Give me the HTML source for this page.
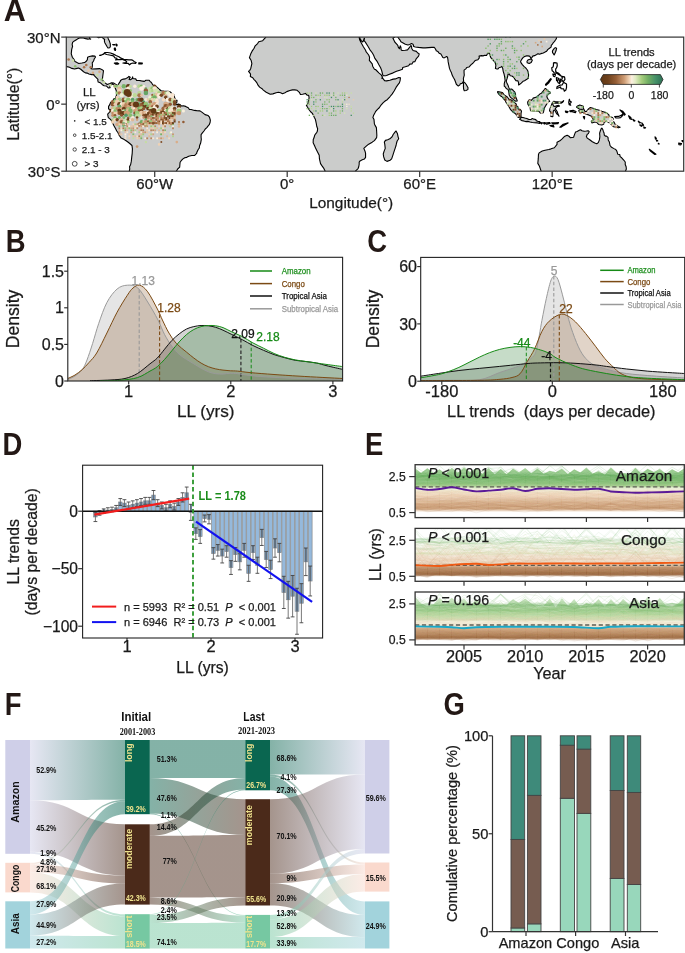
<!DOCTYPE html>
<html><head><meta charset="utf-8"><title>Figure</title>
<style>html,body{margin:0;padding:0;background:#fff;width:685px;height:953px;overflow:hidden}svg{display:block;will-change:transform}text{font-family:"Liberation Sans",sans-serif}</style>
</head><body>
<svg width="685" height="953" viewBox="0 0 685 953" font-family='"Liberation Sans", sans-serif'>
<rect width="685" height="953" fill="#fff"/>
<text transform="translate(3.67,21.00) scale(1.0,1)" x="0" y="0" font-size="30.5" font-weight="bold" fill="#231815">A</text>
<defs><clipPath id="mapclip"><rect x="66.3" y="37.1" width="617.4" height="134.1"/></clipPath></defs>
<g clip-path="url(#mapclip)">
<rect x="66.30" y="37.10" width="617.40" height="134.10" fill="#fff" stroke="none" stroke-width="1" />
<path d="M33.28,14.75 L107.47,14.75 L107.47,34.87 L107.69,37.10 L108.35,38.89 L109.24,40.68 L110.34,44.03 L110.34,46.49 L109.68,47.83 L108.13,48.05 L106.81,46.26 L106.14,44.92 L104.82,42.69 L104.38,41.12 L104.60,39.34 L103.49,38.66 L101.95,37.10 L100.84,37.10 L98.64,37.77 L96.21,36.21 L92.90,35.76 L90.03,36.43 L89.36,37.10 L89.80,38.66 L90.69,39.11 L89.36,38.66 L88.04,39.11 L85.61,38.66 L83.40,37.99 L80.09,37.77 L77.88,38.66 L76.78,39.56 L74.35,40.90 L72.58,42.46 L72.14,44.70 L72.58,46.26 L71.70,49.39 L71.26,53.86 L72.36,57.22 L74.13,59.67 L75.01,61.46 L77.00,62.58 L78.76,63.47 L81.86,63.03 L84.51,62.58 L86.27,61.24 L87.38,59.67 L87.60,57.22 L89.36,56.54 L92.45,55.87 L94.88,56.10 L95.55,56.99 L94.22,59.00 L93.56,61.01 L92.23,62.80 L92.45,65.04 L92.23,67.27 L90.91,68.61 L92.68,69.06 L96.21,68.84 L99.52,68.61 L101.73,69.51 L103.49,70.62 L103.05,73.98 L102.61,77.33 L102.39,79.57 L103.05,80.91 L105.04,82.92 L107.25,84.48 L109.90,83.59 L111.66,82.69 L113.87,83.14 L116.30,84.71 L117.63,85.60 L117.40,86.49 L118.95,83.36 L120.28,81.35 L120.50,80.46 L122.04,79.57 L123.37,79.12 L125.35,78.89 L127.78,77.55 L128.89,76.44 L130.21,77.33 L129.77,77.78 L129.11,79.57 L130.43,79.79 L132.20,78.45 L132.64,76.88 L132.86,78.45 L135.73,78.89 L136.61,80.46 L139.26,80.46 L141.47,80.91 L144.34,81.35 L145.89,80.24 L149.20,80.24 L150.30,81.80 L151.19,82.25 L152.95,84.93 L155.16,85.60 L157.81,87.83 L158.92,88.95 L161.12,90.74 L163.77,90.96 L167.97,91.19 L170.18,91.86 L172.38,93.87 L173.93,94.76 L174.59,97.45 L175.70,99.90 L177.02,100.35 L176.80,102.36 L175.48,103.70 L176.14,104.60 L179.01,104.15 L180.33,104.82 L181.22,105.94 L183.42,105.71 L185.63,106.39 L188.28,107.73 L189.39,109.51 L191.15,109.51 L194.46,110.41 L196.67,110.63 L199.98,110.86 L202.19,112.42 L205.06,114.65 L208.15,115.55 L209.48,117.11 L210.36,120.24 L210.14,122.25 L209.26,124.71 L208.15,125.83 L206.83,127.62 L205.28,128.96 L203.96,130.97 L202.19,133.21 L201.09,134.55 L201.09,137.23 L201.31,139.46 L200.65,143.04 L199.54,145.72 L199.32,147.96 L198.22,149.52 L196.89,152.20 L196.67,153.32 L194.46,155.56 L191.81,155.56 L188.72,156.23 L186.74,157.34 L184.75,157.79 L182.98,158.91 L181.22,160.70 L180.11,162.26 L179.89,164.50 L179.67,167.18 L177.68,168.97 L176.36,171.20 L175.03,173.44 L174.59,193.55 L128.22,193.55 L128.89,173.44 L129.33,171.20 L129.77,168.97 L129.55,166.73 L130.65,164.50 L131.32,161.14 L131.76,156.90 L132.20,153.32 L132.42,148.85 L131.98,145.50 L129.77,143.49 L127.56,141.70 L124.25,139.46 L121.16,138.12 L118.95,134.99 L118.07,132.76 L116.74,130.97 L115.64,128.74 L114.09,126.05 L112.55,122.70 L110.78,119.57 L108.35,117.56 L107.91,115.77 L107.69,114.21 L109.90,111.75 L110.56,109.74 L108.57,109.07 L108.57,106.39 L109.68,104.82 L110.34,103.03 L111.22,101.92 L112.99,100.80 L113.65,99.01 L115.42,98.12 L116.30,95.66 L116.52,94.09 L116.30,90.74 L115.20,88.06 L114.53,85.38 L112.33,84.04 L111.00,84.93 L109.68,85.82 L110.12,87.61 L108.57,88.06 L106.59,86.05 L104.16,85.82 L102.39,84.71 L100.18,82.69 L98.20,82.02 L97.75,80.24 L97.97,79.34 L96.21,77.55 L94.00,75.32 L93.78,74.42 L91.79,74.65 L88.92,73.98 L87.16,73.08 L85.39,72.86 L83.62,71.74 L80.75,69.28 L78.54,67.94 L77.00,68.39 L74.57,69.06 L71.92,68.39 L69.49,67.27 L67.06,66.60 L64.19,65.48 L55.36,59.45 L33.28,48.28 Z" fill="#cbcccb" stroke="#000" stroke-width="1.1" stroke-linejoin="round"/>
<path d="M265.12,14.75 L266.00,35.98 L265.56,37.55 L264.68,38.44 L262.69,40.68 L258.72,41.79 L257.61,43.58 L255.18,45.82 L254.08,48.28 L252.09,51.18 L250.77,53.86 L249.44,57.66 L251.21,60.57 L251.87,63.70 L250.77,68.39 L249.66,70.62 L248.56,71.30 L250.11,73.31 L250.55,74.20 L250.33,76.44 L252.76,77.78 L254.08,79.57 L255.18,80.68 L256.95,82.92 L258.05,85.15 L259.60,87.16 L262.03,88.73 L263.35,90.07 L266.22,92.30 L270.20,94.32 L272.85,93.87 L276.16,92.75 L278.37,92.30 L280.58,92.75 L282.56,93.65 L284.99,92.75 L286.76,91.63 L289.85,90.52 L292.50,89.85 L294.71,89.85 L297.14,90.29 L299.34,92.30 L300.45,94.54 L302.66,94.32 L305.53,93.42 L307.07,95.21 L308.62,95.21 L309.06,97.45 L308.84,99.90 L308.18,101.92 L307.96,103.26 L307.07,104.82 L306.41,105.49 L307.73,107.50 L309.28,109.96 L310.60,111.75 L312.15,113.09 L313.25,114.88 L314.36,117.56 L315.46,119.57 L316.35,123.82 L316.79,126.50 L317.67,128.74 L317.23,131.64 L316.79,132.31 L314.80,134.99 L313.92,138.12 L313.25,139.46 L313.14,142.82 L314.58,145.72 L315.90,148.85 L317.67,152.20 L319.22,155.33 L319.44,158.91 L320.54,163.60 L321.87,165.61 L323.63,168.07 L325.18,171.20 L325.40,173.44 L324.74,193.55 L355.65,193.55 L355.43,171.20 L356.75,169.86 L358.08,168.52 L358.74,166.73 L359.18,164.27 L359.18,162.04 L360.06,160.92 L362.27,159.80 L364.48,158.91 L365.58,157.34 L365.58,153.32 L365.14,151.53 L363.82,148.40 L366.25,146.17 L368.68,144.16 L372.21,142.15 L374.42,140.58 L376.62,137.68 L376.84,135.44 L376.62,130.97 L376.40,127.62 L375.08,125.38 L374.42,124.04 L373.97,119.35 L372.87,117.56 L373.53,115.55 L374.86,113.09 L375.74,111.30 L377.51,109.29 L379.27,107.73 L381.04,105.04 L383.25,102.59 L385.46,100.80 L387.22,99.68 L389.87,96.77 L392.08,94.09 L394.29,90.74 L396.05,87.39 L397.82,84.93 L399.37,82.92 L400.03,80.91 L400.47,77.78 L398.70,77.55 L395.39,78.89 L393.18,79.12 L389.87,80.24 L386.56,80.91 L384.57,80.68 L382.81,78.45 L381.70,78.22 L382.59,77.33 L381.48,75.54 L381.48,75.09 L378.83,72.86 L375.52,69.51 L374.42,69.28 L372.65,66.16 L372.21,63.92 L369.34,60.34 L369.56,57.22 L368.68,54.98 L366.03,51.63 L365.58,50.29 L363.38,46.71 L362.27,44.70 L361.17,42.69 L359.62,39.78 L359.18,37.32 L359.18,36.21 L359.62,36.21 L359.84,38.22 L361.39,40.90 L362.71,42.02 L363.38,40.90 L363.82,39.34 L364.26,38.22 L364.48,38.44 L364.04,40.68 L364.92,41.57 L365.80,42.91 L367.79,46.04 L370.00,49.84 L372.21,52.75 L373.53,54.98 L374.86,58.33 L377.29,61.69 L379.05,65.04 L380.60,67.72 L381.70,70.62 L382.59,74.42 L383.25,75.77 L385.46,75.77 L386.56,75.54 L388.77,74.42 L393.18,72.86 L396.50,71.30 L399.81,70.18 L402.46,69.28 L402.68,67.50 L405.33,66.83 L408.64,65.71 L409.74,64.14 L411.95,63.92 L413.06,61.91 L414.82,61.69 L416.37,58.56 L418.58,56.10 L419.24,53.86 L417.47,52.75 L416.37,51.40 L413.06,50.51 L411.73,48.50 L411.51,46.04 L410.85,45.59 L409.74,47.16 L407.54,49.84 L405.33,50.29 L402.02,50.51 L401.13,49.84 L400.91,47.16 L400.25,45.82 L399.37,48.72 L398.26,47.16 L397.82,45.37 L396.50,43.81 L394.95,42.24 L394.07,40.45 L392.96,38.22 L394.29,37.32 L395.17,36.21 L397.60,36.65 L398.92,38.66 L400.25,40.45 L400.91,41.79 L403.12,42.91 L405.33,44.25 L407.98,44.92 L409.74,44.48 L411.51,43.58 L413.06,44.25 L413.72,46.49 L415.26,46.93 L418.58,47.38 L422.99,47.83 L425.20,47.83 L428.51,47.60 L431.82,47.38 L434.25,47.38 L435.14,48.50 L435.80,49.62 L436.24,50.73 L437.79,51.40 L439.11,53.19 L440.88,54.09 L442.86,57.44 L444.19,57.89 L446.62,56.54 L447.50,57.22 L447.94,59.67 L448.16,61.91 L448.83,65.04 L449.49,68.39 L450.37,70.62 L451.48,72.86 L452.14,75.09 L453.24,77.33 L454.57,79.57 L455.45,81.80 L456.33,84.26 L458.32,86.05 L459.64,85.15 L460.31,83.81 L462.07,83.36 L463.62,81.13 L463.40,78.45 L464.28,75.09 L464.06,72.86 L464.06,70.18 L465.83,68.84 L466.71,67.50 L468.92,67.05 L471.13,64.59 L472.89,63.25 L475.10,60.57 L477.97,59.67 L479.30,57.89 L479.08,56.10 L481.50,55.65 L483.05,55.87 L484.82,55.20 L486.58,55.43 L487.24,54.09 L489.01,53.19 L489.89,54.31 L490.34,56.54 L491.00,57.89 L492.32,59.23 L493.65,60.79 L494.97,62.13 L495.41,63.47 L495.86,65.48 L495.41,68.39 L496.52,68.84 L497.84,69.06 L499.17,67.50 L500.71,67.27 L501.82,66.38 L502.70,68.17 L503.14,71.07 L504.03,73.98 L504.69,77.11 L505.13,80.46 L504.25,83.59 L504.25,86.27 L504.91,86.49 L506.23,88.51 L508.22,89.62 L508.88,92.53 L509.10,94.76 L510.21,97.00 L511.53,98.12 L513.74,99.90 L515.73,101.24 L517.27,101.02 L516.39,98.56 L515.51,96.33 L515.51,94.09 L514.84,92.08 L513.08,90.29 L511.53,88.95 L509.55,89.40 L508.66,87.16 L508.00,85.15 L506.90,82.92 L506.23,81.13 L507.12,78.45 L507.78,75.99 L508.00,74.20 L509.32,73.98 L510.21,75.77 L511.97,75.99 L513.74,77.33 L514.84,79.12 L515.95,80.68 L517.94,80.91 L518.60,82.92 L518.60,84.93 L519.48,84.48 L521.25,83.14 L523.01,81.35 L524.56,80.68 L526.77,79.34 L528.31,78.22 L528.53,76.21 L528.53,73.98 L527.87,71.07 L526.99,69.51 L525.66,67.94 L523.90,66.38 L522.35,64.59 L520.81,62.36 L520.59,61.24 L521.69,59.45 L523.01,57.66 L524.56,56.54 L526.55,55.87 L527.87,55.87 L529.42,56.10 L530.52,57.44 L530.96,58.78 L531.85,57.66 L532.73,56.10 L534.50,55.65 L536.70,54.53 L538.03,53.64 L539.35,54.31 L540.90,53.64 L543.33,52.97 L545.09,52.07 L546.64,51.18 L547.96,49.39 L549.51,48.28 L551.06,47.16 L551.28,45.37 L552.16,44.48 L553.26,42.69 L554.37,41.57 L555.47,40.01 L556.36,38.66 L556.58,37.10 L556.58,34.87 L556.58,14.75 Z" fill="#cbcccb" stroke="#000" stroke-width="1.1" stroke-linejoin="round"/>
<path d="M396.05,130.97 L397.38,133.43 L398.04,136.56 L398.70,138.79 L397.16,141.03 L396.50,143.26 L396.05,145.50 L394.95,148.85 L393.85,152.20 L392.74,155.56 L391.64,158.91 L390.09,160.25 L387.00,161.37 L384.79,160.03 L383.69,156.90 L383.25,153.99 L384.13,151.09 L385.24,148.40 L384.79,144.38 L384.35,142.15 L385.46,140.36 L387.66,139.69 L389.87,138.79 L392.08,136.78 L393.18,134.55 L394.95,132.09 Z" fill="#cbcccb" stroke="#000" stroke-width="1.1" stroke-linejoin="round"/>
<path d="M463.62,82.25 L464.50,82.25 L466.05,84.26 L466.93,85.82 L468.04,87.83 L467.81,89.62 L466.05,90.52 L464.28,90.74 L463.62,88.95 L463.40,86.27 Z" fill="#cbcccb" stroke="#000" stroke-width="1.1" stroke-linejoin="round"/>
<path d="M526.99,61.24 L528.31,59.67 L530.08,59.23 L531.63,59.23 L532.29,60.34 L531.18,62.58 L529.20,63.47 L527.21,62.80 Z" fill="#cbcccb" stroke="#000" stroke-width="1.1" stroke-linejoin="round"/>
<path d="M555.47,47.60 L556.58,48.28 L556.13,50.51 L555.25,52.75 L554.15,54.98 L553.48,53.86 L552.60,52.75 L552.38,50.96 L553.48,49.39 L554.37,48.28 Z" fill="#cbcccb" stroke="#000" stroke-width="1.1" stroke-linejoin="round"/>
<path d="M497.62,91.63 L498.95,91.86 L502.48,92.53 L504.25,94.99 L507.34,97.00 L509.10,99.46 L510.87,99.68 L513.08,101.24 L514.62,102.81 L516.39,104.15 L515.95,105.71 L517.72,106.39 L518.16,109.07 L520.36,109.51 L521.47,111.08 L521.03,113.54 L521.03,117.11 L519.70,117.11 L518.16,117.34 L516.83,115.55 L515.29,113.54 L513.08,112.20 L511.09,110.18 L509.99,108.62 L508.88,106.39 L507.34,104.15 L506.01,102.36 L505.13,100.35 L503.58,98.79 L502.04,96.77 L500.27,95.66 L498.95,94.32 L497.62,92.53 Z" fill="#cbcccb" stroke="#000" stroke-width="1.1" stroke-linejoin="round"/>
<path d="M519.48,119.35 L521.25,117.34 L523.01,117.56 L524.78,118.01 L526.77,118.45 L528.98,119.57 L531.18,119.35 L532.29,118.45 L533.61,119.12 L535.82,119.57 L536.26,120.69 L537.81,121.36 L539.80,121.58 L539.80,123.37 L537.37,122.92 L534.50,122.70 L532.29,122.48 L530.08,122.03 L527.87,121.36 L525.66,121.58 L523.46,120.91 L522.13,120.69 L520.14,119.57 Z" fill="#cbcccb" stroke="#000" stroke-width="1.1" stroke-linejoin="round"/>
<path d="M545.54,88.51 L546.64,89.62 L547.74,90.74 L549.73,91.86 L550.39,92.98 L548.63,94.09 L547.30,94.76 L546.86,96.77 L547.96,99.23 L549.73,101.24 L547.74,102.36 L546.64,104.15 L545.54,105.94 L544.65,107.50 L543.99,109.74 L543.55,111.97 L543.11,112.87 L540.46,113.09 L539.13,111.53 L536.70,111.08 L533.83,110.86 L532.29,110.86 L530.52,110.63 L530.08,107.73 L528.98,105.94 L527.87,104.15 L527.65,102.14 L528.76,100.35 L529.42,99.68 L531.18,100.35 L532.73,98.79 L533.17,98.12 L536.70,97.00 L538.69,95.21 L540.02,93.87 L541.78,92.98 L542.22,92.08 L543.55,90.74 L544.87,88.73 Z" fill="#cbcccb" stroke="#000" stroke-width="1.1" stroke-linejoin="round"/>
<path d="M563.64,100.57 L562.10,101.92 L559.89,102.14 L557.68,101.92 L555.47,101.69 L553.93,101.24 L552.60,102.36 L551.72,104.15 L551.06,106.16 L549.95,108.62 L549.51,110.86 L550.61,111.97 L551.28,114.21 L550.84,116.44 L552.82,116.67 L553.04,113.09 L553.48,110.63 L554.37,109.96 L555.47,111.53 L556.58,113.76 L558.12,114.88 L559.00,116.22 L557.68,113.09 L557.02,111.30 L555.25,108.84 L556.13,107.50 L557.68,106.39 L559.45,106.16 L558.78,105.27 L556.58,105.71 L555.03,106.39 L553.71,106.16 L552.82,104.60 L553.26,103.03 L554.37,103.14 L556.58,103.03 L558.78,103.26 L560.99,103.26 L562.32,102.59 L563.42,101.47 Z" fill="#cbcccb" stroke="#000" stroke-width="1.1" stroke-linejoin="round"/>
<path d="M576.45,107.06 L577.55,105.94 L579.76,105.04 L581.97,105.71 L583.29,106.16 L583.51,108.62 L585.06,111.53 L586.38,111.53 L588.15,109.29 L590.36,107.50 L593.01,108.17 L596.10,109.51 L598.53,109.96 L601.84,111.30 L604.05,111.97 L606.26,112.64 L608.91,114.88 L609.13,116.22 L612.44,117.56 L613.54,119.12 L611.78,119.57 L612.88,121.58 L613.98,122.03 L615.09,124.27 L616.85,125.38 L618.40,126.50 L620.17,127.17 L618.40,127.84 L616.19,127.17 L613.54,126.72 L611.78,125.16 L610.01,123.15 L606.26,121.14 L604.05,122.48 L603.61,124.27 L601.84,124.94 L598.53,124.49 L596.54,122.25 L594.11,122.25 L591.90,122.92 L591.24,121.14 L593.45,119.80 L593.01,118.68 L591.46,116.22 L588.59,114.88 L585.72,113.98 L583.51,112.87 L581.97,111.97 L580.42,113.09 L578.66,110.63 L580.20,109.96 L582.63,109.29 L579.32,109.07 L577.11,107.50 Z" fill="#cbcccb" stroke="#000" stroke-width="1.1" stroke-linejoin="round"/>
<path d="M541.12,193.55 L541.12,171.20 L540.24,168.52 L539.35,166.06 L537.81,163.38 L538.25,158.91 L538.47,154.44 L539.13,152.87 L542.22,151.09 L545.09,150.19 L548.85,149.52 L551.06,148.85 L554.37,147.73 L557.02,144.38 L557.02,142.15 L559.89,140.80 L562.10,138.79 L564.30,136.56 L567.17,135.22 L569.38,136.56 L570.27,137.68 L572.03,137.45 L573.58,137.23 L574.68,134.10 L575.56,132.09 L577.11,131.42 L579.76,130.08 L580.86,129.85 L581.97,130.75 L584.18,131.19 L586.38,130.97 L588.15,130.75 L589.25,131.64 L588.37,133.65 L587.27,134.32 L586.38,136.56 L587.27,138.12 L589.70,139.69 L592.35,141.70 L594.77,143.04 L596.76,143.71 L598.31,142.59 L599.41,139.91 L599.85,136.56 L599.63,133.21 L600.29,130.97 L601.18,128.74 L601.84,128.06 L602.72,129.41 L603.39,131.42 L604.05,132.98 L604.27,134.99 L605.37,136.11 L606.48,136.11 L608.02,137.45 L608.24,139.91 L609.35,141.92 L610.01,145.50 L611.56,147.29 L613.98,148.63 L615.75,149.52 L616.85,151.09 L617.74,154.21 L619.72,154.44 L620.17,156.67 L621.71,157.79 L623.70,160.03 L625.24,162.04 L625.24,164.50 L626.13,166.73 L626.35,168.97 L625.47,171.20 L625.02,173.44 L625.02,193.55 Z" fill="#cbcccb" stroke="#000" stroke-width="1.1" stroke-linejoin="round"/>
<path d="M99.63,55.32 L101.07,54.98 L103.05,54.53 L105.04,52.52 L107.47,52.52 L110.56,52.97 L113.43,54.09 L116.08,55.43 L119.39,56.99 L120.28,57.89 L123.37,59.00 L122.48,59.45 L120.28,59.67 L116.96,59.67 L115.64,59.90 L116.96,58.33 L114.98,57.89 L113.43,55.87 L109.46,54.98 L106.59,54.53 L104.60,53.42 L102.39,54.53 L100.62,55.43 Z" fill="#fff" stroke="#000" stroke-width="1.2" stroke-linejoin="round"/>
<path d="M122.92,59.67 L125.13,59.67 L126.46,59.67 L128.89,59.90 L131.54,59.90 L132.86,60.34 L134.41,61.69 L136.17,62.58 L135.51,63.47 L132.86,63.03 L131.09,63.47 L129.55,64.81 L128.22,63.47 L125.13,63.47 L122.92,63.03 L126.02,62.58 L126.68,61.69 L125.13,60.34 Z" fill="#fff" stroke="#000" stroke-width="1.2" stroke-linejoin="round"/>
<path d="M114.31,63.03 L117.18,62.80 L118.73,63.70 L117.63,64.14 L115.64,64.14 Z" fill="#fff" stroke="#000" stroke-width="1.2" stroke-linejoin="round"/>
<path d="M138.82,62.80 L142.36,63.03 L142.13,63.92 L138.82,63.92 Z" fill="#fff" stroke="#000" stroke-width="1.2" stroke-linejoin="round"/>
<path d="M114.98,47.83 L115.64,49.17 L115.42,50.51 L114.53,50.06 L114.31,48.50 Z" fill="#fff" stroke="#000" stroke-width="1.2" stroke-linejoin="round"/>
<path d="M112.77,44.48 L114.98,44.48 L115.20,44.92 L113.21,44.92 Z" fill="#fff" stroke="#000" stroke-width="1.2" stroke-linejoin="round"/>
<path d="M116.08,44.03 L117.18,44.92 L116.74,46.04 L116.30,45.15 Z" fill="#fff" stroke="#000" stroke-width="1.2" stroke-linejoin="round"/>
<path d="M553.48,62.80 L554.81,62.58 L557.02,63.03 L557.24,65.71 L556.58,67.94 L555.69,68.84 L555.69,71.52 L557.02,72.64 L558.78,73.31 L560.99,75.99 L559.45,75.09 L557.90,73.98 L556.13,73.08 L554.15,73.08 L553.48,71.74 L552.16,70.85 L551.72,67.72 L553.04,67.05 L553.48,65.04 Z" fill="#fff" stroke="#000" stroke-width="1.2" stroke-linejoin="round"/>
<path d="M552.82,73.98 L555.47,74.65 L554.81,76.66 L553.48,76.21 Z" fill="#fff" stroke="#000" stroke-width="1.2" stroke-linejoin="round"/>
<path d="M556.36,77.55 L559.00,78.45 L557.68,80.46 L556.58,80.68 Z" fill="#fff" stroke="#000" stroke-width="1.2" stroke-linejoin="round"/>
<path d="M557.90,79.79 L559.89,80.01 L559.45,83.36 L558.34,82.92 L557.46,81.35 Z" fill="#fff" stroke="#000" stroke-width="1.2" stroke-linejoin="round"/>
<path d="M560.55,79.12 L561.21,81.13 L559.89,82.69 L559.67,80.91 Z" fill="#fff" stroke="#000" stroke-width="1.2" stroke-linejoin="round"/>
<path d="M561.65,76.21 L564.52,76.88 L564.97,79.34 L563.20,81.80 L561.65,79.57 L562.32,78.22 Z" fill="#fff" stroke="#000" stroke-width="1.2" stroke-linejoin="round"/>
<path d="M563.86,82.47 L566.51,84.04 L566.51,87.61 L565.85,90.07 L564.30,91.19 L563.64,88.95 L560.99,88.73 L560.55,86.94 L556.80,88.51 L557.02,86.72 L560.11,85.15 L562.10,84.93 L563.20,82.92 Z" fill="#fff" stroke="#000" stroke-width="1.2" stroke-linejoin="round"/>
<path d="M545.98,85.38 L548.85,82.69 L551.28,79.12 L550.61,78.67 L548.19,81.58 L545.54,84.48 Z" fill="#fff" stroke="#000" stroke-width="1.2" stroke-linejoin="round"/>
<path d="M569.38,99.23 L569.82,101.02 L571.37,101.92 L570.49,103.03 L569.60,103.48 L570.71,105.27 L569.16,104.60 L568.72,102.36 Z" fill="#fff" stroke="#000" stroke-width="1.2" stroke-linejoin="round"/>
<path d="M569.82,110.86 L573.14,110.41 L576.01,111.53 L575.34,112.64 L572.03,111.75 L570.27,111.75 Z" fill="#fff" stroke="#000" stroke-width="1.2" stroke-linejoin="round"/>
<path d="M565.41,111.08 L568.06,111.53 L567.17,112.64 L565.63,112.20 Z" fill="#fff" stroke="#000" stroke-width="1.2" stroke-linejoin="round"/>
<path d="M540.02,122.48 L542.44,122.92 L541.56,123.82 Z" fill="#fff" stroke="#000" stroke-width="1.2" stroke-linejoin="round"/>
<path d="M543.33,122.92 L544.87,122.70 L544.43,124.04 Z" fill="#fff" stroke="#000" stroke-width="1.2" stroke-linejoin="round"/>
<path d="M545.09,123.15 L549.51,122.48 L550.17,123.37 L546.64,124.27 Z" fill="#fff" stroke="#000" stroke-width="1.2" stroke-linejoin="round"/>
<path d="M551.72,122.92 L555.47,122.92 L558.56,122.48 L557.90,123.59 L553.26,123.82 Z" fill="#fff" stroke="#000" stroke-width="1.2" stroke-linejoin="round"/>
<path d="M549.95,125.61 L553.26,125.16 L553.93,126.95 L551.06,126.28 Z" fill="#fff" stroke="#000" stroke-width="1.2" stroke-linejoin="round"/>
<path d="M559.89,127.17 L563.20,124.27 L568.06,122.92 L563.42,125.61 L560.99,127.17 Z" fill="#fff" stroke="#000" stroke-width="1.2" stroke-linejoin="round"/>
<path d="M583.29,116.67 L584.62,116.67 L584.40,118.90 Z" fill="#fff" stroke="#000" stroke-width="1.2" stroke-linejoin="round"/>
<path d="M614.65,116.67 L618.40,116.44 L621.71,115.10 L623.26,113.54 L622.82,115.33 L620.61,117.56 L618.40,118.01 L615.75,117.78 Z" fill="#fff" stroke="#000" stroke-width="1.2" stroke-linejoin="round"/>
<path d="M619.95,109.96 L622.82,111.30 L625.24,114.43 L624.58,115.10 L621.93,112.20 Z" fill="#fff" stroke="#000" stroke-width="1.2" stroke-linejoin="round"/>
<path d="M628.56,115.77 L630.76,117.56 L631.43,119.35 L629.88,118.68 Z" fill="#fff" stroke="#000" stroke-width="1.2" stroke-linejoin="round"/>
<path d="M632.75,119.35 L634.96,120.69 L634.08,121.14 Z" fill="#fff" stroke="#000" stroke-width="1.2" stroke-linejoin="round"/>
<path d="M638.27,121.14 L640.48,122.70 L639.38,122.92 Z" fill="#fff" stroke="#000" stroke-width="1.2" stroke-linejoin="round"/>
<path d="M639.82,124.94 L642.25,125.61 L641.36,126.28 Z" fill="#fff" stroke="#000" stroke-width="1.2" stroke-linejoin="round"/>
<path d="M641.80,122.92 L643.57,125.16 L642.91,125.61 Z" fill="#fff" stroke="#000" stroke-width="1.2" stroke-linejoin="round"/>
<path d="M643.79,126.95 L645.56,127.84 L644.01,128.06 Z" fill="#fff" stroke="#000" stroke-width="1.2" stroke-linejoin="round"/>
<path d="M655.05,136.78 L656.38,138.35 L655.49,139.02 Z" fill="#fff" stroke="#000" stroke-width="1.2" stroke-linejoin="round"/>
<path d="M656.38,139.91 L657.70,140.80 L656.60,141.03 Z" fill="#fff" stroke="#000" stroke-width="1.2" stroke-linejoin="round"/>
<path d="M658.36,143.26 L659.25,143.93 L658.36,143.93 Z" fill="#fff" stroke="#000" stroke-width="1.2" stroke-linejoin="round"/>
<path d="M649.31,149.30 L652.62,151.76 L655.94,154.21 L654.83,154.44 L650.42,151.09 Z" fill="#fff" stroke="#000" stroke-width="1.2" stroke-linejoin="round"/>
<path d="M678.68,143.04 L681.55,143.49 L680.89,144.83 L678.90,144.60 Z" fill="#fff" stroke="#000" stroke-width="1.2" stroke-linejoin="round"/>
<path d="M681.99,140.58 L684.64,140.58 L684.64,141.70 L682.43,141.70 Z" fill="#fff" stroke="#000" stroke-width="1.2" stroke-linejoin="round"/>
<circle cx="115.0" cy="86.3" r="1.8" fill="#e2bc9b"/>
<circle cx="117.2" cy="86.3" r="1.3" fill="#88bc6f"/>
<circle cx="119.4" cy="86.3" r="1.7" fill="#c6dea4"/>
<circle cx="123.8" cy="86.3" r="2.2" fill="#78b267"/>
<circle cx="128.2" cy="86.3" r="2.2" fill="#633a16"/>
<circle cx="130.4" cy="86.3" r="1.6" fill="#c2db9f"/>
<circle cx="134.8" cy="86.3" r="1.7" fill="#fbeedd"/>
<circle cx="139.3" cy="86.3" r="2.0" fill="#b4d48e"/>
<circle cx="141.5" cy="86.3" r="1.8" fill="#7eb669"/>
<circle cx="143.7" cy="86.3" r="1.5" fill="#faf0df"/>
<circle cx="154.7" cy="86.3" r="1.7" fill="#663b18"/>
<circle cx="119.4" cy="88.5" r="2.0" fill="#e1ba97"/>
<circle cx="128.2" cy="88.5" r="1.9" fill="#f9e9d7"/>
<circle cx="141.5" cy="88.5" r="2.3" fill="#fbeede"/>
<circle cx="145.9" cy="88.5" r="1.3" fill="#73af64"/>
<circle cx="150.3" cy="88.5" r="2.1" fill="#cbe0aa"/>
<circle cx="152.5" cy="88.5" r="2.2" fill="#98c577"/>
<circle cx="154.7" cy="88.5" r="2.2" fill="#f8e5d1"/>
<circle cx="119.4" cy="90.7" r="2.2" fill="#f1d4b7"/>
<circle cx="123.8" cy="90.7" r="1.5" fill="#afd289"/>
<circle cx="130.4" cy="90.7" r="1.7" fill="#94c375"/>
<circle cx="145.9" cy="90.7" r="2.2" fill="#925c35"/>
<circle cx="150.3" cy="90.7" r="1.9" fill="#c4dda1"/>
<circle cx="152.5" cy="90.7" r="1.5" fill="#b3d48e"/>
<circle cx="154.7" cy="90.7" r="1.5" fill="#d5e5b5"/>
<circle cx="156.9" cy="90.7" r="2.2" fill="#d1e3b0"/>
<circle cx="117.2" cy="93.0" r="1.7" fill="#9ec97a"/>
<circle cx="119.4" cy="93.0" r="1.8" fill="#aa754d"/>
<circle cx="123.8" cy="93.0" r="1.6" fill="#9fc97a"/>
<circle cx="128.2" cy="93.0" r="1.8" fill="#569c67"/>
<circle cx="130.4" cy="93.0" r="1.8" fill="#e0b996"/>
<circle cx="139.3" cy="93.0" r="2.1" fill="#bad795"/>
<circle cx="145.9" cy="93.0" r="2.3" fill="#64a566"/>
<circle cx="156.9" cy="93.0" r="1.3" fill="#f1d4b7"/>
<circle cx="159.1" cy="93.0" r="2.0" fill="#abd084"/>
<circle cx="163.6" cy="93.0" r="2.3" fill="#aa754d"/>
<circle cx="165.8" cy="93.0" r="1.5" fill="#b0d38a"/>
<circle cx="168.0" cy="93.0" r="2.1" fill="#efeed3"/>
<circle cx="121.6" cy="95.2" r="2.1" fill="#efeed2"/>
<circle cx="128.2" cy="95.2" r="2.1" fill="#f0d2b4"/>
<circle cx="132.6" cy="95.2" r="2.0" fill="#ededd0"/>
<circle cx="134.8" cy="95.2" r="2.2" fill="#bdd998"/>
<circle cx="139.3" cy="95.2" r="2.0" fill="#a9744c"/>
<circle cx="141.5" cy="95.2" r="1.3" fill="#e5c1a0"/>
<circle cx="152.5" cy="95.2" r="1.5" fill="#976038"/>
<circle cx="154.7" cy="95.2" r="1.9" fill="#aed288"/>
<circle cx="156.9" cy="95.2" r="2.2" fill="#e5c1a0"/>
<circle cx="159.1" cy="95.2" r="2.2" fill="#f9e9d6"/>
<circle cx="161.3" cy="95.2" r="1.8" fill="#7a4a24"/>
<circle cx="165.8" cy="95.2" r="1.3" fill="#e8c6a5"/>
<circle cx="170.2" cy="95.2" r="1.9" fill="#f9efdd"/>
<circle cx="172.4" cy="95.2" r="2.1" fill="#f8e6d2"/>
<circle cx="117.2" cy="97.4" r="1.6" fill="#eccbac"/>
<circle cx="130.4" cy="97.4" r="1.8" fill="#f6e1cb"/>
<circle cx="150.3" cy="97.4" r="2.1" fill="#ededd0"/>
<circle cx="152.5" cy="97.4" r="1.4" fill="#91c173"/>
<circle cx="154.7" cy="97.4" r="2.1" fill="#73af64"/>
<circle cx="159.1" cy="97.4" r="1.4" fill="#fcefe0"/>
<circle cx="165.8" cy="97.4" r="1.8" fill="#72441e"/>
<circle cx="172.4" cy="97.4" r="1.6" fill="#f7e2cd"/>
<circle cx="115.0" cy="99.7" r="1.3" fill="#6dab65"/>
<circle cx="119.4" cy="99.7" r="1.9" fill="#a0ca7b"/>
<circle cx="123.8" cy="99.7" r="2.3" fill="#935d35"/>
<circle cx="126.0" cy="99.7" r="2.1" fill="#cfe2ae"/>
<circle cx="128.2" cy="99.7" r="2.2" fill="#94c374"/>
<circle cx="132.6" cy="99.7" r="1.9" fill="#599e67"/>
<circle cx="137.1" cy="99.7" r="1.7" fill="#71ae64"/>
<circle cx="139.3" cy="99.7" r="2.1" fill="#86532c"/>
<circle cx="141.5" cy="99.7" r="2.2" fill="#643a17"/>
<circle cx="145.9" cy="99.7" r="1.6" fill="#eeedd1"/>
<circle cx="148.1" cy="99.7" r="1.4" fill="#ebcaab"/>
<circle cx="150.3" cy="99.7" r="1.6" fill="#b4d58f"/>
<circle cx="152.5" cy="99.7" r="1.8" fill="#eeceb0"/>
<circle cx="154.7" cy="99.7" r="1.6" fill="#d2e4b2"/>
<circle cx="156.9" cy="99.7" r="1.5" fill="#f8e6d1"/>
<circle cx="163.6" cy="99.7" r="1.8" fill="#f4dbc1"/>
<circle cx="168.0" cy="99.7" r="2.3" fill="#fbf0e0"/>
<circle cx="170.2" cy="99.7" r="1.9" fill="#8c5830"/>
<circle cx="172.4" cy="99.7" r="1.4" fill="#cce1ab"/>
<circle cx="174.6" cy="99.7" r="1.5" fill="#ecccac"/>
<circle cx="112.8" cy="101.9" r="2.0" fill="#9c653d"/>
<circle cx="115.0" cy="101.9" r="1.8" fill="#a6cd7e"/>
<circle cx="117.2" cy="101.9" r="2.3" fill="#ecccad"/>
<circle cx="123.8" cy="101.9" r="1.7" fill="#6c401b"/>
<circle cx="126.0" cy="101.9" r="1.8" fill="#8dbf71"/>
<circle cx="128.2" cy="101.9" r="1.6" fill="#dfb794"/>
<circle cx="130.4" cy="101.9" r="1.3" fill="#cee2ad"/>
<circle cx="132.6" cy="101.9" r="1.8" fill="#7eb669"/>
<circle cx="143.7" cy="101.9" r="1.4" fill="#539a68"/>
<circle cx="150.3" cy="101.9" r="1.9" fill="#9e6840"/>
<circle cx="156.9" cy="101.9" r="2.1" fill="#f6e1cb"/>
<circle cx="172.4" cy="101.9" r="1.7" fill="#bfda9c"/>
<circle cx="174.6" cy="101.9" r="1.9" fill="#7f4e28"/>
<circle cx="112.8" cy="104.2" r="2.2" fill="#8e5931"/>
<circle cx="115.0" cy="104.2" r="1.5" fill="#ecccad"/>
<circle cx="119.4" cy="104.2" r="2.2" fill="#683d19"/>
<circle cx="121.6" cy="104.2" r="1.9" fill="#f5efd9"/>
<circle cx="123.8" cy="104.2" r="2.2" fill="#efd0b1"/>
<circle cx="126.0" cy="104.2" r="1.6" fill="#ba865e"/>
<circle cx="128.2" cy="104.2" r="2.0" fill="#cd9c74"/>
<circle cx="130.4" cy="104.2" r="2.1" fill="#683d19"/>
<circle cx="132.6" cy="104.2" r="2.0" fill="#cc9a72"/>
<circle cx="134.8" cy="104.2" r="2.4" fill="#be8a62"/>
<circle cx="137.1" cy="104.2" r="1.4" fill="#69a965"/>
<circle cx="139.3" cy="104.2" r="1.9" fill="#67a765"/>
<circle cx="141.5" cy="104.2" r="1.6" fill="#9c663e"/>
<circle cx="143.7" cy="104.2" r="2.4" fill="#764722"/>
<circle cx="145.9" cy="104.2" r="2.4" fill="#95c375"/>
<circle cx="150.3" cy="104.2" r="1.4" fill="#98c576"/>
<circle cx="152.5" cy="104.2" r="1.7" fill="#dab08b"/>
<circle cx="154.7" cy="104.2" r="2.3" fill="#ce9d76"/>
<circle cx="156.9" cy="104.2" r="1.5" fill="#f8e7d3"/>
<circle cx="165.8" cy="104.2" r="2.5" fill="#d5a882"/>
<circle cx="168.0" cy="104.2" r="1.7" fill="#d8ad88"/>
<circle cx="170.2" cy="104.2" r="1.7" fill="#915b34"/>
<circle cx="174.6" cy="104.2" r="1.6" fill="#754621"/>
<circle cx="119.4" cy="106.4" r="2.0" fill="#69a865"/>
<circle cx="123.8" cy="106.4" r="2.2" fill="#dab08c"/>
<circle cx="126.0" cy="106.4" r="2.4" fill="#b8845c"/>
<circle cx="128.2" cy="106.4" r="1.7" fill="#d1a17a"/>
<circle cx="134.8" cy="106.4" r="2.0" fill="#cd9b73"/>
<circle cx="137.1" cy="106.4" r="1.6" fill="#653b17"/>
<circle cx="141.5" cy="106.4" r="2.5" fill="#986139"/>
<circle cx="143.7" cy="106.4" r="1.5" fill="#663b18"/>
<circle cx="145.9" cy="106.4" r="1.7" fill="#673d18"/>
<circle cx="148.1" cy="106.4" r="1.9" fill="#7bb468"/>
<circle cx="150.3" cy="106.4" r="1.8" fill="#d4a67f"/>
<circle cx="152.5" cy="106.4" r="1.5" fill="#9f6941"/>
<circle cx="154.7" cy="106.4" r="1.6" fill="#faead9"/>
<circle cx="156.9" cy="106.4" r="1.9" fill="#6d401b"/>
<circle cx="165.8" cy="106.4" r="2.4" fill="#86532c"/>
<circle cx="168.0" cy="106.4" r="1.8" fill="#b47f57"/>
<circle cx="179.0" cy="106.4" r="2.0" fill="#643b17"/>
<circle cx="112.8" cy="108.6" r="2.0" fill="#dbb18d"/>
<circle cx="115.0" cy="108.6" r="2.4" fill="#b6d691"/>
<circle cx="117.2" cy="108.6" r="1.7" fill="#be8b63"/>
<circle cx="119.4" cy="108.6" r="1.5" fill="#bd8a62"/>
<circle cx="121.6" cy="108.6" r="1.6" fill="#d5a781"/>
<circle cx="123.8" cy="108.6" r="1.9" fill="#6a3e1a"/>
<circle cx="128.2" cy="108.6" r="1.7" fill="#99c677"/>
<circle cx="130.4" cy="108.6" r="1.7" fill="#7fb66a"/>
<circle cx="132.6" cy="108.6" r="1.9" fill="#eeceb0"/>
<circle cx="134.8" cy="108.6" r="1.6" fill="#faf0de"/>
<circle cx="137.1" cy="108.6" r="2.2" fill="#d8ac87"/>
<circle cx="139.3" cy="108.6" r="2.0" fill="#7cb468"/>
<circle cx="141.5" cy="108.6" r="2.3" fill="#acd085"/>
<circle cx="143.7" cy="108.6" r="1.7" fill="#8b562f"/>
<circle cx="148.1" cy="108.6" r="1.9" fill="#673c18"/>
<circle cx="150.3" cy="108.6" r="1.8" fill="#c2db9e"/>
<circle cx="152.5" cy="108.6" r="1.5" fill="#c2dc9f"/>
<circle cx="154.7" cy="108.6" r="2.4" fill="#fcf0e1"/>
<circle cx="163.6" cy="108.6" r="2.2" fill="#9b653d"/>
<circle cx="165.8" cy="108.6" r="1.8" fill="#d4a680"/>
<circle cx="168.0" cy="108.6" r="1.7" fill="#5f3714"/>
<circle cx="170.2" cy="108.6" r="2.5" fill="#c5dda2"/>
<circle cx="172.4" cy="108.6" r="2.3" fill="#f7e4cf"/>
<circle cx="174.6" cy="108.6" r="1.8" fill="#72441f"/>
<circle cx="179.0" cy="108.6" r="1.4" fill="#fcf0e0"/>
<circle cx="110.6" cy="110.9" r="1.4" fill="#6d401c"/>
<circle cx="112.8" cy="110.9" r="1.8" fill="#fcf0e1"/>
<circle cx="115.0" cy="110.9" r="1.7" fill="#89bc6f"/>
<circle cx="119.4" cy="110.9" r="2.2" fill="#5f3714"/>
<circle cx="123.8" cy="110.9" r="1.7" fill="#d2e3b1"/>
<circle cx="126.0" cy="110.9" r="1.8" fill="#68a865"/>
<circle cx="128.2" cy="110.9" r="2.4" fill="#deb692"/>
<circle cx="130.4" cy="110.9" r="2.3" fill="#7cb468"/>
<circle cx="134.8" cy="110.9" r="1.8" fill="#cf9e76"/>
<circle cx="139.3" cy="110.9" r="1.7" fill="#8a562f"/>
<circle cx="141.5" cy="110.9" r="1.8" fill="#794923"/>
<circle cx="150.3" cy="110.9" r="1.9" fill="#623916"/>
<circle cx="154.7" cy="110.9" r="2.1" fill="#6e411c"/>
<circle cx="156.9" cy="110.9" r="2.1" fill="#f9e8d5"/>
<circle cx="159.1" cy="110.9" r="2.0" fill="#aed288"/>
<circle cx="161.3" cy="110.9" r="1.7" fill="#c4926a"/>
<circle cx="163.6" cy="110.9" r="2.0" fill="#955e36"/>
<circle cx="165.8" cy="110.9" r="2.0" fill="#f4eed8"/>
<circle cx="168.0" cy="110.9" r="2.5" fill="#85ba6d"/>
<circle cx="170.2" cy="110.9" r="2.3" fill="#f7e4cf"/>
<circle cx="174.6" cy="110.9" r="1.6" fill="#be8a62"/>
<circle cx="179.0" cy="110.9" r="2.4" fill="#a4cc7d"/>
<circle cx="183.4" cy="110.9" r="1.6" fill="#f8efdc"/>
<circle cx="112.8" cy="113.1" r="1.6" fill="#c08c64"/>
<circle cx="115.0" cy="113.1" r="1.6" fill="#eccbac"/>
<circle cx="117.2" cy="113.1" r="1.6" fill="#eecfb0"/>
<circle cx="119.4" cy="113.1" r="2.0" fill="#8e5931"/>
<circle cx="121.6" cy="113.1" r="2.0" fill="#6d401b"/>
<circle cx="123.8" cy="113.1" r="2.2" fill="#653b17"/>
<circle cx="126.0" cy="113.1" r="2.4" fill="#ce9c74"/>
<circle cx="128.2" cy="113.1" r="1.9" fill="#d2a37c"/>
<circle cx="134.8" cy="113.1" r="1.6" fill="#88542d"/>
<circle cx="137.1" cy="113.1" r="2.3" fill="#9ec97a"/>
<circle cx="139.3" cy="113.1" r="1.6" fill="#9ac778"/>
<circle cx="141.5" cy="113.1" r="2.4" fill="#ebcaaa"/>
<circle cx="143.7" cy="113.1" r="2.0" fill="#d3a57f"/>
<circle cx="145.9" cy="113.1" r="2.4" fill="#e0b997"/>
<circle cx="148.1" cy="113.1" r="2.5" fill="#f6e2cc"/>
<circle cx="150.3" cy="113.1" r="2.5" fill="#9c653d"/>
<circle cx="152.5" cy="113.1" r="1.8" fill="#9a633b"/>
<circle cx="156.9" cy="113.1" r="2.3" fill="#c0da9c"/>
<circle cx="159.1" cy="113.1" r="2.3" fill="#f9e8d5"/>
<circle cx="161.3" cy="113.1" r="2.0" fill="#6d401b"/>
<circle cx="163.6" cy="113.1" r="2.2" fill="#683d19"/>
<circle cx="168.0" cy="113.1" r="1.4" fill="#f3dbc1"/>
<circle cx="172.4" cy="113.1" r="2.1" fill="#e3bd9c"/>
<circle cx="174.6" cy="113.1" r="1.9" fill="#e6c2a1"/>
<circle cx="176.8" cy="113.1" r="1.4" fill="#d9ae89"/>
<circle cx="179.0" cy="113.1" r="2.2" fill="#c8956d"/>
<circle cx="112.8" cy="115.3" r="1.6" fill="#c6936b"/>
<circle cx="115.0" cy="115.3" r="1.3" fill="#8f5a32"/>
<circle cx="121.6" cy="115.3" r="1.5" fill="#87542d"/>
<circle cx="126.0" cy="115.3" r="1.8" fill="#529968"/>
<circle cx="130.4" cy="115.3" r="2.0" fill="#8bbd70"/>
<circle cx="134.8" cy="115.3" r="1.3" fill="#589d67"/>
<circle cx="137.1" cy="115.3" r="1.9" fill="#bbd897"/>
<circle cx="139.3" cy="115.3" r="1.6" fill="#bed99a"/>
<circle cx="143.7" cy="115.3" r="1.5" fill="#87542d"/>
<circle cx="145.9" cy="115.3" r="1.9" fill="#72441f"/>
<circle cx="115.0" cy="117.6" r="1.7" fill="#82b86c"/>
<circle cx="119.4" cy="117.6" r="1.5" fill="#78b266"/>
<circle cx="123.8" cy="117.6" r="1.5" fill="#7fb66a"/>
<circle cx="128.2" cy="117.6" r="1.2" fill="#965f37"/>
<circle cx="132.6" cy="117.6" r="1.7" fill="#f8e7d3"/>
<circle cx="137.1" cy="117.6" r="1.3" fill="#6c401b"/>
<circle cx="141.5" cy="117.6" r="1.3" fill="#f5dec5"/>
<circle cx="143.7" cy="117.6" r="1.2" fill="#c28f67"/>
<circle cx="145.9" cy="117.6" r="1.4" fill="#7e4d27"/>
<circle cx="112.8" cy="119.8" r="1.3" fill="#aed187"/>
<circle cx="115.0" cy="119.8" r="1.8" fill="#f4dbc1"/>
<circle cx="117.2" cy="119.8" r="1.7" fill="#6c401b"/>
<circle cx="121.6" cy="119.8" r="1.9" fill="#dbb18d"/>
<circle cx="126.0" cy="119.8" r="1.6" fill="#cee1ad"/>
<circle cx="128.2" cy="119.8" r="1.8" fill="#6d401b"/>
<circle cx="130.4" cy="119.8" r="1.3" fill="#f7e2cc"/>
<circle cx="132.6" cy="119.8" r="1.7" fill="#dfb794"/>
<circle cx="137.1" cy="119.8" r="1.2" fill="#d2a37d"/>
<circle cx="145.9" cy="119.8" r="1.6" fill="#6baa65"/>
<circle cx="112.8" cy="122.0" r="1.8" fill="#eecfb0"/>
<circle cx="119.4" cy="122.0" r="1.8" fill="#dbb08c"/>
<circle cx="121.6" cy="122.0" r="2.0" fill="#8f5a33"/>
<circle cx="123.8" cy="122.0" r="1.4" fill="#d3e4b2"/>
<circle cx="126.0" cy="122.0" r="1.8" fill="#f7e3cd"/>
<circle cx="128.2" cy="122.0" r="1.4" fill="#a1ca7b"/>
<circle cx="141.5" cy="122.0" r="1.9" fill="#70ad64"/>
<circle cx="143.7" cy="122.0" r="1.4" fill="#e3bd9c"/>
<circle cx="145.9" cy="122.0" r="1.9" fill="#c5926a"/>
<circle cx="179.0" cy="122.0" r="1.1" fill="#a57048"/>
<circle cx="183.4" cy="122.0" r="1.3" fill="#925c35"/>
<circle cx="117.2" cy="124.3" r="1.9" fill="#d6a984"/>
<circle cx="123.8" cy="124.3" r="2.0" fill="#5a9e67"/>
<circle cx="126.0" cy="124.3" r="1.2" fill="#6f421c"/>
<circle cx="139.3" cy="124.3" r="1.8" fill="#6e411c"/>
<circle cx="141.5" cy="124.3" r="1.2" fill="#daaf8b"/>
<circle cx="143.7" cy="124.3" r="1.5" fill="#945d36"/>
<circle cx="145.9" cy="124.3" r="1.9" fill="#89bc6f"/>
<circle cx="179.0" cy="124.3" r="1.3" fill="#dbb08c"/>
<circle cx="170.2" cy="126.5" r="1.0" fill="#b9d795"/>
<circle cx="179.0" cy="126.5" r="1.3" fill="#deb693"/>
<circle cx="170.2" cy="133.2" r="1.1" fill="#d1e3b0"/>
<circle cx="145.9" cy="142.1" r="1.2" fill="#c5dda2"/>
<circle cx="161.3" cy="142.1" r="1.0" fill="#804e28"/>
<circle cx="176.8" cy="142.1" r="1.3" fill="#d9ad89"/>
<circle cx="159.1" cy="144.4" r="1.3" fill="#f0d2b4"/>
<circle cx="137.1" cy="146.6" r="1.3" fill="#ca9870"/>
<rect x="118.5" y="123.4" width="1.8" height="1.8" fill="#edceaf"/>
<rect x="120.5" y="123.4" width="1.8" height="1.8" fill="#e8c5a5"/>
<rect x="122.5" y="123.4" width="1.8" height="1.8" fill="#d3a57e"/>
<rect x="124.5" y="123.4" width="1.8" height="1.8" fill="#f7e4cf"/>
<rect x="126.4" y="123.4" width="1.8" height="1.8" fill="#e3be9c"/>
<rect x="132.4" y="123.4" width="1.8" height="1.8" fill="#f1d6ba"/>
<rect x="134.4" y="123.4" width="1.8" height="1.8" fill="#a9cf82"/>
<rect x="136.4" y="123.4" width="1.8" height="1.8" fill="#ce9c74"/>
<rect x="138.4" y="123.4" width="1.8" height="1.8" fill="#f1d5b8"/>
<rect x="140.4" y="123.4" width="1.8" height="1.8" fill="#ba865e"/>
<rect x="144.3" y="123.4" width="1.8" height="1.8" fill="#e7c4a4"/>
<rect x="146.3" y="123.4" width="1.8" height="1.8" fill="#dfb794"/>
<rect x="148.3" y="123.4" width="1.8" height="1.8" fill="#e7c4a3"/>
<rect x="150.3" y="123.4" width="1.8" height="1.8" fill="#edceaf"/>
<rect x="152.3" y="123.4" width="1.8" height="1.8" fill="#ba875f"/>
<rect x="158.2" y="123.4" width="1.8" height="1.8" fill="#d2a27c"/>
<rect x="162.2" y="123.4" width="1.8" height="1.8" fill="#c6936b"/>
<rect x="164.2" y="123.4" width="1.8" height="1.8" fill="#fbeddd"/>
<rect x="168.2" y="123.4" width="1.8" height="1.8" fill="#e3be9d"/>
<rect x="170.2" y="123.4" width="1.8" height="1.8" fill="#ba865e"/>
<rect x="172.1" y="123.4" width="1.8" height="1.8" fill="#88bb6e"/>
<rect x="118.5" y="125.4" width="1.8" height="1.8" fill="#95c475"/>
<rect x="122.5" y="125.4" width="1.8" height="1.8" fill="#88bc6e"/>
<rect x="126.4" y="125.4" width="1.8" height="1.8" fill="#c28f67"/>
<rect x="128.4" y="125.4" width="1.8" height="1.8" fill="#f9e9d6"/>
<rect x="130.4" y="125.4" width="1.8" height="1.8" fill="#e7c3a3"/>
<rect x="132.4" y="125.4" width="1.8" height="1.8" fill="#e1ba97"/>
<rect x="134.4" y="125.4" width="1.8" height="1.8" fill="#f0d2b3"/>
<rect x="136.4" y="125.4" width="1.8" height="1.8" fill="#f9e8d5"/>
<rect x="138.4" y="125.4" width="1.8" height="1.8" fill="#bf8c64"/>
<rect x="140.4" y="125.4" width="1.8" height="1.8" fill="#cf9e76"/>
<rect x="142.3" y="125.4" width="1.8" height="1.8" fill="#fbeedd"/>
<rect x="144.3" y="125.4" width="1.8" height="1.8" fill="#c6936b"/>
<rect x="146.3" y="125.4" width="1.8" height="1.8" fill="#c8966e"/>
<rect x="150.3" y="125.4" width="1.8" height="1.8" fill="#9dc879"/>
<rect x="152.3" y="125.4" width="1.8" height="1.8" fill="#c6dda3"/>
<rect x="154.3" y="125.4" width="1.8" height="1.8" fill="#b9865e"/>
<rect x="158.2" y="125.4" width="1.8" height="1.8" fill="#f1d4b6"/>
<rect x="162.2" y="125.4" width="1.8" height="1.8" fill="#edceaf"/>
<rect x="164.2" y="125.4" width="1.8" height="1.8" fill="#b8845c"/>
<rect x="172.1" y="125.4" width="1.8" height="1.8" fill="#fbeedf"/>
<rect x="118.5" y="127.4" width="1.8" height="1.8" fill="#b9855d"/>
<rect x="120.5" y="127.4" width="1.8" height="1.8" fill="#f2d7bc"/>
<rect x="122.5" y="127.4" width="1.8" height="1.8" fill="#ad7850"/>
<rect x="124.5" y="127.4" width="1.8" height="1.8" fill="#9ac678"/>
<rect x="126.4" y="127.4" width="1.8" height="1.8" fill="#dfb794"/>
<rect x="128.4" y="127.4" width="1.8" height="1.8" fill="#95c475"/>
<rect x="130.4" y="127.4" width="1.8" height="1.8" fill="#d2a37c"/>
<rect x="132.4" y="127.4" width="1.8" height="1.8" fill="#c6936b"/>
<rect x="134.4" y="127.4" width="1.8" height="1.8" fill="#f4ddc4"/>
<rect x="136.4" y="127.4" width="1.8" height="1.8" fill="#bf8b63"/>
<rect x="140.4" y="127.4" width="1.8" height="1.8" fill="#e0b996"/>
<rect x="146.3" y="127.4" width="1.8" height="1.8" fill="#f8e5d1"/>
<rect x="150.3" y="127.4" width="1.8" height="1.8" fill="#e9c7a7"/>
<rect x="152.3" y="127.4" width="1.8" height="1.8" fill="#eeceaf"/>
<rect x="154.3" y="127.4" width="1.8" height="1.8" fill="#c4dda1"/>
<rect x="156.2" y="127.4" width="1.8" height="1.8" fill="#e3bd9b"/>
<rect x="160.2" y="127.4" width="1.8" height="1.8" fill="#a2cb7b"/>
<rect x="162.2" y="127.4" width="1.8" height="1.8" fill="#f2d8bc"/>
<rect x="172.1" y="127.4" width="1.8" height="1.8" fill="#b48058"/>
<rect x="118.5" y="129.4" width="1.8" height="1.8" fill="#dfb794"/>
<rect x="120.5" y="129.4" width="1.8" height="1.8" fill="#fbeede"/>
<rect x="122.5" y="129.4" width="1.8" height="1.8" fill="#bdd999"/>
<rect x="124.5" y="129.4" width="1.8" height="1.8" fill="#b58159"/>
<rect x="126.4" y="129.4" width="1.8" height="1.8" fill="#e0b997"/>
<rect x="130.4" y="129.4" width="1.8" height="1.8" fill="#8cbe71"/>
<rect x="132.4" y="129.4" width="1.8" height="1.8" fill="#c9976f"/>
<rect x="134.4" y="129.4" width="1.8" height="1.8" fill="#b2d48c"/>
<rect x="138.4" y="129.4" width="1.8" height="1.8" fill="#dfb794"/>
<rect x="140.4" y="129.4" width="1.8" height="1.8" fill="#af7a52"/>
<rect x="142.3" y="129.4" width="1.8" height="1.8" fill="#b27e56"/>
<rect x="146.3" y="129.4" width="1.8" height="1.8" fill="#ebcbab"/>
<rect x="148.3" y="129.4" width="1.8" height="1.8" fill="#f4ddc4"/>
<rect x="150.3" y="129.4" width="1.8" height="1.8" fill="#bb875f"/>
<rect x="152.3" y="129.4" width="1.8" height="1.8" fill="#bd8961"/>
<rect x="154.3" y="129.4" width="1.8" height="1.8" fill="#d3a57f"/>
<rect x="158.2" y="129.4" width="1.8" height="1.8" fill="#e1ba97"/>
<rect x="162.2" y="129.4" width="1.8" height="1.8" fill="#b9855d"/>
<rect x="164.2" y="129.4" width="1.8" height="1.8" fill="#85ba6d"/>
<rect x="118.5" y="131.4" width="1.8" height="1.8" fill="#c5926a"/>
<rect x="124.5" y="131.4" width="1.8" height="1.8" fill="#e8c5a5"/>
<rect x="126.4" y="131.4" width="1.8" height="1.8" fill="#f8e5d0"/>
<rect x="130.4" y="131.4" width="1.8" height="1.8" fill="#ce9c74"/>
<rect x="134.4" y="131.4" width="1.8" height="1.8" fill="#f8e7d4"/>
<rect x="138.4" y="131.4" width="1.8" height="1.8" fill="#aacf83"/>
<rect x="140.4" y="131.4" width="1.8" height="1.8" fill="#f7e4cf"/>
<rect x="142.3" y="131.4" width="1.8" height="1.8" fill="#d3a47e"/>
<rect x="144.3" y="131.4" width="1.8" height="1.8" fill="#c8956d"/>
<rect x="146.3" y="131.4" width="1.8" height="1.8" fill="#e7c5a4"/>
<rect x="152.3" y="131.4" width="1.8" height="1.8" fill="#f7e4d0"/>
<rect x="156.2" y="131.4" width="1.8" height="1.8" fill="#faead8"/>
<rect x="160.2" y="131.4" width="1.8" height="1.8" fill="#f2d7bc"/>
<rect x="162.2" y="131.4" width="1.8" height="1.8" fill="#e5c09f"/>
<rect x="164.2" y="131.4" width="1.8" height="1.8" fill="#f2d6ba"/>
<rect x="170.2" y="131.4" width="1.8" height="1.8" fill="#fcf0e1"/>
<rect x="118.5" y="133.4" width="1.8" height="1.8" fill="#cc9a72"/>
<rect x="120.5" y="133.4" width="1.8" height="1.8" fill="#ebc9aa"/>
<rect x="124.5" y="133.4" width="1.8" height="1.8" fill="#fcefe0"/>
<rect x="128.4" y="133.4" width="1.8" height="1.8" fill="#e8c5a5"/>
<rect x="132.4" y="133.4" width="1.8" height="1.8" fill="#89bc6f"/>
<rect x="138.4" y="133.4" width="1.8" height="1.8" fill="#e6c2a1"/>
<rect x="140.4" y="133.4" width="1.8" height="1.8" fill="#e0b997"/>
<rect x="142.3" y="133.4" width="1.8" height="1.8" fill="#a1ca7b"/>
<rect x="148.3" y="133.4" width="1.8" height="1.8" fill="#ecccad"/>
<rect x="150.3" y="133.4" width="1.8" height="1.8" fill="#b2d38c"/>
<rect x="152.3" y="133.4" width="1.8" height="1.8" fill="#d4a680"/>
<rect x="160.2" y="133.4" width="1.8" height="1.8" fill="#79b267"/>
<rect x="162.2" y="133.4" width="1.8" height="1.8" fill="#e7c5a4"/>
<rect x="172.1" y="133.4" width="1.8" height="1.8" fill="#c9976f"/>
<rect x="124.5" y="135.4" width="1.8" height="1.8" fill="#f6e1cb"/>
<rect x="128.4" y="135.4" width="1.8" height="1.8" fill="#f2d7bc"/>
<rect x="132.4" y="135.4" width="1.8" height="1.8" fill="#e7c5a4"/>
<rect x="134.4" y="135.4" width="1.8" height="1.8" fill="#e4c09e"/>
<rect x="136.4" y="135.4" width="1.8" height="1.8" fill="#f4ddc4"/>
<rect x="138.4" y="135.4" width="1.8" height="1.8" fill="#b37f57"/>
<rect x="140.4" y="135.4" width="1.8" height="1.8" fill="#b5d590"/>
<rect x="148.3" y="135.4" width="1.8" height="1.8" fill="#e2bc9a"/>
<rect x="166.2" y="135.4" width="1.8" height="1.8" fill="#e0ba97"/>
<rect x="172.1" y="135.4" width="1.8" height="1.8" fill="#b1d38b"/>
<rect x="124.5" y="137.4" width="1.8" height="1.8" fill="#f8e6d3"/>
<rect x="128.4" y="137.4" width="1.8" height="1.8" fill="#eac8a8"/>
<rect x="132.4" y="137.4" width="1.8" height="1.8" fill="#c4dca1"/>
<rect x="136.4" y="137.4" width="1.8" height="1.8" fill="#efd1b3"/>
<rect x="138.4" y="137.4" width="1.8" height="1.8" fill="#e6c2a1"/>
<rect x="140.4" y="137.4" width="1.8" height="1.8" fill="#78b267"/>
<rect x="144.3" y="137.4" width="1.8" height="1.8" fill="#faead8"/>
<rect x="146.3" y="137.4" width="1.8" height="1.8" fill="#b8845c"/>
<rect x="150.3" y="137.4" width="1.8" height="1.8" fill="#ba865e"/>
<rect x="152.3" y="137.4" width="1.8" height="1.8" fill="#f8e6d2"/>
<rect x="156.2" y="137.4" width="1.8" height="1.8" fill="#faebd9"/>
<rect x="158.2" y="137.4" width="1.8" height="1.8" fill="#e3be9c"/>
<rect x="160.2" y="137.4" width="1.8" height="1.8" fill="#c9976f"/>
<rect x="162.2" y="137.4" width="1.8" height="1.8" fill="#e2bb99"/>
<rect x="168.2" y="137.4" width="1.8" height="1.8" fill="#f3d9be"/>
<rect x="147.1" y="112.1" width="2.0" height="2.0" fill="#673d18"/>
<rect x="148.8" y="112.1" width="2.0" height="2.0" fill="#905a33"/>
<rect x="150.4" y="112.1" width="2.0" height="2.0" fill="#c5926a"/>
<rect x="152.1" y="112.1" width="2.0" height="2.0" fill="#d1a17a"/>
<rect x="153.7" y="112.1" width="2.0" height="2.0" fill="#9fca7a"/>
<rect x="155.4" y="112.1" width="2.0" height="2.0" fill="#6b3f1a"/>
<rect x="157.0" y="112.1" width="2.0" height="2.0" fill="#6a3f1a"/>
<rect x="158.7" y="112.1" width="2.0" height="2.0" fill="#ac764e"/>
<rect x="160.3" y="112.1" width="2.0" height="2.0" fill="#804f28"/>
<rect x="162.0" y="112.1" width="2.0" height="2.0" fill="#eac9a9"/>
<rect x="163.7" y="112.1" width="2.0" height="2.0" fill="#8f5a32"/>
<rect x="165.3" y="112.1" width="2.0" height="2.0" fill="#b07b53"/>
<rect x="167.0" y="112.1" width="2.0" height="2.0" fill="#9ec979"/>
<rect x="168.6" y="112.1" width="2.0" height="2.0" fill="#d4a681"/>
<rect x="170.3" y="112.1" width="2.0" height="2.0" fill="#b5d590"/>
<rect x="171.9" y="112.1" width="2.0" height="2.0" fill="#6d401c"/>
<rect x="173.6" y="112.1" width="2.0" height="2.0" fill="#683d19"/>
<rect x="147.1" y="113.8" width="2.0" height="2.0" fill="#663c18"/>
<rect x="148.8" y="113.8" width="2.0" height="2.0" fill="#d3a57e"/>
<rect x="150.4" y="113.8" width="2.0" height="2.0" fill="#9d673f"/>
<rect x="152.1" y="113.8" width="2.0" height="2.0" fill="#693e19"/>
<rect x="153.7" y="113.8" width="2.0" height="2.0" fill="#c08d65"/>
<rect x="155.4" y="113.8" width="2.0" height="2.0" fill="#6a3e1a"/>
<rect x="157.0" y="113.8" width="2.0" height="2.0" fill="#b6825a"/>
<rect x="158.7" y="113.8" width="2.0" height="2.0" fill="#b8845c"/>
<rect x="160.3" y="113.8" width="2.0" height="2.0" fill="#a6ce7e"/>
<rect x="162.0" y="113.8" width="2.0" height="2.0" fill="#d3a57f"/>
<rect x="163.7" y="113.8" width="2.0" height="2.0" fill="#89bc6f"/>
<rect x="165.3" y="113.8" width="2.0" height="2.0" fill="#72441f"/>
<rect x="167.0" y="113.8" width="2.0" height="2.0" fill="#87bb6e"/>
<rect x="170.3" y="113.8" width="2.0" height="2.0" fill="#af7b53"/>
<rect x="171.9" y="113.8" width="2.0" height="2.0" fill="#7db569"/>
<rect x="173.6" y="113.8" width="2.0" height="2.0" fill="#89552e"/>
<rect x="147.1" y="115.4" width="2.0" height="2.0" fill="#b07c54"/>
<rect x="148.8" y="115.4" width="2.0" height="2.0" fill="#ad7850"/>
<rect x="150.4" y="115.4" width="2.0" height="2.0" fill="#89bc6f"/>
<rect x="153.7" y="115.4" width="2.0" height="2.0" fill="#f0d1b3"/>
<rect x="155.4" y="115.4" width="2.0" height="2.0" fill="#8a562f"/>
<rect x="157.0" y="115.4" width="2.0" height="2.0" fill="#c08d65"/>
<rect x="158.7" y="115.4" width="2.0" height="2.0" fill="#94c375"/>
<rect x="160.3" y="115.4" width="2.0" height="2.0" fill="#cc9a72"/>
<rect x="163.7" y="115.4" width="2.0" height="2.0" fill="#8a562f"/>
<rect x="165.3" y="115.4" width="2.0" height="2.0" fill="#f4dbc2"/>
<rect x="167.0" y="115.4" width="2.0" height="2.0" fill="#7c4c26"/>
<rect x="168.6" y="115.4" width="2.0" height="2.0" fill="#693e19"/>
<rect x="170.3" y="115.4" width="2.0" height="2.0" fill="#784823"/>
<rect x="171.9" y="115.4" width="2.0" height="2.0" fill="#683d19"/>
<rect x="173.6" y="115.4" width="2.0" height="2.0" fill="#daaf8b"/>
<rect x="147.1" y="117.1" width="2.0" height="2.0" fill="#ba875f"/>
<rect x="148.8" y="117.1" width="2.0" height="2.0" fill="#d5a882"/>
<rect x="150.4" y="117.1" width="2.0" height="2.0" fill="#c39068"/>
<rect x="152.1" y="117.1" width="2.0" height="2.0" fill="#804e28"/>
<rect x="153.7" y="117.1" width="2.0" height="2.0" fill="#ac774f"/>
<rect x="155.4" y="117.1" width="2.0" height="2.0" fill="#bd8a62"/>
<rect x="157.0" y="117.1" width="2.0" height="2.0" fill="#c18e66"/>
<rect x="160.3" y="117.1" width="2.0" height="2.0" fill="#b7835b"/>
<rect x="162.0" y="117.1" width="2.0" height="2.0" fill="#cd9b73"/>
<rect x="163.7" y="117.1" width="2.0" height="2.0" fill="#7a4a24"/>
<rect x="165.3" y="117.1" width="2.0" height="2.0" fill="#6c401b"/>
<rect x="168.6" y="117.1" width="2.0" height="2.0" fill="#72441f"/>
<rect x="170.3" y="117.1" width="2.0" height="2.0" fill="#dbb08c"/>
<rect x="171.9" y="117.1" width="2.0" height="2.0" fill="#d3a47e"/>
<rect x="173.6" y="117.1" width="2.0" height="2.0" fill="#e6c2a1"/>
<rect x="147.1" y="118.8" width="2.0" height="2.0" fill="#e2bc9a"/>
<rect x="150.4" y="118.8" width="2.0" height="2.0" fill="#ab764e"/>
<rect x="152.1" y="118.8" width="2.0" height="2.0" fill="#d1a27b"/>
<rect x="155.4" y="118.8" width="2.0" height="2.0" fill="#955e36"/>
<rect x="157.0" y="118.8" width="2.0" height="2.0" fill="#c8966e"/>
<rect x="158.7" y="118.8" width="2.0" height="2.0" fill="#e3bd9c"/>
<rect x="160.3" y="118.8" width="2.0" height="2.0" fill="#83512a"/>
<rect x="162.0" y="118.8" width="2.0" height="2.0" fill="#955e36"/>
<rect x="163.7" y="118.8" width="2.0" height="2.0" fill="#cd9b73"/>
<rect x="165.3" y="118.8" width="2.0" height="2.0" fill="#6a3e1a"/>
<rect x="167.0" y="118.8" width="2.0" height="2.0" fill="#b27d55"/>
<rect x="170.3" y="118.8" width="2.0" height="2.0" fill="#ecccad"/>
<rect x="173.6" y="118.8" width="2.0" height="2.0" fill="#a26c44"/>
<rect x="147.1" y="120.5" width="2.0" height="2.0" fill="#84512b"/>
<rect x="148.8" y="120.5" width="2.0" height="2.0" fill="#89bc6f"/>
<rect x="150.4" y="120.5" width="2.0" height="2.0" fill="#9cc879"/>
<rect x="152.1" y="120.5" width="2.0" height="2.0" fill="#c9966e"/>
<rect x="153.7" y="120.5" width="2.0" height="2.0" fill="#c6936b"/>
<rect x="157.0" y="120.5" width="2.0" height="2.0" fill="#b37e56"/>
<rect x="158.7" y="120.5" width="2.0" height="2.0" fill="#84512b"/>
<rect x="160.3" y="120.5" width="2.0" height="2.0" fill="#f4dcc3"/>
<rect x="162.0" y="120.5" width="2.0" height="2.0" fill="#89552e"/>
<rect x="165.3" y="120.5" width="2.0" height="2.0" fill="#eac9a9"/>
<rect x="167.0" y="120.5" width="2.0" height="2.0" fill="#a9744c"/>
<rect x="168.6" y="120.5" width="2.0" height="2.0" fill="#b47f57"/>
<rect x="170.3" y="120.5" width="2.0" height="2.0" fill="#ebcaaa"/>
<rect x="173.6" y="120.5" width="2.0" height="2.0" fill="#6a3e1a"/>
<rect x="147.1" y="122.1" width="2.0" height="2.0" fill="#d2a27c"/>
<rect x="148.8" y="122.1" width="2.0" height="2.0" fill="#89552e"/>
<rect x="150.4" y="122.1" width="2.0" height="2.0" fill="#aa754d"/>
<rect x="152.1" y="122.1" width="2.0" height="2.0" fill="#784923"/>
<rect x="153.7" y="122.1" width="2.0" height="2.0" fill="#8e5931"/>
<rect x="155.4" y="122.1" width="2.0" height="2.0" fill="#9a643c"/>
<rect x="157.0" y="122.1" width="2.0" height="2.0" fill="#ba865e"/>
<rect x="158.7" y="122.1" width="2.0" height="2.0" fill="#bf8c64"/>
<rect x="160.3" y="122.1" width="2.0" height="2.0" fill="#f6e1ca"/>
<rect x="162.0" y="122.1" width="2.0" height="2.0" fill="#693e19"/>
<rect x="163.7" y="122.1" width="2.0" height="2.0" fill="#b37f57"/>
<rect x="165.3" y="122.1" width="2.0" height="2.0" fill="#814f29"/>
<rect x="167.0" y="122.1" width="2.0" height="2.0" fill="#eac8a8"/>
<rect x="168.6" y="122.1" width="2.0" height="2.0" fill="#945d35"/>
<rect x="170.3" y="122.1" width="2.0" height="2.0" fill="#c6936b"/>
<rect x="171.9" y="122.1" width="2.0" height="2.0" fill="#683d19"/>
<circle cx="127.1" cy="92.5" r="3.4" fill="#623915"/>
<circle cx="128.7" cy="93.9" r="3.0" fill="#623915"/>
<circle cx="136.0" cy="104.6" r="3.0" fill="#623915"/>
<circle cx="153.6" cy="110.9" r="2.8" fill="#623915"/>
<circle cx="75.2" cy="66.2" r="1.3" fill="#91c173"/>
<circle cx="84.1" cy="67.3" r="1.3" fill="#ab764e"/>
<circle cx="88.5" cy="70.6" r="1.3" fill="#eccbac"/>
<circle cx="92.9" cy="72.9" r="1.3" fill="#d6a983"/>
<circle cx="97.3" cy="75.1" r="1.3" fill="#c9dfa7"/>
<circle cx="101.7" cy="79.6" r="1.3" fill="#91c173"/>
<circle cx="103.9" cy="82.2" r="1.3" fill="#c9dfa7"/>
<circle cx="86.3" cy="65.0" r="1.3" fill="#ab764e"/>
<circle cx="90.7" cy="67.3" r="1.3" fill="#ab764e"/>
<circle cx="99.5" cy="71.7" r="1.3" fill="#d6a983"/>
<circle cx="110.6" cy="85.2" r="1.3" fill="#c9dfa7"/>
<circle cx="115.0" cy="86.3" r="1.3" fill="#91c173"/>
<circle cx="68.6" cy="59.5" r="1.3" fill="#ab764e"/>
<circle cx="73.0" cy="60.6" r="1.3" fill="#c9dfa7"/>
<rect x="306.5" y="92.4" width="1.3" height="1.3" fill="#a5cd7d"/>
<rect x="308.7" y="92.4" width="1.3" height="1.3" fill="#bdd999"/>
<rect x="310.9" y="92.4" width="1.3" height="1.3" fill="#64a566"/>
<rect x="315.3" y="92.4" width="1.3" height="1.3" fill="#d5e5b5"/>
<rect x="319.7" y="92.4" width="1.3" height="1.3" fill="#64a566"/>
<rect x="321.9" y="92.4" width="1.3" height="1.3" fill="#78b266"/>
<rect x="326.3" y="92.4" width="1.3" height="1.3" fill="#428c66"/>
<rect x="328.6" y="92.4" width="1.3" height="1.3" fill="#428c66"/>
<rect x="333.0" y="92.4" width="1.3" height="1.3" fill="#78b266"/>
<rect x="337.4" y="92.4" width="1.3" height="1.3" fill="#d5e5b5"/>
<rect x="341.8" y="92.4" width="1.3" height="1.3" fill="#a5cd7d"/>
<rect x="344.0" y="92.4" width="1.3" height="1.3" fill="#a5cd7d"/>
<rect x="346.2" y="92.4" width="1.3" height="1.3" fill="#c9dfa7"/>
<rect x="350.6" y="92.4" width="1.3" height="1.3" fill="#c9dfa7"/>
<rect x="310.9" y="94.6" width="1.3" height="1.3" fill="#91c173"/>
<rect x="315.3" y="94.6" width="1.3" height="1.3" fill="#78b266"/>
<rect x="317.5" y="94.6" width="1.3" height="1.3" fill="#a5cd7d"/>
<rect x="319.7" y="94.6" width="1.3" height="1.3" fill="#91c173"/>
<rect x="324.1" y="94.6" width="1.3" height="1.3" fill="#a5cd7d"/>
<rect x="326.3" y="94.6" width="1.3" height="1.3" fill="#a5cd7d"/>
<rect x="328.6" y="94.6" width="1.3" height="1.3" fill="#91c173"/>
<rect x="330.8" y="94.6" width="1.3" height="1.3" fill="#d5e5b5"/>
<rect x="333.0" y="94.6" width="1.3" height="1.3" fill="#78b266"/>
<rect x="335.2" y="94.6" width="1.3" height="1.3" fill="#d5e5b5"/>
<rect x="339.6" y="94.6" width="1.3" height="1.3" fill="#91c173"/>
<rect x="341.8" y="94.6" width="1.3" height="1.3" fill="#78b266"/>
<rect x="344.0" y="94.6" width="1.3" height="1.3" fill="#64a566"/>
<rect x="346.2" y="94.6" width="1.3" height="1.3" fill="#f6e1ca"/>
<rect x="348.4" y="94.6" width="1.3" height="1.3" fill="#c9dfa7"/>
<rect x="310.9" y="96.8" width="1.3" height="1.3" fill="#91c173"/>
<rect x="313.1" y="96.8" width="1.3" height="1.3" fill="#78b266"/>
<rect x="317.5" y="96.8" width="1.3" height="1.3" fill="#d5e5b5"/>
<rect x="324.1" y="96.8" width="1.3" height="1.3" fill="#d5e5b5"/>
<rect x="326.3" y="96.8" width="1.3" height="1.3" fill="#d5e5b5"/>
<rect x="330.8" y="96.8" width="1.3" height="1.3" fill="#428c66"/>
<rect x="335.2" y="96.8" width="1.3" height="1.3" fill="#78b266"/>
<rect x="344.0" y="96.8" width="1.3" height="1.3" fill="#a5cd7d"/>
<rect x="348.4" y="96.8" width="1.3" height="1.3" fill="#ab764e"/>
<rect x="306.5" y="99.1" width="1.3" height="1.3" fill="#428c66"/>
<rect x="308.7" y="99.1" width="1.3" height="1.3" fill="#a5cd7d"/>
<rect x="310.9" y="99.1" width="1.3" height="1.3" fill="#d5e5b5"/>
<rect x="315.3" y="99.1" width="1.3" height="1.3" fill="#78b266"/>
<rect x="319.7" y="99.1" width="1.3" height="1.3" fill="#428c66"/>
<rect x="326.3" y="99.1" width="1.3" height="1.3" fill="#91c173"/>
<rect x="328.6" y="99.1" width="1.3" height="1.3" fill="#91c173"/>
<rect x="335.2" y="99.1" width="1.3" height="1.3" fill="#78b266"/>
<rect x="337.4" y="99.1" width="1.3" height="1.3" fill="#428c66"/>
<rect x="341.8" y="99.1" width="1.3" height="1.3" fill="#d5e5b5"/>
<rect x="344.0" y="99.1" width="1.3" height="1.3" fill="#428c66"/>
<rect x="346.2" y="99.1" width="1.3" height="1.3" fill="#eccbac"/>
<rect x="352.8" y="99.1" width="1.3" height="1.3" fill="#eccbac"/>
<rect x="306.5" y="101.3" width="1.3" height="1.3" fill="#64a566"/>
<rect x="308.7" y="101.3" width="1.3" height="1.3" fill="#a5cd7d"/>
<rect x="313.1" y="101.3" width="1.3" height="1.3" fill="#428c66"/>
<rect x="315.3" y="101.3" width="1.3" height="1.3" fill="#91c173"/>
<rect x="324.1" y="101.3" width="1.3" height="1.3" fill="#78b266"/>
<rect x="328.6" y="101.3" width="1.3" height="1.3" fill="#78b266"/>
<rect x="337.4" y="101.3" width="1.3" height="1.3" fill="#d5e5b5"/>
<rect x="341.8" y="101.3" width="1.3" height="1.3" fill="#bdd999"/>
<rect x="306.5" y="103.6" width="1.3" height="1.3" fill="#91c173"/>
<rect x="308.7" y="103.6" width="1.3" height="1.3" fill="#91c173"/>
<rect x="313.1" y="103.6" width="1.3" height="1.3" fill="#428c66"/>
<rect x="321.9" y="103.6" width="1.3" height="1.3" fill="#64a566"/>
<rect x="324.1" y="103.6" width="1.3" height="1.3" fill="#78b266"/>
<rect x="326.3" y="103.6" width="1.3" height="1.3" fill="#91c173"/>
<rect x="337.4" y="103.6" width="1.3" height="1.3" fill="#bdd999"/>
<rect x="341.8" y="103.6" width="1.3" height="1.3" fill="#428c66"/>
<rect x="344.0" y="103.6" width="1.3" height="1.3" fill="#d5e5b5"/>
<rect x="346.2" y="103.6" width="1.3" height="1.3" fill="#fcf0e1"/>
<rect x="348.4" y="103.6" width="1.3" height="1.3" fill="#f6e1ca"/>
<rect x="310.9" y="105.8" width="1.3" height="1.3" fill="#a5cd7d"/>
<rect x="315.3" y="105.8" width="1.3" height="1.3" fill="#91c173"/>
<rect x="317.5" y="105.8" width="1.3" height="1.3" fill="#a5cd7d"/>
<rect x="321.9" y="105.8" width="1.3" height="1.3" fill="#428c66"/>
<rect x="328.6" y="105.8" width="1.3" height="1.3" fill="#a5cd7d"/>
<rect x="330.8" y="105.8" width="1.3" height="1.3" fill="#428c66"/>
<rect x="333.0" y="105.8" width="1.3" height="1.3" fill="#428c66"/>
<rect x="335.2" y="105.8" width="1.3" height="1.3" fill="#91c173"/>
<rect x="337.4" y="105.8" width="1.3" height="1.3" fill="#428c66"/>
<rect x="339.6" y="105.8" width="1.3" height="1.3" fill="#64a566"/>
<rect x="341.8" y="105.8" width="1.3" height="1.3" fill="#428c66"/>
<rect x="346.2" y="105.8" width="1.3" height="1.3" fill="#fcf0e1"/>
<rect x="350.6" y="105.8" width="1.3" height="1.3" fill="#c9dfa7"/>
<rect x="306.5" y="108.0" width="1.3" height="1.3" fill="#91c173"/>
<rect x="308.7" y="108.0" width="1.3" height="1.3" fill="#78b266"/>
<rect x="310.9" y="108.0" width="1.3" height="1.3" fill="#bdd999"/>
<rect x="315.3" y="108.0" width="1.3" height="1.3" fill="#bdd999"/>
<rect x="319.7" y="108.0" width="1.3" height="1.3" fill="#bdd999"/>
<rect x="321.9" y="108.0" width="1.3" height="1.3" fill="#78b266"/>
<rect x="324.1" y="108.0" width="1.3" height="1.3" fill="#91c173"/>
<rect x="326.3" y="108.0" width="1.3" height="1.3" fill="#64a566"/>
<rect x="328.6" y="108.0" width="1.3" height="1.3" fill="#bdd999"/>
<rect x="330.8" y="108.0" width="1.3" height="1.3" fill="#d5e5b5"/>
<rect x="333.0" y="108.0" width="1.3" height="1.3" fill="#428c66"/>
<rect x="341.8" y="108.0" width="1.3" height="1.3" fill="#78b266"/>
<rect x="346.2" y="108.0" width="1.3" height="1.3" fill="#d5e5b5"/>
<rect x="350.6" y="108.0" width="1.3" height="1.3" fill="#bdd999"/>
<rect x="313.1" y="110.3" width="1.3" height="1.3" fill="#a5cd7d"/>
<rect x="315.3" y="110.3" width="1.3" height="1.3" fill="#428c66"/>
<rect x="317.5" y="110.3" width="1.3" height="1.3" fill="#d5e5b5"/>
<rect x="319.7" y="110.3" width="1.3" height="1.3" fill="#a5cd7d"/>
<rect x="321.9" y="110.3" width="1.3" height="1.3" fill="#a5cd7d"/>
<rect x="326.3" y="110.3" width="1.3" height="1.3" fill="#428c66"/>
<rect x="328.6" y="110.3" width="1.3" height="1.3" fill="#d5e5b5"/>
<rect x="333.0" y="110.3" width="1.3" height="1.3" fill="#64a566"/>
<rect x="335.2" y="110.3" width="1.3" height="1.3" fill="#a5cd7d"/>
<rect x="339.6" y="110.3" width="1.3" height="1.3" fill="#a5cd7d"/>
<rect x="341.8" y="110.3" width="1.3" height="1.3" fill="#64a566"/>
<rect x="350.6" y="110.3" width="1.3" height="1.3" fill="#bdd999"/>
<rect x="317.5" y="112.5" width="1.3" height="1.3" fill="#78b266"/>
<rect x="328.6" y="112.5" width="1.3" height="1.3" fill="#a5cd7d"/>
<rect x="330.8" y="112.5" width="1.3" height="1.3" fill="#78b266"/>
<rect x="335.2" y="112.5" width="1.3" height="1.3" fill="#bdd999"/>
<rect x="339.6" y="112.5" width="1.3" height="1.3" fill="#a5cd7d"/>
<rect x="344.0" y="112.5" width="1.3" height="1.3" fill="#d5e5b5"/>
<rect x="352.8" y="112.5" width="1.3" height="1.3" fill="#bdd999"/>
<rect x="308.7" y="114.7" width="1.3" height="1.3" fill="#78b266"/>
<rect x="313.1" y="114.7" width="1.3" height="1.3" fill="#bdd999"/>
<rect x="321.9" y="114.7" width="1.3" height="1.3" fill="#91c173"/>
<rect x="324.1" y="114.7" width="1.3" height="1.3" fill="#d5e5b5"/>
<rect x="328.6" y="114.7" width="1.3" height="1.3" fill="#a5cd7d"/>
<rect x="330.8" y="114.7" width="1.3" height="1.3" fill="#64a566"/>
<rect x="333.0" y="114.7" width="1.3" height="1.3" fill="#78b266"/>
<rect x="335.2" y="114.7" width="1.3" height="1.3" fill="#64a566"/>
<rect x="350.6" y="114.7" width="1.3" height="1.3" fill="#428c66"/>
<rect x="496.3" y="36.4" width="1.4" height="1.4" fill="#73af64"/>
<rect x="505.1" y="36.4" width="1.4" height="1.4" fill="#519868"/>
<rect x="509.5" y="36.4" width="1.4" height="1.4" fill="#519868"/>
<rect x="487.4" y="38.6" width="1.4" height="1.4" fill="#519868"/>
<rect x="489.6" y="38.6" width="1.4" height="1.4" fill="#73af64"/>
<rect x="494.1" y="38.6" width="1.4" height="1.4" fill="#519868"/>
<rect x="496.3" y="38.6" width="1.4" height="1.4" fill="#64a566"/>
<rect x="498.5" y="38.6" width="1.4" height="1.4" fill="#64a566"/>
<rect x="500.7" y="38.6" width="1.4" height="1.4" fill="#87bb6e"/>
<rect x="500.7" y="40.9" width="1.4" height="1.4" fill="#64a566"/>
<rect x="505.1" y="40.9" width="1.4" height="1.4" fill="#87bb6e"/>
<rect x="507.3" y="40.9" width="1.4" height="1.4" fill="#91c173"/>
<rect x="509.5" y="40.9" width="1.4" height="1.4" fill="#a5cd7d"/>
<rect x="511.7" y="40.9" width="1.4" height="1.4" fill="#87bb6e"/>
<rect x="525.0" y="40.9" width="1.4" height="1.4" fill="#91c173"/>
<rect x="489.6" y="43.1" width="1.4" height="1.4" fill="#519868"/>
<rect x="498.5" y="43.1" width="1.4" height="1.4" fill="#73af64"/>
<rect x="500.7" y="43.1" width="1.4" height="1.4" fill="#73af64"/>
<rect x="522.8" y="43.1" width="1.4" height="1.4" fill="#519868"/>
<rect x="487.4" y="45.3" width="1.4" height="1.4" fill="#87bb6e"/>
<rect x="496.3" y="45.3" width="1.4" height="1.4" fill="#73af64"/>
<rect x="498.5" y="45.3" width="1.4" height="1.4" fill="#87bb6e"/>
<rect x="511.7" y="45.3" width="1.4" height="1.4" fill="#519868"/>
<rect x="520.5" y="45.3" width="1.4" height="1.4" fill="#91c173"/>
<rect x="527.2" y="45.3" width="1.4" height="1.4" fill="#a5cd7d"/>
<rect x="485.2" y="47.6" width="1.4" height="1.4" fill="#87bb6e"/>
<rect x="496.3" y="47.6" width="1.4" height="1.4" fill="#64a566"/>
<rect x="505.1" y="47.6" width="1.4" height="1.4" fill="#73af64"/>
<rect x="511.7" y="47.6" width="1.4" height="1.4" fill="#87bb6e"/>
<rect x="513.9" y="47.6" width="1.4" height="1.4" fill="#91c173"/>
<rect x="489.6" y="49.8" width="1.4" height="1.4" fill="#91c173"/>
<rect x="496.3" y="49.8" width="1.4" height="1.4" fill="#91c173"/>
<rect x="500.7" y="49.8" width="1.4" height="1.4" fill="#64a566"/>
<rect x="502.9" y="49.8" width="1.4" height="1.4" fill="#87bb6e"/>
<rect x="513.9" y="49.8" width="1.4" height="1.4" fill="#519868"/>
<rect x="516.1" y="49.8" width="1.4" height="1.4" fill="#87bb6e"/>
<rect x="520.5" y="49.8" width="1.4" height="1.4" fill="#91c173"/>
<rect x="487.4" y="52.0" width="1.4" height="1.4" fill="#91c173"/>
<rect x="513.9" y="52.0" width="1.4" height="1.4" fill="#73af64"/>
<rect x="489.6" y="54.3" width="1.4" height="1.4" fill="#91c173"/>
<rect x="491.8" y="54.3" width="1.4" height="1.4" fill="#519868"/>
<rect x="502.9" y="54.3" width="1.4" height="1.4" fill="#a5cd7d"/>
<rect x="505.1" y="54.3" width="1.4" height="1.4" fill="#519868"/>
<rect x="522.8" y="54.3" width="1.4" height="1.4" fill="#91c173"/>
<rect x="507.3" y="56.5" width="1.4" height="1.4" fill="#73af64"/>
<rect x="516.1" y="56.5" width="1.4" height="1.4" fill="#a5cd7d"/>
<rect x="518.3" y="56.5" width="1.4" height="1.4" fill="#64a566"/>
<rect x="491.8" y="58.8" width="1.4" height="1.4" fill="#87bb6e"/>
<rect x="496.3" y="58.8" width="1.4" height="1.4" fill="#519868"/>
<rect x="498.5" y="58.8" width="1.4" height="1.4" fill="#91c173"/>
<rect x="502.9" y="58.8" width="1.4" height="1.4" fill="#87bb6e"/>
<rect x="507.3" y="58.8" width="1.4" height="1.4" fill="#91c173"/>
<rect x="509.5" y="58.8" width="1.4" height="1.4" fill="#519868"/>
<rect x="518.3" y="58.8" width="1.4" height="1.4" fill="#73af64"/>
<rect x="494.1" y="61.0" width="1.4" height="1.4" fill="#64a566"/>
<rect x="502.9" y="61.0" width="1.4" height="1.4" fill="#64a566"/>
<rect x="507.3" y="61.0" width="1.4" height="1.4" fill="#87bb6e"/>
<rect x="516.1" y="61.0" width="1.4" height="1.4" fill="#64a566"/>
<rect x="496.3" y="63.2" width="1.4" height="1.4" fill="#73af64"/>
<rect x="502.9" y="63.2" width="1.4" height="1.4" fill="#87bb6e"/>
<rect x="509.5" y="63.2" width="1.4" height="1.4" fill="#a5cd7d"/>
<rect x="511.7" y="63.2" width="1.4" height="1.4" fill="#91c173"/>
<rect x="502.9" y="65.5" width="1.4" height="1.4" fill="#87bb6e"/>
<rect x="507.3" y="65.5" width="1.4" height="1.4" fill="#87bb6e"/>
<rect x="509.5" y="65.5" width="1.4" height="1.4" fill="#519868"/>
<rect x="513.9" y="65.5" width="1.4" height="1.4" fill="#519868"/>
<rect x="507.3" y="67.7" width="1.4" height="1.4" fill="#a5cd7d"/>
<rect x="511.7" y="67.7" width="1.4" height="1.4" fill="#73af64"/>
<rect x="513.9" y="67.7" width="1.4" height="1.4" fill="#519868"/>
<rect x="516.1" y="67.7" width="1.4" height="1.4" fill="#a5cd7d"/>
<rect x="522.8" y="67.7" width="1.4" height="1.4" fill="#87bb6e"/>
<rect x="505.1" y="69.9" width="1.4" height="1.4" fill="#87bb6e"/>
<rect x="509.5" y="69.9" width="1.4" height="1.4" fill="#91c173"/>
<rect x="507.3" y="72.2" width="1.4" height="1.4" fill="#73af64"/>
<rect x="513.9" y="72.2" width="1.4" height="1.4" fill="#a5cd7d"/>
<rect x="516.1" y="72.2" width="1.4" height="1.4" fill="#519868"/>
<rect x="518.3" y="72.2" width="1.4" height="1.4" fill="#519868"/>
<rect x="527.2" y="72.2" width="1.4" height="1.4" fill="#64a566"/>
<rect x="516.1" y="74.4" width="1.4" height="1.4" fill="#73af64"/>
<rect x="518.3" y="74.4" width="1.4" height="1.4" fill="#519868"/>
<rect x="522.8" y="74.4" width="1.4" height="1.4" fill="#91c173"/>
<rect x="505.1" y="76.6" width="1.4" height="1.4" fill="#64a566"/>
<rect x="513.9" y="76.6" width="1.4" height="1.4" fill="#87bb6e"/>
<rect x="527.2" y="76.6" width="1.4" height="1.4" fill="#73af64"/>
<rect x="538.1" y="39.7" width="1.6" height="1.6" fill="#eccbac"/>
<rect x="540.3" y="41.2" width="1.6" height="1.6" fill="#ab764e"/>
<rect x="543.6" y="38.1" width="1.6" height="1.6" fill="#eccbac"/>
<rect x="537.0" y="44.1" width="1.6" height="1.6" fill="#ab764e"/>
<rect x="545.8" y="40.8" width="1.6" height="1.6" fill="#fcf0e1"/>
<rect x="534.8" y="41.9" width="1.6" height="1.6" fill="#d6a983"/>
<rect x="541.4" y="45.7" width="1.6" height="1.6" fill="#d6a983"/>
<rect x="498.7" y="92.7" width="1.9" height="1.9" fill="#519868"/>
<rect x="500.7" y="92.7" width="1.9" height="1.9" fill="#653b17"/>
<rect x="502.7" y="94.8" width="1.9" height="1.9" fill="#c9dfa7"/>
<rect x="502.7" y="96.8" width="1.9" height="1.9" fill="#519868"/>
<rect x="504.7" y="96.8" width="1.9" height="1.9" fill="#87532d"/>
<rect x="504.7" y="98.8" width="1.9" height="1.9" fill="#653b17"/>
<rect x="508.6" y="98.8" width="1.9" height="1.9" fill="#653b17"/>
<rect x="506.7" y="100.8" width="1.9" height="1.9" fill="#fcf0e1"/>
<rect x="508.6" y="100.8" width="1.9" height="1.9" fill="#c9dfa7"/>
<rect x="510.6" y="100.8" width="1.9" height="1.9" fill="#87532d"/>
<rect x="512.6" y="100.8" width="1.9" height="1.9" fill="#64a566"/>
<rect x="506.7" y="102.8" width="1.9" height="1.9" fill="#c9dfa7"/>
<rect x="512.6" y="102.8" width="1.9" height="1.9" fill="#c9dfa7"/>
<rect x="508.6" y="104.8" width="1.9" height="1.9" fill="#d6a983"/>
<rect x="510.6" y="104.8" width="1.9" height="1.9" fill="#653b17"/>
<rect x="512.6" y="104.8" width="1.9" height="1.9" fill="#d6a983"/>
<rect x="514.6" y="104.8" width="1.9" height="1.9" fill="#6c3f1b"/>
<rect x="512.6" y="106.8" width="1.9" height="1.9" fill="#c9dfa7"/>
<rect x="514.6" y="106.8" width="1.9" height="1.9" fill="#6c3f1b"/>
<rect x="516.6" y="106.8" width="1.9" height="1.9" fill="#519868"/>
<rect x="512.6" y="108.8" width="1.9" height="1.9" fill="#653b17"/>
<rect x="514.6" y="108.8" width="1.9" height="1.9" fill="#87532d"/>
<rect x="518.6" y="108.8" width="1.9" height="1.9" fill="#6c3f1b"/>
<rect x="512.6" y="110.8" width="1.9" height="1.9" fill="#519868"/>
<rect x="516.6" y="110.8" width="1.9" height="1.9" fill="#d6a983"/>
<rect x="516.6" y="112.9" width="1.9" height="1.9" fill="#6c3f1b"/>
<rect x="518.6" y="112.9" width="1.9" height="1.9" fill="#87532d"/>
<rect x="516.6" y="114.9" width="1.9" height="1.9" fill="#fcf0e1"/>
<rect x="518.6" y="114.9" width="1.9" height="1.9" fill="#653b17"/>
<rect x="544.6" y="89.6" width="1.9" height="1.9" fill="#d6a983"/>
<rect x="546.6" y="89.6" width="1.9" height="1.9" fill="#64a566"/>
<rect x="542.6" y="91.6" width="1.9" height="1.9" fill="#64a566"/>
<rect x="548.6" y="91.6" width="1.9" height="1.9" fill="#64a566"/>
<rect x="546.6" y="93.6" width="1.9" height="1.9" fill="#64a566"/>
<rect x="536.7" y="95.7" width="1.9" height="1.9" fill="#519868"/>
<rect x="540.7" y="95.7" width="1.9" height="1.9" fill="#519868"/>
<rect x="536.7" y="97.7" width="1.9" height="1.9" fill="#91c173"/>
<rect x="528.7" y="99.7" width="1.9" height="1.9" fill="#d6a983"/>
<rect x="532.7" y="99.7" width="1.9" height="1.9" fill="#64a566"/>
<rect x="536.7" y="99.7" width="1.9" height="1.9" fill="#64a566"/>
<rect x="538.7" y="99.7" width="1.9" height="1.9" fill="#d6a983"/>
<rect x="540.7" y="99.7" width="1.9" height="1.9" fill="#f6e1ca"/>
<rect x="542.6" y="99.7" width="1.9" height="1.9" fill="#519868"/>
<rect x="544.6" y="99.7" width="1.9" height="1.9" fill="#519868"/>
<rect x="546.6" y="99.7" width="1.9" height="1.9" fill="#fcf0e1"/>
<rect x="528.7" y="101.7" width="1.9" height="1.9" fill="#91c173"/>
<rect x="534.7" y="101.7" width="1.9" height="1.9" fill="#c9dfa7"/>
<rect x="540.7" y="101.7" width="1.9" height="1.9" fill="#f6e1ca"/>
<rect x="544.6" y="101.7" width="1.9" height="1.9" fill="#f6e1ca"/>
<rect x="546.6" y="101.7" width="1.9" height="1.9" fill="#e6ecc8"/>
<rect x="528.7" y="103.7" width="1.9" height="1.9" fill="#64a566"/>
<rect x="530.7" y="103.7" width="1.9" height="1.9" fill="#e6ecc8"/>
<rect x="534.7" y="103.7" width="1.9" height="1.9" fill="#e6ecc8"/>
<rect x="536.7" y="103.7" width="1.9" height="1.9" fill="#f6e1ca"/>
<rect x="538.7" y="103.7" width="1.9" height="1.9" fill="#d6a983"/>
<rect x="540.7" y="103.7" width="1.9" height="1.9" fill="#64a566"/>
<rect x="528.7" y="105.7" width="1.9" height="1.9" fill="#e6ecc8"/>
<rect x="532.7" y="105.7" width="1.9" height="1.9" fill="#64a566"/>
<rect x="534.7" y="105.7" width="1.9" height="1.9" fill="#91c173"/>
<rect x="536.7" y="105.7" width="1.9" height="1.9" fill="#fcf0e1"/>
<rect x="538.7" y="105.7" width="1.9" height="1.9" fill="#91c173"/>
<rect x="530.7" y="107.7" width="1.9" height="1.9" fill="#f6e1ca"/>
<rect x="534.7" y="107.7" width="1.9" height="1.9" fill="#e6ecc8"/>
<rect x="536.7" y="107.7" width="1.9" height="1.9" fill="#e6ecc8"/>
<rect x="538.7" y="107.7" width="1.9" height="1.9" fill="#c9dfa7"/>
<rect x="542.6" y="107.7" width="1.9" height="1.9" fill="#519868"/>
<rect x="530.7" y="109.7" width="1.9" height="1.9" fill="#c9dfa7"/>
<rect x="532.7" y="109.7" width="1.9" height="1.9" fill="#91c173"/>
<rect x="534.7" y="109.7" width="1.9" height="1.9" fill="#e6ecc8"/>
<rect x="536.7" y="109.7" width="1.9" height="1.9" fill="#91c173"/>
<rect x="540.7" y="109.7" width="1.9" height="1.9" fill="#91c173"/>
<rect x="540.7" y="111.7" width="1.9" height="1.9" fill="#f6e1ca"/>
<rect x="577.5" y="106.2" width="1.9" height="1.9" fill="#78b266"/>
<rect x="581.5" y="106.2" width="1.9" height="1.9" fill="#91c173"/>
<rect x="589.5" y="108.2" width="1.9" height="1.9" fill="#ab764e"/>
<rect x="593.4" y="108.2" width="1.9" height="1.9" fill="#78b266"/>
<rect x="579.5" y="110.2" width="1.9" height="1.9" fill="#c9dfa7"/>
<rect x="581.5" y="110.2" width="1.9" height="1.9" fill="#78b266"/>
<rect x="587.5" y="110.2" width="1.9" height="1.9" fill="#fcf0e1"/>
<rect x="593.4" y="110.2" width="1.9" height="1.9" fill="#d6a983"/>
<rect x="595.4" y="110.2" width="1.9" height="1.9" fill="#91c173"/>
<rect x="599.4" y="110.2" width="1.9" height="1.9" fill="#f6e1ca"/>
<rect x="579.5" y="112.2" width="1.9" height="1.9" fill="#c08d65"/>
<rect x="583.5" y="112.2" width="1.9" height="1.9" fill="#ab764e"/>
<rect x="585.5" y="112.2" width="1.9" height="1.9" fill="#f6e1ca"/>
<rect x="591.4" y="112.2" width="1.9" height="1.9" fill="#f6e1ca"/>
<rect x="593.4" y="112.2" width="1.9" height="1.9" fill="#d6a983"/>
<rect x="595.4" y="112.2" width="1.9" height="1.9" fill="#f6e1ca"/>
<rect x="597.4" y="112.2" width="1.9" height="1.9" fill="#ab764e"/>
<rect x="599.4" y="112.2" width="1.9" height="1.9" fill="#fcf0e1"/>
<rect x="601.4" y="112.2" width="1.9" height="1.9" fill="#ab764e"/>
<rect x="605.4" y="112.2" width="1.9" height="1.9" fill="#91c173"/>
<rect x="593.4" y="114.2" width="1.9" height="1.9" fill="#fcf0e1"/>
<rect x="597.4" y="114.2" width="1.9" height="1.9" fill="#ab764e"/>
<rect x="599.4" y="114.2" width="1.9" height="1.9" fill="#d6a983"/>
<rect x="603.4" y="114.2" width="1.9" height="1.9" fill="#f6e1ca"/>
<rect x="605.4" y="114.2" width="1.9" height="1.9" fill="#fcf0e1"/>
<rect x="591.4" y="116.2" width="1.9" height="1.9" fill="#ab764e"/>
<rect x="593.4" y="116.2" width="1.9" height="1.9" fill="#78b266"/>
<rect x="597.4" y="116.2" width="1.9" height="1.9" fill="#78b266"/>
<rect x="603.4" y="116.2" width="1.9" height="1.9" fill="#91c173"/>
<rect x="605.4" y="116.2" width="1.9" height="1.9" fill="#ab764e"/>
<rect x="607.3" y="116.2" width="1.9" height="1.9" fill="#c08d65"/>
<rect x="609.3" y="116.2" width="1.9" height="1.9" fill="#c9dfa7"/>
<rect x="593.4" y="118.2" width="1.9" height="1.9" fill="#78b266"/>
<rect x="595.4" y="118.2" width="1.9" height="1.9" fill="#c9dfa7"/>
<rect x="597.4" y="118.2" width="1.9" height="1.9" fill="#c08d65"/>
<rect x="601.4" y="118.2" width="1.9" height="1.9" fill="#c9dfa7"/>
<rect x="603.4" y="118.2" width="1.9" height="1.9" fill="#78b266"/>
<rect x="609.3" y="118.2" width="1.9" height="1.9" fill="#fcf0e1"/>
<rect x="611.3" y="118.2" width="1.9" height="1.9" fill="#fcf0e1"/>
<rect x="591.4" y="120.2" width="1.9" height="1.9" fill="#91c173"/>
<rect x="595.4" y="120.2" width="1.9" height="1.9" fill="#eccbac"/>
<rect x="597.4" y="120.2" width="1.9" height="1.9" fill="#91c173"/>
<rect x="599.4" y="120.2" width="1.9" height="1.9" fill="#c08d65"/>
<rect x="601.4" y="120.2" width="1.9" height="1.9" fill="#91c173"/>
<rect x="603.4" y="120.2" width="1.9" height="1.9" fill="#d6a983"/>
<rect x="605.4" y="120.2" width="1.9" height="1.9" fill="#91c173"/>
<rect x="607.3" y="120.2" width="1.9" height="1.9" fill="#fcf0e1"/>
<rect x="611.3" y="120.2" width="1.9" height="1.9" fill="#fcf0e1"/>
<rect x="599.4" y="122.2" width="1.9" height="1.9" fill="#f6e1ca"/>
<rect x="601.4" y="122.2" width="1.9" height="1.9" fill="#f6e1ca"/>
<rect x="609.3" y="122.2" width="1.9" height="1.9" fill="#fcf0e1"/>
<rect x="611.3" y="122.2" width="1.9" height="1.9" fill="#78b266"/>
<rect x="611.3" y="124.3" width="1.9" height="1.9" fill="#eccbac"/>
<rect x="615.3" y="124.3" width="1.9" height="1.9" fill="#f6e1ca"/>
<rect x="615.3" y="126.3" width="1.9" height="1.9" fill="#c08d65"/>
<rect x="552.6" y="101.7" width="1.9" height="1.9" fill="#c9dfa7"/>
<rect x="558.5" y="101.7" width="1.9" height="1.9" fill="#c9dfa7"/>
<rect x="550.6" y="105.7" width="1.9" height="1.9" fill="#c9dfa7"/>
<rect x="550.6" y="107.7" width="1.9" height="1.9" fill="#fcf0e1"/>
<rect x="550.6" y="111.7" width="1.9" height="1.9" fill="#ab764e"/>
<rect x="550.6" y="113.8" width="1.9" height="1.9" fill="#fcf0e1"/>
<rect x="510.3" y="92.0" width="2" height="2" fill="#64a566"/>
<rect x="511.4" y="94.2" width="2" height="2" fill="#91c173"/>
<rect x="512.5" y="95.3" width="2" height="2" fill="#64a566"/>
<rect x="513.6" y="96.9" width="2" height="2" fill="#6c3f1b"/>
<rect x="509.2" y="89.7" width="2" height="2" fill="#428c66"/>
<rect x="508.8" y="90.9" width="2" height="2" fill="#64a566"/>
<rect x="513.2" y="92.4" width="2" height="2" fill="#428c66"/>
<rect x="514.1" y="94.7" width="2" height="2" fill="#64a566"/>
</g>
<rect x="66.30" y="37.10" width="617.40" height="134.10" fill="none" stroke="#333" stroke-width="1.2" />
<line x1="61.20" y1="37.10" x2="66.30" y2="37.10" stroke="#333" stroke-width="1.2" />
<text x="60.50" y="42.80" font-size="15" fill="#1a1a1a" text-anchor="end" stroke="#1a1a1a" stroke-width="0.25" >30°N</text>
<line x1="61.20" y1="104.15" x2="66.30" y2="104.15" stroke="#333" stroke-width="1.2" />
<text x="60.50" y="109.85" font-size="15" fill="#1a1a1a" text-anchor="end" stroke="#1a1a1a" stroke-width="0.25" >0°</text>
<line x1="61.20" y1="171.20" x2="66.30" y2="171.20" stroke="#333" stroke-width="1.2" />
<text x="60.50" y="177.40" font-size="15" fill="#1a1a1a" text-anchor="end" stroke="#1a1a1a" stroke-width="0.25" >30°S</text>
<line x1="154.72" y1="171.20" x2="154.72" y2="177.00" stroke="#333" stroke-width="1.2" />
<text x="154.72" y="188.60" font-size="15" fill="#1a1a1a" text-anchor="middle" stroke="#1a1a1a" stroke-width="0.25" >60°W</text>
<line x1="287.20" y1="171.20" x2="287.20" y2="177.00" stroke="#333" stroke-width="1.2" />
<text x="287.20" y="188.60" font-size="15" fill="#1a1a1a" text-anchor="middle" stroke="#1a1a1a" stroke-width="0.25" >0°</text>
<line x1="419.68" y1="171.20" x2="419.68" y2="177.00" stroke="#333" stroke-width="1.2" />
<text x="419.68" y="188.60" font-size="15" fill="#1a1a1a" text-anchor="middle" stroke="#1a1a1a" stroke-width="0.25" >60°E</text>
<line x1="552.16" y1="171.20" x2="552.16" y2="177.00" stroke="#333" stroke-width="1.2" />
<text x="552.16" y="188.60" font-size="15" fill="#1a1a1a" text-anchor="middle" stroke="#1a1a1a" stroke-width="0.25" >120°E</text>
<text x="351.20" y="207.70" font-size="15.4" fill="#1a1a1a" text-anchor="middle" stroke="#1a1a1a" stroke-width="0.25" >Longitude(°)</text>
<text x="18.70" y="104.20" font-size="15.8" fill="#1a1a1a" text-anchor="middle" transform="rotate(-90 18.70 104.20)" stroke="#1a1a1a" stroke-width="0.25" >Latitude(°)</text>
<text x="89.30" y="96.20" font-size="11.5" fill="#1a1a1a" text-anchor="middle" stroke="#1a1a1a" stroke-width="0.25" >LL</text>
<text x="88.00" y="109.20" font-size="11.6" fill="#1a1a1a" text-anchor="middle" stroke="#1a1a1a" stroke-width="0.25" >(yrs)</text>
<circle cx="74.7" cy="120.9" r="0.8" fill="#222"/>
<text x="84.40" y="124.50" font-size="9.9" fill="#1a1a1a" stroke="#1a1a1a" stroke-width="0.25" >&lt; 1.5</text>
<circle cx="74.7" cy="135.2" r="1.3" fill="none" stroke="#222" stroke-width="0.8"/>
<text x="81.80" y="138.80" font-size="9.9" fill="#1a1a1a" stroke="#1a1a1a" stroke-width="0.25" >1.5-2.1</text>
<circle cx="74.7" cy="149.5" r="1.7" fill="none" stroke="#222" stroke-width="0.8"/>
<text x="81.80" y="153.10" font-size="9.9" fill="#1a1a1a" stroke="#1a1a1a" stroke-width="0.25" >2.1 - 3</text>
<circle cx="74.7" cy="163.8" r="2.4" fill="none" stroke="#222" stroke-width="0.8"/>
<text x="84.40" y="167.40" font-size="9.9" fill="#1a1a1a" stroke="#1a1a1a" stroke-width="0.25" >&gt; 3</text>
<text x="631.60" y="56.20" font-size="11.2" fill="#1a1a1a" text-anchor="middle" stroke="#1a1a1a" stroke-width="0.25" >LL trends</text>
<text x="631.60" y="68.40" font-size="11.1" fill="#1a1a1a" text-anchor="middle" stroke="#1a1a1a" stroke-width="0.25" >(days per decade)</text>
<defs><linearGradient id="cbar" x1="0" x2="1" y1="0" y2="0"><stop offset="0.00" stop-color="#5f3714"/><stop offset="0.12" stop-color="#6e411c"/><stop offset="0.25" stop-color="#965f37"/><stop offset="0.38" stop-color="#cd9b73"/><stop offset="0.46" stop-color="#f0d2b4"/><stop offset="0.50" stop-color="#fcf0e1"/><stop offset="0.56" stop-color="#e1ebc3"/><stop offset="0.66" stop-color="#a5cd7d"/><stop offset="0.76" stop-color="#73af64"/><stop offset="0.88" stop-color="#469169"/><stop offset="1.00" stop-color="#2d7055"/></linearGradient></defs>
<path d="M600.4,79.5 L603.2,74.6 L660.4,74.6 L663,79.5 L660.4,84.4 L603.2,84.4 Z" fill="url(#cbar)" stroke="#222" stroke-width="0.8"/>
<line x1="603.30" y1="84.40" x2="603.30" y2="87.50" stroke="#222" stroke-width="0.8" />
<line x1="631.30" y1="84.40" x2="631.30" y2="87.50" stroke="#222" stroke-width="0.8" />
<line x1="659.40" y1="84.40" x2="659.40" y2="87.50" stroke="#222" stroke-width="0.8" />
<text x="603.30" y="99.00" font-size="10.5" fill="#1a1a1a" text-anchor="middle" stroke="#1a1a1a" stroke-width="0.25" >-180</text>
<text x="631.30" y="99.00" font-size="10.5" fill="#1a1a1a" text-anchor="middle" stroke="#1a1a1a" stroke-width="0.25" >0</text>
<text x="659.60" y="99.00" font-size="10.5" fill="#1a1a1a" text-anchor="middle" stroke="#1a1a1a" stroke-width="0.25" >180</text>
<text transform="translate(5.69,251.90) scale(0.9,1)" x="0" y="0" font-size="30.5" font-weight="bold" fill="#231815">B</text>
<defs><clipPath id="bclip"><rect x="67.8" y="257.3" width="274.8" height="123.7"/></clipPath></defs>
<g clip-path="url(#bclip)">
<path d="M67.80,379.50 C69.00,378.92 72.58,377.67 75.00,376.00 C77.42,374.33 80.30,372.17 82.30,369.50 C84.30,366.83 85.28,364.33 87.00,360.00 C88.72,355.67 90.65,349.58 92.60,343.50 C94.55,337.42 96.32,330.33 98.70,323.50 C101.08,316.67 103.83,308.25 106.90,302.50 C109.97,296.75 113.70,291.88 117.10,289.00 C120.50,286.12 123.90,285.42 127.30,285.20 C130.70,284.98 134.10,284.90 137.50,287.70 C140.90,290.50 144.28,296.62 147.70,302.00 C151.12,307.38 155.18,314.57 158.00,320.00 C160.82,325.43 162.28,330.22 164.60,334.60 C166.92,338.98 169.47,343.02 171.90,346.30 C174.33,349.58 176.77,352.12 179.20,354.30 C181.63,356.48 184.07,357.82 186.50,359.40 C188.93,360.98 191.37,362.33 193.80,363.80 C196.23,365.27 198.67,366.87 201.10,368.20 C203.53,369.53 205.97,370.88 208.40,371.80 C210.83,372.72 213.27,373.33 215.70,373.70 C218.13,374.07 220.57,374.07 223.00,374.00 C225.43,373.93 227.87,373.35 230.30,373.30 C232.73,373.25 234.32,373.33 237.60,373.70 C240.88,374.07 245.43,374.98 250.00,375.50 C254.57,376.02 259.22,376.40 265.00,376.80 C270.78,377.20 277.20,377.58 284.70,377.90 C292.20,378.22 300.35,378.47 310.00,378.70 C319.65,378.93 337.17,379.20 342.60,379.30 L342.60,381.00 L67.80,381.00 Z" fill="#999999" fill-opacity="0.25" stroke="none"/>
<path d="M67.80,378.50 C69.00,377.92 72.58,376.50 75.00,375.00 C77.42,373.50 79.97,371.58 82.30,369.50 C84.63,367.42 86.60,365.25 89.00,362.50 C91.40,359.75 93.72,357.92 96.70,353.00 C99.68,348.08 103.50,339.80 106.90,333.00 C110.30,326.20 113.70,318.48 117.10,312.20 C120.50,305.92 124.65,299.33 127.30,295.30 C129.95,291.27 130.95,289.68 133.00,288.00 C135.05,286.32 137.15,284.57 139.60,285.20 C142.05,285.83 144.63,287.63 147.70,291.80 C150.77,295.97 155.55,305.50 158.00,310.20 C160.45,314.90 160.57,316.18 162.40,320.00 C164.23,323.82 166.68,329.20 169.00,333.10 C171.32,337.00 173.38,340.23 176.30,343.40 C179.22,346.57 183.58,349.67 186.50,352.10 C189.42,354.53 191.37,356.17 193.80,358.00 C196.23,359.83 198.67,361.65 201.10,363.10 C203.53,364.55 205.97,365.73 208.40,366.70 C210.83,367.67 213.27,368.33 215.70,368.90 C218.13,369.47 220.57,369.78 223.00,370.10 C225.43,370.42 227.87,370.63 230.30,370.80 C232.73,370.97 234.32,370.80 237.60,371.10 C240.88,371.40 243.93,372.03 250.00,372.60 C256.07,373.17 265.67,373.90 274.00,374.50 C282.33,375.10 288.57,375.53 300.00,376.20 C311.43,376.87 335.50,378.12 342.60,378.50 L342.60,381.00 L67.80,381.00 Z" fill="#8b5a2b" fill-opacity="0.26" stroke="none"/>
<path d="M90.00,380.70 C93.33,380.58 104.17,380.37 110.00,380.00 C115.83,379.63 120.42,379.58 125.00,378.50 C129.58,377.42 133.33,375.95 137.50,373.50 C141.67,371.05 146.70,366.38 150.00,363.80 C153.30,361.22 154.87,360.43 157.30,358.00 C159.73,355.57 162.17,352.13 164.60,349.20 C167.03,346.27 169.47,342.95 171.90,340.40 C174.33,337.85 176.77,335.80 179.20,333.90 C181.63,332.00 184.07,330.22 186.50,329.00 C188.93,327.78 191.37,327.18 193.80,326.60 C196.23,326.02 198.67,325.63 201.10,325.50 C203.53,325.37 205.97,325.50 208.40,325.80 C210.83,326.10 213.27,326.57 215.70,327.30 C218.13,328.03 220.32,329.00 223.00,330.20 C225.68,331.40 228.58,332.92 231.80,334.50 C235.02,336.08 238.78,337.87 242.30,339.70 C245.82,341.53 249.37,343.73 252.90,345.50 C256.43,347.27 259.97,348.78 263.50,350.30 C267.03,351.82 270.57,353.37 274.10,354.60 C277.63,355.83 281.17,356.75 284.70,357.70 C288.23,358.65 291.78,359.67 295.30,360.30 C298.82,360.93 302.28,361.05 305.80,361.50 C309.32,361.95 312.87,362.28 316.40,363.00 C319.93,363.72 322.63,364.73 327.00,365.80 C331.37,366.87 340.00,368.80 342.60,369.40 L342.60,381.00 L90.00,381.00 Z" fill="#222222" fill-opacity="0.2" stroke="none"/>
<path d="M100.00,380.80 C103.33,380.72 113.75,380.83 120.00,380.30 C126.25,379.77 132.50,379.13 137.50,377.60 C142.50,376.07 146.70,372.92 150.00,371.10 C153.30,369.28 154.87,368.65 157.30,366.70 C159.73,364.75 162.17,362.07 164.60,359.40 C167.03,356.73 169.47,353.62 171.90,350.70 C174.33,347.78 176.77,344.58 179.20,341.90 C181.63,339.22 184.07,336.67 186.50,334.60 C188.93,332.53 191.37,330.83 193.80,329.50 C196.23,328.17 198.67,327.27 201.10,326.60 C203.53,325.93 205.97,325.63 208.40,325.50 C210.83,325.37 213.27,325.45 215.70,325.80 C218.13,326.15 220.32,326.58 223.00,327.60 C225.68,328.62 228.58,330.40 231.80,331.90 C235.02,333.40 238.78,334.77 242.30,336.60 C245.82,338.43 249.37,340.97 252.90,342.90 C256.43,344.83 259.97,346.43 263.50,348.20 C267.03,349.97 270.57,351.98 274.10,353.50 C277.63,355.02 281.17,356.23 284.70,357.30 C288.23,358.37 291.78,359.20 295.30,359.90 C298.82,360.60 302.28,360.98 305.80,361.50 C309.32,362.02 312.87,362.50 316.40,363.00 C319.93,363.50 322.63,363.90 327.00,364.50 C331.37,365.10 340.00,366.25 342.60,366.60 L342.60,381.00 L100.00,381.00 Z" fill="#2e7d32" fill-opacity="0.27" stroke="none"/>
<line x1="139.20" y1="289.50" x2="139.20" y2="381.00" stroke="#999" stroke-width="1.1" stroke-dasharray="3.5,2.2"/>
<line x1="159.60" y1="314.50" x2="159.60" y2="381.00" stroke="#7b4a14" stroke-width="1.1" stroke-dasharray="3.5,2.2"/>
<line x1="240.90" y1="339.00" x2="240.90" y2="381.00" stroke="#333" stroke-width="1.3" stroke-dasharray="3.5,2.2"/>
<line x1="251.20" y1="342.00" x2="251.20" y2="381.00" stroke="#168a16" stroke-width="1.0" stroke-dasharray="3.5,2.2"/>
<path d="M67.80,379.50 C69.00,378.92 72.58,377.67 75.00,376.00 C77.42,374.33 80.30,372.17 82.30,369.50 C84.30,366.83 85.28,364.33 87.00,360.00 C88.72,355.67 90.65,349.58 92.60,343.50 C94.55,337.42 96.32,330.33 98.70,323.50 C101.08,316.67 103.83,308.25 106.90,302.50 C109.97,296.75 113.70,291.88 117.10,289.00 C120.50,286.12 123.90,285.42 127.30,285.20 C130.70,284.98 134.10,284.90 137.50,287.70 C140.90,290.50 144.28,296.62 147.70,302.00 C151.12,307.38 155.18,314.57 158.00,320.00 C160.82,325.43 162.28,330.22 164.60,334.60 C166.92,338.98 169.47,343.02 171.90,346.30 C174.33,349.58 176.77,352.12 179.20,354.30 C181.63,356.48 184.07,357.82 186.50,359.40 C188.93,360.98 191.37,362.33 193.80,363.80 C196.23,365.27 198.67,366.87 201.10,368.20 C203.53,369.53 205.97,370.88 208.40,371.80 C210.83,372.72 213.27,373.33 215.70,373.70 C218.13,374.07 220.57,374.07 223.00,374.00 C225.43,373.93 227.87,373.35 230.30,373.30 C232.73,373.25 234.32,373.33 237.60,373.70 C240.88,374.07 245.43,374.98 250.00,375.50 C254.57,376.02 259.22,376.40 265.00,376.80 C270.78,377.20 277.20,377.58 284.70,377.90 C292.20,378.22 300.35,378.47 310.00,378.70 C319.65,378.93 337.17,379.20 342.60,379.30" fill="none" stroke="#999999" stroke-width="1.0"/>
<path d="M67.80,378.50 C69.00,377.92 72.58,376.50 75.00,375.00 C77.42,373.50 79.97,371.58 82.30,369.50 C84.63,367.42 86.60,365.25 89.00,362.50 C91.40,359.75 93.72,357.92 96.70,353.00 C99.68,348.08 103.50,339.80 106.90,333.00 C110.30,326.20 113.70,318.48 117.10,312.20 C120.50,305.92 124.65,299.33 127.30,295.30 C129.95,291.27 130.95,289.68 133.00,288.00 C135.05,286.32 137.15,284.57 139.60,285.20 C142.05,285.83 144.63,287.63 147.70,291.80 C150.77,295.97 155.55,305.50 158.00,310.20 C160.45,314.90 160.57,316.18 162.40,320.00 C164.23,323.82 166.68,329.20 169.00,333.10 C171.32,337.00 173.38,340.23 176.30,343.40 C179.22,346.57 183.58,349.67 186.50,352.10 C189.42,354.53 191.37,356.17 193.80,358.00 C196.23,359.83 198.67,361.65 201.10,363.10 C203.53,364.55 205.97,365.73 208.40,366.70 C210.83,367.67 213.27,368.33 215.70,368.90 C218.13,369.47 220.57,369.78 223.00,370.10 C225.43,370.42 227.87,370.63 230.30,370.80 C232.73,370.97 234.32,370.80 237.60,371.10 C240.88,371.40 243.93,372.03 250.00,372.60 C256.07,373.17 265.67,373.90 274.00,374.50 C282.33,375.10 288.57,375.53 300.00,376.20 C311.43,376.87 335.50,378.12 342.60,378.50" fill="none" stroke="#7b4a14" stroke-width="1.0"/>
<path d="M90.00,380.70 C93.33,380.58 104.17,380.37 110.00,380.00 C115.83,379.63 120.42,379.58 125.00,378.50 C129.58,377.42 133.33,375.95 137.50,373.50 C141.67,371.05 146.70,366.38 150.00,363.80 C153.30,361.22 154.87,360.43 157.30,358.00 C159.73,355.57 162.17,352.13 164.60,349.20 C167.03,346.27 169.47,342.95 171.90,340.40 C174.33,337.85 176.77,335.80 179.20,333.90 C181.63,332.00 184.07,330.22 186.50,329.00 C188.93,327.78 191.37,327.18 193.80,326.60 C196.23,326.02 198.67,325.63 201.10,325.50 C203.53,325.37 205.97,325.50 208.40,325.80 C210.83,326.10 213.27,326.57 215.70,327.30 C218.13,328.03 220.32,329.00 223.00,330.20 C225.68,331.40 228.58,332.92 231.80,334.50 C235.02,336.08 238.78,337.87 242.30,339.70 C245.82,341.53 249.37,343.73 252.90,345.50 C256.43,347.27 259.97,348.78 263.50,350.30 C267.03,351.82 270.57,353.37 274.10,354.60 C277.63,355.83 281.17,356.75 284.70,357.70 C288.23,358.65 291.78,359.67 295.30,360.30 C298.82,360.93 302.28,361.05 305.80,361.50 C309.32,361.95 312.87,362.28 316.40,363.00 C319.93,363.72 322.63,364.73 327.00,365.80 C331.37,366.87 340.00,368.80 342.60,369.40" fill="none" stroke="#111111" stroke-width="1.0"/>
<path d="M100.00,380.80 C103.33,380.72 113.75,380.83 120.00,380.30 C126.25,379.77 132.50,379.13 137.50,377.60 C142.50,376.07 146.70,372.92 150.00,371.10 C153.30,369.28 154.87,368.65 157.30,366.70 C159.73,364.75 162.17,362.07 164.60,359.40 C167.03,356.73 169.47,353.62 171.90,350.70 C174.33,347.78 176.77,344.58 179.20,341.90 C181.63,339.22 184.07,336.67 186.50,334.60 C188.93,332.53 191.37,330.83 193.80,329.50 C196.23,328.17 198.67,327.27 201.10,326.60 C203.53,325.93 205.97,325.63 208.40,325.50 C210.83,325.37 213.27,325.45 215.70,325.80 C218.13,326.15 220.32,326.58 223.00,327.60 C225.68,328.62 228.58,330.40 231.80,331.90 C235.02,333.40 238.78,334.77 242.30,336.60 C245.82,338.43 249.37,340.97 252.90,342.90 C256.43,344.83 259.97,346.43 263.50,348.20 C267.03,349.97 270.57,351.98 274.10,353.50 C277.63,355.02 281.17,356.23 284.70,357.30 C288.23,358.37 291.78,359.20 295.30,359.90 C298.82,360.60 302.28,360.98 305.80,361.50 C309.32,362.02 312.87,362.50 316.40,363.00 C319.93,363.50 322.63,363.90 327.00,364.50 C331.37,365.10 340.00,366.25 342.60,366.60" fill="none" stroke="#168a16" stroke-width="1.0"/>
</g>
<rect x="67.80" y="257.30" width="274.80" height="123.70" fill="none" stroke="#222" stroke-width="1.1" />
<text x="143.20" y="284.60" font-size="12" fill="#999" text-anchor="middle" stroke="#999" stroke-width="0.25" >1.13</text>
<text x="169.00" y="311.80" font-size="12" fill="#7b4a14" text-anchor="middle" stroke="#7b4a14" stroke-width="0.25" >1.28</text>
<text x="243.00" y="337.50" font-size="12" fill="#111" text-anchor="middle" stroke="#111" stroke-width="0.25" >2.09</text>
<text x="268.00" y="341.20" font-size="12" fill="#168a16" text-anchor="middle" stroke="#168a16" stroke-width="0.25" >2.18</text>
<line x1="250.00" y1="271.00" x2="272.00" y2="271.00" stroke="#168a16" stroke-width="1.5" />
<text x="281.70" y="274.00" font-size="8.6" fill="#1f8f1f" textLength="28.90" lengthAdjust="spacingAndGlyphs" stroke="#1f8f1f" stroke-width="0.25" >Amazon</text>
<line x1="250.00" y1="283.60" x2="272.00" y2="283.60" stroke="#7b4a14" stroke-width="1.5" />
<text x="281.70" y="286.60" font-size="8.6" fill="#7b4a14" textLength="23.10" lengthAdjust="spacingAndGlyphs" stroke="#7b4a14" stroke-width="0.25" >Congo</text>
<line x1="250.00" y1="296.00" x2="272.00" y2="296.00" stroke="#111111" stroke-width="1.5" />
<text x="281.70" y="299.00" font-size="8.6" fill="#111" textLength="45.20" lengthAdjust="spacingAndGlyphs" stroke="#111" stroke-width="0.25" >Tropical Asia</text>
<line x1="250.00" y1="308.80" x2="272.00" y2="308.80" stroke="#999999" stroke-width="1.5" />
<text x="281.70" y="311.80" font-size="8.6" fill="#999" textLength="56.50" lengthAdjust="spacingAndGlyphs" stroke="#999" stroke-width="0.25" >Subtropical Asia</text>
<line x1="64.20" y1="271.20" x2="67.80" y2="271.20" stroke="#222" stroke-width="1.1" />
<text x="64.00" y="276.80" font-size="16" fill="#1a1a1a" text-anchor="end" stroke="#1a1a1a" stroke-width="0.25" >1.5</text>
<line x1="64.20" y1="307.80" x2="67.80" y2="307.80" stroke="#222" stroke-width="1.1" />
<text x="64.00" y="313.40" font-size="16" fill="#1a1a1a" text-anchor="end" stroke="#1a1a1a" stroke-width="0.25" >1</text>
<line x1="64.20" y1="344.40" x2="67.80" y2="344.40" stroke="#222" stroke-width="1.1" />
<text x="64.00" y="350.00" font-size="16" fill="#1a1a1a" text-anchor="end" stroke="#1a1a1a" stroke-width="0.25" >0.5</text>
<line x1="64.20" y1="381.00" x2="67.80" y2="381.00" stroke="#222" stroke-width="1.1" />
<text x="64.00" y="386.60" font-size="16" fill="#1a1a1a" text-anchor="end" stroke="#1a1a1a" stroke-width="0.25" >0</text>
<line x1="128.70" y1="381.00" x2="128.70" y2="384.50" stroke="#222" stroke-width="1.1" />
<text x="128.70" y="397.20" font-size="16.5" fill="#1a1a1a" text-anchor="middle" stroke="#1a1a1a" stroke-width="0.25" >1</text>
<line x1="230.80" y1="381.00" x2="230.80" y2="384.50" stroke="#222" stroke-width="1.1" />
<text x="230.80" y="397.20" font-size="16.5" fill="#1a1a1a" text-anchor="middle" stroke="#1a1a1a" stroke-width="0.25" >2</text>
<line x1="332.90" y1="381.00" x2="332.90" y2="384.50" stroke="#222" stroke-width="1.1" />
<text x="332.90" y="397.20" font-size="16.5" fill="#1a1a1a" text-anchor="middle" stroke="#1a1a1a" stroke-width="0.25" >3</text>
<text x="205.80" y="417.00" font-size="17.2" fill="#1a1a1a" text-anchor="middle" stroke="#1a1a1a" stroke-width="0.25" >LL (yrs)</text>
<text x="19.40" y="319.00" font-size="17.6" fill="#1a1a1a" text-anchor="middle" transform="rotate(-90 19.40 319.00)" stroke="#1a1a1a" stroke-width="0.25" >Density</text>
<text transform="translate(367.27,251.90) scale(0.9,1)" x="0" y="0" font-size="30.5" font-weight="bold" fill="#231815">C</text>
<defs><clipPath id="cclip"><rect x="420.7" y="257.4" width="264" height="123.8"/></clipPath></defs>
<g clip-path="url(#cclip)">
<path d="M420.70,380.50 C425.58,380.47 440.23,380.42 450.00,380.30 C459.77,380.18 471.02,381.10 479.30,379.80 C487.58,378.50 492.88,374.90 499.70,372.50 C506.52,370.10 514.75,367.95 520.20,365.40 C525.65,362.85 529.63,360.07 532.40,357.20 C535.17,354.33 535.22,354.32 536.80,348.20 C538.38,342.08 540.32,328.77 541.90,320.50 C543.48,312.23 544.83,305.17 546.30,298.60 C547.77,292.03 549.37,284.87 550.70,281.10 C552.03,277.33 553.08,276.25 554.30,276.00 C555.52,275.75 556.67,276.57 558.00,279.60 C559.33,282.63 560.85,288.85 562.30,294.20 C563.75,299.55 565.23,306.10 566.70,311.70 C568.17,317.30 569.15,321.95 571.10,327.80 C573.05,333.65 575.97,341.70 578.40,346.80 C580.83,351.90 582.78,355.25 585.70,358.40 C588.62,361.55 590.18,363.35 595.90,365.70 C601.62,368.05 611.45,370.87 620.00,372.50 C628.55,374.13 636.45,374.58 647.20,375.50 C657.95,376.42 678.28,377.58 684.50,378.00 L684.50,381.20 L420.70,381.20 Z" fill="#999999" fill-opacity="0.25" stroke="none"/>
<path d="M420.70,380.60 C430.58,380.55 466.78,380.52 480.00,380.30 C493.22,380.08 494.67,379.77 500.00,379.30 C505.33,378.83 508.67,378.42 512.00,377.50 C515.33,376.58 517.45,376.48 520.00,373.80 C522.55,371.12 524.87,365.55 527.30,361.40 C529.73,357.25 532.17,353.90 534.60,348.90 C537.03,343.90 539.47,336.02 541.90,331.40 C544.33,326.78 546.28,324.00 549.20,321.20 C552.12,318.40 556.48,315.57 559.40,314.60 C562.32,313.63 564.02,314.18 566.70,315.40 C569.38,316.62 572.33,318.87 575.50,321.90 C578.67,324.93 582.30,329.45 585.70,333.60 C589.10,337.75 592.73,342.67 595.90,346.80 C599.07,350.93 601.78,355.00 604.70,358.40 C607.62,361.80 610.85,364.77 613.40,367.20 C615.95,369.63 617.23,371.37 620.00,373.00 C622.77,374.63 625.47,376.00 630.00,377.00 C634.53,378.00 638.12,378.48 647.20,379.00 C656.28,379.52 678.28,379.92 684.50,380.10 L684.50,381.20 L420.70,381.20 Z" fill="#8b5a2b" fill-opacity="0.26" stroke="none"/>
<path d="M420.70,376.20 C423.65,375.75 432.03,374.45 438.40,373.50 C444.77,372.55 452.08,371.35 458.90,370.50 C465.72,369.65 472.50,369.08 479.30,368.40 C486.10,367.72 492.88,367.08 499.70,366.40 C506.52,365.72 515.08,364.82 520.20,364.30 C525.32,363.78 527.00,363.53 530.40,363.30 C533.80,363.07 536.00,363.00 540.60,362.90 C545.20,362.80 552.27,362.63 558.00,362.70 C563.73,362.77 568.65,362.92 575.00,363.30 C581.35,363.68 590.88,364.48 596.10,365.00 C601.32,365.52 601.20,365.73 606.30,366.40 C611.40,367.07 619.88,368.22 626.70,369.00 C633.52,369.78 640.38,370.52 647.20,371.10 C654.02,371.68 661.38,372.10 667.60,372.50 C673.82,372.90 681.68,373.33 684.50,373.50 L684.50,381.20 L420.70,381.20 Z" fill="#222222" fill-opacity="0.2" stroke="none"/>
<path d="M420.70,377.80 C423.65,377.27 433.73,375.65 438.40,374.60 C443.07,373.55 445.28,372.70 448.70,371.50 C452.12,370.30 455.50,368.93 458.90,367.40 C462.30,365.87 465.70,364.00 469.10,362.30 C472.50,360.60 475.90,358.80 479.30,357.20 C482.70,355.60 486.10,354.00 489.50,352.70 C492.90,351.40 496.28,350.28 499.70,349.40 C503.12,348.52 506.58,347.87 510.00,347.40 C513.42,346.93 516.80,346.60 520.20,346.60 C523.60,346.60 527.00,346.83 530.40,347.40 C533.80,347.97 538.17,349.32 540.60,350.00 C543.03,350.68 543.30,350.83 545.00,351.50 C546.70,352.17 549.13,353.05 550.80,354.00 C552.47,354.95 552.57,355.82 555.00,357.20 C557.43,358.58 561.97,360.77 565.40,362.30 C568.83,363.83 572.18,365.20 575.60,366.40 C579.02,367.60 580.78,368.32 585.90,369.50 C591.02,370.68 599.50,372.32 606.30,373.50 C613.10,374.68 619.88,375.82 626.70,376.60 C633.52,377.38 637.57,377.68 647.20,378.20 C656.83,378.72 678.28,379.45 684.50,379.70 L684.50,381.20 L420.70,381.20 Z" fill="#2e7d32" fill-opacity="0.27" stroke="none"/>
<line x1="526.30" y1="347.00" x2="526.30" y2="381.20" stroke="#168a16" stroke-width="1.0" stroke-dasharray="3.5,2.2"/>
<line x1="550.50" y1="363.00" x2="550.50" y2="381.20" stroke="#111" stroke-width="1.2" stroke-dasharray="3.5,2.2"/>
<line x1="553.80" y1="276.00" x2="553.80" y2="381.20" stroke="#999" stroke-width="1.1" stroke-dasharray="3.5,2.2"/>
<line x1="559.30" y1="315.00" x2="559.30" y2="381.20" stroke="#7b4a14" stroke-width="1.1" stroke-dasharray="3.5,2.2"/>
<path d="M420.70,380.50 C425.58,380.47 440.23,380.42 450.00,380.30 C459.77,380.18 471.02,381.10 479.30,379.80 C487.58,378.50 492.88,374.90 499.70,372.50 C506.52,370.10 514.75,367.95 520.20,365.40 C525.65,362.85 529.63,360.07 532.40,357.20 C535.17,354.33 535.22,354.32 536.80,348.20 C538.38,342.08 540.32,328.77 541.90,320.50 C543.48,312.23 544.83,305.17 546.30,298.60 C547.77,292.03 549.37,284.87 550.70,281.10 C552.03,277.33 553.08,276.25 554.30,276.00 C555.52,275.75 556.67,276.57 558.00,279.60 C559.33,282.63 560.85,288.85 562.30,294.20 C563.75,299.55 565.23,306.10 566.70,311.70 C568.17,317.30 569.15,321.95 571.10,327.80 C573.05,333.65 575.97,341.70 578.40,346.80 C580.83,351.90 582.78,355.25 585.70,358.40 C588.62,361.55 590.18,363.35 595.90,365.70 C601.62,368.05 611.45,370.87 620.00,372.50 C628.55,374.13 636.45,374.58 647.20,375.50 C657.95,376.42 678.28,377.58 684.50,378.00" fill="none" stroke="#999999" stroke-width="1.0"/>
<path d="M420.70,380.60 C430.58,380.55 466.78,380.52 480.00,380.30 C493.22,380.08 494.67,379.77 500.00,379.30 C505.33,378.83 508.67,378.42 512.00,377.50 C515.33,376.58 517.45,376.48 520.00,373.80 C522.55,371.12 524.87,365.55 527.30,361.40 C529.73,357.25 532.17,353.90 534.60,348.90 C537.03,343.90 539.47,336.02 541.90,331.40 C544.33,326.78 546.28,324.00 549.20,321.20 C552.12,318.40 556.48,315.57 559.40,314.60 C562.32,313.63 564.02,314.18 566.70,315.40 C569.38,316.62 572.33,318.87 575.50,321.90 C578.67,324.93 582.30,329.45 585.70,333.60 C589.10,337.75 592.73,342.67 595.90,346.80 C599.07,350.93 601.78,355.00 604.70,358.40 C607.62,361.80 610.85,364.77 613.40,367.20 C615.95,369.63 617.23,371.37 620.00,373.00 C622.77,374.63 625.47,376.00 630.00,377.00 C634.53,378.00 638.12,378.48 647.20,379.00 C656.28,379.52 678.28,379.92 684.50,380.10" fill="none" stroke="#7b4a14" stroke-width="1.0"/>
<path d="M420.70,376.20 C423.65,375.75 432.03,374.45 438.40,373.50 C444.77,372.55 452.08,371.35 458.90,370.50 C465.72,369.65 472.50,369.08 479.30,368.40 C486.10,367.72 492.88,367.08 499.70,366.40 C506.52,365.72 515.08,364.82 520.20,364.30 C525.32,363.78 527.00,363.53 530.40,363.30 C533.80,363.07 536.00,363.00 540.60,362.90 C545.20,362.80 552.27,362.63 558.00,362.70 C563.73,362.77 568.65,362.92 575.00,363.30 C581.35,363.68 590.88,364.48 596.10,365.00 C601.32,365.52 601.20,365.73 606.30,366.40 C611.40,367.07 619.88,368.22 626.70,369.00 C633.52,369.78 640.38,370.52 647.20,371.10 C654.02,371.68 661.38,372.10 667.60,372.50 C673.82,372.90 681.68,373.33 684.50,373.50" fill="none" stroke="#111111" stroke-width="1.0"/>
<path d="M420.70,377.80 C423.65,377.27 433.73,375.65 438.40,374.60 C443.07,373.55 445.28,372.70 448.70,371.50 C452.12,370.30 455.50,368.93 458.90,367.40 C462.30,365.87 465.70,364.00 469.10,362.30 C472.50,360.60 475.90,358.80 479.30,357.20 C482.70,355.60 486.10,354.00 489.50,352.70 C492.90,351.40 496.28,350.28 499.70,349.40 C503.12,348.52 506.58,347.87 510.00,347.40 C513.42,346.93 516.80,346.60 520.20,346.60 C523.60,346.60 527.00,346.83 530.40,347.40 C533.80,347.97 538.17,349.32 540.60,350.00 C543.03,350.68 543.30,350.83 545.00,351.50 C546.70,352.17 549.13,353.05 550.80,354.00 C552.47,354.95 552.57,355.82 555.00,357.20 C557.43,358.58 561.97,360.77 565.40,362.30 C568.83,363.83 572.18,365.20 575.60,366.40 C579.02,367.60 580.78,368.32 585.90,369.50 C591.02,370.68 599.50,372.32 606.30,373.50 C613.10,374.68 619.88,375.82 626.70,376.60 C633.52,377.38 637.57,377.68 647.20,378.20 C656.83,378.72 678.28,379.45 684.50,379.70" fill="none" stroke="#168a16" stroke-width="1.0"/>
</g>
<rect x="420.70" y="257.40" width="264.00" height="123.80" fill="none" stroke="#222" stroke-width="1.1" />
<text x="521.80" y="347.00" font-size="12" fill="#168a16" text-anchor="middle" stroke="#168a16" stroke-width="0.25" >-44</text>
<text x="546.50" y="360.00" font-size="12" fill="#111" text-anchor="middle" stroke="#111" stroke-width="0.25" >-4</text>
<text x="554.00" y="275.30" font-size="12" fill="#999" text-anchor="middle" stroke="#999" stroke-width="0.25" >5</text>
<text x="566.00" y="312.80" font-size="12" fill="#7b4a14" text-anchor="middle" stroke="#7b4a14" stroke-width="0.25" >22</text>
<line x1="600.20" y1="270.30" x2="623.70" y2="270.30" stroke="#168a16" stroke-width="1.5" />
<text x="627.40" y="273.30" font-size="8.6" fill="#1f8f1f" textLength="28.00" lengthAdjust="spacingAndGlyphs" stroke="#1f8f1f" stroke-width="0.25" >Amazon</text>
<line x1="600.20" y1="281.60" x2="623.70" y2="281.60" stroke="#7b4a14" stroke-width="1.5" />
<text x="627.40" y="284.60" font-size="8.6" fill="#7b4a14" textLength="22.90" lengthAdjust="spacingAndGlyphs" stroke="#7b4a14" stroke-width="0.25" >Congo</text>
<line x1="600.20" y1="293.00" x2="623.70" y2="293.00" stroke="#111111" stroke-width="1.5" />
<text x="627.40" y="296.00" font-size="8.6" fill="#111" textLength="43.30" lengthAdjust="spacingAndGlyphs" stroke="#111" stroke-width="0.25" >Tropical Asia</text>
<line x1="600.20" y1="304.50" x2="623.70" y2="304.50" stroke="#999999" stroke-width="1.5" />
<text x="627.40" y="307.50" font-size="8.6" fill="#999" textLength="54.00" lengthAdjust="spacingAndGlyphs" stroke="#999" stroke-width="0.25" >Subtropical Asia</text>
<line x1="417.20" y1="266.60" x2="420.70" y2="266.60" stroke="#222" stroke-width="1.1" />
<text x="417.00" y="272.20" font-size="16" fill="#1a1a1a" text-anchor="end" stroke="#1a1a1a" stroke-width="0.25" >60</text>
<line x1="417.20" y1="323.90" x2="420.70" y2="323.90" stroke="#222" stroke-width="1.1" />
<text x="417.00" y="329.50" font-size="16" fill="#1a1a1a" text-anchor="end" stroke="#1a1a1a" stroke-width="0.25" >30</text>
<line x1="417.20" y1="381.20" x2="420.70" y2="381.20" stroke="#222" stroke-width="1.1" />
<text x="417.00" y="386.80" font-size="16" fill="#1a1a1a" text-anchor="end" stroke="#1a1a1a" stroke-width="0.25" >0</text>
<line x1="441.80" y1="381.20" x2="441.80" y2="384.70" stroke="#222" stroke-width="1.1" />
<text x="441.80" y="397.20" font-size="16.5" fill="#1a1a1a" text-anchor="middle" stroke="#1a1a1a" stroke-width="0.25" >-180</text>
<line x1="552.30" y1="381.20" x2="552.30" y2="384.70" stroke="#222" stroke-width="1.1" />
<text x="552.30" y="397.20" font-size="16.5" fill="#1a1a1a" text-anchor="middle" stroke="#1a1a1a" stroke-width="0.25" >0</text>
<line x1="662.80" y1="381.20" x2="662.80" y2="384.70" stroke="#222" stroke-width="1.1" />
<text x="662.80" y="397.20" font-size="16.5" fill="#1a1a1a" text-anchor="middle" stroke="#1a1a1a" stroke-width="0.25" >180</text>
<text x="551.30" y="416.80" font-size="16.4" fill="#1a1a1a" text-anchor="middle" textLength="208.50" lengthAdjust="spacingAndGlyphs" stroke="#1a1a1a" stroke-width="0.25" >LL trends  (days per decade)</text>
<text x="379.20" y="319.00" font-size="17.6" fill="#1a1a1a" text-anchor="middle" transform="rotate(-90 379.20 319.00)" stroke="#1a1a1a" stroke-width="0.25" >Density</text>
<text transform="translate(2.49,455.20) scale(0.9,1)" x="0" y="0" font-size="30.5" font-weight="bold" fill="#231815">D</text>
<rect x="82.60" y="465.20" width="240.00" height="172.80" fill="#fff" stroke="none" stroke-width="1" />
<rect x="93.62" y="511.20" width="3.55" height="5.75" fill="#95b9dc" stroke="#8c8c8c" stroke-width="0.7" />
<rect x="97.78" y="511.20" width="3.55" height="1.72" fill="#95b9dc" stroke="#8c8c8c" stroke-width="0.7" />
<rect x="101.92" y="511.20" width="3.55" height="0.00" fill="#95b9dc" stroke="#8c8c8c" stroke-width="0.7" />
<rect x="106.08" y="510.05" width="3.55" height="1.15" fill="#95b9dc" stroke="#8c8c8c" stroke-width="0.7" />
<rect x="110.22" y="509.47" width="3.55" height="1.73" fill="#95b9dc" stroke="#8c8c8c" stroke-width="0.7" />
<rect x="114.38" y="507.75" width="3.55" height="3.45" fill="#95b9dc" stroke="#8c8c8c" stroke-width="0.7" />
<rect x="118.53" y="502.00" width="3.55" height="9.20" fill="#95b9dc" stroke="#8c8c8c" stroke-width="0.7" />
<rect x="122.68" y="503.15" width="3.55" height="8.05" fill="#95b9dc" stroke="#8c8c8c" stroke-width="0.7" />
<rect x="126.83" y="505.45" width="3.55" height="5.75" fill="#95b9dc" stroke="#8c8c8c" stroke-width="0.7" />
<rect x="130.98" y="504.30" width="3.55" height="6.90" fill="#95b9dc" stroke="#8c8c8c" stroke-width="0.7" />
<rect x="135.13" y="503.15" width="3.55" height="8.05" fill="#95b9dc" stroke="#8c8c8c" stroke-width="0.7" />
<rect x="139.28" y="502.00" width="3.55" height="9.20" fill="#95b9dc" stroke="#8c8c8c" stroke-width="0.7" />
<rect x="143.43" y="500.85" width="3.55" height="10.35" fill="#95b9dc" stroke="#8c8c8c" stroke-width="0.7" />
<rect x="147.58" y="500.85" width="3.55" height="10.35" fill="#95b9dc" stroke="#8c8c8c" stroke-width="0.7" />
<rect x="151.73" y="495.10" width="3.55" height="16.10" fill="#95b9dc" stroke="#8c8c8c" stroke-width="0.7" />
<rect x="155.88" y="503.15" width="3.55" height="8.05" fill="#95b9dc" stroke="#8c8c8c" stroke-width="0.7" />
<rect x="160.03" y="505.45" width="3.55" height="5.75" fill="#95b9dc" stroke="#8c8c8c" stroke-width="0.7" />
<rect x="164.18" y="507.75" width="3.55" height="3.45" fill="#95b9dc" stroke="#8c8c8c" stroke-width="0.7" />
<rect x="168.33" y="504.30" width="3.55" height="6.90" fill="#95b9dc" stroke="#8c8c8c" stroke-width="0.7" />
<rect x="172.48" y="506.60" width="3.55" height="4.60" fill="#95b9dc" stroke="#8c8c8c" stroke-width="0.7" />
<rect x="176.63" y="502.00" width="3.55" height="9.20" fill="#95b9dc" stroke="#8c8c8c" stroke-width="0.7" />
<rect x="180.78" y="497.40" width="3.55" height="13.80" fill="#95b9dc" stroke="#8c8c8c" stroke-width="0.7" />
<rect x="184.93" y="492.80" width="3.55" height="18.40" fill="#95b9dc" stroke="#8c8c8c" stroke-width="0.7" />
<rect x="189.08" y="511.20" width="3.55" height="1.15" fill="#95b9dc" stroke="#8c8c8c" stroke-width="0.7" />
<rect x="193.90" y="511.20" width="3.80" height="22.43" fill="#95b9dc" stroke="#8c8c8c" stroke-width="0.7" />
<rect x="198.30" y="511.20" width="3.80" height="25.30" fill="#95b9dc" stroke="#8c8c8c" stroke-width="0.7" />
<rect x="202.70" y="511.20" width="3.80" height="7.24" fill="#95b9dc" stroke="#8c8c8c" stroke-width="0.7" />
<rect x="207.10" y="511.20" width="3.80" height="8.05" fill="#95b9dc" stroke="#8c8c8c" stroke-width="0.7" />
<rect x="211.50" y="511.20" width="3.80" height="42.20" fill="#95b9dc" stroke="#8c8c8c" stroke-width="0.7" />
<rect x="215.90" y="511.20" width="3.80" height="39.10" fill="#95b9dc" stroke="#8c8c8c" stroke-width="0.7" />
<rect x="220.30" y="511.20" width="3.80" height="44.85" fill="#95b9dc" stroke="#8c8c8c" stroke-width="0.7" />
<rect x="224.70" y="511.20" width="3.80" height="40.25" fill="#95b9dc" stroke="#8c8c8c" stroke-width="0.7" />
<rect x="229.10" y="511.20" width="3.80" height="56.35" fill="#95b9dc" stroke="#8c8c8c" stroke-width="0.7" />
<rect x="233.50" y="511.20" width="3.80" height="43.24" fill="#95b9dc" stroke="#8c8c8c" stroke-width="0.7" />
<rect x="237.90" y="511.20" width="3.80" height="50.60" fill="#95b9dc" stroke="#8c8c8c" stroke-width="0.7" />
<rect x="242.30" y="511.20" width="3.80" height="39.10" fill="#95b9dc" stroke="#8c8c8c" stroke-width="0.7" />
<rect x="246.70" y="511.20" width="3.80" height="62.10" fill="#95b9dc" stroke="#8c8c8c" stroke-width="0.7" />
<rect x="251.10" y="511.20" width="3.80" height="41.40" fill="#95b9dc" stroke="#8c8c8c" stroke-width="0.7" />
<rect x="255.50" y="511.20" width="3.80" height="54.05" fill="#95b9dc" stroke="#8c8c8c" stroke-width="0.7" />
<rect x="259.90" y="511.20" width="3.80" height="26.22" fill="#95b9dc" stroke="#8c8c8c" stroke-width="0.7" />
<rect x="264.30" y="511.20" width="3.80" height="48.30" fill="#95b9dc" stroke="#8c8c8c" stroke-width="0.7" />
<rect x="268.70" y="511.20" width="3.80" height="58.19" fill="#95b9dc" stroke="#8c8c8c" stroke-width="0.7" />
<rect x="273.10" y="511.20" width="3.80" height="36.80" fill="#95b9dc" stroke="#8c8c8c" stroke-width="0.7" />
<rect x="277.50" y="511.20" width="3.80" height="41.40" fill="#95b9dc" stroke="#8c8c8c" stroke-width="0.7" />
<rect x="281.90" y="511.20" width="3.80" height="81.19" fill="#95b9dc" stroke="#8c8c8c" stroke-width="0.7" />
<rect x="286.30" y="511.20" width="3.80" height="88.55" fill="#95b9dc" stroke="#8c8c8c" stroke-width="0.7" />
<rect x="290.70" y="511.20" width="3.80" height="84.98" fill="#95b9dc" stroke="#8c8c8c" stroke-width="0.7" />
<rect x="295.10" y="511.20" width="3.80" height="100.05" fill="#95b9dc" stroke="#8c8c8c" stroke-width="0.7" />
<rect x="299.50" y="511.20" width="3.80" height="92.00" fill="#95b9dc" stroke="#8c8c8c" stroke-width="0.7" />
<rect x="303.90" y="511.20" width="3.80" height="50.60" fill="#95b9dc" stroke="#8c8c8c" stroke-width="0.7" />
<rect x="308.30" y="511.20" width="3.80" height="69.81" fill="#95b9dc" stroke="#8c8c8c" stroke-width="0.7" />
<rect x="94.40" y="512.35" width="2.00" height="4.60" fill="#5b7997" stroke="none" stroke-width="1" />
<line x1="95.40" y1="512.35" x2="95.40" y2="521.55" stroke="#6a6a6a" stroke-width="0.9" />
<line x1="93.50" y1="512.35" x2="97.30" y2="512.35" stroke="#444" stroke-width="0.9" />
<line x1="93.50" y1="521.55" x2="97.30" y2="521.55" stroke="#444" stroke-width="0.9" />
<rect x="98.55" y="510.62" width="2.00" height="2.30" fill="#5b7997" stroke="none" stroke-width="1" />
<line x1="99.55" y1="510.62" x2="99.55" y2="515.23" stroke="#6a6a6a" stroke-width="0.9" />
<line x1="97.65" y1="510.62" x2="101.45" y2="510.62" stroke="#444" stroke-width="0.9" />
<line x1="97.65" y1="515.23" x2="101.45" y2="515.23" stroke="#444" stroke-width="0.9" />
<rect x="102.70" y="508.90" width="2.00" height="2.30" fill="#5b7997" stroke="none" stroke-width="1" />
<line x1="103.70" y1="508.90" x2="103.70" y2="513.50" stroke="#6a6a6a" stroke-width="0.9" />
<line x1="101.80" y1="508.90" x2="105.60" y2="508.90" stroke="#444" stroke-width="0.9" />
<line x1="101.80" y1="513.50" x2="105.60" y2="513.50" stroke="#444" stroke-width="0.9" />
<rect x="106.85" y="510.05" width="2.00" height="2.30" fill="#5b7997" stroke="none" stroke-width="1" />
<line x1="107.85" y1="512.35" x2="107.85" y2="507.75" stroke="#6a6a6a" stroke-width="0.9" />
<line x1="105.95" y1="512.35" x2="109.75" y2="512.35" stroke="#444" stroke-width="0.9" />
<line x1="105.95" y1="507.75" x2="109.75" y2="507.75" stroke="#444" stroke-width="0.9" />
<rect x="111.00" y="509.47" width="2.00" height="2.30" fill="#5b7997" stroke="none" stroke-width="1" />
<line x1="112.00" y1="511.77" x2="112.00" y2="507.18" stroke="#6a6a6a" stroke-width="0.9" />
<line x1="110.10" y1="511.77" x2="113.90" y2="511.77" stroke="#444" stroke-width="0.9" />
<line x1="110.10" y1="507.18" x2="113.90" y2="507.18" stroke="#444" stroke-width="0.9" />
<rect x="115.15" y="507.75" width="2.00" height="2.30" fill="#5b7997" stroke="none" stroke-width="1" />
<line x1="116.15" y1="510.05" x2="116.15" y2="505.45" stroke="#6a6a6a" stroke-width="0.9" />
<line x1="114.25" y1="510.05" x2="118.05" y2="510.05" stroke="#444" stroke-width="0.9" />
<line x1="114.25" y1="505.45" x2="118.05" y2="505.45" stroke="#444" stroke-width="0.9" />
<rect x="119.30" y="502.00" width="2.00" height="3.45" fill="#5b7997" stroke="none" stroke-width="1" />
<line x1="120.30" y1="505.45" x2="120.30" y2="498.55" stroke="#6a6a6a" stroke-width="0.9" />
<line x1="118.40" y1="505.45" x2="122.20" y2="505.45" stroke="#444" stroke-width="0.9" />
<line x1="118.40" y1="498.55" x2="122.20" y2="498.55" stroke="#444" stroke-width="0.9" />
<rect x="123.45" y="503.15" width="2.00" height="3.45" fill="#5b7997" stroke="none" stroke-width="1" />
<line x1="124.45" y1="506.60" x2="124.45" y2="499.70" stroke="#6a6a6a" stroke-width="0.9" />
<line x1="122.55" y1="506.60" x2="126.35" y2="506.60" stroke="#444" stroke-width="0.9" />
<line x1="122.55" y1="499.70" x2="126.35" y2="499.70" stroke="#444" stroke-width="0.9" />
<rect x="127.60" y="505.45" width="2.00" height="3.45" fill="#5b7997" stroke="none" stroke-width="1" />
<line x1="128.60" y1="508.90" x2="128.60" y2="502.00" stroke="#6a6a6a" stroke-width="0.9" />
<line x1="126.70" y1="508.90" x2="130.50" y2="508.90" stroke="#444" stroke-width="0.9" />
<line x1="126.70" y1="502.00" x2="130.50" y2="502.00" stroke="#444" stroke-width="0.9" />
<rect x="131.75" y="504.30" width="2.00" height="3.45" fill="#5b7997" stroke="none" stroke-width="1" />
<line x1="132.75" y1="507.75" x2="132.75" y2="500.85" stroke="#6a6a6a" stroke-width="0.9" />
<line x1="130.85" y1="507.75" x2="134.65" y2="507.75" stroke="#444" stroke-width="0.9" />
<line x1="130.85" y1="500.85" x2="134.65" y2="500.85" stroke="#444" stroke-width="0.9" />
<rect x="135.90" y="503.15" width="2.00" height="3.45" fill="#5b7997" stroke="none" stroke-width="1" />
<line x1="136.90" y1="506.60" x2="136.90" y2="499.70" stroke="#6a6a6a" stroke-width="0.9" />
<line x1="135.00" y1="506.60" x2="138.80" y2="506.60" stroke="#444" stroke-width="0.9" />
<line x1="135.00" y1="499.70" x2="138.80" y2="499.70" stroke="#444" stroke-width="0.9" />
<rect x="140.05" y="502.00" width="2.00" height="3.45" fill="#5b7997" stroke="none" stroke-width="1" />
<line x1="141.05" y1="505.45" x2="141.05" y2="498.55" stroke="#6a6a6a" stroke-width="0.9" />
<line x1="139.15" y1="505.45" x2="142.95" y2="505.45" stroke="#444" stroke-width="0.9" />
<line x1="139.15" y1="498.55" x2="142.95" y2="498.55" stroke="#444" stroke-width="0.9" />
<rect x="144.20" y="500.85" width="2.00" height="3.45" fill="#5b7997" stroke="none" stroke-width="1" />
<line x1="145.20" y1="504.30" x2="145.20" y2="497.40" stroke="#6a6a6a" stroke-width="0.9" />
<line x1="143.30" y1="504.30" x2="147.10" y2="504.30" stroke="#444" stroke-width="0.9" />
<line x1="143.30" y1="497.40" x2="147.10" y2="497.40" stroke="#444" stroke-width="0.9" />
<rect x="148.35" y="500.85" width="2.00" height="3.45" fill="#5b7997" stroke="none" stroke-width="1" />
<line x1="149.35" y1="504.30" x2="149.35" y2="497.40" stroke="#6a6a6a" stroke-width="0.9" />
<line x1="147.45" y1="504.30" x2="151.25" y2="504.30" stroke="#444" stroke-width="0.9" />
<line x1="147.45" y1="497.40" x2="151.25" y2="497.40" stroke="#444" stroke-width="0.9" />
<rect x="152.50" y="495.10" width="2.00" height="4.60" fill="#5b7997" stroke="none" stroke-width="1" />
<line x1="153.50" y1="499.70" x2="153.50" y2="490.50" stroke="#6a6a6a" stroke-width="0.9" />
<line x1="151.60" y1="499.70" x2="155.40" y2="499.70" stroke="#444" stroke-width="0.9" />
<line x1="151.60" y1="490.50" x2="155.40" y2="490.50" stroke="#444" stroke-width="0.9" />
<rect x="156.65" y="503.15" width="2.00" height="3.45" fill="#5b7997" stroke="none" stroke-width="1" />
<line x1="157.65" y1="506.60" x2="157.65" y2="499.70" stroke="#6a6a6a" stroke-width="0.9" />
<line x1="155.75" y1="506.60" x2="159.55" y2="506.60" stroke="#444" stroke-width="0.9" />
<line x1="155.75" y1="499.70" x2="159.55" y2="499.70" stroke="#444" stroke-width="0.9" />
<rect x="160.80" y="505.45" width="2.00" height="3.45" fill="#5b7997" stroke="none" stroke-width="1" />
<line x1="161.80" y1="508.90" x2="161.80" y2="502.00" stroke="#6a6a6a" stroke-width="0.9" />
<line x1="159.90" y1="508.90" x2="163.70" y2="508.90" stroke="#444" stroke-width="0.9" />
<line x1="159.90" y1="502.00" x2="163.70" y2="502.00" stroke="#444" stroke-width="0.9" />
<rect x="164.95" y="507.75" width="2.00" height="3.45" fill="#5b7997" stroke="none" stroke-width="1" />
<line x1="165.95" y1="511.20" x2="165.95" y2="504.30" stroke="#6a6a6a" stroke-width="0.9" />
<line x1="164.05" y1="511.20" x2="167.85" y2="511.20" stroke="#444" stroke-width="0.9" />
<line x1="164.05" y1="504.30" x2="167.85" y2="504.30" stroke="#444" stroke-width="0.9" />
<rect x="169.10" y="504.30" width="2.00" height="3.45" fill="#5b7997" stroke="none" stroke-width="1" />
<line x1="170.10" y1="507.75" x2="170.10" y2="500.85" stroke="#6a6a6a" stroke-width="0.9" />
<line x1="168.20" y1="507.75" x2="172.00" y2="507.75" stroke="#444" stroke-width="0.9" />
<line x1="168.20" y1="500.85" x2="172.00" y2="500.85" stroke="#444" stroke-width="0.9" />
<rect x="173.25" y="506.60" width="2.00" height="3.45" fill="#5b7997" stroke="none" stroke-width="1" />
<line x1="174.25" y1="510.05" x2="174.25" y2="503.15" stroke="#6a6a6a" stroke-width="0.9" />
<line x1="172.35" y1="510.05" x2="176.15" y2="510.05" stroke="#444" stroke-width="0.9" />
<line x1="172.35" y1="503.15" x2="176.15" y2="503.15" stroke="#444" stroke-width="0.9" />
<rect x="177.40" y="502.00" width="2.00" height="3.45" fill="#5b7997" stroke="none" stroke-width="1" />
<line x1="178.40" y1="505.45" x2="178.40" y2="498.55" stroke="#6a6a6a" stroke-width="0.9" />
<line x1="176.50" y1="505.45" x2="180.30" y2="505.45" stroke="#444" stroke-width="0.9" />
<line x1="176.50" y1="498.55" x2="180.30" y2="498.55" stroke="#444" stroke-width="0.9" />
<rect x="181.55" y="497.40" width="2.00" height="4.60" fill="#5b7997" stroke="none" stroke-width="1" />
<line x1="182.55" y1="502.00" x2="182.55" y2="492.80" stroke="#6a6a6a" stroke-width="0.9" />
<line x1="180.65" y1="502.00" x2="184.45" y2="502.00" stroke="#444" stroke-width="0.9" />
<line x1="180.65" y1="492.80" x2="184.45" y2="492.80" stroke="#444" stroke-width="0.9" />
<rect x="185.70" y="492.80" width="2.00" height="5.75" fill="#5b7997" stroke="none" stroke-width="1" />
<line x1="186.70" y1="498.55" x2="186.70" y2="487.05" stroke="#6a6a6a" stroke-width="0.9" />
<line x1="184.80" y1="498.55" x2="188.60" y2="498.55" stroke="#444" stroke-width="0.9" />
<line x1="184.80" y1="487.05" x2="188.60" y2="487.05" stroke="#444" stroke-width="0.9" />
<rect x="189.85" y="504.30" width="2.00" height="8.05" fill="#5b7997" stroke="none" stroke-width="1" />
<line x1="190.85" y1="504.30" x2="190.85" y2="520.40" stroke="#6a6a6a" stroke-width="0.9" />
<line x1="188.95" y1="504.30" x2="192.75" y2="504.30" stroke="#444" stroke-width="0.9" />
<line x1="188.95" y1="520.40" x2="192.75" y2="520.40" stroke="#444" stroke-width="0.9" />
<rect x="194.80" y="527.88" width="2.00" height="5.75" fill="#5b7997" stroke="none" stroke-width="1" />
<line x1="195.80" y1="527.88" x2="195.80" y2="539.38" stroke="#6a6a6a" stroke-width="0.9" />
<line x1="193.90" y1="527.88" x2="197.70" y2="527.88" stroke="#444" stroke-width="0.9" />
<line x1="193.90" y1="539.38" x2="197.70" y2="539.38" stroke="#444" stroke-width="0.9" />
<rect x="199.20" y="529.60" width="2.00" height="6.90" fill="#5b7997" stroke="none" stroke-width="1" />
<line x1="200.20" y1="529.60" x2="200.20" y2="543.40" stroke="#6a6a6a" stroke-width="0.9" />
<line x1="198.30" y1="529.60" x2="202.10" y2="529.60" stroke="#444" stroke-width="0.9" />
<line x1="198.30" y1="543.40" x2="202.10" y2="543.40" stroke="#444" stroke-width="0.9" />
<rect x="203.60" y="515.00" width="2.00" height="3.45" fill="#5b7997" stroke="none" stroke-width="1" />
<line x1="204.60" y1="515.00" x2="204.60" y2="521.89" stroke="#6a6a6a" stroke-width="0.9" />
<line x1="202.70" y1="515.00" x2="206.50" y2="515.00" stroke="#444" stroke-width="0.9" />
<line x1="202.70" y1="521.89" x2="206.50" y2="521.89" stroke="#444" stroke-width="0.9" />
<rect x="208.00" y="514.65" width="2.00" height="4.60" fill="#5b7997" stroke="none" stroke-width="1" />
<line x1="209.00" y1="514.65" x2="209.00" y2="523.85" stroke="#6a6a6a" stroke-width="0.9" />
<line x1="207.10" y1="514.65" x2="210.90" y2="514.65" stroke="#444" stroke-width="0.9" />
<line x1="207.10" y1="523.85" x2="210.90" y2="523.85" stroke="#444" stroke-width="0.9" />
<rect x="212.40" y="547.65" width="2.00" height="5.75" fill="#5b7997" stroke="none" stroke-width="1" />
<line x1="213.40" y1="547.65" x2="213.40" y2="559.15" stroke="#6a6a6a" stroke-width="0.9" />
<line x1="211.50" y1="547.65" x2="215.30" y2="547.65" stroke="#444" stroke-width="0.9" />
<line x1="211.50" y1="559.15" x2="215.30" y2="559.15" stroke="#444" stroke-width="0.9" />
<rect x="216.80" y="544.55" width="2.00" height="5.75" fill="#5b7997" stroke="none" stroke-width="1" />
<line x1="217.80" y1="544.55" x2="217.80" y2="556.05" stroke="#6a6a6a" stroke-width="0.9" />
<line x1="215.90" y1="544.55" x2="219.70" y2="544.55" stroke="#444" stroke-width="0.9" />
<line x1="215.90" y1="556.05" x2="219.70" y2="556.05" stroke="#444" stroke-width="0.9" />
<rect x="221.20" y="549.15" width="2.00" height="6.90" fill="#5b7997" stroke="none" stroke-width="1" />
<line x1="222.20" y1="549.15" x2="222.20" y2="562.95" stroke="#6a6a6a" stroke-width="0.9" />
<line x1="220.30" y1="549.15" x2="224.10" y2="549.15" stroke="#444" stroke-width="0.9" />
<line x1="220.30" y1="562.95" x2="224.10" y2="562.95" stroke="#444" stroke-width="0.9" />
<rect x="225.60" y="545.70" width="2.00" height="5.75" fill="#5b7997" stroke="none" stroke-width="1" />
<line x1="226.60" y1="545.70" x2="226.60" y2="557.20" stroke="#6a6a6a" stroke-width="0.9" />
<line x1="224.70" y1="545.70" x2="228.50" y2="545.70" stroke="#444" stroke-width="0.9" />
<line x1="224.70" y1="557.20" x2="228.50" y2="557.20" stroke="#444" stroke-width="0.9" />
<rect x="230.00" y="560.65" width="2.00" height="6.90" fill="#5b7997" stroke="none" stroke-width="1" />
<line x1="231.00" y1="560.65" x2="231.00" y2="574.45" stroke="#6a6a6a" stroke-width="0.9" />
<line x1="229.10" y1="560.65" x2="232.90" y2="560.65" stroke="#444" stroke-width="0.9" />
<line x1="229.10" y1="574.45" x2="232.90" y2="574.45" stroke="#444" stroke-width="0.9" />
<rect x="234.40" y="547.54" width="2.00" height="6.90" fill="#5b7997" stroke="none" stroke-width="1" />
<line x1="235.40" y1="547.54" x2="235.40" y2="561.34" stroke="#6a6a6a" stroke-width="0.9" />
<line x1="233.50" y1="547.54" x2="237.30" y2="547.54" stroke="#444" stroke-width="0.9" />
<line x1="233.50" y1="561.34" x2="237.30" y2="561.34" stroke="#444" stroke-width="0.9" />
<rect x="238.80" y="553.75" width="2.00" height="8.05" fill="#5b7997" stroke="none" stroke-width="1" />
<line x1="239.80" y1="553.75" x2="239.80" y2="569.85" stroke="#6a6a6a" stroke-width="0.9" />
<line x1="237.90" y1="553.75" x2="241.70" y2="553.75" stroke="#444" stroke-width="0.9" />
<line x1="237.90" y1="569.85" x2="241.70" y2="569.85" stroke="#444" stroke-width="0.9" />
<rect x="243.20" y="543.40" width="2.00" height="6.90" fill="#5b7997" stroke="none" stroke-width="1" />
<line x1="244.20" y1="543.40" x2="244.20" y2="557.20" stroke="#6a6a6a" stroke-width="0.9" />
<line x1="242.30" y1="543.40" x2="246.10" y2="543.40" stroke="#444" stroke-width="0.9" />
<line x1="242.30" y1="557.20" x2="246.10" y2="557.20" stroke="#444" stroke-width="0.9" />
<rect x="247.60" y="565.25" width="2.00" height="8.05" fill="#5b7997" stroke="none" stroke-width="1" />
<line x1="248.60" y1="565.25" x2="248.60" y2="581.35" stroke="#6a6a6a" stroke-width="0.9" />
<line x1="246.70" y1="565.25" x2="250.50" y2="565.25" stroke="#444" stroke-width="0.9" />
<line x1="246.70" y1="581.35" x2="250.50" y2="581.35" stroke="#444" stroke-width="0.9" />
<rect x="252.00" y="545.70" width="2.00" height="6.90" fill="#5b7997" stroke="none" stroke-width="1" />
<line x1="253.00" y1="545.70" x2="253.00" y2="559.50" stroke="#6a6a6a" stroke-width="0.9" />
<line x1="251.10" y1="545.70" x2="254.90" y2="545.70" stroke="#444" stroke-width="0.9" />
<line x1="251.10" y1="559.50" x2="254.90" y2="559.50" stroke="#444" stroke-width="0.9" />
<rect x="256.40" y="557.20" width="2.00" height="8.05" fill="#5b7997" stroke="none" stroke-width="1" />
<line x1="257.40" y1="557.20" x2="257.40" y2="573.30" stroke="#6a6a6a" stroke-width="0.9" />
<line x1="255.50" y1="557.20" x2="259.30" y2="557.20" stroke="#444" stroke-width="0.9" />
<line x1="255.50" y1="573.30" x2="259.30" y2="573.30" stroke="#444" stroke-width="0.9" />
<rect x="260.80" y="529.37" width="2.00" height="8.05" fill="#5b7997" stroke="none" stroke-width="1" />
<line x1="261.80" y1="529.37" x2="261.80" y2="545.47" stroke="#6a6a6a" stroke-width="0.9" />
<line x1="259.90" y1="529.37" x2="263.70" y2="529.37" stroke="#444" stroke-width="0.9" />
<line x1="259.90" y1="545.47" x2="263.70" y2="545.47" stroke="#444" stroke-width="0.9" />
<rect x="265.20" y="551.45" width="2.00" height="8.05" fill="#5b7997" stroke="none" stroke-width="1" />
<line x1="266.20" y1="551.45" x2="266.20" y2="567.55" stroke="#6a6a6a" stroke-width="0.9" />
<line x1="264.30" y1="551.45" x2="268.10" y2="551.45" stroke="#444" stroke-width="0.9" />
<line x1="264.30" y1="567.55" x2="268.10" y2="567.55" stroke="#444" stroke-width="0.9" />
<rect x="269.60" y="560.19" width="2.00" height="9.20" fill="#5b7997" stroke="none" stroke-width="1" />
<line x1="270.60" y1="560.19" x2="270.60" y2="578.59" stroke="#6a6a6a" stroke-width="0.9" />
<line x1="268.70" y1="560.19" x2="272.50" y2="560.19" stroke="#444" stroke-width="0.9" />
<line x1="268.70" y1="578.59" x2="272.50" y2="578.59" stroke="#444" stroke-width="0.9" />
<rect x="274.00" y="538.80" width="2.00" height="9.20" fill="#5b7997" stroke="none" stroke-width="1" />
<line x1="275.00" y1="538.80" x2="275.00" y2="557.20" stroke="#6a6a6a" stroke-width="0.9" />
<line x1="273.10" y1="538.80" x2="276.90" y2="538.80" stroke="#444" stroke-width="0.9" />
<line x1="273.10" y1="557.20" x2="276.90" y2="557.20" stroke="#444" stroke-width="0.9" />
<rect x="278.40" y="543.40" width="2.00" height="9.20" fill="#5b7997" stroke="none" stroke-width="1" />
<line x1="279.40" y1="543.40" x2="279.40" y2="561.80" stroke="#6a6a6a" stroke-width="0.9" />
<line x1="277.50" y1="543.40" x2="281.30" y2="543.40" stroke="#444" stroke-width="0.9" />
<line x1="277.50" y1="561.80" x2="281.30" y2="561.80" stroke="#444" stroke-width="0.9" />
<rect x="282.80" y="576.29" width="2.00" height="16.10" fill="#5b7997" stroke="none" stroke-width="1" />
<line x1="283.80" y1="576.29" x2="283.80" y2="608.49" stroke="#6a6a6a" stroke-width="0.9" />
<line x1="281.90" y1="576.29" x2="285.70" y2="576.29" stroke="#444" stroke-width="0.9" />
<line x1="281.90" y1="608.49" x2="285.70" y2="608.49" stroke="#444" stroke-width="0.9" />
<rect x="287.20" y="581.35" width="2.00" height="18.40" fill="#5b7997" stroke="none" stroke-width="1" />
<line x1="288.20" y1="581.35" x2="288.20" y2="618.15" stroke="#6a6a6a" stroke-width="0.9" />
<line x1="286.30" y1="581.35" x2="290.10" y2="581.35" stroke="#444" stroke-width="0.9" />
<line x1="286.30" y1="618.15" x2="290.10" y2="618.15" stroke="#444" stroke-width="0.9" />
<rect x="291.60" y="575.49" width="2.00" height="20.70" fill="#5b7997" stroke="none" stroke-width="1" />
<line x1="292.60" y1="575.49" x2="292.60" y2="616.88" stroke="#6a6a6a" stroke-width="0.9" />
<line x1="290.70" y1="575.49" x2="294.50" y2="575.49" stroke="#444" stroke-width="0.9" />
<line x1="290.70" y1="616.88" x2="294.50" y2="616.88" stroke="#444" stroke-width="0.9" />
<rect x="296.00" y="588.25" width="2.00" height="23.00" fill="#5b7997" stroke="none" stroke-width="1" />
<line x1="297.00" y1="588.25" x2="297.00" y2="634.25" stroke="#6a6a6a" stroke-width="0.9" />
<line x1="295.10" y1="588.25" x2="298.90" y2="588.25" stroke="#444" stroke-width="0.9" />
<line x1="295.10" y1="634.25" x2="298.90" y2="634.25" stroke="#444" stroke-width="0.9" />
<rect x="300.40" y="583.65" width="2.00" height="19.55" fill="#5b7997" stroke="none" stroke-width="1" />
<line x1="301.40" y1="583.65" x2="301.40" y2="622.75" stroke="#6a6a6a" stroke-width="0.9" />
<line x1="299.50" y1="583.65" x2="303.30" y2="583.65" stroke="#444" stroke-width="0.9" />
<line x1="299.50" y1="622.75" x2="303.30" y2="622.75" stroke="#444" stroke-width="0.9" />
<rect x="304.80" y="548.00" width="2.00" height="13.80" fill="#5b7997" stroke="none" stroke-width="1" />
<line x1="305.80" y1="548.00" x2="305.80" y2="575.60" stroke="#6a6a6a" stroke-width="0.9" />
<line x1="303.90" y1="548.00" x2="307.70" y2="548.00" stroke="#444" stroke-width="0.9" />
<line x1="303.90" y1="575.60" x2="307.70" y2="575.60" stroke="#444" stroke-width="0.9" />
<rect x="309.20" y="566.05" width="2.00" height="14.95" fill="#5b7997" stroke="none" stroke-width="1" />
<line x1="310.20" y1="566.05" x2="310.20" y2="595.95" stroke="#6a6a6a" stroke-width="0.9" />
<line x1="308.30" y1="566.05" x2="312.10" y2="566.05" stroke="#444" stroke-width="0.9" />
<line x1="308.30" y1="595.95" x2="312.10" y2="595.95" stroke="#444" stroke-width="0.9" />
<line x1="82.60" y1="511.20" x2="322.60" y2="511.20" stroke="#111" stroke-width="1.6" />
<line x1="193.00" y1="465.20" x2="193.00" y2="638.00" stroke="#2a962a" stroke-width="1.8" stroke-dasharray="4.5,2.8"/>
<line x1="94.30" y1="514.70" x2="189.20" y2="498.60" stroke="#f21d1d" stroke-width="2.2" />
<line x1="196.00" y1="521.70" x2="312.10" y2="601.90" stroke="#1212f0" stroke-width="2.2" />
<text x="198.60" y="500.30" font-size="12.2" fill="#1a8c1a" font-weight="bold" textLength="47.30" lengthAdjust="spacingAndGlyphs" >LL = 1.78</text>
<line x1="92.00" y1="606.60" x2="116.20" y2="606.60" stroke="#f21d1d" stroke-width="2.0" />
<line x1="92.00" y1="622.10" x2="116.20" y2="622.10" stroke="#1212f0" stroke-width="2.0" />
<text x="124" y="610.6" font-size="11.2" fill="#1a1a1a" stroke="#1a1a1a" stroke-width="0.25" textLength="152" lengthAdjust="spacingAndGlyphs">n = 5993  R² = 0.51  <tspan font-style="italic">P</tspan>  &lt; 0.001</text>
<text x="124" y="626.1" font-size="11.2" fill="#1a1a1a" stroke="#1a1a1a" stroke-width="0.25" textLength="152" lengthAdjust="spacingAndGlyphs">n = 6946  R² = 0.73  <tspan font-style="italic">P</tspan>  &lt; 0.001</text>
<rect x="82.60" y="465.20" width="240.00" height="172.80" fill="none" stroke="#222" stroke-width="1.1" />
<line x1="78.20" y1="511.20" x2="82.60" y2="511.20" stroke="#222" stroke-width="1.1" />
<text x="78.00" y="516.60" font-size="15.6" fill="#1a1a1a" text-anchor="end" stroke="#1a1a1a" stroke-width="0.25" >0</text>
<line x1="78.20" y1="568.70" x2="82.60" y2="568.70" stroke="#222" stroke-width="1.1" />
<text x="78.00" y="574.10" font-size="15.6" fill="#1a1a1a" text-anchor="end" stroke="#1a1a1a" stroke-width="0.25" >−50</text>
<line x1="78.20" y1="626.20" x2="82.60" y2="626.20" stroke="#222" stroke-width="1.1" />
<text x="78.00" y="631.60" font-size="15.6" fill="#1a1a1a" text-anchor="end" stroke="#1a1a1a" stroke-width="0.25" >−100</text>
<line x1="127.00" y1="638.00" x2="127.00" y2="641.80" stroke="#222" stroke-width="1.1" />
<text x="127.00" y="652.40" font-size="16.5" fill="#1a1a1a" text-anchor="middle" stroke="#1a1a1a" stroke-width="0.25" >1</text>
<line x1="211.00" y1="638.00" x2="211.00" y2="641.80" stroke="#222" stroke-width="1.1" />
<text x="211.00" y="652.40" font-size="16.5" fill="#1a1a1a" text-anchor="middle" stroke="#1a1a1a" stroke-width="0.25" >2</text>
<line x1="295.00" y1="638.00" x2="295.00" y2="641.80" stroke="#222" stroke-width="1.1" />
<text x="295.00" y="652.40" font-size="16.5" fill="#1a1a1a" text-anchor="middle" stroke="#1a1a1a" stroke-width="0.25" >3</text>
<text x="202.50" y="673.40" font-size="15.7" fill="#1a1a1a" text-anchor="middle" stroke="#1a1a1a" stroke-width="0.25" >LL (yrs)</text>
<text x="19.40" y="551.80" font-size="15.8" fill="#1a1a1a" text-anchor="middle" transform="rotate(-90 19.40 551.80)" stroke="#1a1a1a" stroke-width="0.25" >LL trends</text>
<text x="36.80" y="551.80" font-size="15.8" fill="#1a1a1a" text-anchor="middle" transform="rotate(-90 36.80 551.80)" stroke="#1a1a1a" stroke-width="0.25" >(days per decade)</text>
<text transform="translate(365.09,455.20) scale(0.9,1)" x="0" y="0" font-size="30.5" font-weight="bold" fill="#231815">E</text>
<defs><clipPath id="eclip11"><rect x="415.1" y="464.7" width="269.19999999999993" height="52.900000000000034"/></clipPath></defs>
<g clip-path="url(#eclip11)">
<defs><linearGradient id="jg11" x1="0" y1="467.2" x2="0" y2="486.5" gradientUnits="userSpaceOnUse"><stop offset="0" stop-color="#9acc8a" stop-opacity="0.8"/><stop offset="0.25" stop-color="#8cc480" stop-opacity="0.85"/><stop offset="1" stop-color="#96c888" stop-opacity="0.85"/></linearGradient></defs>
<path d="M402.8,468.2 L408.9,472.1 L415.0,468.3 L421.2,473.0 L427.3,468.3 L433.4,472.9 L439.5,469.2 L445.6,473.7 L451.8,467.7 L457.9,472.7 L464.0,467.3 L470.1,472.0 L476.2,468.1 L482.4,474.0 L488.5,468.3 L494.6,474.3 L500.7,468.9 L506.8,474.4 L513.0,468.4 L519.1,472.3 L525.2,468.0 L531.3,473.2 L537.4,468.4 L543.6,473.7 L549.7,470.7 L555.8,472.3 L561.9,468.7 L568.0,473.9 L574.2,469.2 L580.3,472.5 L586.4,467.6 L592.5,473.5 L598.6,471.2 L604.8,474.4 L610.9,467.4 L617.0,473.3 L623.1,472.9 L629.2,474.3 L635.4,467.7 L641.5,473.8 L647.6,468.7 L653.7,472.0 L659.8,469.1 L666.0,473.8 L672.1,469.3 L678.2,472.4 L684.3,468.2 L690.4,473.3 L696.6,467.8 L702.7,474.1 L696.6,486.5 L402.8,486.5 Z" fill="url(#jg11)"/>
<defs><linearGradient id="g11_190" x1="0" y1="0" x2="0" y2="1"><stop offset="0.00" stop-color="#86bf78" stop-opacity="0.0"/><stop offset="0.30" stop-color="#8cc27c" stop-opacity="0.6"/><stop offset="1.00" stop-color="#c4dcac" stop-opacity="0.8"/></linearGradient></defs>
<rect x="415.10" y="481.10" width="269.20" height="6.30" fill="url(#g11_190)" stroke="none" stroke-width="1" />
<defs><linearGradient id="g11_135" x1="0" y1="0" x2="0" y2="1"><stop offset="0.00" stop-color="#e6eccc" stop-opacity="0.5"/><stop offset="0.40" stop-color="#f6e8d4" stop-opacity="0.9"/><stop offset="1.00" stop-color="#f3dcc4" stop-opacity="0.9"/></linearGradient></defs>
<rect x="415.10" y="487.40" width="269.20" height="9.90" fill="url(#g11_135)" stroke="none" stroke-width="1" />
<defs><linearGradient id="g11_55" x1="0" y1="0" x2="0" y2="1"><stop offset="0.00" stop-color="#eed8c0" stop-opacity="0.9"/><stop offset="0.40" stop-color="#e4c2a0" stop-opacity="0.9"/><stop offset="0.80" stop-color="#d8ac84" stop-opacity="0.9"/><stop offset="1.00" stop-color="#e8d0b8" stop-opacity="0.4"/></linearGradient></defs>
<rect x="415.10" y="497.30" width="269.20" height="14.40" fill="url(#g11_55)" stroke="none" stroke-width="1" />
<path d="M415.0,476.7 L427.3,476.8 L439.5,475.5 L451.8,478.1 L464.0,477.4 L476.2,476.5 L488.5,474.6 L500.7,475.4 L513.0,477.5 L525.2,478.8 L537.4,476.3 L549.7,476.8 L561.9,478.6 L574.2,476.7 L586.4,479.9 L598.6,478.8 L610.9,475.7 L623.1,479.0 L635.4,477.9 L647.6,480.7 L659.8,476.4 L672.1,478.8 L684.3,474.5" fill="none" stroke="#6db264" stroke-width="0.6" stroke-opacity="0.25" stroke-linejoin="bevel"/>
<path d="M415.0,476.4 L427.3,476.4 L439.5,478.7 L451.8,477.3 L464.0,477.7 L476.2,476.1 L488.5,478.6 L500.7,477.1 L513.0,477.0 L525.2,476.5 L537.4,476.9 L549.7,476.4 L561.9,476.3 L574.2,478.3 L586.4,478.8 L598.6,477.0 L610.9,477.1 L623.1,476.9 L635.4,477.3 L647.6,477.3 L659.8,478.3 L672.1,479.2 L684.3,477.8" fill="none" stroke="#6bb162" stroke-width="0.6" stroke-opacity="0.25" stroke-linejoin="bevel"/>
<path d="M415.0,476.4 L427.3,479.9 L439.5,475.1 L451.8,478.7 L464.0,476.1 L476.2,478.4 L488.5,478.7 L500.7,478.1 L513.0,474.6 L525.2,477.3 L537.4,477.4 L549.7,478.9 L561.9,466.7 L574.2,476.1 L586.4,477.0 L598.6,475.3 L610.9,469.3 L623.1,477.7 L635.4,477.0 L647.6,476.5 L659.8,479.7 L672.1,476.3 L684.3,476.8" fill="none" stroke="#6bb162" stroke-width="0.6" stroke-opacity="0.25" stroke-linejoin="bevel"/>
<path d="M415.0,474.2 L427.3,476.7 L439.5,474.4 L451.8,477.9 L464.0,475.4 L476.2,474.5 L488.5,475.8 L500.7,475.6 L513.0,474.6 L525.2,476.6 L537.4,475.5 L549.7,465.9 L561.9,466.1 L574.2,476.5 L586.4,469.8 L598.6,475.8 L610.9,475.4 L623.1,475.2 L635.4,475.2 L647.6,476.8 L659.8,476.8 L672.1,475.8 L684.3,476.3" fill="none" stroke="#62ac5c" stroke-width="0.6" stroke-opacity="0.25" stroke-linejoin="bevel"/>
<path d="M415.0,484.8 L427.3,482.5 L439.5,483.9 L451.8,481.2 L464.0,482.8 L476.2,484.1 L488.5,480.3 L500.7,481.3 L513.0,484.5 L525.2,482.3 L537.4,485.2 L549.7,483.9 L561.9,484.6 L574.2,482.4 L586.4,482.1 L598.6,484.5 L610.9,480.0 L623.1,484.9 L635.4,482.5 L647.6,483.9 L659.8,483.1 L672.1,482.4 L684.3,472.9" fill="none" stroke="#87c075" stroke-width="0.6" stroke-opacity="0.25" stroke-linejoin="bevel"/>
<path d="M415.0,483.8 L427.3,481.9 L439.5,481.4 L451.8,481.5 L464.0,481.2 L476.2,483.5 L488.5,485.2 L500.7,481.6 L513.0,481.9 L525.2,482.6 L537.4,484.2 L549.7,483.4 L561.9,482.8 L574.2,481.7 L586.4,482.9 L598.6,484.0 L610.9,482.6 L623.1,473.5 L635.4,482.4 L647.6,484.2 L659.8,481.1 L672.1,482.5 L684.3,482.8" fill="none" stroke="#85bf73" stroke-width="0.6" stroke-opacity="0.25" stroke-linejoin="bevel"/>
<path d="M415.0,474.3 L427.3,475.6 L439.5,477.3 L451.8,474.2 L464.0,475.5 L476.2,474.4 L488.5,467.2 L500.7,473.6 L513.0,475.6 L525.2,476.2 L537.4,473.5 L549.7,473.9 L561.9,475.2 L574.2,474.3 L586.4,476.1 L598.6,474.2 L610.9,474.6 L623.1,473.4 L635.4,474.1 L647.6,476.5 L659.8,475.3 L672.1,477.4 L684.3,476.3" fill="none" stroke="#61ab5b" stroke-width="0.6" stroke-opacity="0.25" stroke-linejoin="bevel"/>
<path d="M415.0,472.2 L427.3,474.2 L439.5,474.1 L451.8,472.9 L464.0,473.5 L476.2,473.9 L488.5,467.4 L500.7,476.0 L513.0,477.3 L525.2,476.9 L537.4,474.9 L549.7,474.6 L561.9,466.0 L574.2,476.4 L586.4,475.0 L598.6,474.1 L610.9,472.5 L623.1,474.4 L635.4,474.6 L647.6,474.7 L659.8,475.9 L672.1,467.2 L684.3,474.1" fill="none" stroke="#5faa5a" stroke-width="0.6" stroke-opacity="0.25" stroke-linejoin="bevel"/>
<path d="M415.0,483.4 L427.3,480.8 L439.5,470.4 L451.8,480.1 L464.0,482.1 L476.2,483.8 L488.5,482.6 L500.7,482.3 L513.0,481.6 L525.2,478.7 L537.4,480.9 L549.7,482.6 L561.9,482.2 L574.2,483.5 L586.4,481.5 L598.6,481.9 L610.9,480.3 L623.1,481.4 L635.4,481.1 L647.6,478.4 L659.8,482.3 L672.1,482.8 L684.3,479.6" fill="none" stroke="#80bc70" stroke-width="0.6" stroke-opacity="0.25" stroke-linejoin="bevel"/>
<path d="M415.0,476.7 L427.3,475.0 L439.5,476.5 L451.8,477.1 L464.0,476.5 L476.2,475.9 L488.5,476.2 L500.7,480.0 L513.0,476.9 L525.2,478.2 L537.4,478.5 L549.7,476.7 L561.9,477.1 L574.2,477.5 L586.4,476.6 L598.6,473.9 L610.9,475.6 L623.1,477.7 L635.4,477.4 L647.6,477.7 L659.8,477.1 L672.1,469.5 L684.3,476.6" fill="none" stroke="#69af60" stroke-width="0.6" stroke-opacity="0.25" stroke-linejoin="bevel"/>
<path d="M415.0,467.3 L427.3,481.0 L439.5,477.3 L451.8,478.5 L464.0,478.8 L476.2,479.9 L488.5,480.0 L500.7,481.1 L513.0,480.2 L525.2,480.1 L537.4,479.6 L549.7,479.3 L561.9,481.5 L574.2,479.1 L586.4,480.9 L598.6,480.4 L610.9,476.6 L623.1,479.8 L635.4,477.7 L647.6,478.0 L659.8,480.4 L672.1,479.0 L684.3,481.2" fill="none" stroke="#78b86a" stroke-width="0.6" stroke-opacity="0.25" stroke-linejoin="bevel"/>
<path d="M415.0,482.3 L427.3,478.6 L439.5,476.0 L451.8,481.5 L464.0,480.0 L476.2,481.8 L488.5,481.5 L500.7,483.1 L513.0,481.9 L525.2,481.1 L537.4,480.2 L549.7,480.8 L561.9,481.1 L574.2,481.3 L586.4,482.2 L598.6,480.9 L610.9,482.5 L623.1,482.1 L635.4,479.9 L647.6,482.4 L659.8,480.8 L672.1,480.9 L684.3,481.1" fill="none" stroke="#80bc70" stroke-width="0.6" stroke-opacity="0.25" stroke-linejoin="bevel"/>
<path d="M415.0,478.0 L427.3,475.3 L439.5,477.6 L451.8,477.8 L464.0,477.7 L476.2,478.3 L488.5,477.5 L500.7,478.5 L513.0,479.9 L525.2,478.5 L537.4,479.4 L549.7,476.5 L561.9,479.7 L574.2,475.6 L586.4,478.1 L598.6,476.4 L610.9,478.0 L623.1,476.8 L635.4,479.7 L647.6,478.0 L659.8,477.2 L672.1,471.8 L684.3,478.9" fill="none" stroke="#6cb162" stroke-width="0.6" stroke-opacity="0.25" stroke-linejoin="bevel"/>
<path d="M415.0,478.1 L427.3,476.2 L439.5,477.0 L451.8,475.8 L464.0,476.6 L476.2,478.1 L488.5,478.1 L500.7,477.6 L513.0,476.7 L525.2,477.5 L537.4,478.9 L549.7,478.3 L561.9,478.9 L574.2,478.4 L586.4,480.3 L598.6,478.9 L610.9,479.8 L623.1,475.2 L635.4,479.7 L647.6,478.2 L659.8,479.8 L672.1,476.4 L684.3,476.0" fill="none" stroke="#6db263" stroke-width="0.6" stroke-opacity="0.25" stroke-linejoin="bevel"/>
<path d="M415.0,481.2 L427.3,480.3 L439.5,480.5 L451.8,481.1 L464.0,473.5 L476.2,482.3 L488.5,481.3 L500.7,481.7 L513.0,481.4 L525.2,480.6 L537.4,481.4 L549.7,480.7 L561.9,481.5 L574.2,482.6 L586.4,482.5 L598.6,481.4 L610.9,482.4 L623.1,480.2 L635.4,481.5 L647.6,481.1 L659.8,482.7 L672.1,480.5 L684.3,479.7" fill="none" stroke="#81bd70" stroke-width="0.6" stroke-opacity="0.25" stroke-linejoin="bevel"/>
<path d="M415.0,482.9 L427.3,484.4 L439.5,481.2 L451.8,482.4 L464.0,482.2 L476.2,481.8 L488.5,483.9 L500.7,483.0 L513.0,481.3 L525.2,480.5 L537.4,482.8 L549.7,481.9 L561.9,482.3 L574.2,484.2 L586.4,482.6 L598.6,482.1 L610.9,483.6 L623.1,482.3 L635.4,483.1 L647.6,484.3 L659.8,483.2 L672.1,483.2 L684.3,481.8" fill="none" stroke="#87c075" stroke-width="0.6" stroke-opacity="0.25" stroke-linejoin="bevel"/>
<path d="M415.0,479.4 L427.3,480.3 L439.5,480.2 L451.8,478.3 L464.0,479.2 L476.2,479.3 L488.5,479.0 L500.7,466.7 L513.0,478.9 L525.2,479.9 L537.4,480.2 L549.7,478.0 L561.9,480.6 L574.2,477.9 L586.4,479.2 L598.6,480.2 L610.9,479.3 L623.1,480.2 L635.4,478.8 L647.6,478.7 L659.8,478.6 L672.1,478.0 L684.3,478.4" fill="none" stroke="#75b668" stroke-width="0.6" stroke-opacity="0.25" stroke-linejoin="bevel"/>
<path d="M415.0,481.4 L427.3,479.3 L439.5,480.6 L451.8,483.2 L464.0,483.6 L476.2,475.0 L488.5,480.8 L500.7,479.7 L513.0,482.1 L525.2,480.8 L537.4,481.8 L549.7,480.9 L561.9,481.1 L574.2,481.1 L586.4,483.4 L598.6,480.6 L610.9,482.8 L623.1,480.6 L635.4,480.3 L647.6,482.4 L659.8,484.2 L672.1,482.5 L684.3,482.5" fill="none" stroke="#82be72" stroke-width="0.6" stroke-opacity="0.25" stroke-linejoin="bevel"/>
<path d="M415.0,478.6 L427.3,479.3 L439.5,478.9 L451.8,478.1 L464.0,476.9 L476.2,479.1 L488.5,478.5 L500.7,475.5 L513.0,478.7 L525.2,478.6 L537.4,477.5 L549.7,478.8 L561.9,477.6 L574.2,470.4 L586.4,475.3 L598.6,478.5 L610.9,479.2 L623.1,480.0 L635.4,478.2 L647.6,478.4 L659.8,477.5 L672.1,477.3 L684.3,479.2" fill="none" stroke="#70b465" stroke-width="0.6" stroke-opacity="0.25" stroke-linejoin="bevel"/>
<path d="M415.0,480.3 L427.3,478.4 L439.5,479.8 L451.8,481.4 L464.0,481.0 L476.2,481.0 L488.5,482.2 L500.7,477.8 L513.0,480.3 L525.2,481.7 L537.4,479.6 L549.7,481.5 L561.9,480.4 L574.2,478.3 L586.4,479.5 L598.6,481.9 L610.9,481.4 L623.1,479.6 L635.4,479.9 L647.6,480.5 L659.8,480.0 L672.1,480.1 L684.3,479.1" fill="none" stroke="#7ab96c" stroke-width="0.6" stroke-opacity="0.25" stroke-linejoin="bevel"/>
<path d="M415.0,479.6 L427.3,484.1 L439.5,484.4 L451.8,481.3 L464.0,484.8 L476.2,483.5 L488.5,481.2 L500.7,474.5 L513.0,472.5 L525.2,481.3 L537.4,483.3 L549.7,476.1 L561.9,481.5 L574.2,483.0 L586.4,480.9 L598.6,482.5 L610.9,480.0 L623.1,483.6 L635.4,483.2 L647.6,481.2 L659.8,481.5 L672.1,482.4 L684.3,482.1" fill="none" stroke="#85bf73" stroke-width="0.6" stroke-opacity="0.25" stroke-linejoin="bevel"/>
<path d="M415.0,477.3 L427.3,475.0 L439.5,478.5 L451.8,478.0 L464.0,479.8 L476.2,476.8 L488.5,476.0 L500.7,476.6 L513.0,476.2 L525.2,478.3 L537.4,475.7 L549.7,476.9 L561.9,476.0 L574.2,477.3 L586.4,475.2 L598.6,478.5 L610.9,467.8 L623.1,477.2 L635.4,476.1 L647.6,477.5 L659.8,475.0 L672.1,477.8 L684.3,477.3" fill="none" stroke="#6ab061" stroke-width="0.6" stroke-opacity="0.25" stroke-linejoin="bevel"/>
<path d="M415.0,484.7 L427.3,482.1 L439.5,483.4 L451.8,482.6 L464.0,483.8 L476.2,481.2 L488.5,485.1 L500.7,482.7 L513.0,481.9 L525.2,482.9 L537.4,483.3 L549.7,483.2 L561.9,482.1 L574.2,484.8 L586.4,482.3 L598.6,472.4 L610.9,483.0 L623.1,484.2 L635.4,482.5 L647.6,482.4 L659.8,483.5 L672.1,482.3 L684.3,481.3" fill="none" stroke="#86c074" stroke-width="0.6" stroke-opacity="0.25" stroke-linejoin="bevel"/>
<path d="M415.0,477.4 L427.3,468.7 L439.5,475.6 L451.8,477.5 L464.0,476.6 L476.2,476.2 L488.5,477.2 L500.7,477.4 L513.0,471.1 L525.2,477.1 L537.4,467.8 L549.7,476.2 L561.9,480.2 L574.2,476.5 L586.4,476.8 L598.6,475.7 L610.9,475.5 L623.1,476.2 L635.4,476.3 L647.6,476.6 L659.8,477.4 L672.1,476.4 L684.3,475.1" fill="none" stroke="#67af60" stroke-width="0.6" stroke-opacity="0.25" stroke-linejoin="bevel"/>
<path d="M415.0,470.9 L427.3,480.4 L439.5,479.1 L451.8,479.8 L464.0,482.4 L476.2,481.6 L488.5,479.5 L500.7,481.2 L513.0,480.6 L525.2,479.5 L537.4,479.9 L549.7,479.3 L561.9,483.9 L574.2,478.9 L586.4,479.8 L598.6,479.0 L610.9,474.4 L623.1,479.4 L635.4,482.4 L647.6,478.4 L659.8,480.6 L672.1,479.6 L684.3,480.0" fill="none" stroke="#7ab96c" stroke-width="0.6" stroke-opacity="0.25" stroke-linejoin="bevel"/>
<path d="M415.0,484.7 L427.3,483.1 L439.5,482.4 L451.8,475.0 L464.0,484.2 L476.2,482.0 L488.5,475.5 L500.7,484.1 L513.0,482.0 L525.2,482.9 L537.4,480.7 L549.7,482.4 L561.9,481.8 L574.2,484.6 L586.4,481.1 L598.6,477.7 L610.9,482.0 L623.1,484.8 L635.4,483.7 L647.6,484.1 L659.8,485.2 L672.1,484.3 L684.3,485.5" fill="none" stroke="#87c074" stroke-width="0.6" stroke-opacity="0.25" stroke-linejoin="bevel"/>
<path d="M415.0,476.7 L427.3,469.6 L439.5,478.5 L451.8,476.5 L464.0,478.9 L476.2,477.0 L488.5,477.7 L500.7,477.2 L513.0,476.8 L525.2,476.4 L537.4,477.9 L549.7,478.0 L561.9,468.5 L574.2,477.3 L586.4,478.9 L598.6,470.3 L610.9,476.5 L623.1,478.8 L635.4,477.2 L647.6,476.5 L659.8,478.8 L672.1,476.5 L684.3,479.0" fill="none" stroke="#6eb264" stroke-width="0.6" stroke-opacity="0.25" stroke-linejoin="bevel"/>
<path d="M415.0,480.8 L427.3,478.3 L439.5,481.8 L451.8,478.9 L464.0,479.4 L476.2,481.7 L488.5,476.9 L500.7,479.3 L513.0,469.3 L525.2,480.3 L537.4,479.0 L549.7,481.2 L561.9,480.1 L574.2,478.4 L586.4,479.8 L598.6,480.3 L610.9,477.7 L623.1,477.2 L635.4,480.1 L647.6,481.2 L659.8,479.4 L672.1,479.5 L684.3,481.1" fill="none" stroke="#77b76a" stroke-width="0.6" stroke-opacity="0.25" stroke-linejoin="bevel"/>
<path d="M415.0,479.6 L427.3,473.1 L439.5,478.7 L451.8,479.1 L464.0,480.1 L476.2,481.7 L488.5,480.0 L500.7,480.6 L513.0,479.9 L525.2,481.5 L537.4,480.5 L549.7,481.4 L561.9,479.0 L574.2,482.2 L586.4,480.7 L598.6,482.0 L610.9,479.4 L623.1,479.4 L635.4,480.2 L647.6,480.1 L659.8,479.6 L672.1,480.4 L684.3,481.1" fill="none" stroke="#7ab96c" stroke-width="0.6" stroke-opacity="0.25" stroke-linejoin="bevel"/>
<path d="M415.0,466.6 L427.3,474.6 L439.5,474.6 L451.8,474.3 L464.0,466.6 L476.2,476.1 L488.5,474.8 L500.7,474.3 L513.0,475.8 L525.2,474.5 L537.4,478.4 L549.7,477.1 L561.9,475.5 L574.2,472.6 L586.4,473.1 L598.6,465.6 L610.9,474.1 L623.1,475.6 L635.4,475.6 L647.6,469.8 L659.8,474.2 L672.1,475.1 L684.3,474.4" fill="none" stroke="#5faa5a" stroke-width="0.6" stroke-opacity="0.25" stroke-linejoin="bevel"/>
<path d="M415.0,474.1 L427.3,472.4 L439.5,466.0 L451.8,476.0 L464.0,475.5 L476.2,475.5 L488.5,473.5 L500.7,474.9 L513.0,474.7 L525.2,474.6 L537.4,473.8 L549.7,474.3 L561.9,475.0 L574.2,474.8 L586.4,473.3 L598.6,474.7 L610.9,474.9 L623.1,476.1 L635.4,474.4 L647.6,478.5 L659.8,476.4 L672.1,473.7 L684.3,473.2" fill="none" stroke="#5faa5a" stroke-width="0.6" stroke-opacity="0.25" stroke-linejoin="bevel"/>
<path d="M415.0,479.5 L427.3,481.0 L439.5,481.7 L451.8,480.4 L464.0,478.9 L476.2,478.8 L488.5,479.1 L500.7,479.8 L513.0,481.3 L525.2,479.2 L537.4,479.3 L549.7,478.3 L561.9,479.7 L574.2,482.8 L586.4,480.5 L598.6,480.7 L610.9,477.8 L623.1,482.7 L635.4,478.4 L647.6,480.0 L659.8,480.5 L672.1,478.7 L684.3,480.1" fill="none" stroke="#78b86b" stroke-width="0.6" stroke-opacity="0.25" stroke-linejoin="bevel"/>
<path d="M415.0,473.8 L427.3,473.5 L439.5,474.5 L451.8,473.2 L464.0,475.9 L476.2,476.0 L488.5,473.9 L500.7,476.5 L513.0,476.0 L525.2,474.3 L537.4,467.5 L549.7,475.6 L561.9,476.3 L574.2,475.8 L586.4,478.8 L598.6,474.1 L610.9,475.2 L623.1,478.7 L635.4,472.2 L647.6,472.2 L659.8,473.9 L672.1,476.4 L684.3,474.4" fill="none" stroke="#5faa5a" stroke-width="0.6" stroke-opacity="0.25" stroke-linejoin="bevel"/>
<path d="M415.0,483.8 L427.3,482.6 L439.5,483.3 L451.8,484.8 L464.0,482.9 L476.2,482.7 L488.5,482.8 L500.7,483.3 L513.0,482.3 L525.2,482.2 L537.4,484.0 L549.7,481.7 L561.9,474.1 L574.2,480.8 L586.4,484.2 L598.6,484.2 L610.9,480.8 L623.1,479.0 L635.4,480.7 L647.6,480.9 L659.8,483.8 L672.1,482.6 L684.3,482.3" fill="none" stroke="#85bf73" stroke-width="0.6" stroke-opacity="0.25" stroke-linejoin="bevel"/>
<path d="M415.0,478.1 L427.3,476.1 L439.5,476.5 L451.8,476.4 L464.0,475.6 L476.2,475.8 L488.5,476.4 L500.7,473.9 L513.0,478.5 L525.2,477.0 L537.4,478.7 L549.7,478.8 L561.9,479.2 L574.2,477.4 L586.4,478.1 L598.6,478.7 L610.9,477.1 L623.1,478.5 L635.4,480.6 L647.6,477.0 L659.8,471.2 L672.1,478.6 L684.3,480.7" fill="none" stroke="#6eb264" stroke-width="0.6" stroke-opacity="0.25" stroke-linejoin="bevel"/>
<path d="M415.0,476.1 L427.3,477.2 L439.5,476.0 L451.8,477.3 L464.0,476.0 L476.2,476.3 L488.5,478.6 L500.7,476.8 L513.0,477.6 L525.2,477.6 L537.4,479.1 L549.7,477.0 L561.9,477.4 L574.2,478.2 L586.4,476.2 L598.6,479.9 L610.9,479.3 L623.1,479.1 L635.4,475.8 L647.6,476.8 L659.8,477.3 L672.1,477.8 L684.3,478.0" fill="none" stroke="#6bb162" stroke-width="0.6" stroke-opacity="0.25" stroke-linejoin="bevel"/>
<path d="M415.0,479.1 L427.3,478.9 L439.5,479.0 L451.8,478.3 L464.0,480.0 L476.2,477.6 L488.5,468.8 L500.7,478.9 L513.0,479.7 L525.2,480.1 L537.4,480.5 L549.7,480.0 L561.9,480.6 L574.2,479.9 L586.4,478.6 L598.6,479.1 L610.9,473.3 L623.1,478.6 L635.4,481.2 L647.6,480.4 L659.8,479.5 L672.1,480.5 L684.3,481.3" fill="none" stroke="#79b86b" stroke-width="0.6" stroke-opacity="0.25" stroke-linejoin="bevel"/>
<path d="M415.0,474.1 L427.3,474.4 L439.5,475.0 L451.8,475.3 L464.0,469.8 L476.2,476.1 L488.5,472.0 L500.7,473.8 L513.0,474.7 L525.2,472.9 L537.4,473.3 L549.7,476.6 L561.9,477.3 L574.2,477.8 L586.4,475.1 L598.6,475.2 L610.9,476.1 L623.1,476.3 L635.4,474.9 L647.6,464.6 L659.8,474.4 L672.1,475.8 L684.3,474.6" fill="none" stroke="#60ab5b" stroke-width="0.6" stroke-opacity="0.25" stroke-linejoin="bevel"/>
<path d="M415.0,481.3 L427.3,480.3 L439.5,479.1 L451.8,471.7 L464.0,479.2 L476.2,480.6 L488.5,480.9 L500.7,478.7 L513.0,481.9 L525.2,474.4 L537.4,480.4 L549.7,479.4 L561.9,479.5 L574.2,481.3 L586.4,477.2 L598.6,478.5 L610.9,481.3 L623.1,478.2 L635.4,469.6 L647.6,479.6 L659.8,468.3 L672.1,481.1 L684.3,480.5" fill="none" stroke="#7bb96d" stroke-width="0.6" stroke-opacity="0.25" stroke-linejoin="bevel"/>
<path d="M415.0,479.6 L427.3,476.7 L439.5,479.8 L451.8,481.5 L464.0,478.7 L476.2,480.1 L488.5,479.3 L500.7,478.9 L513.0,479.2 L525.2,480.1 L537.4,479.7 L549.7,478.0 L561.9,480.0 L574.2,480.9 L586.4,478.7 L598.6,470.8 L610.9,480.5 L623.1,480.8 L635.4,482.1 L647.6,481.2 L659.8,478.1 L672.1,478.7 L684.3,478.1" fill="none" stroke="#77b76a" stroke-width="0.6" stroke-opacity="0.25" stroke-linejoin="bevel"/>
<path d="M415.0,482.6 L427.3,480.2 L439.5,483.7 L451.8,482.7 L464.0,485.1 L476.2,481.1 L488.5,481.5 L500.7,480.6 L513.0,481.6 L525.2,481.1 L537.4,481.9 L549.7,482.9 L561.9,478.8 L574.2,482.0 L586.4,481.3 L598.6,479.5 L610.9,481.4 L623.1,481.8 L635.4,482.6 L647.6,481.9 L659.8,481.4 L672.1,483.8 L684.3,481.4" fill="none" stroke="#81bd71" stroke-width="0.6" stroke-opacity="0.25" stroke-linejoin="bevel"/>
<path d="M415.0,477.1 L427.3,477.8 L439.5,479.6 L451.8,478.4 L464.0,479.1 L476.2,478.6 L488.5,475.6 L500.7,478.0 L513.0,477.7 L525.2,478.2 L537.4,477.0 L549.7,478.1 L561.9,476.9 L574.2,477.4 L586.4,478.5 L598.6,479.2 L610.9,479.0 L623.1,479.5 L635.4,480.3 L647.6,475.2 L659.8,477.0 L672.1,477.8 L684.3,476.6" fill="none" stroke="#6fb365" stroke-width="0.6" stroke-opacity="0.25" stroke-linejoin="bevel"/>
<path d="M415.0,476.9 L427.3,475.3 L439.5,474.7 L451.8,475.4 L464.0,472.8 L476.2,474.1 L488.5,472.5 L500.7,472.7 L513.0,468.0 L525.2,474.6 L537.4,473.4 L549.7,475.5 L561.9,475.8 L574.2,475.3 L586.4,476.4 L598.6,475.5 L610.9,475.6 L623.1,476.5 L635.4,476.9 L647.6,475.1 L659.8,474.6 L672.1,474.5 L684.3,472.1" fill="none" stroke="#61ab5c" stroke-width="0.6" stroke-opacity="0.25" stroke-linejoin="bevel"/>
<path d="M415.0,476.7 L427.3,475.2 L439.5,475.5 L451.8,476.1 L464.0,477.0 L476.2,474.1 L488.5,468.6 L500.7,467.7 L513.0,477.7 L525.2,476.0 L537.4,476.8 L549.7,465.7 L561.9,475.4 L574.2,474.8 L586.4,476.5 L598.6,473.3 L610.9,475.2 L623.1,476.5 L635.4,475.6 L647.6,475.1 L659.8,472.8 L672.1,475.4 L684.3,474.0" fill="none" stroke="#62ac5c" stroke-width="0.6" stroke-opacity="0.25" stroke-linejoin="bevel"/>
<path d="M415.0,481.5 L427.3,481.8 L439.5,480.4 L451.8,481.5 L464.0,481.9 L476.2,479.2 L488.5,481.5 L500.7,481.1 L513.0,480.7 L525.2,479.7 L537.4,482.7 L549.7,478.8 L561.9,479.5 L574.2,479.3 L586.4,480.7 L598.6,482.2 L610.9,481.0 L623.1,474.3 L635.4,481.3 L647.6,480.7 L659.8,480.3 L672.1,478.5 L684.3,482.6" fill="none" stroke="#7ebb6f" stroke-width="0.6" stroke-opacity="0.25" stroke-linejoin="bevel"/>
<path d="M415.0,474.7 L427.3,476.9 L439.5,476.5 L451.8,477.6 L464.0,480.2 L476.2,476.4 L488.5,476.4 L500.7,469.6 L513.0,476.0 L525.2,476.0 L537.4,476.0 L549.7,477.0 L561.9,478.6 L574.2,477.0 L586.4,476.6 L598.6,475.8 L610.9,477.8 L623.1,478.1 L635.4,477.6 L647.6,478.8 L659.8,476.7 L672.1,476.0 L684.3,464.8" fill="none" stroke="#6bb062" stroke-width="0.6" stroke-opacity="0.25" stroke-linejoin="bevel"/>
<path d="M415.0,478.9 L427.3,479.4 L439.5,479.6 L451.8,479.4 L464.0,481.5 L476.2,479.6 L488.5,471.8 L500.7,479.6 L513.0,480.6 L525.2,478.6 L537.4,481.3 L549.7,477.6 L561.9,481.0 L574.2,480.0 L586.4,479.3 L598.6,476.7 L610.9,478.9 L623.1,478.4 L635.4,478.7 L647.6,477.9 L659.8,478.0 L672.1,477.1 L684.3,480.1" fill="none" stroke="#77b76a" stroke-width="0.6" stroke-opacity="0.25" stroke-linejoin="bevel"/>
<path d="M415.0,479.9 L427.3,472.0 L439.5,479.0 L451.8,480.5 L464.0,479.7 L476.2,480.3 L488.5,478.8 L500.7,479.1 L513.0,477.5 L525.2,478.6 L537.4,476.5 L549.7,477.7 L561.9,479.7 L574.2,477.5 L586.4,479.4 L598.6,478.1 L610.9,480.1 L623.1,478.4 L635.4,476.5 L647.6,477.2 L659.8,479.8 L672.1,478.0 L684.3,481.0" fill="none" stroke="#73b568" stroke-width="0.6" stroke-opacity="0.25" stroke-linejoin="bevel"/>
<path d="M415.0,472.2 L427.3,477.6 L439.5,480.0 L451.8,482.1 L464.0,480.7 L476.2,480.8 L488.5,477.9 L500.7,480.7 L513.0,481.2 L525.2,482.4 L537.4,468.9 L549.7,479.0 L561.9,479.9 L574.2,482.9 L586.4,481.4 L598.6,481.6 L610.9,479.7 L623.1,480.3 L635.4,481.7 L647.6,482.2 L659.8,480.8 L672.1,479.5 L684.3,481.6" fill="none" stroke="#7bba6d" stroke-width="0.6" stroke-opacity="0.25" stroke-linejoin="bevel"/>
<path d="M415.0,478.2 L427.3,476.2 L439.5,472.4 L451.8,475.2 L464.0,476.5 L476.2,475.7 L488.5,475.4 L500.7,477.4 L513.0,475.0 L525.2,476.2 L537.4,470.2 L549.7,476.3 L561.9,474.2 L574.2,476.5 L586.4,474.7 L598.6,474.8 L610.9,475.6 L623.1,475.3 L635.4,477.0 L647.6,474.6 L659.8,475.9 L672.1,476.2 L684.3,469.3" fill="none" stroke="#62ac5c" stroke-width="0.6" stroke-opacity="0.25" stroke-linejoin="bevel"/>
<path d="M415.0,478.7 L427.3,476.4 L439.5,478.2 L451.8,480.2 L464.0,479.0 L476.2,478.2 L488.5,478.1 L500.7,478.7 L513.0,478.9 L525.2,479.7 L537.4,480.3 L549.7,479.4 L561.9,469.9 L574.2,480.0 L586.4,471.3 L598.6,478.0 L610.9,479.0 L623.1,478.3 L635.4,480.1 L647.6,478.3 L659.8,477.7 L672.1,477.7 L684.3,479.7" fill="none" stroke="#71b466" stroke-width="0.6" stroke-opacity="0.25" stroke-linejoin="bevel"/>
<path d="M415.0,475.8 L427.3,475.2 L439.5,477.6 L451.8,477.0 L464.0,475.2 L476.2,476.6 L488.5,475.1 L500.7,478.3 L513.0,475.3 L525.2,473.0 L537.4,477.8 L549.7,476.7 L561.9,477.5 L574.2,474.0 L586.4,476.3 L598.6,476.2 L610.9,476.5 L623.1,474.6 L635.4,468.2 L647.6,475.6 L659.8,476.7 L672.1,478.9 L684.3,473.3" fill="none" stroke="#64ad5d" stroke-width="0.6" stroke-opacity="0.25" stroke-linejoin="bevel"/>
<path d="M415.0,484.4 L427.3,483.6 L439.5,484.1 L451.8,483.5 L464.0,483.3 L476.2,482.9 L488.5,486.0 L500.7,483.4 L513.0,483.3 L525.2,480.6 L537.4,483.8 L549.7,483.0 L561.9,484.3 L574.2,484.3 L586.4,482.0 L598.6,483.7 L610.9,483.9 L623.1,482.0 L635.4,481.3 L647.6,482.8 L659.8,483.0 L672.1,480.6 L684.3,483.2" fill="none" stroke="#85bf73" stroke-width="0.6" stroke-opacity="0.25" stroke-linejoin="bevel"/>
<path d="M415.0,470.4 L427.3,478.9 L439.5,479.1 L451.8,477.7 L464.0,478.9 L476.2,476.6 L488.5,477.4 L500.7,470.7 L513.0,478.4 L525.2,478.1 L537.4,476.6 L549.7,477.9 L561.9,479.2 L574.2,480.7 L586.4,477.7 L598.6,477.7 L610.9,478.6 L623.1,476.6 L635.4,475.9 L647.6,480.7 L659.8,477.6 L672.1,478.0 L684.3,477.5" fill="none" stroke="#72b466" stroke-width="0.6" stroke-opacity="0.25" stroke-linejoin="bevel"/>
<path d="M415.0,475.1 L427.3,476.4 L439.5,475.8 L451.8,466.2 L464.0,477.4 L476.2,468.9 L488.5,474.1 L500.7,470.0 L513.0,473.8 L525.2,475.5 L537.4,476.7 L549.7,477.4 L561.9,476.1 L574.2,474.2 L586.4,475.7 L598.6,467.6 L610.9,476.6 L623.1,476.3 L635.4,477.2 L647.6,475.5 L659.8,475.7 L672.1,477.5 L684.3,477.1" fill="none" stroke="#64ad5d" stroke-width="0.6" stroke-opacity="0.25" stroke-linejoin="bevel"/>
<path d="M415.0,478.8 L427.3,480.3 L439.5,479.1 L451.8,478.8 L464.0,468.9 L476.2,479.6 L488.5,479.5 L500.7,477.8 L513.0,480.5 L525.2,480.0 L537.4,478.5 L549.7,476.0 L561.9,479.0 L574.2,478.8 L586.4,475.5 L598.6,479.7 L610.9,476.5 L623.1,469.1 L635.4,477.0 L647.6,479.2 L659.8,479.3 L672.1,480.8 L684.3,478.0" fill="none" stroke="#73b567" stroke-width="0.6" stroke-opacity="0.25" stroke-linejoin="bevel"/>
<path d="M415.0,484.1 L427.3,480.9 L439.5,483.0 L451.8,481.0 L464.0,481.7 L476.2,481.7 L488.5,481.4 L500.7,481.0 L513.0,479.9 L525.2,481.9 L537.4,481.7 L549.7,479.2 L561.9,481.2 L574.2,481.4 L586.4,481.4 L598.6,481.2 L610.9,480.4 L623.1,481.8 L635.4,480.8 L647.6,479.9 L659.8,479.9 L672.1,481.1 L684.3,481.5" fill="none" stroke="#80bd70" stroke-width="0.6" stroke-opacity="0.25" stroke-linejoin="bevel"/>
<path d="M415.0,476.9 L427.3,478.8 L439.5,477.9 L451.8,478.1 L464.0,478.6 L476.2,477.8 L488.5,480.5 L500.7,479.7 L513.0,479.8 L525.2,477.5 L537.4,478.4 L549.7,478.6 L561.9,478.8 L574.2,479.2 L586.4,478.3 L598.6,478.3 L610.9,477.5 L623.1,479.7 L635.4,479.3 L647.6,470.2 L659.8,477.7 L672.1,477.9 L684.3,480.3" fill="none" stroke="#73b568" stroke-width="0.6" stroke-opacity="0.25" stroke-linejoin="bevel"/>
<path d="M415.0,474.8 L427.3,476.3 L439.5,476.8 L451.8,477.0 L464.0,476.7 L476.2,476.8 L488.5,476.7 L500.7,477.2 L513.0,476.8 L525.2,476.5 L537.4,476.7 L549.7,476.4 L561.9,476.1 L574.2,475.7 L586.4,477.4 L598.6,477.0 L610.9,477.1 L623.1,476.9 L635.4,478.3 L647.6,476.1 L659.8,478.5 L672.1,475.7 L684.3,476.7" fill="none" stroke="#6ab061" stroke-width="0.6" stroke-opacity="0.25" stroke-linejoin="bevel"/>
<path d="M415.0,480.7 L427.3,480.1 L439.5,482.4 L451.8,482.5 L464.0,479.0 L476.2,478.5 L488.5,480.8 L500.7,483.0 L513.0,482.5 L525.2,476.9 L537.4,483.5 L549.7,479.8 L561.9,480.7 L574.2,470.2 L586.4,478.9 L598.6,481.3 L610.9,479.0 L623.1,478.2 L635.4,483.4 L647.6,480.8 L659.8,481.3 L672.1,476.2 L684.3,473.8" fill="none" stroke="#7cba6d" stroke-width="0.6" stroke-opacity="0.25" stroke-linejoin="bevel"/>
<path d="M415.0,485.3 L427.3,487.2 L439.5,486.9 L451.8,485.6 L464.0,485.9 L476.2,487.6 L488.5,487.9 L500.7,485.1 L513.0,485.8 L525.2,485.3 L537.4,487.6 L549.7,487.6 L561.9,486.2 L574.2,485.2 L586.4,486.6 L598.6,487.1 L610.9,489.3 L623.1,486.5 L635.4,486.3 L647.6,488.0 L659.8,486.2 L672.1,486.9 L684.3,485.6" fill="none" stroke="#bbd99c" stroke-width="0.6" stroke-opacity="0.15" stroke-linejoin="bevel"/>
<path d="M415.0,485.0 L427.3,485.9 L439.5,485.1 L451.8,484.4 L464.0,486.7 L476.2,487.1 L488.5,488.7 L500.7,479.9 L513.0,486.6 L525.2,486.8 L537.4,486.5 L549.7,484.4 L561.9,484.3 L574.2,485.3 L586.4,486.6 L598.6,485.2 L610.9,486.8 L623.1,486.7 L635.4,484.7 L647.6,484.4 L659.8,485.2 L672.1,485.2 L684.3,485.0" fill="none" stroke="#a6cf8c" stroke-width="0.6" stroke-opacity="0.15" stroke-linejoin="bevel"/>
<path d="M415.0,485.9 L427.3,484.5 L439.5,484.8 L451.8,484.7 L464.0,484.4 L476.2,484.4 L488.5,483.1 L500.7,484.1 L513.0,485.2 L525.2,485.1 L537.4,483.5 L549.7,483.1 L561.9,485.7 L574.2,486.0 L586.4,484.8 L598.6,484.5 L610.9,485.8 L623.1,482.2 L635.4,482.3 L647.6,483.6 L659.8,485.7 L672.1,483.0 L684.3,483.4" fill="none" stroke="#9bca84" stroke-width="0.6" stroke-opacity="0.15" stroke-linejoin="bevel"/>
<path d="M415.0,485.5 L427.3,485.2 L439.5,486.6 L451.8,484.8 L464.0,484.0 L476.2,487.5 L488.5,484.9 L500.7,485.4 L513.0,485.5 L525.2,487.7 L537.4,485.8 L549.7,484.3 L561.9,482.8 L574.2,486.3 L586.4,487.5 L598.6,487.8 L610.9,487.5 L623.1,486.6 L635.4,486.8 L647.6,486.5 L659.8,486.8 L672.1,485.3 L684.3,487.6" fill="none" stroke="#a9d18f" stroke-width="0.6" stroke-opacity="0.15" stroke-linejoin="bevel"/>
<path d="M415.0,485.4 L427.3,484.3 L439.5,484.5 L451.8,485.9 L464.0,484.3 L476.2,484.0 L488.5,485.5 L500.7,483.3 L513.0,486.3 L525.2,484.3 L537.4,486.3 L549.7,484.9 L561.9,486.9 L574.2,487.1 L586.4,485.0 L598.6,485.1 L610.9,484.0 L623.1,485.3 L635.4,484.1 L647.6,485.1 L659.8,487.2 L672.1,483.2 L684.3,483.8" fill="none" stroke="#a3ce8a" stroke-width="0.6" stroke-opacity="0.15" stroke-linejoin="bevel"/>
<path d="M415.0,484.2 L427.3,484.7 L439.5,485.1 L451.8,488.2 L464.0,487.1 L476.2,486.7 L488.5,486.9 L500.7,484.9 L513.0,484.5 L525.2,486.2 L537.4,487.7 L549.7,485.5 L561.9,486.3 L574.2,484.1 L586.4,483.1 L598.6,487.4 L610.9,485.4 L623.1,487.0 L635.4,476.7 L647.6,483.6 L659.8,484.3 L672.1,485.6 L684.3,487.5" fill="none" stroke="#a9d08e" stroke-width="0.6" stroke-opacity="0.15" stroke-linejoin="bevel"/>
<path d="M415.0,485.6 L427.3,484.6 L439.5,485.4 L451.8,485.5 L464.0,486.0 L476.2,486.0 L488.5,486.5 L500.7,485.4 L513.0,485.0 L525.2,484.1 L537.4,485.8 L549.7,485.3 L561.9,483.7 L574.2,487.6 L586.4,486.5 L598.6,485.2 L610.9,485.7 L623.1,487.3 L635.4,486.9 L647.6,484.9 L659.8,486.7 L672.1,484.5 L684.3,486.9" fill="none" stroke="#abd190" stroke-width="0.6" stroke-opacity="0.15" stroke-linejoin="bevel"/>
<path d="M415.0,487.2 L427.3,485.7 L439.5,488.8 L451.8,488.7 L464.0,487.1 L476.2,487.3 L488.5,489.0 L500.7,485.8 L513.0,487.7 L525.2,487.8 L537.4,488.5 L549.7,487.7 L561.9,490.0 L574.2,488.8 L586.4,486.8 L598.6,486.9 L610.9,490.6 L623.1,487.2 L635.4,488.2 L647.6,487.7 L659.8,488.5 L672.1,486.9 L684.3,489.6" fill="none" stroke="#c8dfa6" stroke-width="0.6" stroke-opacity="0.15" stroke-linejoin="bevel"/>
<path d="M415.0,484.8 L427.3,484.4 L439.5,487.0 L451.8,482.9 L464.0,483.6 L476.2,484.0 L488.5,484.3 L500.7,484.0 L513.0,485.6 L525.2,484.8 L537.4,482.5 L549.7,484.2 L561.9,485.1 L574.2,483.7 L586.4,484.6 L598.6,483.8 L610.9,481.8 L623.1,484.1 L635.4,484.7 L647.6,484.5 L659.8,485.8 L672.1,484.9 L684.3,486.6" fill="none" stroke="#95c77f" stroke-width="0.6" stroke-opacity="0.15" stroke-linejoin="bevel"/>
<path d="M415.0,484.3 L427.3,484.9 L439.5,485.5 L451.8,486.6 L464.0,484.6 L476.2,484.3 L488.5,486.0 L500.7,482.9 L513.0,483.8 L525.2,483.4 L537.4,482.9 L549.7,486.3 L561.9,484.1 L574.2,483.4 L586.4,484.2 L598.6,484.1 L610.9,485.3 L623.1,484.3 L635.4,484.7 L647.6,482.9 L659.8,484.0 L672.1,482.1 L684.3,486.2" fill="none" stroke="#93c67d" stroke-width="0.6" stroke-opacity="0.15" stroke-linejoin="bevel"/>
<path d="M415.0,487.4 L427.3,487.6 L439.5,488.4 L451.8,486.8 L464.0,484.6 L476.2,488.2 L488.5,487.0 L500.7,485.7 L513.0,489.4 L525.2,479.0 L537.4,486.6 L549.7,485.1 L561.9,487.0 L574.2,486.1 L586.4,487.1 L598.6,486.5 L610.9,487.4 L623.1,488.5 L635.4,488.1 L647.6,487.1 L659.8,487.9 L672.1,485.5 L684.3,486.9" fill="none" stroke="#bbd99c" stroke-width="0.6" stroke-opacity="0.15" stroke-linejoin="bevel"/>
<path d="M415.0,483.1 L427.3,482.7 L439.5,486.1 L451.8,482.2 L464.0,483.1 L476.2,483.6 L488.5,483.9 L500.7,481.0 L513.0,486.4 L525.2,485.0 L537.4,485.7 L549.7,481.6 L561.9,482.9 L574.2,484.9 L586.4,483.8 L598.6,478.3 L610.9,484.2 L623.1,483.9 L635.4,483.1 L647.6,482.4 L659.8,485.0 L672.1,485.6 L684.3,485.3" fill="none" stroke="#8fc47a" stroke-width="0.6" stroke-opacity="0.15" stroke-linejoin="bevel"/>
<path d="M415.0,485.1 L427.3,486.0 L439.5,485.2 L451.8,487.8 L464.0,484.5 L476.2,487.4 L488.5,485.0 L500.7,486.6 L513.0,479.4 L525.2,487.5 L537.4,485.1 L549.7,486.9 L561.9,485.4 L574.2,486.9 L586.4,485.7 L598.6,486.7 L610.9,487.6 L623.1,486.2 L635.4,487.2 L647.6,485.6 L659.8,488.8 L672.1,485.7 L684.3,486.3" fill="none" stroke="#b7d799" stroke-width="0.6" stroke-opacity="0.15" stroke-linejoin="bevel"/>
<path d="M415.0,486.8 L427.3,487.4 L439.5,488.9 L451.8,488.4 L464.0,486.7 L476.2,488.7 L488.5,486.0 L500.7,490.3 L513.0,489.7 L525.2,486.8 L537.4,486.7 L549.7,488.1 L561.9,489.0 L574.2,488.8 L586.4,488.6 L598.6,488.7 L610.9,484.7 L623.1,488.7 L635.4,489.1 L647.6,489.1 L659.8,488.9 L672.1,485.6 L684.3,488.4" fill="none" stroke="#cce1a9" stroke-width="0.6" stroke-opacity="0.15" stroke-linejoin="bevel"/>
<path d="M415.0,483.2 L427.3,483.7 L439.5,484.0 L451.8,484.8 L464.0,482.4 L476.2,484.6 L488.5,484.0 L500.7,485.9 L513.0,484.7 L525.2,484.9 L537.4,484.9 L549.7,485.2 L561.9,485.6 L574.2,482.7 L586.4,485.6 L598.6,484.8 L610.9,485.9 L623.1,482.8 L635.4,481.4 L647.6,484.6 L659.8,485.0 L672.1,484.8 L684.3,485.9" fill="none" stroke="#97c881" stroke-width="0.6" stroke-opacity="0.15" stroke-linejoin="bevel"/>
<path d="M415.0,488.1 L427.3,486.8 L439.5,486.3 L451.8,488.0 L464.0,486.4 L476.2,486.2 L488.5,488.3 L500.7,489.0 L513.0,488.6 L525.2,486.8 L537.4,485.1 L549.7,486.9 L561.9,486.2 L574.2,485.6 L586.4,487.7 L598.6,486.6 L610.9,487.2 L623.1,486.1 L635.4,487.8 L647.6,486.6 L659.8,485.7 L672.1,485.7 L684.3,486.1" fill="none" stroke="#bad89b" stroke-width="0.6" stroke-opacity="0.15" stroke-linejoin="bevel"/>
<path d="M415.0,484.8 L427.3,482.3 L439.5,484.6 L451.8,484.8 L464.0,485.3 L476.2,487.7 L488.5,484.2 L500.7,483.3 L513.0,483.0 L525.2,483.6 L537.4,482.5 L549.7,482.6 L561.9,487.5 L574.2,482.3 L586.4,478.8 L598.6,485.0 L610.9,484.1 L623.1,486.3 L635.4,485.1 L647.6,485.2 L659.8,486.1 L672.1,486.4 L684.3,484.9" fill="none" stroke="#98c982" stroke-width="0.6" stroke-opacity="0.15" stroke-linejoin="bevel"/>
<path d="M415.0,487.5 L427.3,489.1 L439.5,490.3 L451.8,487.0 L464.0,490.2 L476.2,488.4 L488.5,487.8 L500.7,487.1 L513.0,488.3 L525.2,486.1 L537.4,488.6 L549.7,488.4 L561.9,486.4 L574.2,486.7 L586.4,488.6 L598.6,486.9 L610.9,487.6 L623.1,487.3 L635.4,490.1 L647.6,488.6 L659.8,488.0 L672.1,488.8 L684.3,487.8" fill="none" stroke="#cbe0a9" stroke-width="0.6" stroke-opacity="0.15" stroke-linejoin="bevel"/>
<path d="M415.0,486.6 L427.3,487.1 L439.5,489.7 L451.8,489.4 L464.0,488.2 L476.2,485.4 L488.5,488.0 L500.7,488.1 L513.0,486.1 L525.2,490.3 L537.4,486.2 L549.7,487.3 L561.9,482.9 L574.2,486.9 L586.4,480.2 L598.6,488.3 L610.9,489.8 L623.1,489.6 L635.4,488.6 L647.6,488.4 L659.8,486.5 L672.1,489.1 L684.3,486.2" fill="none" stroke="#c5dda4" stroke-width="0.6" stroke-opacity="0.15" stroke-linejoin="bevel"/>
<path d="M415.0,485.9 L427.3,485.1 L439.5,485.2 L451.8,483.6 L464.0,484.1 L476.2,485.6 L488.5,484.2 L500.7,483.6 L513.0,488.4 L525.2,486.6 L537.4,486.5 L549.7,486.2 L561.9,485.8 L574.2,485.6 L586.4,486.3 L598.6,487.6 L610.9,484.4 L623.1,486.6 L635.4,486.4 L647.6,486.3 L659.8,485.7 L672.1,483.1 L684.3,487.4" fill="none" stroke="#a3ce8a" stroke-width="0.6" stroke-opacity="0.15" stroke-linejoin="bevel"/>
<path d="M415.0,486.7 L427.3,485.7 L439.5,485.8 L451.8,485.0 L464.0,484.6 L476.2,485.2 L488.5,487.4 L500.7,487.0 L513.0,486.4 L525.2,484.6 L537.4,486.1 L549.7,487.6 L561.9,488.0 L574.2,486.6 L586.4,487.8 L598.6,485.1 L610.9,482.5 L623.1,487.0 L635.4,486.9 L647.6,479.7 L659.8,486.3 L672.1,487.7 L684.3,486.1" fill="none" stroke="#abd190" stroke-width="0.6" stroke-opacity="0.15" stroke-linejoin="bevel"/>
<path d="M415.0,487.5 L427.3,486.3 L439.5,486.0 L451.8,488.8 L464.0,484.4 L476.2,487.0 L488.5,485.9 L500.7,485.0 L513.0,484.0 L525.2,485.3 L537.4,476.9 L549.7,484.7 L561.9,486.6 L574.2,485.2 L586.4,484.8 L598.6,484.7 L610.9,484.8 L623.1,485.4 L635.4,487.5 L647.6,486.6 L659.8,486.4 L672.1,484.1 L684.3,485.3" fill="none" stroke="#a9d18f" stroke-width="0.6" stroke-opacity="0.15" stroke-linejoin="bevel"/>
<path d="M415.0,487.4 L427.3,486.2 L439.5,487.8 L451.8,485.8 L464.0,487.3 L476.2,488.5 L488.5,488.1 L500.7,486.8 L513.0,488.0 L525.2,488.5 L537.4,486.7 L549.7,488.6 L561.9,489.2 L574.2,487.8 L586.4,487.6 L598.6,483.4 L610.9,487.2 L623.1,488.5 L635.4,484.8 L647.6,482.8 L659.8,488.2 L672.1,486.2 L684.3,486.6" fill="none" stroke="#c3dca2" stroke-width="0.6" stroke-opacity="0.15" stroke-linejoin="bevel"/>
<path d="M415.0,486.6 L427.3,486.3 L439.5,484.2 L451.8,486.1 L464.0,485.2 L476.2,485.5 L488.5,483.6 L500.7,484.7 L513.0,483.9 L525.2,485.9 L537.4,486.8 L549.7,487.4 L561.9,481.6 L574.2,485.0 L586.4,484.8 L598.6,484.8 L610.9,485.2 L623.1,485.5 L635.4,483.1 L647.6,487.0 L659.8,489.0 L672.1,487.2 L684.3,485.7" fill="none" stroke="#a1cd88" stroke-width="0.6" stroke-opacity="0.15" stroke-linejoin="bevel"/>
<path d="M415.0,487.1 L427.3,487.8 L439.5,486.5 L451.8,485.7 L464.0,489.3 L476.2,486.2 L488.5,487.0 L500.7,488.6 L513.0,488.7 L525.2,489.6 L537.4,488.4 L549.7,487.4 L561.9,485.7 L574.2,487.1 L586.4,487.3 L598.6,488.1 L610.9,488.3 L623.1,488.0 L635.4,486.8 L647.6,488.7 L659.8,487.2 L672.1,486.1 L684.3,487.2" fill="none" stroke="#bdda9e" stroke-width="0.6" stroke-opacity="0.15" stroke-linejoin="bevel"/>
<path d="M415.0,498.1 L427.3,497.2 L439.5,497.1 L451.8,497.5 L464.0,497.2 L476.2,495.3 L488.5,496.7 L500.7,497.0 L513.0,499.5 L525.2,496.8 L537.4,499.0 L549.7,496.6 L561.9,497.0 L574.2,499.1 L586.4,496.9 L598.6,499.4 L610.9,496.1 L623.1,495.0 L635.4,497.6 L647.6,498.2 L659.8,497.7 L672.1,497.3 L684.3,495.6" fill="none" stroke="#e6c2a0" stroke-width="0.6" stroke-opacity="0.18" stroke-linejoin="bevel"/>
<path d="M415.0,495.0 L427.3,494.0 L439.5,495.6 L451.8,494.1 L464.0,496.5 L476.2,496.7 L488.5,495.6 L500.7,498.4 L513.0,495.7 L525.2,496.0 L537.4,496.5 L549.7,495.6 L561.9,495.4 L574.2,493.7 L586.4,492.3 L598.6,497.0 L610.9,492.5 L623.1,494.8 L635.4,493.4 L647.6,495.8 L659.8,494.5 L672.1,493.8 L684.3,497.4" fill="none" stroke="#ebccac" stroke-width="0.6" stroke-opacity="0.18" stroke-linejoin="bevel"/>
<path d="M415.0,493.3 L427.3,493.4 L439.5,493.0 L451.8,493.7 L464.0,494.7 L476.2,495.7 L488.5,494.5 L500.7,495.0 L513.0,493.9 L525.2,490.5 L537.4,492.5 L549.7,493.3 L561.9,495.2 L574.2,493.5 L586.4,492.0 L598.6,494.0 L610.9,493.7 L623.1,491.9 L635.4,493.1 L647.6,492.0 L659.8,494.4 L672.1,492.5 L684.3,494.1" fill="none" stroke="#efd3b6" stroke-width="0.6" stroke-opacity="0.18" stroke-linejoin="bevel"/>
<path d="M415.0,491.7 L427.3,492.1 L439.5,492.3 L451.8,490.5 L464.0,490.7 L476.2,490.3 L488.5,492.6 L500.7,489.8 L513.0,489.9 L525.2,492.7 L537.4,490.2 L549.7,491.9 L561.9,492.1 L574.2,490.5 L586.4,491.3 L598.6,491.8 L610.9,490.4 L623.1,492.8 L635.4,491.2 L647.6,489.6 L659.8,492.3 L672.1,491.0 L684.3,491.9" fill="none" stroke="#e5dab4" stroke-width="0.6" stroke-opacity="0.18" stroke-linejoin="bevel"/>
<path d="M415.0,492.6 L427.3,492.4 L439.5,492.8 L451.8,494.1 L464.0,495.1 L476.2,492.9 L488.5,492.4 L500.7,493.2 L513.0,493.2 L525.2,493.1 L537.4,492.9 L549.7,492.4 L561.9,492.2 L574.2,494.9 L586.4,493.4 L598.6,492.8 L610.9,494.5 L623.1,494.8 L635.4,492.7 L647.6,490.6 L659.8,494.5 L672.1,493.6 L684.3,495.1" fill="none" stroke="#efd3b6" stroke-width="0.6" stroke-opacity="0.18" stroke-linejoin="bevel"/>
<path d="M415.0,495.4 L427.3,492.9 L439.5,492.0 L451.8,492.2 L464.0,493.3 L476.2,495.1 L488.5,493.1 L500.7,493.6 L513.0,492.4 L525.2,494.7 L537.4,493.8 L549.7,494.1 L561.9,495.1 L574.2,492.6 L586.4,493.2 L598.6,492.2 L610.9,492.7 L623.1,493.3 L635.4,497.6 L647.6,493.0 L659.8,493.1 L672.1,496.9 L684.3,493.6" fill="none" stroke="#eed3b5" stroke-width="0.6" stroke-opacity="0.18" stroke-linejoin="bevel"/>
<path d="M415.0,496.5 L427.3,496.5 L439.5,498.7 L451.8,494.6 L464.0,495.4 L476.2,497.7 L488.5,496.2 L500.7,495.5 L513.0,494.1 L525.2,498.0 L537.4,497.8 L549.7,495.5 L561.9,496.5 L574.2,495.7 L586.4,495.4 L598.6,494.5 L610.9,495.8 L623.1,495.0 L635.4,496.6 L647.6,497.1 L659.8,497.4 L672.1,496.4 L684.3,495.8" fill="none" stroke="#e8c7a6" stroke-width="0.6" stroke-opacity="0.18" stroke-linejoin="bevel"/>
<path d="M415.0,492.3 L427.3,492.5 L439.5,495.2 L451.8,495.1 L464.0,493.9 L476.2,494.5 L488.5,492.8 L500.7,495.3 L513.0,492.6 L525.2,495.9 L537.4,493.9 L549.7,494.1 L561.9,493.6 L574.2,494.0 L586.4,493.8 L598.6,494.9 L610.9,491.2 L623.1,494.4 L635.4,494.0 L647.6,495.7 L659.8,497.3 L672.1,493.9 L684.3,495.3" fill="none" stroke="#eed1b3" stroke-width="0.6" stroke-opacity="0.18" stroke-linejoin="bevel"/>
<path d="M415.0,493.1 L427.3,489.4 L439.5,493.0 L451.8,492.8 L464.0,492.5 L476.2,491.8 L488.5,493.5 L500.7,492.2 L513.0,491.1 L525.2,491.6 L537.4,493.0 L549.7,490.9 L561.9,493.5 L574.2,490.5 L586.4,491.0 L598.6,491.0 L610.9,492.2 L623.1,491.1 L635.4,491.3 L647.6,491.9 L659.8,491.6 L672.1,491.7 L684.3,490.6" fill="none" stroke="#e5d9b4" stroke-width="0.6" stroke-opacity="0.18" stroke-linejoin="bevel"/>
<path d="M415.0,497.2 L427.3,496.5 L439.5,495.7 L451.8,493.5 L464.0,495.8 L476.2,497.8 L488.5,493.3 L500.7,495.8 L513.0,496.0 L525.2,496.0 L537.4,496.3 L549.7,496.6 L561.9,496.7 L574.2,495.8 L586.4,493.6 L598.6,493.9 L610.9,494.3 L623.1,495.7 L635.4,495.1 L647.6,495.7 L659.8,492.8 L672.1,495.1 L684.3,495.1" fill="none" stroke="#eacaaa" stroke-width="0.6" stroke-opacity="0.18" stroke-linejoin="bevel"/>
<path d="M415.0,492.3 L427.3,491.2 L439.5,493.3 L451.8,494.7 L464.0,492.6 L476.2,492.2 L488.5,491.9 L500.7,493.3 L513.0,489.5 L525.2,492.1 L537.4,492.1 L549.7,493.9 L561.9,493.5 L574.2,491.3 L586.4,491.0 L598.6,492.3 L610.9,493.0 L623.1,490.9 L635.4,493.2 L647.6,491.0 L659.8,492.4 L672.1,494.1 L684.3,492.6" fill="none" stroke="#eed7b8" stroke-width="0.6" stroke-opacity="0.18" stroke-linejoin="bevel"/>
<path d="M415.0,496.1 L427.3,496.4 L439.5,495.5 L451.8,495.0 L464.0,495.2 L476.2,496.4 L488.5,499.1 L500.7,495.1 L513.0,497.7 L525.2,496.5 L537.4,496.7 L549.7,496.5 L561.9,494.4 L574.2,497.6 L586.4,496.6 L598.6,494.4 L610.9,496.8 L623.1,496.3 L635.4,494.4 L647.6,495.4 L659.8,495.3 L672.1,496.1 L684.3,494.7" fill="none" stroke="#e9c8a7" stroke-width="0.6" stroke-opacity="0.18" stroke-linejoin="bevel"/>
<path d="M415.0,495.9 L427.3,496.0 L439.5,495.7 L451.8,495.6 L464.0,493.1 L476.2,495.6 L488.5,497.1 L500.7,497.2 L513.0,494.3 L525.2,496.5 L537.4,495.7 L549.7,498.3 L561.9,495.9 L574.2,496.3 L586.4,497.9 L598.6,494.5 L610.9,496.8 L623.1,498.9 L635.4,496.6 L647.6,497.1 L659.8,496.0 L672.1,495.1 L684.3,496.0" fill="none" stroke="#e9c8a7" stroke-width="0.6" stroke-opacity="0.18" stroke-linejoin="bevel"/>
<path d="M415.0,493.9 L427.3,493.2 L439.5,491.8 L451.8,492.4 L464.0,494.8 L476.2,493.4 L488.5,495.4 L500.7,492.4 L513.0,492.8 L525.2,493.3 L537.4,492.1 L549.7,495.9 L561.9,491.8 L574.2,494.6 L586.4,492.8 L598.6,493.6 L610.9,494.9 L623.1,494.7 L635.4,491.5 L647.6,494.6 L659.8,494.8 L672.1,494.8 L684.3,493.4" fill="none" stroke="#efd4b6" stroke-width="0.6" stroke-opacity="0.18" stroke-linejoin="bevel"/>
<path d="M415.0,495.8 L427.3,496.7 L439.5,495.7 L451.8,496.1 L464.0,496.9 L476.2,497.3 L488.5,495.1 L500.7,494.8 L513.0,497.9 L525.2,499.3 L537.4,496.2 L549.7,498.3 L561.9,498.7 L574.2,498.5 L586.4,495.8 L598.6,495.5 L610.9,496.1 L623.1,495.9 L635.4,496.0 L647.6,496.7 L659.8,495.7 L672.1,494.6 L684.3,496.8" fill="none" stroke="#e8c6a5" stroke-width="0.6" stroke-opacity="0.18" stroke-linejoin="bevel"/>
<path d="M415.0,495.4 L427.3,491.9 L439.5,491.1 L451.8,495.4 L464.0,492.4 L476.2,492.9 L488.5,493.9 L500.7,493.6 L513.0,493.9 L525.2,492.2 L537.4,493.9 L549.7,494.4 L561.9,494.3 L574.2,493.9 L586.4,495.5 L598.6,494.3 L610.9,494.3 L623.1,493.1 L635.4,493.6 L647.6,493.0 L659.8,495.9 L672.1,492.9 L684.3,493.8" fill="none" stroke="#eed2b4" stroke-width="0.6" stroke-opacity="0.18" stroke-linejoin="bevel"/>
<path d="M415.0,496.3 L427.3,497.6 L439.5,496.5 L451.8,497.9 L464.0,497.8 L476.2,496.6 L488.5,495.4 L500.7,497.0 L513.0,497.0 L525.2,496.4 L537.4,499.7 L549.7,496.5 L561.9,497.4 L574.2,498.0 L586.4,497.1 L598.6,497.9 L610.9,496.9 L623.1,498.4 L635.4,497.3 L647.6,498.1 L659.8,499.6 L672.1,495.8 L684.3,498.0" fill="none" stroke="#e5c19e" stroke-width="0.6" stroke-opacity="0.18" stroke-linejoin="bevel"/>
<path d="M415.0,496.8 L427.3,494.1 L439.5,494.1 L451.8,490.6 L464.0,493.4 L476.2,491.2 L488.5,494.4 L500.7,494.5 L513.0,494.1 L525.2,495.8 L537.4,492.2 L549.7,495.5 L561.9,493.7 L574.2,493.2 L586.4,494.3 L598.6,494.2 L610.9,494.7 L623.1,494.2 L635.4,494.4 L647.6,493.7 L659.8,493.4 L672.1,493.4 L684.3,497.5" fill="none" stroke="#edcfb1" stroke-width="0.6" stroke-opacity="0.18" stroke-linejoin="bevel"/>
<path d="M415.0,490.7 L427.3,491.4 L439.5,493.6 L451.8,492.3 L464.0,493.2 L476.2,494.2 L488.5,491.0 L500.7,493.6 L513.0,492.1 L525.2,492.4 L537.4,493.0 L549.7,492.7 L561.9,492.5 L574.2,493.1 L586.4,493.9 L598.6,491.1 L610.9,491.7 L623.1,491.1 L635.4,493.3 L647.6,493.7 L659.8,492.2 L672.1,490.0 L684.3,492.9" fill="none" stroke="#f0d6b9" stroke-width="0.6" stroke-opacity="0.18" stroke-linejoin="bevel"/>
<path d="M415.0,493.0 L427.3,493.5 L439.5,490.8 L451.8,491.3 L464.0,491.6 L476.2,492.1 L488.5,493.8 L500.7,493.9 L513.0,493.6 L525.2,494.5 L537.4,495.2 L549.7,491.5 L561.9,492.6 L574.2,494.0 L586.4,493.5 L598.6,490.9 L610.9,493.2 L623.1,494.0 L635.4,493.3 L647.6,493.3 L659.8,494.0 L672.1,493.8 L684.3,492.3" fill="none" stroke="#f0d5b8" stroke-width="0.6" stroke-opacity="0.18" stroke-linejoin="bevel"/>
<path d="M415.0,494.5 L427.3,493.3 L439.5,493.4 L451.8,493.5 L464.0,495.4 L476.2,493.9 L488.5,492.5 L500.7,494.9 L513.0,495.1 L525.2,494.2 L537.4,492.9 L549.7,495.6 L561.9,495.7 L574.2,492.7 L586.4,493.0 L598.6,493.5 L610.9,494.5 L623.1,494.3 L635.4,491.8 L647.6,492.6 L659.8,493.5 L672.1,494.6 L684.3,489.0" fill="none" stroke="#eed2b4" stroke-width="0.6" stroke-opacity="0.18" stroke-linejoin="bevel"/>
<path d="M415.0,495.6 L427.3,495.6 L439.5,494.4 L451.8,492.8 L464.0,498.5 L476.2,494.9 L488.5,494.8 L500.7,495.6 L513.0,495.0 L525.2,494.8 L537.4,495.5 L549.7,493.5 L561.9,492.5 L574.2,492.6 L586.4,494.2 L598.6,494.1 L610.9,493.6 L623.1,493.3 L635.4,494.1 L647.6,495.6 L659.8,492.0 L672.1,496.7 L684.3,495.1" fill="none" stroke="#eccdae" stroke-width="0.6" stroke-opacity="0.18" stroke-linejoin="bevel"/>
<path d="M415.0,492.8 L427.3,490.2 L439.5,491.3 L451.8,494.4 L464.0,491.2 L476.2,492.3 L488.5,493.9 L500.7,493.7 L513.0,490.5 L525.2,491.8 L537.4,490.7 L549.7,493.1 L561.9,493.7 L574.2,493.3 L586.4,490.2 L598.6,490.4 L610.9,492.6 L623.1,493.4 L635.4,491.7 L647.6,491.3 L659.8,491.2 L672.1,490.6 L684.3,489.2" fill="none" stroke="#e6d9b5" stroke-width="0.6" stroke-opacity="0.18" stroke-linejoin="bevel"/>
<path d="M415.0,498.0 L427.3,498.6 L439.5,496.6 L451.8,494.8 L464.0,497.6 L476.2,498.6 L488.5,497.9 L500.7,496.6 L513.0,496.8 L525.2,497.3 L537.4,497.6 L549.7,500.1 L561.9,497.5 L574.2,496.8 L586.4,497.0 L598.6,497.4 L610.9,497.0 L623.1,497.3 L635.4,498.9 L647.6,495.5 L659.8,497.1 L672.1,498.3 L684.3,495.8" fill="none" stroke="#e6c3a1" stroke-width="0.6" stroke-opacity="0.18" stroke-linejoin="bevel"/>
<path d="M415.0,494.3 L427.3,495.4 L439.5,496.1 L451.8,495.2 L464.0,495.6 L476.2,493.7 L488.5,495.3 L500.7,495.3 L513.0,496.0 L525.2,493.5 L537.4,495.3 L549.7,495.4 L561.9,495.5 L574.2,495.8 L586.4,496.9 L598.6,495.0 L610.9,491.7 L623.1,492.7 L635.4,495.4 L647.6,494.0 L659.8,494.0 L672.1,496.3 L684.3,494.5" fill="none" stroke="#ebcdad" stroke-width="0.6" stroke-opacity="0.18" stroke-linejoin="bevel"/>
<path d="M415.0,496.2 L427.3,495.3 L439.5,498.3 L451.8,497.0 L464.0,495.6 L476.2,496.6 L488.5,499.1 L500.7,496.5 L513.0,498.1 L525.2,498.0 L537.4,496.6 L549.7,495.8 L561.9,496.0 L574.2,498.2 L586.4,498.1 L598.6,496.8 L610.9,499.5 L623.1,498.6 L635.4,497.0 L647.6,498.6 L659.8,496.9 L672.1,496.5 L684.3,495.6" fill="none" stroke="#e7c3a2" stroke-width="0.6" stroke-opacity="0.18" stroke-linejoin="bevel"/>
<path d="M415.0,496.4 L427.3,493.8 L439.5,493.3 L451.8,492.3 L464.0,494.8 L476.2,496.9 L488.5,493.2 L500.7,493.0 L513.0,495.6 L525.2,496.2 L537.4,493.6 L549.7,492.2 L561.9,495.8 L574.2,494.9 L586.4,496.3 L598.6,494.9 L610.9,492.7 L623.1,494.5 L635.4,493.5 L647.6,495.7 L659.8,495.9 L672.1,496.2 L684.3,493.7" fill="none" stroke="#ecceaf" stroke-width="0.6" stroke-opacity="0.18" stroke-linejoin="bevel"/>
<path d="M415.0,491.2 L427.3,491.9 L439.5,490.4 L451.8,490.3 L464.0,492.8 L476.2,492.5 L488.5,493.2 L500.7,493.0 L513.0,490.9 L525.2,492.8 L537.4,490.4 L549.7,490.9 L561.9,490.6 L574.2,491.8 L586.4,490.9 L598.6,491.7 L610.9,492.3 L623.1,490.7 L635.4,493.1 L647.6,491.0 L659.8,490.0 L672.1,490.4 L684.3,493.0" fill="none" stroke="#e6d9b5" stroke-width="0.6" stroke-opacity="0.18" stroke-linejoin="bevel"/>
<path d="M415.0,489.4 L427.3,491.8 L439.5,488.5 L451.8,492.2 L464.0,491.0 L476.2,492.6 L488.5,490.8 L500.7,493.8 L513.0,492.3 L525.2,493.0 L537.4,491.9 L549.7,492.6 L561.9,490.9 L574.2,491.5 L586.4,493.0 L598.6,491.2 L610.9,491.2 L623.1,492.5 L635.4,494.6 L647.6,494.0 L659.8,491.7 L672.1,494.7 L684.3,492.1" fill="none" stroke="#ebd8b7" stroke-width="0.6" stroke-opacity="0.18" stroke-linejoin="bevel"/>
<path d="M415.0,492.4 L427.3,494.4 L439.5,494.9 L451.8,492.2 L464.0,491.2 L476.2,494.6 L488.5,493.1 L500.7,493.5 L513.0,494.4 L525.2,493.2 L537.4,493.1 L549.7,495.0 L561.9,493.1 L574.2,492.1 L586.4,492.8 L598.6,496.7 L610.9,493.3 L623.1,493.2 L635.4,494.6 L647.6,494.1 L659.8,493.3 L672.1,493.0 L684.3,493.3" fill="none" stroke="#efd4b7" stroke-width="0.6" stroke-opacity="0.18" stroke-linejoin="bevel"/>
<path d="M415.0,493.9 L427.3,491.6 L439.5,490.2 L451.8,492.8 L464.0,489.3 L476.2,492.6 L488.5,492.2 L500.7,490.7 L513.0,491.7 L525.2,491.6 L537.4,493.6 L549.7,491.5 L561.9,492.2 L574.2,490.7 L586.4,492.9 L598.6,494.4 L610.9,493.0 L623.1,494.4 L635.4,491.3 L647.6,492.2 L659.8,490.8 L672.1,490.5 L684.3,491.2" fill="none" stroke="#e9d8b6" stroke-width="0.6" stroke-opacity="0.18" stroke-linejoin="bevel"/>
<path d="M415.0,495.0 L427.3,497.0 L439.5,495.0 L451.8,497.2 L464.0,494.6 L476.2,496.7 L488.5,497.1 L500.7,495.9 L513.0,495.1 L525.2,495.6 L537.4,493.9 L549.7,494.6 L561.9,497.2 L574.2,496.5 L586.4,495.8 L598.6,496.3 L610.9,496.5 L623.1,497.1 L635.4,497.2 L647.6,496.2 L659.8,495.6 L672.1,497.0 L684.3,495.1" fill="none" stroke="#e9c7a6" stroke-width="0.6" stroke-opacity="0.18" stroke-linejoin="bevel"/>
<path d="M415.0,492.6 L427.3,494.3 L439.5,489.7 L451.8,491.2 L464.0,493.2 L476.2,491.6 L488.5,490.3 L500.7,490.6 L513.0,493.4 L525.2,490.7 L537.4,490.8 L549.7,489.9 L561.9,493.1 L574.2,491.8 L586.4,493.4 L598.6,490.6 L610.9,489.2 L623.1,491.7 L635.4,491.4 L647.6,491.6 L659.8,491.6 L672.1,492.8 L684.3,493.3" fill="none" stroke="#e6d9b5" stroke-width="0.6" stroke-opacity="0.18" stroke-linejoin="bevel"/>
<path d="M415.0,496.5 L427.3,497.1 L439.5,497.0 L451.8,496.0 L464.0,496.1 L476.2,497.6 L488.5,495.7 L500.7,495.0 L513.0,495.4 L525.2,497.0 L537.4,493.1 L549.7,497.5 L561.9,497.2 L574.2,497.6 L586.4,495.0 L598.6,494.4 L610.9,496.5 L623.1,497.7 L635.4,497.2 L647.6,497.5 L659.8,496.8 L672.1,496.1 L684.3,495.1" fill="none" stroke="#e8c6a5" stroke-width="0.6" stroke-opacity="0.18" stroke-linejoin="bevel"/>
<path d="M415.0,491.7 L427.3,491.3 L439.5,491.9 L451.8,491.8 L464.0,490.1 L476.2,490.6 L488.5,490.5 L500.7,491.9 L513.0,489.7 L525.2,492.1 L537.4,490.6 L549.7,494.3 L561.9,490.6 L574.2,493.0 L586.4,492.1 L598.6,495.1 L610.9,488.8 L623.1,492.2 L635.4,493.8 L647.6,490.0 L659.8,491.3 L672.1,492.0 L684.3,493.8" fill="none" stroke="#e9d8b6" stroke-width="0.6" stroke-opacity="0.18" stroke-linejoin="bevel"/>
<path d="M415.0,493.6 L427.3,493.7 L439.5,497.0 L451.8,494.1 L464.0,495.4 L476.2,493.7 L488.5,494.9 L500.7,494.0 L513.0,492.7 L525.2,494.8 L537.4,494.1 L549.7,495.1 L561.9,493.2 L574.2,494.5 L586.4,495.3 L598.6,495.3 L610.9,496.1 L623.1,495.2 L635.4,496.2 L647.6,492.9 L659.8,493.4 L672.1,492.0 L684.3,495.3" fill="none" stroke="#eccdae" stroke-width="0.6" stroke-opacity="0.18" stroke-linejoin="bevel"/>
<path d="M415.0,490.6 L427.3,490.5 L439.5,493.2 L451.8,490.6 L464.0,489.9 L476.2,492.2 L488.5,492.5 L500.7,492.3 L513.0,492.8 L525.2,492.5 L537.4,489.6 L549.7,491.2 L561.9,490.9 L574.2,491.1 L586.4,489.6 L598.6,490.9 L610.9,490.8 L623.1,489.7 L635.4,492.4 L647.6,491.7 L659.8,490.8 L672.1,491.9 L684.3,493.1" fill="none" stroke="#e7d9b5" stroke-width="0.6" stroke-opacity="0.18" stroke-linejoin="bevel"/>
<path d="M415.0,491.5 L427.3,493.6 L439.5,494.4 L451.8,490.8 L464.0,492.0 L476.2,490.0 L488.5,490.0 L500.7,493.4 L513.0,492.6 L525.2,491.6 L537.4,489.4 L549.7,491.5 L561.9,491.9 L574.2,490.4 L586.4,492.2 L598.6,490.4 L610.9,489.8 L623.1,491.9 L635.4,492.3 L647.6,490.3 L659.8,489.8 L672.1,492.1 L684.3,492.9" fill="none" stroke="#e5d9b4" stroke-width="0.6" stroke-opacity="0.18" stroke-linejoin="bevel"/>
<path d="M415.0,495.9 L427.3,497.8 L439.5,494.9 L451.8,495.4 L464.0,495.9 L476.2,495.8 L488.5,494.7 L500.7,494.4 L513.0,496.5 L525.2,495.0 L537.4,495.2 L549.7,494.1 L561.9,493.6 L574.2,495.4 L586.4,496.3 L598.6,498.4 L610.9,495.3 L623.1,496.6 L635.4,496.7 L647.6,496.2 L659.8,498.1 L672.1,494.8 L684.3,497.3" fill="none" stroke="#eacaaa" stroke-width="0.6" stroke-opacity="0.18" stroke-linejoin="bevel"/>
<path d="M415.0,496.0 L427.3,497.9 L439.5,496.1 L451.8,496.0 L464.0,496.3 L476.2,497.7 L488.5,498.5 L500.7,497.5 L513.0,497.1 L525.2,497.4 L537.4,496.0 L549.7,495.7 L561.9,496.2 L574.2,495.7 L586.4,497.1 L598.6,496.8 L610.9,497.3 L623.1,497.3 L635.4,496.9 L647.6,498.6 L659.8,497.0 L672.1,495.2 L684.3,495.8" fill="none" stroke="#e7c4a3" stroke-width="0.6" stroke-opacity="0.18" stroke-linejoin="bevel"/>
<path d="M415.0,500.7 L427.3,501.7 L439.5,501.8 L451.8,500.9 L464.0,502.0 L476.2,502.0 L488.5,502.2 L500.7,500.7 L513.0,498.7 L525.2,502.1 L537.4,502.4 L549.7,502.3 L561.9,502.3 L574.2,501.5 L586.4,502.9 L598.6,500.1 L610.9,500.5 L623.1,501.9 L635.4,501.3 L647.6,501.3 L659.8,502.3 L672.1,500.7 L684.3,502.9" fill="none" stroke="#d4a883" stroke-width="0.6" stroke-opacity="0.2" stroke-linejoin="bevel"/>
<path d="M415.0,504.1 L427.3,503.1 L439.5,507.0 L451.8,502.5 L464.0,502.7 L476.2,502.3 L488.5,499.5 L500.7,503.4 L513.0,503.6 L525.2,501.2 L537.4,505.0 L549.7,504.1 L561.9,502.7 L574.2,501.9 L586.4,503.4 L598.6,502.6 L610.9,503.4 L623.1,501.9 L635.4,502.7 L647.6,502.1 L659.8,504.2 L672.1,504.7 L684.3,503.7" fill="none" stroke="#cfa27b" stroke-width="0.6" stroke-opacity="0.2" stroke-linejoin="bevel"/>
<path d="M415.0,507.1 L427.3,505.0 L439.5,505.8 L451.8,506.2 L464.0,502.8 L476.2,506.6 L488.5,503.7 L500.7,505.7 L513.0,505.9 L525.2,506.6 L537.4,507.3 L549.7,506.0 L561.9,506.9 L574.2,505.2 L586.4,506.3 L598.6,508.6 L610.9,502.9 L623.1,507.2 L635.4,505.8 L647.6,507.1 L659.8,507.8 L672.1,506.5 L684.3,507.8" fill="none" stroke="#bd8c64" stroke-width="0.6" stroke-opacity="0.2" stroke-linejoin="bevel"/>
<path d="M415.0,499.0 L427.3,498.7 L439.5,497.5 L451.8,498.4 L464.0,496.9 L476.2,495.3 L488.5,499.8 L500.7,502.0 L513.0,497.7 L525.2,498.4 L537.4,497.2 L549.7,497.3 L561.9,497.7 L574.2,499.2 L586.4,500.3 L598.6,499.0 L610.9,497.2 L623.1,496.7 L635.4,500.7 L647.6,501.3 L659.8,498.7 L672.1,498.4 L684.3,496.9" fill="none" stroke="#e2bc99" stroke-width="0.6" stroke-opacity="0.2" stroke-linejoin="bevel"/>
<path d="M415.0,504.2 L427.3,503.9 L439.5,504.6 L451.8,505.0 L464.0,502.1 L476.2,504.0 L488.5,502.9 L500.7,505.8 L513.0,504.7 L525.2,504.0 L537.4,506.7 L549.7,503.0 L561.9,503.1 L574.2,505.8 L586.4,506.5 L598.6,504.6 L610.9,504.3 L623.1,504.9 L635.4,505.4 L647.6,506.2 L659.8,504.1 L672.1,504.6 L684.3,505.1" fill="none" stroke="#c99a72" stroke-width="0.6" stroke-opacity="0.2" stroke-linejoin="bevel"/>
<path d="M415.0,507.5 L427.3,511.1 L439.5,511.0 L451.8,511.7 L464.0,508.2 L476.2,509.6 L488.5,510.9 L500.7,507.6 L513.0,511.0 L525.2,512.1 L537.4,510.0 L549.7,510.6 L561.9,508.1 L574.2,507.3 L586.4,506.9 L598.6,508.3 L610.9,508.4 L623.1,510.0 L635.4,508.0 L647.6,505.6 L659.8,507.3 L672.1,508.8 L684.3,507.6" fill="none" stroke="#ae7d55" stroke-width="0.6" stroke-opacity="0.2" stroke-linejoin="bevel"/>
<path d="M415.0,500.6 L427.3,499.3 L439.5,498.4 L451.8,498.9 L464.0,497.0 L476.2,498.2 L488.5,498.3 L500.7,499.2 L513.0,498.4 L525.2,498.5 L537.4,498.9 L549.7,500.5 L561.9,498.0 L574.2,497.6 L586.4,498.1 L598.6,499.1 L610.9,498.3 L623.1,496.9 L635.4,498.0 L647.6,498.0 L659.8,496.9 L672.1,498.2 L684.3,499.5" fill="none" stroke="#e2bc99" stroke-width="0.6" stroke-opacity="0.2" stroke-linejoin="bevel"/>
<path d="M415.0,505.8 L427.3,507.7 L439.5,507.2 L451.8,505.9 L464.0,507.4 L476.2,507.1 L488.5,508.6 L500.7,506.9 L513.0,506.0 L525.2,507.9 L537.4,506.2 L549.7,506.2 L561.9,507.2 L574.2,509.9 L586.4,507.6 L598.6,508.6 L610.9,510.1 L623.1,506.5 L635.4,508.4 L647.6,507.4 L659.8,508.0 L672.1,506.4 L684.3,508.0" fill="none" stroke="#bb8a62" stroke-width="0.6" stroke-opacity="0.2" stroke-linejoin="bevel"/>
<path d="M415.0,503.6 L427.3,504.0 L439.5,501.8 L451.8,501.6 L464.0,499.2 L476.2,501.7 L488.5,502.8 L500.7,504.6 L513.0,502.6 L525.2,501.9 L537.4,502.4 L549.7,504.2 L561.9,502.0 L574.2,499.5 L586.4,501.8 L598.6,502.1 L610.9,502.2 L623.1,500.1 L635.4,502.3 L647.6,504.6 L659.8,502.3 L672.1,501.9 L684.3,501.3" fill="none" stroke="#d4a983" stroke-width="0.6" stroke-opacity="0.2" stroke-linejoin="bevel"/>
<path d="M415.0,503.4 L427.3,504.7 L439.5,503.5 L451.8,504.7 L464.0,503.9 L476.2,504.2 L488.5,504.1 L500.7,502.1 L513.0,505.5 L525.2,506.1 L537.4,502.8 L549.7,503.0 L561.9,504.4 L574.2,503.7 L586.4,503.5 L598.6,506.4 L610.9,504.4 L623.1,506.1 L635.4,504.0 L647.6,503.0 L659.8,505.1 L672.1,502.9 L684.3,505.5" fill="none" stroke="#ca9c74" stroke-width="0.6" stroke-opacity="0.2" stroke-linejoin="bevel"/>
<path d="M415.0,508.4 L427.3,511.9 L439.5,510.3 L451.8,508.4 L464.0,509.2 L476.2,512.9 L488.5,509.7 L500.7,510.2 L513.0,509.7 L525.2,508.0 L537.4,509.1 L549.7,509.8 L561.9,509.1 L574.2,509.7 L586.4,507.8 L598.6,508.8 L610.9,510.6 L623.1,509.6 L635.4,510.0 L647.6,509.2 L659.8,509.7 L672.1,510.7 L684.3,511.6" fill="none" stroke="#ac7a52" stroke-width="0.6" stroke-opacity="0.2" stroke-linejoin="bevel"/>
<path d="M415.0,503.8 L427.3,505.1 L439.5,505.3 L451.8,503.2 L464.0,503.1 L476.2,503.8 L488.5,501.0 L500.7,505.7 L513.0,504.9 L525.2,503.3 L537.4,503.1 L549.7,505.1 L561.9,504.2 L574.2,505.9 L586.4,503.6 L598.6,503.5 L610.9,504.1 L623.1,503.6 L635.4,505.9 L647.6,502.6 L659.8,503.6 L672.1,502.9 L684.3,502.9" fill="none" stroke="#cea07a" stroke-width="0.6" stroke-opacity="0.2" stroke-linejoin="bevel"/>
<path d="M415.0,497.6 L427.3,498.3 L439.5,495.1 L451.8,496.6 L464.0,498.5 L476.2,498.4 L488.5,498.5 L500.7,498.3 L513.0,497.0 L525.2,498.9 L537.4,498.1 L549.7,497.6 L561.9,496.7 L574.2,499.1 L586.4,498.2 L598.6,495.9 L610.9,497.5 L623.1,498.3 L635.4,499.2 L647.6,497.3 L659.8,501.3 L672.1,496.9 L684.3,498.7" fill="none" stroke="#e3bd99" stroke-width="0.6" stroke-opacity="0.2" stroke-linejoin="bevel"/>
<path d="M415.0,497.8 L427.3,497.8 L439.5,497.9 L451.8,496.9 L464.0,496.5 L476.2,498.1 L488.5,496.8 L500.7,497.2 L513.0,496.8 L525.2,498.0 L537.4,498.0 L549.7,497.4 L561.9,499.8 L574.2,498.3 L586.4,498.7 L598.6,498.4 L610.9,499.1 L623.1,497.7 L635.4,499.7 L647.6,499.4 L659.8,500.2 L672.1,499.1 L684.3,497.6" fill="none" stroke="#e3bd9a" stroke-width="0.6" stroke-opacity="0.2" stroke-linejoin="bevel"/>
<path d="M415.0,502.5 L427.3,500.0 L439.5,501.6 L451.8,499.3 L464.0,502.1 L476.2,501.4 L488.5,503.9 L500.7,502.7 L513.0,501.8 L525.2,501.3 L537.4,497.6 L549.7,500.5 L561.9,499.0 L574.2,499.7 L586.4,500.0 L598.6,501.6 L610.9,502.9 L623.1,500.7 L635.4,501.8 L647.6,498.9 L659.8,501.5 L672.1,499.5 L684.3,502.9" fill="none" stroke="#d7ad88" stroke-width="0.6" stroke-opacity="0.2" stroke-linejoin="bevel"/>
<path d="M415.0,498.1 L427.3,501.7 L439.5,500.1 L451.8,501.1 L464.0,499.8 L476.2,501.5 L488.5,498.6 L500.7,500.4 L513.0,499.7 L525.2,498.8 L537.4,500.4 L549.7,502.1 L561.9,500.6 L574.2,500.3 L586.4,497.8 L598.6,502.6 L610.9,499.6 L623.1,501.4 L635.4,500.0 L647.6,500.2 L659.8,502.1 L672.1,500.3 L684.3,499.7" fill="none" stroke="#dbb28d" stroke-width="0.6" stroke-opacity="0.2" stroke-linejoin="bevel"/>
<path d="M415.0,506.7 L427.3,509.4 L439.5,510.1 L451.8,507.3 L464.0,507.4 L476.2,509.6 L488.5,507.7 L500.7,505.3 L513.0,506.3 L525.2,506.7 L537.4,510.8 L549.7,507.8 L561.9,505.5 L574.2,508.4 L586.4,508.0 L598.6,509.3 L610.9,510.0 L623.1,506.1 L635.4,506.3 L647.6,506.5 L659.8,507.7 L672.1,506.1 L684.3,507.4" fill="none" stroke="#ba8961" stroke-width="0.6" stroke-opacity="0.2" stroke-linejoin="bevel"/>
<path d="M415.0,506.7 L427.3,506.9 L439.5,506.8 L451.8,505.4 L464.0,502.5 L476.2,507.0 L488.5,504.3 L500.7,504.5 L513.0,507.1 L525.2,506.3 L537.4,506.0 L549.7,505.0 L561.9,506.4 L574.2,506.6 L586.4,505.4 L598.6,506.7 L610.9,502.8 L623.1,504.3 L635.4,504.8 L647.6,506.3 L659.8,504.6 L672.1,504.3 L684.3,503.6" fill="none" stroke="#c6966e" stroke-width="0.6" stroke-opacity="0.2" stroke-linejoin="bevel"/>
<path d="M415.0,499.7 L427.3,499.4 L439.5,498.1 L451.8,495.0 L464.0,498.4 L476.2,498.3 L488.5,498.6 L500.7,498.6 L513.0,496.3 L525.2,497.2 L537.4,498.3 L549.7,497.2 L561.9,497.6 L574.2,498.4 L586.4,497.1 L598.6,498.1 L610.9,497.8 L623.1,497.1 L635.4,499.0 L647.6,496.6 L659.8,499.5 L672.1,497.5 L684.3,497.1" fill="none" stroke="#e4bd9a" stroke-width="0.6" stroke-opacity="0.2" stroke-linejoin="bevel"/>
<path d="M415.0,507.9 L427.3,507.2 L439.5,506.6 L451.8,508.3 L464.0,507.0 L476.2,506.2 L488.5,507.1 L500.7,508.4 L513.0,505.3 L525.2,507.5 L537.4,508.7 L549.7,507.9 L561.9,507.3 L574.2,504.8 L586.4,506.2 L598.6,506.0 L610.9,506.4 L623.1,505.5 L635.4,507.7 L647.6,508.8 L659.8,507.9 L672.1,507.2 L684.3,505.6" fill="none" stroke="#bc8b63" stroke-width="0.6" stroke-opacity="0.2" stroke-linejoin="bevel"/>
<path d="M415.0,502.8 L427.3,506.2 L439.5,503.7 L451.8,501.1 L464.0,503.7 L476.2,503.8 L488.5,503.3 L500.7,502.2 L513.0,503.1 L525.2,504.2 L537.4,502.0 L549.7,500.2 L561.9,501.7 L574.2,501.2 L586.4,504.3 L598.6,503.0 L610.9,502.8 L623.1,502.3 L635.4,501.3 L647.6,502.7 L659.8,503.0 L672.1,501.4 L684.3,500.1" fill="none" stroke="#d2a67f" stroke-width="0.6" stroke-opacity="0.2" stroke-linejoin="bevel"/>
<path d="M415.0,508.9 L427.3,509.7 L439.5,506.9 L451.8,507.8 L464.0,507.9 L476.2,508.9 L488.5,509.4 L500.7,509.2 L513.0,510.7 L525.2,508.0 L537.4,509.0 L549.7,509.8 L561.9,505.6 L574.2,509.2 L586.4,509.2 L598.6,507.8 L610.9,510.0 L623.1,508.0 L635.4,506.9 L647.6,507.7 L659.8,507.8 L672.1,508.6 L684.3,509.9" fill="none" stroke="#af7d55" stroke-width="0.6" stroke-opacity="0.2" stroke-linejoin="bevel"/>
<path d="M415.0,499.2 L427.3,500.8 L439.5,501.3 L451.8,500.6 L464.0,502.6 L476.2,502.3 L488.5,501.7 L500.7,502.3 L513.0,499.8 L525.2,500.3 L537.4,501.7 L549.7,501.5 L561.9,500.9 L574.2,502.9 L586.4,499.2 L598.6,498.1 L610.9,502.8 L623.1,500.0 L635.4,501.4 L647.6,499.8 L659.8,502.1 L672.1,499.8 L684.3,502.0" fill="none" stroke="#d8ae89" stroke-width="0.6" stroke-opacity="0.2" stroke-linejoin="bevel"/>
<path d="M415.0,504.2 L427.3,506.3 L439.5,506.2 L451.8,506.3 L464.0,506.7 L476.2,505.4 L488.5,505.3 L500.7,505.3 L513.0,505.2 L525.2,507.0 L537.4,506.8 L549.7,505.1 L561.9,504.6 L574.2,506.5 L586.4,505.4 L598.6,505.6 L610.9,507.0 L623.1,503.7 L635.4,505.4 L647.6,508.4 L659.8,505.7 L672.1,505.0 L684.3,507.3" fill="none" stroke="#c2926a" stroke-width="0.6" stroke-opacity="0.2" stroke-linejoin="bevel"/>
<path d="M415.0,507.3 L427.3,508.1 L439.5,509.3 L451.8,507.9 L464.0,506.8 L476.2,506.7 L488.5,504.6 L500.7,507.3 L513.0,506.4 L525.2,507.7 L537.4,506.3 L549.7,508.9 L561.9,507.8 L574.2,507.9 L586.4,507.6 L598.6,506.3 L610.9,509.0 L623.1,507.8 L635.4,508.5 L647.6,506.5 L659.8,506.8 L672.1,507.1 L684.3,506.6" fill="none" stroke="#bc8b63" stroke-width="0.6" stroke-opacity="0.2" stroke-linejoin="bevel"/>
<path d="M415.0,505.5 L427.3,507.7 L439.5,508.0 L451.8,505.1 L464.0,505.4 L476.2,505.9 L488.5,504.2 L500.7,506.2 L513.0,506.5 L525.2,506.1 L537.4,505.5 L549.7,505.0 L561.9,504.9 L574.2,506.4 L586.4,503.0 L598.6,505.9 L610.9,507.2 L623.1,505.6 L635.4,504.7 L647.6,504.4 L659.8,505.9 L672.1,504.9 L684.3,505.6" fill="none" stroke="#c3936b" stroke-width="0.6" stroke-opacity="0.2" stroke-linejoin="bevel"/>
<path d="M415.0,500.2 L427.3,500.5 L439.5,500.3 L451.8,503.5 L464.0,500.6 L476.2,500.4 L488.5,500.2 L500.7,501.5 L513.0,500.6 L525.2,499.5 L537.4,497.7 L549.7,498.9 L561.9,501.2 L574.2,502.5 L586.4,501.2 L598.6,501.2 L610.9,503.6 L623.1,500.8 L635.4,501.9 L647.6,497.5 L659.8,501.5 L672.1,500.6 L684.3,501.2" fill="none" stroke="#d7ad88" stroke-width="0.6" stroke-opacity="0.2" stroke-linejoin="bevel"/>
<path d="M415.0,500.5 L427.3,499.9 L439.5,500.3 L451.8,500.8 L464.0,497.7 L476.2,501.6 L488.5,503.3 L500.7,501.9 L513.0,500.1 L525.2,501.3 L537.4,502.4 L549.7,497.4 L561.9,500.0 L574.2,500.3 L586.4,499.8 L598.6,501.3 L610.9,501.8 L623.1,499.3 L635.4,501.5 L647.6,500.0 L659.8,502.7 L672.1,500.8 L684.3,500.9" fill="none" stroke="#d8ae89" stroke-width="0.6" stroke-opacity="0.2" stroke-linejoin="bevel"/>
<path d="M415.0,506.9 L427.3,507.1 L439.5,506.2 L451.8,506.7 L464.0,507.0 L476.2,506.8 L488.5,507.7 L500.7,508.0 L513.0,506.6 L525.2,507.5 L537.4,508.7 L549.7,508.3 L561.9,506.6 L574.2,509.0 L586.4,507.2 L598.6,504.8 L610.9,507.0 L623.1,506.8 L635.4,508.2 L647.6,508.0 L659.8,506.1 L672.1,508.3 L684.3,507.2" fill="none" stroke="#b8875f" stroke-width="0.6" stroke-opacity="0.2" stroke-linejoin="bevel"/>
<path d="M415.0,499.8 L427.3,498.4 L439.5,501.8 L451.8,497.2 L464.0,501.0 L476.2,499.9 L488.5,500.0 L500.7,499.1 L513.0,500.2 L525.2,502.2 L537.4,499.2 L549.7,500.5 L561.9,502.9 L574.2,499.8 L586.4,500.9 L598.6,498.3 L610.9,499.6 L623.1,501.4 L635.4,500.7 L647.6,501.2 L659.8,499.6 L672.1,499.4 L684.3,499.3" fill="none" stroke="#dfb794" stroke-width="0.6" stroke-opacity="0.2" stroke-linejoin="bevel"/>
<path d="M415.0,501.7 L427.3,501.1 L439.5,506.2 L451.8,504.1 L464.0,503.5 L476.2,501.0 L488.5,503.8 L500.7,503.0 L513.0,502.3 L525.2,501.2 L537.4,503.2 L549.7,502.7 L561.9,502.4 L574.2,502.7 L586.4,502.1 L598.6,502.9 L610.9,502.7 L623.1,503.7 L635.4,502.8 L647.6,502.4 L659.8,502.9 L672.1,502.4 L684.3,502.4" fill="none" stroke="#cea17b" stroke-width="0.6" stroke-opacity="0.2" stroke-linejoin="bevel"/>
<path d="M415.0,498.7 L427.3,499.0 L439.5,498.1 L451.8,498.9 L464.0,497.8 L476.2,499.7 L488.5,499.3 L500.7,499.7 L513.0,497.6 L525.2,499.9 L537.4,498.2 L549.7,495.7 L561.9,500.1 L574.2,497.8 L586.4,497.8 L598.6,497.8 L610.9,498.1 L623.1,498.5 L635.4,497.0 L647.6,499.2 L659.8,499.6 L672.1,498.9 L684.3,497.6" fill="none" stroke="#e3bc99" stroke-width="0.6" stroke-opacity="0.2" stroke-linejoin="bevel"/>
<path d="M415.0,506.2 L427.3,503.5 L439.5,503.1 L451.8,503.6 L464.0,502.0 L476.2,501.2 L488.5,501.9 L500.7,502.3 L513.0,503.5 L525.2,502.8 L537.4,501.7 L549.7,504.0 L561.9,503.5 L574.2,502.6 L586.4,503.0 L598.6,503.3 L610.9,504.8 L623.1,500.8 L635.4,503.8 L647.6,502.5 L659.8,502.0 L672.1,501.1 L684.3,502.7" fill="none" stroke="#d1a47e" stroke-width="0.6" stroke-opacity="0.2" stroke-linejoin="bevel"/>
<path d="M415.0,509.8 L427.3,509.0 L439.5,508.8 L451.8,508.4 L464.0,511.1 L476.2,509.4 L488.5,508.8 L500.7,508.3 L513.0,509.6 L525.2,509.4 L537.4,509.6 L549.7,510.9 L561.9,507.5 L574.2,510.5 L586.4,509.1 L598.6,507.9 L610.9,510.1 L623.1,509.0 L635.4,510.0 L647.6,509.0 L659.8,511.8 L672.1,510.3 L684.3,512.0" fill="none" stroke="#aa7850" stroke-width="0.6" stroke-opacity="0.2" stroke-linejoin="bevel"/>
<path d="M415.0,505.6 L427.3,504.4 L439.5,502.8 L451.8,503.6 L464.0,503.3 L476.2,503.2 L488.5,505.8 L500.7,502.4 L513.0,502.7 L525.2,503.7 L537.4,503.6 L549.7,503.3 L561.9,504.3 L574.2,503.1 L586.4,504.7 L598.6,505.4 L610.9,503.0 L623.1,505.6 L635.4,502.9 L647.6,503.9 L659.8,503.6 L672.1,502.5 L684.3,504.9" fill="none" stroke="#cc9f78" stroke-width="0.6" stroke-opacity="0.2" stroke-linejoin="bevel"/>
<path d="M415.0,499.7 L427.3,501.4 L439.5,501.2 L451.8,498.4 L464.0,499.7 L476.2,501.9 L488.5,502.6 L500.7,499.6 L513.0,500.0 L525.2,501.5 L537.4,499.3 L549.7,502.0 L561.9,499.3 L574.2,500.9 L586.4,500.6 L598.6,503.3 L610.9,499.8 L623.1,499.1 L635.4,503.1 L647.6,501.7 L659.8,499.0 L672.1,501.7 L684.3,500.9" fill="none" stroke="#d8ae89" stroke-width="0.6" stroke-opacity="0.2" stroke-linejoin="bevel"/>
<path d="M415.0,501.2 L427.3,502.2 L439.5,501.3 L451.8,502.1 L464.0,503.1 L476.2,500.9 L488.5,503.7 L500.7,500.4 L513.0,501.5 L525.2,502.6 L537.4,499.7 L549.7,501.3 L561.9,503.8 L574.2,500.7 L586.4,502.9 L598.6,499.1 L610.9,503.6 L623.1,501.1 L635.4,501.1 L647.6,503.1 L659.8,502.1 L672.1,504.1 L684.3,503.1" fill="none" stroke="#d4a882" stroke-width="0.6" stroke-opacity="0.2" stroke-linejoin="bevel"/>
<path d="M415.0,508.0 L427.3,507.5 L439.5,507.3 L451.8,507.6 L464.0,506.6 L476.2,507.0 L488.5,507.1 L500.7,507.5 L513.0,509.5 L525.2,508.7 L537.4,506.0 L549.7,507.4 L561.9,507.5 L574.2,509.1 L586.4,506.9 L598.6,509.5 L610.9,508.0 L623.1,509.8 L635.4,510.5 L647.6,507.5 L659.8,508.1 L672.1,509.1 L684.3,509.1" fill="none" stroke="#b17f57" stroke-width="0.6" stroke-opacity="0.2" stroke-linejoin="bevel"/>
<path d="M415.0,503.8 L427.3,505.4 L439.5,504.2 L451.8,504.0 L464.0,504.6 L476.2,504.9 L488.5,505.3 L500.7,504.7 L513.0,506.5 L525.2,503.9 L537.4,503.6 L549.7,505.2 L561.9,504.7 L574.2,506.5 L586.4,503.2 L598.6,507.0 L610.9,504.0 L623.1,504.5 L635.4,503.6 L647.6,502.8 L659.8,506.2 L672.1,506.4 L684.3,502.3" fill="none" stroke="#c99a72" stroke-width="0.6" stroke-opacity="0.2" stroke-linejoin="bevel"/>
<path d="M415.0,505.7 L427.3,507.6 L439.5,507.9 L451.8,507.4 L464.0,506.6 L476.2,505.7 L488.5,504.2 L500.7,504.6 L513.0,504.6 L525.2,504.3 L537.4,506.4 L549.7,504.7 L561.9,504.5 L574.2,504.7 L586.4,504.2 L598.6,505.3 L610.9,503.7 L623.1,506.4 L635.4,505.6 L647.6,506.2 L659.8,505.0 L672.1,504.4 L684.3,506.8" fill="none" stroke="#c4946c" stroke-width="0.6" stroke-opacity="0.2" stroke-linejoin="bevel"/>
<path d="M415.0,504.4 L427.3,504.6 L439.5,504.1 L451.8,502.5 L464.0,503.6 L476.2,503.3 L488.5,506.1 L500.7,504.9 L513.0,503.0 L525.2,503.8 L537.4,501.4 L549.7,503.5 L561.9,505.0 L574.2,502.1 L586.4,503.5 L598.6,502.6 L610.9,504.4 L623.1,504.6 L635.4,503.2 L647.6,501.5 L659.8,504.3 L672.1,504.8 L684.3,503.6" fill="none" stroke="#cda079" stroke-width="0.6" stroke-opacity="0.2" stroke-linejoin="bevel"/>
<path d="M415.0,502.5 L427.3,503.6 L439.5,505.0 L451.8,503.8 L464.0,504.8 L476.2,502.5 L488.5,503.1 L500.7,502.2 L513.0,502.9 L525.2,502.9 L537.4,503.5 L549.7,504.5 L561.9,502.0 L574.2,502.4 L586.4,504.4 L598.6,505.0 L610.9,503.8 L623.1,502.1 L635.4,504.7 L647.6,502.9 L659.8,502.7 L672.1,502.0 L684.3,505.2" fill="none" stroke="#d2a57f" stroke-width="0.6" stroke-opacity="0.2" stroke-linejoin="bevel"/>
<path d="M415.0,503.5 L427.3,505.9 L439.5,504.8 L451.8,508.1 L464.0,505.3 L476.2,508.8 L488.5,506.0 L500.7,506.3 L513.0,505.1 L525.2,505.0 L537.4,505.1 L549.7,506.1 L561.9,506.9 L574.2,505.2 L586.4,506.4 L598.6,503.0 L610.9,504.4 L623.1,504.4 L635.4,505.2 L647.6,506.2 L659.8,507.2 L672.1,504.8 L684.3,506.7" fill="none" stroke="#c4946c" stroke-width="0.6" stroke-opacity="0.2" stroke-linejoin="bevel"/>
<path d="M415.0,506.0 L427.3,504.9 L439.5,507.0 L451.8,507.2 L464.0,505.0 L476.2,504.6 L488.5,505.8 L500.7,504.1 L513.0,504.0 L525.2,502.2 L537.4,506.3 L549.7,504.4 L561.9,503.8 L574.2,505.9 L586.4,506.4 L598.6,507.2 L610.9,504.8 L623.1,503.7 L635.4,504.8 L647.6,503.9 L659.8,505.5 L672.1,506.6 L684.3,503.9" fill="none" stroke="#c79770" stroke-width="0.6" stroke-opacity="0.2" stroke-linejoin="bevel"/>
<path d="M415.0,501.0 L427.3,498.7 L439.5,497.4 L451.8,498.2 L464.0,499.7 L476.2,496.5 L488.5,499.8 L500.7,500.1 L513.0,500.0 L525.2,500.3 L537.4,498.2 L549.7,499.6 L561.9,499.1 L574.2,497.6 L586.4,497.4 L598.6,500.4 L610.9,498.2 L623.1,498.6 L635.4,498.4 L647.6,498.6 L659.8,500.0 L672.1,499.1 L684.3,497.8" fill="none" stroke="#e1ba96" stroke-width="0.6" stroke-opacity="0.2" stroke-linejoin="bevel"/>
<path d="M415.0,506.7 L427.3,507.2 L439.5,504.3 L451.8,506.3 L464.0,506.1 L476.2,506.4 L488.5,507.9 L500.7,507.7 L513.0,507.9 L525.2,506.2 L537.4,506.8 L549.7,505.1 L561.9,509.2 L574.2,504.5 L586.4,504.3 L598.6,506.4 L610.9,509.1 L623.1,505.3 L635.4,506.2 L647.6,508.0 L659.8,506.3 L672.1,507.5 L684.3,506.6" fill="none" stroke="#be8d65" stroke-width="0.6" stroke-opacity="0.2" stroke-linejoin="bevel"/>
<path d="M415.0,504.3 L427.3,501.4 L439.5,503.2 L451.8,500.6 L464.0,499.5 L476.2,500.4 L488.5,501.7 L500.7,499.1 L513.0,500.9 L525.2,500.3 L537.4,501.5 L549.7,502.2 L561.9,501.0 L574.2,501.7 L586.4,503.1 L598.6,501.3 L610.9,500.8 L623.1,502.3 L635.4,498.9 L647.6,501.6 L659.8,501.2 L672.1,500.8 L684.3,499.4" fill="none" stroke="#d9b08b" stroke-width="0.6" stroke-opacity="0.2" stroke-linejoin="bevel"/>
<path d="M415.0,504.4 L427.3,502.9 L439.5,503.2 L451.8,504.8 L464.0,504.3 L476.2,506.5 L488.5,505.1 L500.7,504.6 L513.0,505.2 L525.2,506.5 L537.4,503.6 L549.7,505.0 L561.9,502.3 L574.2,503.4 L586.4,505.2 L598.6,506.9 L610.9,504.4 L623.1,505.6 L635.4,505.4 L647.6,506.4 L659.8,506.4 L672.1,502.9 L684.3,505.8" fill="none" stroke="#c89971" stroke-width="0.6" stroke-opacity="0.2" stroke-linejoin="bevel"/>
<path d="M415.0,502.2 L427.3,502.3 L439.5,501.4 L451.8,500.5 L464.0,503.5 L476.2,502.0 L488.5,502.0 L500.7,500.3 L513.0,501.2 L525.2,501.3 L537.4,501.1 L549.7,502.9 L561.9,503.1 L574.2,501.4 L586.4,502.1 L598.6,501.7 L610.9,501.1 L623.1,500.7 L635.4,501.9 L647.6,501.7 L659.8,502.2 L672.1,501.8 L684.3,502.9" fill="none" stroke="#d5aa85" stroke-width="0.6" stroke-opacity="0.2" stroke-linejoin="bevel"/>
<path d="M415.0,508.2 L427.3,509.3 L439.5,510.0 L451.8,509.3 L464.0,506.5 L476.2,509.7 L488.5,508.6 L500.7,507.6 L513.0,509.1 L525.2,507.9 L537.4,510.5 L549.7,508.0 L561.9,509.2 L574.2,508.5 L586.4,508.4 L598.6,508.0 L610.9,506.6 L623.1,511.0 L635.4,509.4 L647.6,509.1 L659.8,507.8 L672.1,509.3 L684.3,507.4" fill="none" stroke="#b28058" stroke-width="0.6" stroke-opacity="0.2" stroke-linejoin="bevel"/>
<path d="M415.0,499.6 L427.3,497.7 L439.5,500.1 L451.8,500.3 L464.0,499.2 L476.2,501.8 L488.5,498.6 L500.7,497.5 L513.0,499.9 L525.2,499.4 L537.4,500.7 L549.7,499.6 L561.9,500.4 L574.2,499.8 L586.4,498.7 L598.6,499.5 L610.9,499.2 L623.1,496.7 L635.4,499.7 L647.6,498.1 L659.8,501.5 L672.1,496.0 L684.3,501.4" fill="none" stroke="#ddb590" stroke-width="0.6" stroke-opacity="0.2" stroke-linejoin="bevel"/>
<path d="M415.0,500.5 L427.3,497.8 L439.5,500.9 L451.8,500.3 L464.0,496.8 L476.2,500.4 L488.5,499.1 L500.7,498.9 L513.0,497.5 L525.2,499.2 L537.4,501.8 L549.7,499.6 L561.9,498.4 L574.2,500.2 L586.4,498.4 L598.6,497.9 L610.9,498.8 L623.1,496.6 L635.4,497.8 L647.6,497.9 L659.8,498.2 L672.1,499.9 L684.3,497.7" fill="none" stroke="#e1ba96" stroke-width="0.6" stroke-opacity="0.2" stroke-linejoin="bevel"/>
<path d="M415.0,500.6 L427.3,497.1 L439.5,499.2 L451.8,498.2 L464.0,501.9 L476.2,497.9 L488.5,500.5 L500.7,498.8 L513.0,498.6 L525.2,496.8 L537.4,501.3 L549.7,498.7 L561.9,497.6 L574.2,498.2 L586.4,498.0 L598.6,499.9 L610.9,499.8 L623.1,500.7 L635.4,499.0 L647.6,501.4 L659.8,498.6 L672.1,499.9 L684.3,499.3" fill="none" stroke="#e0b996" stroke-width="0.6" stroke-opacity="0.2" stroke-linejoin="bevel"/>
<path d="M415.0,505.2 L427.3,503.8 L439.5,504.7 L451.8,502.9 L464.0,505.0 L476.2,503.1 L488.5,504.1 L500.7,502.9 L513.0,504.5 L525.2,503.8 L537.4,503.1 L549.7,503.6 L561.9,503.3 L574.2,507.1 L586.4,504.7 L598.6,504.6 L610.9,503.3 L623.1,506.8 L635.4,502.7 L647.6,503.8 L659.8,503.5 L672.1,503.9 L684.3,507.5" fill="none" stroke="#cb9c75" stroke-width="0.6" stroke-opacity="0.2" stroke-linejoin="bevel"/>
<path d="M415.0,498.7 L427.3,499.6 L439.5,497.9 L451.8,500.5 L464.0,497.6 L476.2,499.0 L488.5,502.4 L500.7,500.2 L513.0,499.5 L525.2,502.2 L537.4,500.2 L549.7,498.4 L561.9,499.2 L574.2,499.6 L586.4,499.8 L598.6,498.0 L610.9,499.4 L623.1,499.2 L635.4,501.1 L647.6,500.8 L659.8,499.8 L672.1,500.1 L684.3,501.4" fill="none" stroke="#deb692" stroke-width="0.6" stroke-opacity="0.2" stroke-linejoin="bevel"/>
<path d="M415.0,503.1 L427.3,504.3 L439.5,503.5 L451.8,503.3 L464.0,502.2 L476.2,502.1 L488.5,503.0 L500.7,503.5 L513.0,500.9 L525.2,502.9 L537.4,501.8 L549.7,502.8 L561.9,502.2 L574.2,502.5 L586.4,503.9 L598.6,503.6 L610.9,504.1 L623.1,501.0 L635.4,503.9 L647.6,505.1 L659.8,500.8 L672.1,502.5 L684.3,504.4" fill="none" stroke="#d0a47e" stroke-width="0.6" stroke-opacity="0.2" stroke-linejoin="bevel"/>
<path d="M415.0,508.4 L427.3,510.2 L439.5,507.8 L451.8,510.6 L464.0,509.6 L476.2,509.9 L488.5,509.1 L500.7,508.6 L513.0,509.9 L525.2,509.6 L537.4,511.7 L549.7,510.0 L561.9,510.2 L574.2,508.3 L586.4,510.2 L598.6,510.1 L610.9,509.3 L623.1,509.6 L635.4,508.9 L647.6,507.6 L659.8,508.5 L672.1,510.2 L684.3,507.8" fill="none" stroke="#ac7a52" stroke-width="0.6" stroke-opacity="0.2" stroke-linejoin="bevel"/>
<path d="M415.0,497.5 L427.3,496.6 L439.5,496.9 L451.8,497.9 L464.0,498.3 L476.2,499.5 L488.5,498.3 L500.7,497.4 L513.0,497.2 L525.2,499.4 L537.4,498.3 L549.7,498.6 L561.9,500.6 L574.2,499.3 L586.4,497.4 L598.6,498.6 L610.9,498.1 L623.1,500.1 L635.4,499.1 L647.6,497.2 L659.8,498.9 L672.1,498.5 L684.3,497.1" fill="none" stroke="#e3bd9a" stroke-width="0.6" stroke-opacity="0.2" stroke-linejoin="bevel"/>
<path d="M415.0,501.7 L427.3,501.6 L439.5,502.1 L451.8,501.9 L464.0,503.1 L476.2,500.9 L488.5,502.1 L500.7,502.5 L513.0,500.2 L525.2,502.1 L537.4,501.3 L549.7,501.8 L561.9,501.3 L574.2,503.2 L586.4,502.9 L598.6,502.8 L610.9,501.9 L623.1,499.5 L635.4,503.3 L647.6,503.0 L659.8,501.7 L672.1,500.8 L684.3,502.0" fill="none" stroke="#d3a781" stroke-width="0.6" stroke-opacity="0.2" stroke-linejoin="bevel"/>
<path d="M415.0,500.6 L427.3,501.8 L439.5,500.9 L451.8,500.0 L464.0,501.0 L476.2,500.9 L488.5,502.3 L500.7,502.9 L513.0,503.0 L525.2,499.5 L537.4,500.4 L549.7,501.8 L561.9,499.2 L574.2,501.0 L586.4,501.7 L598.6,500.0 L610.9,501.8 L623.1,499.2 L635.4,500.6 L647.6,500.8 L659.8,498.1 L672.1,500.0 L684.3,502.1" fill="none" stroke="#dab08c" stroke-width="0.6" stroke-opacity="0.2" stroke-linejoin="bevel"/>
<path d="M415.0,498.3 L427.3,499.8 L439.5,501.2 L451.8,499.6 L464.0,500.4 L476.2,504.1 L488.5,500.8 L500.7,501.7 L513.0,502.4 L525.2,501.4 L537.4,504.7 L549.7,502.7 L561.9,501.8 L574.2,502.8 L586.4,500.1 L598.6,502.0 L610.9,501.8 L623.1,503.3 L635.4,501.7 L647.6,498.6 L659.8,502.0 L672.1,501.5 L684.3,500.9" fill="none" stroke="#d7ad88" stroke-width="0.6" stroke-opacity="0.2" stroke-linejoin="bevel"/>
<path d="M415.0,499.3 L427.3,498.9 L439.5,498.8 L451.8,497.2 L464.0,497.0 L476.2,498.9 L488.5,498.4 L500.7,499.1 L513.0,498.4 L525.2,500.5 L537.4,500.4 L549.7,500.8 L561.9,499.7 L574.2,499.0 L586.4,496.7 L598.6,499.2 L610.9,496.7 L623.1,499.2 L635.4,497.6 L647.6,497.5 L659.8,498.0 L672.1,497.4 L684.3,498.3" fill="none" stroke="#e1ba96" stroke-width="0.6" stroke-opacity="0.2" stroke-linejoin="bevel"/>
<path d="M415.0,502.9 L427.3,503.3 L439.5,502.8 L451.8,502.1 L464.0,503.5 L476.2,504.1 L488.5,503.6 L500.7,501.4 L513.0,502.4 L525.2,503.8 L537.4,505.3 L549.7,504.6 L561.9,501.3 L574.2,504.2 L586.4,502.9 L598.6,504.5 L610.9,503.5 L623.1,502.0 L635.4,501.8 L647.6,503.9 L659.8,500.9 L672.1,501.7 L684.3,502.8" fill="none" stroke="#cea079" stroke-width="0.6" stroke-opacity="0.2" stroke-linejoin="bevel"/>
<path d="M415.0,503.0 L427.3,504.4 L439.5,504.2 L451.8,501.5 L464.0,502.6 L476.2,502.1 L488.5,504.1 L500.7,503.3 L513.0,504.3 L525.2,503.9 L537.4,505.2 L549.7,502.0 L561.9,502.9 L574.2,500.8 L586.4,503.1 L598.6,502.8 L610.9,501.0 L623.1,500.8 L635.4,502.6 L647.6,501.6 L659.8,504.8 L672.1,499.9 L684.3,502.4" fill="none" stroke="#d1a47e" stroke-width="0.6" stroke-opacity="0.2" stroke-linejoin="bevel"/>
<path d="M415.0,499.4 L427.3,498.0 L439.5,499.8 L451.8,501.2 L464.0,501.1 L476.2,501.6 L488.5,500.3 L500.7,500.9 L513.0,500.7 L525.2,501.6 L537.4,500.8 L549.7,501.0 L561.9,500.7 L574.2,502.4 L586.4,501.8 L598.6,500.6 L610.9,502.6 L623.1,500.1 L635.4,502.2 L647.6,500.1 L659.8,501.4 L672.1,502.6 L684.3,500.4" fill="none" stroke="#d8ae89" stroke-width="0.6" stroke-opacity="0.2" stroke-linejoin="bevel"/>
<path d="M415.0,504.8 L427.3,506.7 L439.5,506.1 L451.8,503.4 L464.0,504.2 L476.2,505.5 L488.5,507.6 L500.7,506.0 L513.0,506.2 L525.2,505.9 L537.4,506.8 L549.7,507.3 L561.9,505.9 L574.2,505.0 L586.4,505.7 L598.6,507.5 L610.9,503.7 L623.1,507.7 L635.4,506.7 L647.6,505.3 L659.8,505.9 L672.1,508.8 L684.3,506.4" fill="none" stroke="#c19169" stroke-width="0.6" stroke-opacity="0.2" stroke-linejoin="bevel"/>
<path d="M415.0,507.5 L427.3,507.2 L439.5,505.3 L451.8,508.9 L464.0,507.6 L476.2,508.1 L488.5,506.0 L500.7,508.6 L513.0,506.8 L525.2,505.2 L537.4,507.6 L549.7,506.6 L561.9,506.1 L574.2,506.9 L586.4,507.0 L598.6,507.5 L610.9,505.9 L623.1,507.5 L635.4,505.7 L647.6,507.3 L659.8,507.6 L672.1,505.3 L684.3,505.7" fill="none" stroke="#ba8961" stroke-width="0.6" stroke-opacity="0.2" stroke-linejoin="bevel"/>
<path d="M415.0,499.6 L427.3,497.3 L439.5,501.1 L451.8,500.6 L464.0,497.8 L476.2,499.4 L488.5,500.6 L500.7,497.4 L513.0,499.4 L525.2,500.0 L537.4,498.6 L549.7,500.0 L561.9,497.3 L574.2,497.6 L586.4,499.4 L598.6,499.9 L610.9,499.4 L623.1,498.5 L635.4,499.2 L647.6,498.3 L659.8,498.3 L672.1,498.5 L684.3,498.4" fill="none" stroke="#e1ba96" stroke-width="0.6" stroke-opacity="0.2" stroke-linejoin="bevel"/>
<path d="M415.0,505.0 L427.3,505.3 L439.5,503.7 L451.8,505.5 L464.0,505.0 L476.2,503.8 L488.5,505.5 L500.7,505.4 L513.0,504.7 L525.2,506.3 L537.4,503.5 L549.7,506.3 L561.9,508.0 L574.2,509.5 L586.4,507.7 L598.6,504.8 L610.9,506.9 L623.1,506.8 L635.4,503.0 L647.6,506.5 L659.8,505.7 L672.1,504.2 L684.3,506.5" fill="none" stroke="#c5956d" stroke-width="0.6" stroke-opacity="0.2" stroke-linejoin="bevel"/>
<path d="M415.0,504.5 L427.3,506.4 L439.5,504.4 L451.8,504.9 L464.0,504.8 L476.2,504.2 L488.5,506.9 L500.7,505.5 L513.0,504.1 L525.2,504.5 L537.4,503.5 L549.7,504.8 L561.9,503.2 L574.2,503.2 L586.4,504.6 L598.6,505.9 L610.9,504.2 L623.1,507.0 L635.4,504.5 L647.6,504.7 L659.8,505.8 L672.1,504.8 L684.3,503.2" fill="none" stroke="#c99a73" stroke-width="0.6" stroke-opacity="0.2" stroke-linejoin="bevel"/>
<line x1="415.10" y1="486.90" x2="684.30" y2="486.90" stroke="#5e5e56" stroke-width="1.3" stroke-dasharray="4.2,2.6"/>
<path d="M415.04,487.90 C417.08,488.22 423.20,489.62 427.28,489.80 C431.36,489.98 435.44,489.42 439.52,489.00 C443.60,488.58 447.68,487.22 451.76,487.30 C455.84,487.38 459.92,488.82 464.00,489.50 C468.08,490.18 472.16,491.22 476.24,491.40 C480.32,491.58 484.40,490.87 488.48,490.60 C492.56,490.33 496.64,490.20 500.72,489.80 C504.80,489.40 508.88,488.00 512.96,488.20 C517.04,488.40 521.12,490.90 525.20,491.00 C529.28,491.10 533.36,489.27 537.44,488.80 C541.52,488.33 545.60,488.17 549.68,488.20 C553.76,488.23 557.84,488.73 561.92,489.00 C566.00,489.27 570.08,489.77 574.16,489.80 C578.24,489.83 582.32,489.37 586.40,489.20 C590.48,489.03 594.56,488.42 598.64,488.80 C602.72,489.18 606.80,490.93 610.88,491.50 C614.96,492.07 619.04,491.98 623.12,492.20 C627.20,492.42 631.28,492.75 635.36,492.80 C639.44,492.85 643.52,492.60 647.60,492.50 C651.68,492.40 655.76,492.32 659.84,492.20 C663.92,492.08 668.00,491.93 672.08,491.80 C676.16,491.67 682.28,491.47 684.32,491.40" fill="none" stroke="#5b1a98" stroke-width="1.9"/>
</g>
<rect x="415.10" y="464.70" width="269.20" height="52.90" fill="none" stroke="#333" stroke-width="1.3" />
<line x1="409.20" y1="476.60" x2="415.10" y2="476.60" stroke="#333" stroke-width="1.2" />
<text x="405.80" y="480.90" font-size="12.2" fill="#1a1a1a" text-anchor="end" stroke="#1a1a1a" stroke-width="0.25" >2.5</text>
<line x1="409.20" y1="512.60" x2="415.10" y2="512.60" stroke="#333" stroke-width="1.2" />
<text x="405.80" y="516.90" font-size="12.2" fill="#1a1a1a" text-anchor="end" stroke="#1a1a1a" stroke-width="0.25" >0.5</text>
<line x1="464.00" y1="517.60" x2="464.00" y2="522.10" stroke="#333" stroke-width="1.2" />
<line x1="525.20" y1="517.60" x2="525.20" y2="522.10" stroke="#333" stroke-width="1.2" />
<line x1="586.40" y1="517.60" x2="586.40" y2="522.10" stroke="#333" stroke-width="1.2" />
<line x1="647.60" y1="517.60" x2="647.60" y2="522.10" stroke="#333" stroke-width="1.2" />
<text x="428" y="478.0" font-size="14.2" fill="#1a1a1a" stroke="#1a1a1a" stroke-width="0.25"><tspan font-style="italic">P</tspan> < 0.001</text>
<text x="672.30" y="480.90" font-size="15.4" fill="#1a1a1a" text-anchor="end" stroke="#1a1a1a" stroke-width="0.25" >Amazon</text>
<defs><clipPath id="eclip22"><rect x="415.1" y="528.4" width="269.19999999999993" height="52.89999999999998"/></clipPath></defs>
<g clip-path="url(#eclip22)">
<defs><linearGradient id="g22_135" x1="0" y1="0" x2="0" y2="1"><stop offset="0.00" stop-color="#eef0e0" stop-opacity="0.0"/><stop offset="0.30" stop-color="#eeeedc" stop-opacity="0.5"/><stop offset="1.00" stop-color="#f0e0cc" stop-opacity="0.7"/></linearGradient></defs>
<rect x="415.10" y="538.50" width="269.20" height="22.50" fill="url(#g22_135)" stroke="none" stroke-width="1" />
<defs><linearGradient id="g22_105" x1="0" y1="0" x2="0" y2="1"><stop offset="0.00" stop-color="#eedcc8" stop-opacity="0.7"/><stop offset="1.00" stop-color="#e4ccb0" stop-opacity="0.9"/></linearGradient></defs>
<rect x="415.10" y="561.00" width="269.20" height="5.40" fill="url(#g22_105)" stroke="none" stroke-width="1" />
<defs><linearGradient id="g22_50" x1="0" y1="0" x2="0" y2="1"><stop offset="0.00" stop-color="#bc9272" stop-opacity="0.9"/><stop offset="0.40" stop-color="#a87c58" stop-opacity="0.95"/><stop offset="0.80" stop-color="#9c6e4a" stop-opacity="0.9"/><stop offset="1.00" stop-color="#d4bca4" stop-opacity="0.5"/></linearGradient></defs>
<rect x="415.10" y="566.40" width="269.20" height="9.90" fill="url(#g22_50)" stroke="none" stroke-width="1" />
<path d="M415.0,539.3 L427.3,539.2 L439.5,538.1 L451.8,538.2 L464.0,539.1 L476.2,536.3 L488.5,537.7 L500.7,540.2 L513.0,537.0 L525.2,538.7 L537.4,538.5 L549.7,537.2 L561.9,539.0 L574.2,542.6 L586.4,540.2 L598.6,540.1 L610.9,538.8 L623.1,527.7 L635.4,527.4 L647.6,524.5 L659.8,541.0 L672.1,539.5 L684.3,538.5" fill="none" stroke="#64ad5d" stroke-width="0.6" stroke-opacity="0.17" stroke-linejoin="bevel"/>
<path d="M415.0,548.4 L427.3,549.2 L439.5,548.8 L451.8,548.4 L464.0,548.0 L476.2,549.1 L488.5,547.4 L500.7,533.8 L513.0,548.0 L525.2,549.0 L537.4,548.2 L549.7,547.8 L561.9,547.6 L574.2,548.4 L586.4,537.1 L598.6,546.6 L610.9,550.4 L623.1,549.4 L635.4,547.9 L647.6,547.9 L659.8,549.3 L672.1,549.2 L684.3,546.1" fill="none" stroke="#92c67c" stroke-width="0.6" stroke-opacity="0.17" stroke-linejoin="bevel"/>
<path d="M415.0,538.3 L427.3,539.6 L439.5,538.9 L451.8,538.1 L464.0,536.6 L476.2,529.1 L488.5,539.9 L500.7,537.3 L513.0,538.6 L525.2,539.0 L537.4,540.1 L549.7,531.5 L561.9,539.6 L574.2,540.1 L586.4,541.3 L598.6,538.4 L610.9,539.8 L623.1,525.4 L635.4,538.3 L647.6,525.4 L659.8,540.1 L672.1,525.7 L684.3,538.0" fill="none" stroke="#65ae5e" stroke-width="0.6" stroke-opacity="0.17" stroke-linejoin="bevel"/>
<path d="M415.0,541.9 L427.3,542.6 L439.5,542.1 L451.8,541.9 L464.0,542.1 L476.2,540.9 L488.5,539.9 L500.7,543.5 L513.0,540.1 L525.2,542.1 L537.4,541.2 L549.7,542.7 L561.9,544.2 L574.2,544.1 L586.4,540.5 L598.6,542.4 L610.9,531.5 L623.1,541.8 L635.4,540.4 L647.6,544.3 L659.8,542.8 L672.1,541.9 L684.3,542.2" fill="none" stroke="#70b466" stroke-width="0.6" stroke-opacity="0.17" stroke-linejoin="bevel"/>
<path d="M415.0,533.0 L427.3,543.4 L439.5,540.3 L451.8,543.9 L464.0,542.9 L476.2,544.0 L488.5,543.2 L500.7,545.5 L513.0,543.3 L525.2,526.3 L537.4,542.9 L549.7,530.9 L561.9,543.2 L574.2,542.2 L586.4,544.3 L598.6,541.0 L610.9,540.6 L623.1,529.3 L635.4,533.7 L647.6,542.9 L659.8,542.6 L672.1,542.5 L684.3,541.8" fill="none" stroke="#75b669" stroke-width="0.6" stroke-opacity="0.17" stroke-linejoin="bevel"/>
<path d="M415.0,537.9 L427.3,551.7 L439.5,547.7 L451.8,549.9 L464.0,549.9 L476.2,550.2 L488.5,541.9 L500.7,548.9 L513.0,548.5 L525.2,551.4 L537.4,533.8 L549.7,550.6 L561.9,550.2 L574.2,548.6 L586.4,550.1 L598.6,549.1 L610.9,548.5 L623.1,549.2 L635.4,550.5 L647.6,549.4 L659.8,548.1 L672.1,550.4 L684.3,550.2" fill="none" stroke="#abd190" stroke-width="0.6" stroke-opacity="0.17" stroke-linejoin="bevel"/>
<path d="M415.0,545.5 L427.3,540.5 L439.5,543.6 L451.8,529.7 L464.0,530.2 L476.2,541.0 L488.5,543.0 L500.7,542.4 L513.0,543.1 L525.2,542.9 L537.4,541.4 L549.7,540.5 L561.9,542.1 L574.2,542.3 L586.4,541.8 L598.6,542.3 L610.9,544.9 L623.1,542.5 L635.4,532.9 L647.6,526.0 L659.8,545.8 L672.1,543.8 L684.3,544.9" fill="none" stroke="#76b769" stroke-width="0.6" stroke-opacity="0.17" stroke-linejoin="bevel"/>
<path d="M415.0,542.1 L427.3,541.8 L439.5,527.2 L451.8,541.6 L464.0,543.6 L476.2,543.6 L488.5,543.1 L500.7,531.0 L513.0,542.6 L525.2,543.7 L537.4,542.3 L549.7,542.4 L561.9,527.3 L574.2,543.9 L586.4,540.8 L598.6,542.3 L610.9,542.9 L623.1,542.4 L635.4,544.6 L647.6,531.2 L659.8,544.1 L672.1,527.1 L684.3,541.8" fill="none" stroke="#75b669" stroke-width="0.6" stroke-opacity="0.17" stroke-linejoin="bevel"/>
<path d="M415.0,540.8 L427.3,541.0 L439.5,543.4 L451.8,531.9 L464.0,541.7 L476.2,527.5 L488.5,540.1 L500.7,540.2 L513.0,539.7 L525.2,539.3 L537.4,542.1 L549.7,540.6 L561.9,540.8 L574.2,540.1 L586.4,540.9 L598.6,542.0 L610.9,539.8 L623.1,540.3 L635.4,540.5 L647.6,540.0 L659.8,538.0 L672.1,529.5 L684.3,541.3" fill="none" stroke="#6ab062" stroke-width="0.6" stroke-opacity="0.17" stroke-linejoin="bevel"/>
<path d="M415.0,530.1 L427.3,544.6 L439.5,545.7 L451.8,544.4 L464.0,543.8 L476.2,543.9 L488.5,530.9 L500.7,543.6 L513.0,542.1 L525.2,542.5 L537.4,542.5 L549.7,534.8 L561.9,543.8 L574.2,544.1 L586.4,543.3 L598.6,543.2 L610.9,543.4 L623.1,544.4 L635.4,532.6 L647.6,545.7 L659.8,545.1 L672.1,533.5 L684.3,542.5" fill="none" stroke="#79b86b" stroke-width="0.6" stroke-opacity="0.17" stroke-linejoin="bevel"/>
<path d="M415.0,539.0 L427.3,538.5 L439.5,538.6 L451.8,540.2 L464.0,539.0 L476.2,540.4 L488.5,527.7 L500.7,537.6 L513.0,540.5 L525.2,527.9 L537.4,540.4 L549.7,538.8 L561.9,538.5 L574.2,540.5 L586.4,537.3 L598.6,539.1 L610.9,540.8 L623.1,537.9 L635.4,539.4 L647.6,542.1 L659.8,539.1 L672.1,538.8 L684.3,525.7" fill="none" stroke="#61ab5c" stroke-width="0.6" stroke-opacity="0.17" stroke-linejoin="bevel"/>
<path d="M415.0,556.8 L427.3,553.8 L439.5,546.1 L451.8,554.5 L464.0,545.0 L476.2,552.9 L488.5,553.6 L500.7,555.4 L513.0,546.0 L525.2,557.2 L537.4,554.9 L549.7,556.3 L561.9,551.8 L574.2,552.4 L586.4,554.9 L598.6,556.6 L610.9,555.3 L623.1,554.9 L635.4,553.9 L647.6,555.8 L659.8,555.1 L672.1,555.5 L684.3,554.1" fill="none" stroke="#e2dab3" stroke-width="0.6" stroke-opacity="0.17" stroke-linejoin="bevel"/>
<path d="M415.0,555.2 L427.3,555.9 L439.5,554.7 L451.8,555.0 L464.0,542.5 L476.2,555.9 L488.5,554.1 L500.7,543.5 L513.0,554.4 L525.2,555.0 L537.4,547.0 L549.7,554.7 L561.9,553.3 L574.2,555.2 L586.4,555.6 L598.6,555.1 L610.9,554.8 L623.1,553.7 L635.4,542.6 L647.6,553.5 L659.8,556.3 L672.1,554.4 L684.3,556.6" fill="none" stroke="#e0dbb2" stroke-width="0.6" stroke-opacity="0.17" stroke-linejoin="bevel"/>
<path d="M415.0,559.5 L427.3,558.2 L439.5,558.6 L451.8,556.0 L464.0,540.9 L476.2,555.8 L488.5,556.1 L500.7,556.2 L513.0,555.6 L525.2,557.1 L537.4,557.9 L549.7,559.1 L561.9,557.3 L574.2,542.4 L586.4,555.6 L598.6,556.0 L610.9,545.0 L623.1,550.1 L635.4,555.6 L647.6,557.5 L659.8,555.7 L672.1,558.6 L684.3,558.6" fill="none" stroke="#efd4b7" stroke-width="0.6" stroke-opacity="0.17" stroke-linejoin="bevel"/>
<path d="M415.0,551.3 L427.3,549.5 L439.5,553.7 L451.8,537.3 L464.0,550.8 L476.2,551.3 L488.5,542.3 L500.7,551.0 L513.0,551.8 L525.2,549.8 L537.4,552.2 L549.7,550.2 L561.9,550.3 L574.2,549.6 L586.4,552.7 L598.6,551.3 L610.9,548.1 L623.1,539.3 L635.4,536.2 L647.6,550.3 L659.8,552.4 L672.1,551.2 L684.3,550.9" fill="none" stroke="#beda9e" stroke-width="0.6" stroke-opacity="0.17" stroke-linejoin="bevel"/>
<path d="M415.0,539.4 L427.3,539.4 L439.5,524.5 L451.8,538.5 L464.0,536.7 L476.2,538.6 L488.5,541.1 L500.7,529.5 L513.0,539.6 L525.2,538.1 L537.4,538.7 L549.7,537.0 L561.9,537.8 L574.2,537.4 L586.4,536.1 L598.6,536.8 L610.9,540.9 L623.1,524.4 L635.4,540.0 L647.6,538.2 L659.8,538.1 L672.1,538.4 L684.3,538.5" fill="none" stroke="#5faa5a" stroke-width="0.6" stroke-opacity="0.17" stroke-linejoin="bevel"/>
<path d="M415.0,529.0 L427.3,541.0 L439.5,542.7 L451.8,540.8 L464.0,541.8 L476.2,526.3 L488.5,542.8 L500.7,538.1 L513.0,539.1 L525.2,544.3 L537.4,542.1 L549.7,542.7 L561.9,530.5 L574.2,540.2 L586.4,540.9 L598.6,540.8 L610.9,541.0 L623.1,541.4 L635.4,541.1 L647.6,543.7 L659.8,541.5 L672.1,539.5 L684.3,543.3" fill="none" stroke="#6eb264" stroke-width="0.6" stroke-opacity="0.17" stroke-linejoin="bevel"/>
<path d="M415.0,538.6 L427.3,540.2 L439.5,537.7 L451.8,539.3 L464.0,537.3 L476.2,538.1 L488.5,538.2 L500.7,539.8 L513.0,539.8 L525.2,525.7 L537.4,528.7 L549.7,527.8 L561.9,541.1 L574.2,540.8 L586.4,539.4 L598.6,539.7 L610.9,537.9 L623.1,539.8 L635.4,539.9 L647.6,527.1 L659.8,537.9 L672.1,537.4 L684.3,539.1" fill="none" stroke="#63ac5d" stroke-width="0.6" stroke-opacity="0.17" stroke-linejoin="bevel"/>
<path d="M415.0,552.3 L427.3,546.2 L439.5,554.0 L451.8,554.0 L464.0,554.0 L476.2,543.7 L488.5,554.5 L500.7,552.5 L513.0,546.3 L525.2,539.2 L537.4,553.9 L549.7,554.2 L561.9,555.6 L574.2,553.6 L586.4,542.6 L598.6,552.0 L610.9,555.0 L623.1,555.1 L635.4,552.4 L647.6,545.3 L659.8,555.6 L672.1,542.3 L684.3,554.5" fill="none" stroke="#dcdcb1" stroke-width="0.6" stroke-opacity="0.17" stroke-linejoin="bevel"/>
<path d="M415.0,549.5 L427.3,548.7 L439.5,547.6 L451.8,547.0 L464.0,539.4 L476.2,549.9 L488.5,537.9 L500.7,548.3 L513.0,547.4 L525.2,547.2 L537.4,548.5 L549.7,547.8 L561.9,547.5 L574.2,546.9 L586.4,536.4 L598.6,551.1 L610.9,548.5 L623.1,547.5 L635.4,547.1 L647.6,548.5 L659.8,550.6 L672.1,549.0 L684.3,547.8" fill="none" stroke="#9fcc86" stroke-width="0.6" stroke-opacity="0.17" stroke-linejoin="bevel"/>
<path d="M415.0,530.1 L427.3,548.7 L439.5,548.1 L451.8,545.3 L464.0,546.7 L476.2,546.7 L488.5,545.0 L500.7,548.7 L513.0,546.6 L525.2,537.7 L537.4,533.6 L549.7,537.5 L561.9,534.8 L574.2,545.5 L586.4,547.4 L598.6,545.9 L610.9,546.6 L623.1,545.5 L635.4,547.9 L647.6,544.2 L659.8,547.4 L672.1,546.0 L684.3,545.8" fill="none" stroke="#85bf74" stroke-width="0.6" stroke-opacity="0.17" stroke-linejoin="bevel"/>
<path d="M415.0,547.3 L427.3,548.4 L439.5,547.2 L451.8,534.1 L464.0,550.3 L476.2,549.8 L488.5,548.1 L500.7,548.1 L513.0,537.3 L525.2,547.7 L537.4,548.1 L549.7,548.6 L561.9,549.5 L574.2,547.3 L586.4,549.2 L598.6,548.8 L610.9,549.5 L623.1,548.4 L635.4,540.3 L647.6,548.7 L659.8,547.6 L672.1,550.2 L684.3,548.3" fill="none" stroke="#97c880" stroke-width="0.6" stroke-opacity="0.17" stroke-linejoin="bevel"/>
<path d="M415.0,542.2 L427.3,541.2 L439.5,540.7 L451.8,540.0 L464.0,540.1 L476.2,541.2 L488.5,541.5 L500.7,541.6 L513.0,541.7 L525.2,541.5 L537.4,539.2 L549.7,542.6 L561.9,542.3 L574.2,539.7 L586.4,529.6 L598.6,541.3 L610.9,529.8 L623.1,540.5 L635.4,543.0 L647.6,542.6 L659.8,525.1 L672.1,543.8 L684.3,539.4" fill="none" stroke="#6eb264" stroke-width="0.6" stroke-opacity="0.17" stroke-linejoin="bevel"/>
<path d="M415.0,545.7 L427.3,559.6 L439.5,560.0 L451.8,560.2 L464.0,560.4 L476.2,558.3 L488.5,559.9 L500.7,548.1 L513.0,562.3 L525.2,547.0 L537.4,549.0 L549.7,559.2 L561.9,558.6 L574.2,549.6 L586.4,560.5 L598.6,559.2 L610.9,562.3 L623.1,562.2 L635.4,560.9 L647.6,545.7 L659.8,561.0 L672.1,558.0 L684.3,560.6" fill="none" stroke="#e8c7a6" stroke-width="0.6" stroke-opacity="0.17" stroke-linejoin="bevel"/>
<path d="M415.0,552.2 L427.3,554.4 L439.5,554.9 L451.8,553.6 L464.0,555.3 L476.2,552.9 L488.5,554.8 L500.7,554.0 L513.0,552.4 L525.2,553.5 L537.4,553.7 L549.7,553.7 L561.9,543.1 L574.2,539.4 L586.4,552.8 L598.6,552.6 L610.9,554.0 L623.1,552.3 L635.4,554.6 L647.6,554.2 L659.8,551.9 L672.1,542.4 L684.3,549.8" fill="none" stroke="#daddaf" stroke-width="0.6" stroke-opacity="0.17" stroke-linejoin="bevel"/>
<path d="M415.0,556.9 L427.3,555.9 L439.5,555.5 L451.8,556.0 L464.0,558.1 L476.2,555.0 L488.5,556.0 L500.7,555.6 L513.0,556.8 L525.2,556.6 L537.4,556.3 L549.7,546.6 L561.9,556.0 L574.2,558.2 L586.4,558.8 L598.6,559.6 L610.9,557.6 L623.1,554.5 L635.4,556.6 L647.6,555.3 L659.8,557.7 L672.1,557.4 L684.3,556.0" fill="none" stroke="#f0d5b8" stroke-width="0.6" stroke-opacity="0.17" stroke-linejoin="bevel"/>
<path d="M415.0,560.4 L427.3,560.5 L439.5,558.6 L451.8,561.1 L464.0,561.1 L476.2,561.9 L488.5,562.2 L500.7,549.3 L513.0,547.3 L525.2,561.0 L537.4,560.6 L549.7,560.9 L561.9,546.7 L574.2,558.5 L586.4,559.5 L598.6,559.5 L610.9,561.9 L623.1,561.8 L635.4,558.3 L647.6,561.5 L659.8,548.6 L672.1,545.4 L684.3,558.9" fill="none" stroke="#e8c5a4" stroke-width="0.6" stroke-opacity="0.17" stroke-linejoin="bevel"/>
<path d="M415.0,544.8 L427.3,546.1 L439.5,545.2 L451.8,547.3 L464.0,543.4 L476.2,547.4 L488.5,547.7 L500.7,545.8 L513.0,547.2 L525.2,546.1 L537.4,546.0 L549.7,545.4 L561.9,545.6 L574.2,543.7 L586.4,546.2 L598.6,546.4 L610.9,545.9 L623.1,547.3 L635.4,535.7 L647.6,545.2 L659.8,546.0 L672.1,546.0 L684.3,544.6" fill="none" stroke="#84be73" stroke-width="0.6" stroke-opacity="0.17" stroke-linejoin="bevel"/>
<path d="M415.0,556.2 L427.3,542.0 L439.5,542.2 L451.8,555.7 L464.0,556.7 L476.2,556.6 L488.5,555.5 L500.7,553.9 L513.0,553.4 L525.2,556.7 L537.4,555.6 L549.7,556.2 L561.9,556.9 L574.2,555.3 L586.4,554.1 L598.6,555.8 L610.9,556.5 L623.1,556.7 L635.4,554.4 L647.6,554.3 L659.8,547.7 L672.1,546.7 L684.3,546.4" fill="none" stroke="#ecd7b7" stroke-width="0.6" stroke-opacity="0.17" stroke-linejoin="bevel"/>
<path d="M415.0,547.7 L427.3,549.8 L439.5,549.3 L451.8,547.5 L464.0,550.4 L476.2,549.4 L488.5,551.9 L500.7,548.7 L513.0,549.7 L525.2,550.1 L537.4,539.4 L549.7,548.6 L561.9,549.3 L574.2,550.5 L586.4,550.6 L598.6,549.2 L610.9,549.7 L623.1,549.4 L635.4,551.7 L647.6,552.0 L659.8,549.2 L672.1,549.2 L684.3,548.9" fill="none" stroke="#a7cf8c" stroke-width="0.6" stroke-opacity="0.17" stroke-linejoin="bevel"/>
<path d="M415.0,542.2 L427.3,544.5 L439.5,544.8 L451.8,543.1 L464.0,543.3 L476.2,543.8 L488.5,531.4 L500.7,543.5 L513.0,545.5 L525.2,542.2 L537.4,543.3 L549.7,543.3 L561.9,544.2 L574.2,541.5 L586.4,542.2 L598.6,543.8 L610.9,544.7 L623.1,542.8 L635.4,534.2 L647.6,543.1 L659.8,544.6 L672.1,526.3 L684.3,544.5" fill="none" stroke="#78b86b" stroke-width="0.6" stroke-opacity="0.17" stroke-linejoin="bevel"/>
<path d="M415.0,561.5 L427.3,559.3 L439.5,560.5 L451.8,544.4 L464.0,557.4 L476.2,546.6 L488.5,546.7 L500.7,559.6 L513.0,559.1 L525.2,559.3 L537.4,559.0 L549.7,561.3 L561.9,560.7 L574.2,547.4 L586.4,560.3 L598.6,545.8 L610.9,556.3 L623.1,549.3 L635.4,560.6 L647.6,560.0 L659.8,562.2 L672.1,558.9 L684.3,559.0" fill="none" stroke="#e8c7a6" stroke-width="0.6" stroke-opacity="0.17" stroke-linejoin="bevel"/>
<path d="M415.0,557.2 L427.3,544.7 L439.5,557.4 L451.8,556.9 L464.0,560.6 L476.2,545.6 L488.5,556.5 L500.7,556.7 L513.0,558.3 L525.2,559.7 L537.4,559.4 L549.7,557.4 L561.9,558.6 L574.2,558.7 L586.4,559.4 L598.6,559.5 L610.9,559.5 L623.1,557.4 L635.4,559.8 L647.6,560.4 L659.8,556.6 L672.1,557.9 L684.3,557.3" fill="none" stroke="#ebcbac" stroke-width="0.6" stroke-opacity="0.17" stroke-linejoin="bevel"/>
<path d="M415.0,541.3 L427.3,541.5 L439.5,543.7 L451.8,542.3 L464.0,542.2 L476.2,542.7 L488.5,543.9 L500.7,544.4 L513.0,541.7 L525.2,531.3 L537.4,541.8 L549.7,542.5 L561.9,542.1 L574.2,527.6 L586.4,542.1 L598.6,540.3 L610.9,543.4 L623.1,542.9 L635.4,540.8 L647.6,539.9 L659.8,544.5 L672.1,542.2 L684.3,542.3" fill="none" stroke="#75b669" stroke-width="0.6" stroke-opacity="0.17" stroke-linejoin="bevel"/>
<path d="M415.0,555.8 L427.3,539.6 L439.5,556.5 L451.8,545.3 L464.0,553.9 L476.2,556.0 L488.5,555.6 L500.7,554.4 L513.0,548.1 L525.2,557.1 L537.4,556.3 L549.7,544.3 L561.9,555.3 L574.2,555.2 L586.4,555.3 L598.6,555.8 L610.9,559.4 L623.1,541.8 L635.4,557.4 L647.6,556.8 L659.8,557.5 L672.1,554.2 L684.3,554.4" fill="none" stroke="#ecd7b7" stroke-width="0.6" stroke-opacity="0.17" stroke-linejoin="bevel"/>
<path d="M415.0,542.5 L427.3,539.3 L439.5,542.5 L451.8,530.5 L464.0,539.1 L476.2,540.4 L488.5,540.3 L500.7,540.3 L513.0,542.0 L525.2,541.2 L537.4,539.4 L549.7,528.9 L561.9,525.6 L574.2,541.9 L586.4,542.3 L598.6,540.4 L610.9,538.7 L623.1,541.5 L635.4,542.2 L647.6,539.9 L659.8,540.6 L672.1,540.8 L684.3,542.4" fill="none" stroke="#6cb162" stroke-width="0.6" stroke-opacity="0.17" stroke-linejoin="bevel"/>
<path d="M415.0,542.2 L427.3,543.8 L439.5,545.1 L451.8,533.2 L464.0,544.6 L476.2,545.7 L488.5,543.4 L500.7,538.1 L513.0,534.6 L525.2,543.9 L537.4,546.3 L549.7,544.7 L561.9,543.6 L574.2,543.0 L586.4,546.1 L598.6,544.1 L610.9,543.9 L623.1,545.0 L635.4,542.3 L647.6,544.0 L659.8,534.7 L672.1,543.1 L684.3,545.4" fill="none" stroke="#7dba6e" stroke-width="0.6" stroke-opacity="0.17" stroke-linejoin="bevel"/>
<path d="M415.0,542.2 L427.3,542.7 L439.5,542.9 L451.8,541.5 L464.0,543.2 L476.2,544.5 L488.5,543.2 L500.7,543.5 L513.0,544.4 L525.2,544.0 L537.4,544.0 L549.7,542.8 L561.9,542.8 L574.2,542.1 L586.4,541.8 L598.6,543.0 L610.9,543.7 L623.1,543.1 L635.4,530.0 L647.6,543.3 L659.8,544.2 L672.1,543.5 L684.3,541.1" fill="none" stroke="#76b769" stroke-width="0.6" stroke-opacity="0.17" stroke-linejoin="bevel"/>
<path d="M415.0,539.8 L427.3,537.6 L439.5,540.0 L451.8,538.3 L464.0,540.5 L476.2,539.4 L488.5,539.8 L500.7,528.2 L513.0,538.2 L525.2,537.7 L537.4,538.6 L549.7,529.0 L561.9,525.7 L574.2,541.1 L586.4,528.5 L598.6,541.0 L610.9,541.1 L623.1,539.2 L635.4,538.3 L647.6,539.4 L659.8,538.0 L672.1,538.6 L684.3,539.4" fill="none" stroke="#61ab5b" stroke-width="0.6" stroke-opacity="0.17" stroke-linejoin="bevel"/>
<path d="M415.0,559.4 L427.3,558.9 L439.5,559.7 L451.8,559.4 L464.0,561.2 L476.2,562.4 L488.5,556.9 L500.7,557.9 L513.0,559.0 L525.2,549.7 L537.4,561.1 L549.7,561.0 L561.9,559.0 L574.2,558.0 L586.4,561.1 L598.6,558.4 L610.9,559.1 L623.1,561.6 L635.4,560.0 L647.6,561.8 L659.8,558.5 L672.1,545.2 L684.3,563.2" fill="none" stroke="#e8c7a6" stroke-width="0.6" stroke-opacity="0.17" stroke-linejoin="bevel"/>
<path d="M415.0,559.6 L427.3,547.2 L439.5,556.6 L451.8,562.1 L464.0,557.9 L476.2,561.4 L488.5,560.6 L500.7,560.3 L513.0,559.9 L525.2,558.9 L537.4,557.6 L549.7,558.0 L561.9,559.3 L574.2,561.9 L586.4,546.8 L598.6,559.4 L610.9,559.6 L623.1,561.4 L635.4,559.2 L647.6,559.2 L659.8,560.2 L672.1,560.8 L684.3,559.8" fill="none" stroke="#e8c5a4" stroke-width="0.6" stroke-opacity="0.17" stroke-linejoin="bevel"/>
<path d="M415.0,559.1 L427.3,560.1 L439.5,558.4 L451.8,561.7 L464.0,558.4 L476.2,557.6 L488.5,558.1 L500.7,559.1 L513.0,558.6 L525.2,546.4 L537.4,548.5 L549.7,557.8 L561.9,560.2 L574.2,559.3 L586.4,559.9 L598.6,560.2 L610.9,559.1 L623.1,558.2 L635.4,558.4 L647.6,558.0 L659.8,559.3 L672.1,559.9 L684.3,561.5" fill="none" stroke="#e9c9a8" stroke-width="0.6" stroke-opacity="0.17" stroke-linejoin="bevel"/>
<path d="M415.0,542.5 L427.3,539.1 L439.5,543.4 L451.8,541.4 L464.0,542.6 L476.2,532.2 L488.5,528.8 L500.7,542.1 L513.0,541.5 L525.2,541.5 L537.4,542.8 L549.7,525.6 L561.9,540.8 L574.2,543.3 L586.4,530.0 L598.6,541.9 L610.9,543.2 L623.1,545.8 L635.4,529.7 L647.6,539.8 L659.8,542.0 L672.1,538.9 L684.3,543.2" fill="none" stroke="#72b567" stroke-width="0.6" stroke-opacity="0.17" stroke-linejoin="bevel"/>
<path d="M415.0,539.9 L427.3,544.3 L439.5,543.4 L451.8,541.8 L464.0,544.1 L476.2,542.5 L488.5,530.7 L500.7,542.1 L513.0,541.6 L525.2,540.7 L537.4,531.0 L549.7,542.7 L561.9,535.6 L574.2,543.6 L586.4,526.9 L598.6,540.9 L610.9,541.6 L623.1,543.6 L635.4,542.0 L647.6,542.9 L659.8,543.6 L672.1,539.9 L684.3,540.6" fill="none" stroke="#73b567" stroke-width="0.6" stroke-opacity="0.17" stroke-linejoin="bevel"/>
<path d="M415.0,548.9 L427.3,549.2 L439.5,550.6 L451.8,546.4 L464.0,549.9 L476.2,548.3 L488.5,547.4 L500.7,548.0 L513.0,549.8 L525.2,548.1 L537.4,547.8 L549.7,550.7 L561.9,552.1 L574.2,548.4 L586.4,534.6 L598.6,548.9 L610.9,548.8 L623.1,551.4 L635.4,548.6 L647.6,537.1 L659.8,547.9 L672.1,549.7 L684.3,550.1" fill="none" stroke="#a7d08d" stroke-width="0.6" stroke-opacity="0.17" stroke-linejoin="bevel"/>
<path d="M415.0,556.1 L427.3,558.0 L439.5,548.1 L451.8,556.8 L464.0,556.1 L476.2,556.0 L488.5,554.9 L500.7,548.8 L513.0,557.6 L525.2,555.4 L537.4,557.9 L549.7,558.6 L561.9,556.5 L574.2,556.5 L586.4,555.2 L598.6,555.3 L610.9,556.0 L623.1,556.3 L635.4,558.2 L647.6,555.1 L659.8,555.5 L672.1,557.1 L684.3,542.9" fill="none" stroke="#f0d6b9" stroke-width="0.6" stroke-opacity="0.17" stroke-linejoin="bevel"/>
<path d="M415.0,544.2 L427.3,541.3 L439.5,542.2 L451.8,544.9 L464.0,544.3 L476.2,531.2 L488.5,543.6 L500.7,544.2 L513.0,541.7 L525.2,534.5 L537.4,531.4 L549.7,542.5 L561.9,543.8 L574.2,543.3 L586.4,543.6 L598.6,543.9 L610.9,545.6 L623.1,543.6 L635.4,528.8 L647.6,543.6 L659.8,543.6 L672.1,544.9 L684.3,541.9" fill="none" stroke="#77b76a" stroke-width="0.6" stroke-opacity="0.17" stroke-linejoin="bevel"/>
<path d="M415.0,557.0 L427.3,545.2 L439.5,557.9 L451.8,558.0 L464.0,558.4 L476.2,554.6 L488.5,557.4 L500.7,548.9 L513.0,557.3 L525.2,557.6 L537.4,557.1 L549.7,556.4 L561.9,559.0 L574.2,558.8 L586.4,558.6 L598.6,557.4 L610.9,558.9 L623.1,557.0 L635.4,557.9 L647.6,544.1 L659.8,557.7 L672.1,558.2 L684.3,545.5" fill="none" stroke="#eed1b3" stroke-width="0.6" stroke-opacity="0.17" stroke-linejoin="bevel"/>
<path d="M415.0,539.7 L427.3,542.3 L439.5,541.9 L451.8,541.7 L464.0,542.3 L476.2,542.3 L488.5,542.1 L500.7,543.2 L513.0,541.8 L525.2,541.0 L537.4,541.9 L549.7,539.7 L561.9,540.5 L574.2,544.5 L586.4,543.4 L598.6,532.3 L610.9,540.9 L623.1,542.5 L635.4,542.7 L647.6,541.4 L659.8,541.0 L672.1,543.2 L684.3,542.6" fill="none" stroke="#72b466" stroke-width="0.6" stroke-opacity="0.17" stroke-linejoin="bevel"/>
<path d="M415.0,557.7 L427.3,555.6 L439.5,557.1 L451.8,560.2 L464.0,556.1 L476.2,557.1 L488.5,558.6 L500.7,558.7 L513.0,555.7 L525.2,557.4 L537.4,557.9 L549.7,556.0 L561.9,557.5 L574.2,557.0 L586.4,556.8 L598.6,557.8 L610.9,558.8 L623.1,556.7 L635.4,557.4 L647.6,557.2 L659.8,558.5 L672.1,557.2 L684.3,558.0" fill="none" stroke="#eed3b5" stroke-width="0.6" stroke-opacity="0.17" stroke-linejoin="bevel"/>
<path d="M415.0,541.6 L427.3,543.2 L439.5,554.1 L451.8,554.6 L464.0,555.4 L476.2,555.8 L488.5,541.0 L500.7,555.7 L513.0,539.6 L525.2,553.4 L537.4,555.2 L549.7,555.4 L561.9,536.7 L574.2,554.9 L586.4,554.4 L598.6,553.7 L610.9,555.4 L623.1,556.7 L635.4,556.5 L647.6,552.4 L659.8,552.9 L672.1,537.3 L684.3,553.9" fill="none" stroke="#e4dab4" stroke-width="0.6" stroke-opacity="0.22" stroke-linejoin="bevel"/>
<path d="M415.0,558.9 L427.3,561.3 L439.5,561.5 L451.8,561.6 L464.0,560.3 L476.2,562.5 L488.5,563.7 L500.7,561.2 L513.0,561.0 L525.2,561.2 L537.4,560.5 L549.7,559.8 L561.9,559.9 L574.2,559.4 L586.4,561.4 L598.6,548.1 L610.9,558.4 L623.1,560.7 L635.4,560.3 L647.6,560.5 L659.8,562.6 L672.1,547.2 L684.3,547.8" fill="none" stroke="#e8c5a4" stroke-width="0.6" stroke-opacity="0.22" stroke-linejoin="bevel"/>
<path d="M415.0,551.7 L427.3,553.0 L439.5,538.1 L451.8,553.2 L464.0,553.8 L476.2,551.9 L488.5,552.7 L500.7,554.0 L513.0,553.1 L525.2,552.5 L537.4,553.1 L549.7,553.6 L561.9,543.2 L574.2,554.6 L586.4,551.7 L598.6,548.7 L610.9,550.8 L623.1,536.4 L635.4,551.0 L647.6,535.1 L659.8,552.3 L672.1,553.5 L684.3,553.7" fill="none" stroke="#d0e0ab" stroke-width="0.6" stroke-opacity="0.22" stroke-linejoin="bevel"/>
<path d="M415.0,557.9 L427.3,569.3 L439.5,570.4 L451.8,568.5 L464.0,552.1 L476.2,567.5 L488.5,566.5 L500.7,549.4 L513.0,566.1 L525.2,568.8 L537.4,551.9 L549.7,567.7 L561.9,566.2 L574.2,567.1 L586.4,567.9 L598.6,568.4 L610.9,567.0 L623.1,565.9 L635.4,565.9 L647.6,567.9 L659.8,563.2 L672.1,567.3 L684.3,566.3" fill="none" stroke="#cfa27b" stroke-width="0.6" stroke-opacity="0.22" stroke-linejoin="bevel"/>
<path d="M415.0,563.3 L427.3,561.8 L439.5,564.0 L451.8,563.5 L464.0,566.4 L476.2,565.0 L488.5,565.0 L500.7,563.1 L513.0,564.4 L525.2,566.0 L537.4,561.1 L549.7,563.7 L561.9,564.4 L574.2,562.8 L586.4,564.6 L598.6,563.7 L610.9,564.6 L623.1,566.4 L635.4,561.9 L647.6,563.4 L659.8,563.9 L672.1,562.2 L684.3,565.0" fill="none" stroke="#dcb38f" stroke-width="0.6" stroke-opacity="0.22" stroke-linejoin="bevel"/>
<path d="M415.0,559.7 L427.3,556.2 L439.5,557.7 L451.8,560.0 L464.0,558.6 L476.2,558.1 L488.5,557.6 L500.7,560.8 L513.0,546.1 L525.2,557.6 L537.4,559.6 L549.7,559.7 L561.9,557.8 L574.2,546.1 L586.4,558.6 L598.6,559.2 L610.9,558.2 L623.1,558.0 L635.4,541.4 L647.6,558.2 L659.8,558.3 L672.1,559.1 L684.3,557.7" fill="none" stroke="#eacbab" stroke-width="0.6" stroke-opacity="0.22" stroke-linejoin="bevel"/>
<path d="M415.0,566.6 L427.3,557.5 L439.5,565.8 L451.8,568.4 L464.0,565.8 L476.2,566.4 L488.5,564.4 L500.7,568.3 L513.0,567.0 L525.2,565.7 L537.4,566.2 L549.7,556.8 L561.9,568.2 L574.2,564.7 L586.4,567.3 L598.6,567.9 L610.9,568.0 L623.1,566.0 L635.4,555.0 L647.6,565.4 L659.8,568.6 L672.1,568.1 L684.3,564.4" fill="none" stroke="#d0a37d" stroke-width="0.6" stroke-opacity="0.22" stroke-linejoin="bevel"/>
<path d="M415.0,552.9 L427.3,556.0 L439.5,551.6 L451.8,552.3 L464.0,551.9 L476.2,554.3 L488.5,533.4 L500.7,551.9 L513.0,551.1 L525.2,551.1 L537.4,551.6 L549.7,554.4 L561.9,554.8 L574.2,552.6 L586.4,553.2 L598.6,552.5 L610.9,552.9 L623.1,554.1 L635.4,552.3 L647.6,552.3 L659.8,537.6 L672.1,552.4 L684.3,550.8" fill="none" stroke="#d2dfac" stroke-width="0.6" stroke-opacity="0.22" stroke-linejoin="bevel"/>
<path d="M415.0,560.4 L427.3,561.0 L439.5,561.2 L451.8,561.0 L464.0,562.2 L476.2,562.0 L488.5,562.8 L500.7,563.9 L513.0,561.3 L525.2,551.0 L537.4,561.3 L549.7,560.7 L561.9,562.8 L574.2,552.2 L586.4,561.0 L598.6,560.9 L610.9,551.6 L623.1,561.3 L635.4,563.1 L647.6,562.9 L659.8,560.6 L672.1,560.6 L684.3,560.8" fill="none" stroke="#e4bf9c" stroke-width="0.6" stroke-opacity="0.22" stroke-linejoin="bevel"/>
<path d="M415.0,560.8 L427.3,559.3 L439.5,558.9 L451.8,542.0 L464.0,560.6 L476.2,559.6 L488.5,561.8 L500.7,559.6 L513.0,544.5 L525.2,561.1 L537.4,559.6 L549.7,559.9 L561.9,560.0 L574.2,560.4 L586.4,557.7 L598.6,542.8 L610.9,544.0 L623.1,557.4 L635.4,558.6 L647.6,557.5 L659.8,558.5 L672.1,560.3 L684.3,556.8" fill="none" stroke="#ebcbab" stroke-width="0.6" stroke-opacity="0.22" stroke-linejoin="bevel"/>
<path d="M415.0,558.2 L427.3,547.2 L439.5,555.0 L451.8,556.9 L464.0,545.0 L476.2,555.0 L488.5,554.4 L500.7,558.3 L513.0,554.8 L525.2,558.0 L537.4,554.3 L549.7,553.0 L561.9,555.3 L574.2,557.9 L586.4,554.0 L598.6,538.2 L610.9,553.6 L623.1,557.2 L635.4,554.5 L647.6,554.1 L659.8,543.6 L672.1,553.9 L684.3,557.4" fill="none" stroke="#efd6b9" stroke-width="0.6" stroke-opacity="0.22" stroke-linejoin="bevel"/>
<path d="M415.0,555.7 L427.3,556.0 L439.5,542.9 L451.8,554.1 L464.0,554.6 L476.2,555.3 L488.5,554.3 L500.7,538.4 L513.0,554.6 L525.2,551.5 L537.4,555.4 L549.7,554.9 L561.9,556.9 L574.2,541.3 L586.4,552.8 L598.6,554.0 L610.9,555.6 L623.1,552.6 L635.4,540.2 L647.6,555.4 L659.8,552.6 L672.1,554.7 L684.3,554.4" fill="none" stroke="#e0dbb2" stroke-width="0.6" stroke-opacity="0.22" stroke-linejoin="bevel"/>
<path d="M415.0,555.8 L427.3,556.1 L439.5,558.7 L451.8,557.3 L464.0,558.1 L476.2,556.8 L488.5,557.2 L500.7,556.3 L513.0,557.0 L525.2,558.7 L537.4,558.8 L549.7,548.0 L561.9,558.2 L574.2,555.3 L586.4,558.9 L598.6,559.6 L610.9,538.9 L623.1,557.7 L635.4,547.1 L647.6,558.4 L659.8,545.6 L672.1,558.3 L684.3,557.0" fill="none" stroke="#eed2b5" stroke-width="0.6" stroke-opacity="0.22" stroke-linejoin="bevel"/>
<path d="M415.0,549.4 L427.3,554.6 L439.5,551.2 L451.8,549.9 L464.0,550.0 L476.2,552.1 L488.5,553.3 L500.7,550.5 L513.0,552.6 L525.2,541.7 L537.4,551.6 L549.7,552.4 L561.9,552.5 L574.2,551.5 L586.4,551.8 L598.6,551.8 L610.9,540.4 L623.1,551.5 L635.4,553.2 L647.6,541.7 L659.8,551.1 L672.1,550.2 L684.3,552.2" fill="none" stroke="#cde1aa" stroke-width="0.6" stroke-opacity="0.22" stroke-linejoin="bevel"/>
<path d="M415.0,559.3 L427.3,557.2 L439.5,560.9 L451.8,557.9 L464.0,559.6 L476.2,559.0 L488.5,559.2 L500.7,559.9 L513.0,559.6 L525.2,559.0 L537.4,558.6 L549.7,559.0 L561.9,558.4 L574.2,560.5 L586.4,558.9 L598.6,558.6 L610.9,557.7 L623.1,557.7 L635.4,558.9 L647.6,557.9 L659.8,558.9 L672.1,561.0 L684.3,560.1" fill="none" stroke="#ebcbac" stroke-width="0.6" stroke-opacity="0.22" stroke-linejoin="bevel"/>
<path d="M415.0,560.8 L427.3,558.6 L439.5,561.2 L451.8,559.0 L464.0,559.8 L476.2,558.9 L488.5,550.6 L500.7,560.1 L513.0,558.9 L525.2,561.2 L537.4,560.0 L549.7,560.0 L561.9,559.1 L574.2,559.2 L586.4,558.1 L598.6,558.6 L610.9,549.8 L623.1,559.4 L635.4,560.9 L647.6,541.3 L659.8,548.8 L672.1,561.0 L684.3,556.6" fill="none" stroke="#eac9a9" stroke-width="0.6" stroke-opacity="0.22" stroke-linejoin="bevel"/>
<path d="M415.0,543.0 L427.3,558.9 L439.5,561.0 L451.8,559.1 L464.0,560.1 L476.2,559.1 L488.5,558.4 L500.7,560.9 L513.0,558.6 L525.2,560.5 L537.4,561.9 L549.7,559.2 L561.9,560.5 L574.2,558.7 L586.4,559.2 L598.6,559.5 L610.9,560.2 L623.1,561.3 L635.4,556.6 L647.6,545.0 L659.8,562.8 L672.1,559.1 L684.3,560.8" fill="none" stroke="#e8c7a6" stroke-width="0.6" stroke-opacity="0.22" stroke-linejoin="bevel"/>
<path d="M415.0,560.8 L427.3,545.9 L439.5,546.3 L451.8,559.0 L464.0,559.8 L476.2,559.0 L488.5,563.6 L500.7,561.0 L513.0,562.4 L525.2,561.3 L537.4,559.6 L549.7,559.1 L561.9,556.7 L574.2,560.8 L586.4,546.7 L598.6,549.4 L610.9,559.1 L623.1,559.4 L635.4,561.4 L647.6,560.9 L659.8,560.8 L672.1,559.7 L684.3,558.3" fill="none" stroke="#e7c3a2" stroke-width="0.6" stroke-opacity="0.22" stroke-linejoin="bevel"/>
<path d="M415.0,553.4 L427.3,553.0 L439.5,553.0 L451.8,552.0 L464.0,553.7 L476.2,553.6 L488.5,551.9 L500.7,543.3 L513.0,552.8 L525.2,552.6 L537.4,553.4 L549.7,553.1 L561.9,552.5 L574.2,552.6 L586.4,539.0 L598.6,536.8 L610.9,552.0 L623.1,553.5 L635.4,551.9 L647.6,544.1 L659.8,556.3 L672.1,554.0 L684.3,552.3" fill="none" stroke="#d9ddaf" stroke-width="0.6" stroke-opacity="0.22" stroke-linejoin="bevel"/>
<path d="M415.0,557.5 L427.3,557.8 L439.5,560.7 L451.8,560.3 L464.0,558.8 L476.2,546.9 L488.5,559.9 L500.7,559.4 L513.0,546.8 L525.2,560.7 L537.4,559.1 L549.7,544.3 L561.9,560.8 L574.2,558.2 L586.4,559.7 L598.6,558.7 L610.9,557.9 L623.1,560.5 L635.4,557.6 L647.6,545.8 L659.8,558.5 L672.1,560.5 L684.3,556.1" fill="none" stroke="#eacaaa" stroke-width="0.6" stroke-opacity="0.22" stroke-linejoin="bevel"/>
<path d="M415.0,562.8 L427.3,548.1 L439.5,561.3 L451.8,559.2 L464.0,559.9 L476.2,563.2 L488.5,560.7 L500.7,560.4 L513.0,561.9 L525.2,560.9 L537.4,560.6 L549.7,561.1 L561.9,563.5 L574.2,560.4 L586.4,550.1 L598.6,558.7 L610.9,561.1 L623.1,563.6 L635.4,561.4 L647.6,560.3 L659.8,561.2 L672.1,558.8 L684.3,561.5" fill="none" stroke="#e5c09e" stroke-width="0.6" stroke-opacity="0.22" stroke-linejoin="bevel"/>
<path d="M415.0,561.1 L427.3,543.1 L439.5,560.8 L451.8,548.1 L464.0,562.0 L476.2,560.1 L488.5,561.8 L500.7,559.7 L513.0,560.8 L525.2,549.7 L537.4,559.7 L549.7,559.4 L561.9,544.4 L574.2,560.9 L586.4,559.0 L598.6,559.6 L610.9,549.1 L623.1,561.5 L635.4,559.7 L647.6,550.5 L659.8,548.0 L672.1,560.2 L684.3,559.6" fill="none" stroke="#e8c6a5" stroke-width="0.6" stroke-opacity="0.22" stroke-linejoin="bevel"/>
<path d="M415.0,554.2 L427.3,543.1 L439.5,554.2 L451.8,554.5 L464.0,554.4 L476.2,555.8 L488.5,542.1 L500.7,556.9 L513.0,553.7 L525.2,556.5 L537.4,555.9 L549.7,554.9 L561.9,555.1 L574.2,552.3 L586.4,556.0 L598.6,555.2 L610.9,536.5 L623.1,555.1 L635.4,556.1 L647.6,554.5 L659.8,552.8 L672.1,551.9 L684.3,553.9" fill="none" stroke="#dedcb1" stroke-width="0.6" stroke-opacity="0.22" stroke-linejoin="bevel"/>
<path d="M415.0,564.9 L427.3,566.1 L439.5,565.6 L451.8,566.1 L464.0,566.1 L476.2,565.3 L488.5,564.5 L500.7,557.2 L513.0,564.8 L525.2,566.3 L537.4,565.2 L549.7,563.6 L561.9,565.8 L574.2,564.5 L586.4,564.4 L598.6,565.3 L610.9,566.1 L623.1,564.3 L635.4,564.4 L647.6,565.2 L659.8,566.2 L672.1,567.6 L684.3,565.2" fill="none" stroke="#d5aa85" stroke-width="0.6" stroke-opacity="0.22" stroke-linejoin="bevel"/>
<path d="M415.0,557.9 L427.3,557.8 L439.5,558.7 L451.8,557.8 L464.0,557.0 L476.2,556.5 L488.5,539.3 L500.7,558.4 L513.0,558.0 L525.2,559.1 L537.4,559.6 L549.7,558.9 L561.9,548.1 L574.2,557.4 L586.4,558.6 L598.6,559.5 L610.9,555.4 L623.1,540.5 L635.4,546.5 L647.6,556.8 L659.8,555.7 L672.1,559.0 L684.3,557.7" fill="none" stroke="#edd0b2" stroke-width="0.6" stroke-opacity="0.22" stroke-linejoin="bevel"/>
<path d="M415.0,564.6 L427.3,566.7 L439.5,565.6 L451.8,567.9 L464.0,565.9 L476.2,565.8 L488.5,564.5 L500.7,564.5 L513.0,566.7 L525.2,566.6 L537.4,565.9 L549.7,547.4 L561.9,566.4 L574.2,568.9 L586.4,567.1 L598.6,566.0 L610.9,567.1 L623.1,563.9 L635.4,564.4 L647.6,566.9 L659.8,565.9 L672.1,565.1 L684.3,565.5" fill="none" stroke="#d5aa84" stroke-width="0.6" stroke-opacity="0.22" stroke-linejoin="bevel"/>
<path d="M415.0,542.0 L427.3,554.2 L439.5,554.3 L451.8,555.7 L464.0,553.5 L476.2,553.0 L488.5,552.0 L500.7,554.0 L513.0,553.6 L525.2,554.1 L537.4,552.0 L549.7,553.5 L561.9,554.7 L574.2,554.3 L586.4,551.4 L598.6,553.8 L610.9,552.9 L623.1,543.1 L635.4,555.0 L647.6,553.7 L659.8,552.5 L672.1,555.0 L684.3,553.6" fill="none" stroke="#dcdcb0" stroke-width="0.6" stroke-opacity="0.22" stroke-linejoin="bevel"/>
<path d="M415.0,555.6 L427.3,566.8 L439.5,566.9 L451.8,566.3 L464.0,567.1 L476.2,566.3 L488.5,568.5 L500.7,552.7 L513.0,565.9 L525.2,567.1 L537.4,568.2 L549.7,568.6 L561.9,569.1 L574.2,567.0 L586.4,569.3 L598.6,569.7 L610.9,568.0 L623.1,565.9 L635.4,566.6 L647.6,556.4 L659.8,565.4 L672.1,567.4 L684.3,555.5" fill="none" stroke="#cea17a" stroke-width="0.6" stroke-opacity="0.22" stroke-linejoin="bevel"/>
<path d="M415.0,548.8 L427.3,550.4 L439.5,563.1 L451.8,560.8 L464.0,561.5 L476.2,560.6 L488.5,562.6 L500.7,563.6 L513.0,562.7 L525.2,562.2 L537.4,561.5 L549.7,560.3 L561.9,547.1 L574.2,562.5 L586.4,562.4 L598.6,561.1 L610.9,562.7 L623.1,563.5 L635.4,563.7 L647.6,561.6 L659.8,564.2 L672.1,564.1 L684.3,565.9" fill="none" stroke="#e0b995" stroke-width="0.6" stroke-opacity="0.22" stroke-linejoin="bevel"/>
<path d="M415.0,564.8 L427.3,567.1 L439.5,550.6 L451.8,566.5 L464.0,567.4 L476.2,566.0 L488.5,567.0 L500.7,551.4 L513.0,564.9 L525.2,566.7 L537.4,566.8 L549.7,567.4 L561.9,566.3 L574.2,566.8 L586.4,567.6 L598.6,568.3 L610.9,567.8 L623.1,568.2 L635.4,551.2 L647.6,565.4 L659.8,567.9 L672.1,565.5 L684.3,567.6" fill="none" stroke="#cea17a" stroke-width="0.6" stroke-opacity="0.22" stroke-linejoin="bevel"/>
<path d="M415.0,553.0 L427.3,564.3 L439.5,563.7 L451.8,563.6 L464.0,546.6 L476.2,563.3 L488.5,563.2 L500.7,560.0 L513.0,565.0 L525.2,564.2 L537.4,561.3 L549.7,563.7 L561.9,548.1 L574.2,563.3 L586.4,563.3 L598.6,566.0 L610.9,564.8 L623.1,547.0 L635.4,544.5 L647.6,563.4 L659.8,549.9 L672.1,564.3 L684.3,563.8" fill="none" stroke="#ddb490" stroke-width="0.6" stroke-opacity="0.22" stroke-linejoin="bevel"/>
<path d="M415.0,545.8 L427.3,564.6 L439.5,553.3 L451.8,544.2 L464.0,563.6 L476.2,563.8 L488.5,566.8 L500.7,560.9 L513.0,563.9 L525.2,564.6 L537.4,564.2 L549.7,561.8 L561.9,564.2 L574.2,564.0 L586.4,562.7 L598.6,563.0 L610.9,564.8 L623.1,563.5 L635.4,552.4 L647.6,562.8 L659.8,556.0 L672.1,564.7 L684.3,563.8" fill="none" stroke="#dcb38f" stroke-width="0.6" stroke-opacity="0.22" stroke-linejoin="bevel"/>
<path d="M415.0,565.4 L427.3,566.5 L439.5,562.2 L451.8,566.1 L464.0,562.3 L476.2,564.3 L488.5,564.0 L500.7,567.1 L513.0,565.5 L525.2,563.4 L537.4,564.3 L549.7,563.8 L561.9,562.1 L574.2,563.3 L586.4,562.3 L598.6,562.5 L610.9,562.4 L623.1,564.6 L635.4,564.9 L647.6,563.6 L659.8,552.5 L672.1,564.1 L684.3,565.8" fill="none" stroke="#d9b08b" stroke-width="0.6" stroke-opacity="0.22" stroke-linejoin="bevel"/>
<path d="M415.0,562.7 L427.3,564.1 L439.5,562.3 L451.8,564.4 L464.0,563.9 L476.2,547.9 L488.5,561.3 L500.7,561.8 L513.0,563.1 L525.2,562.4 L537.4,562.5 L549.7,564.9 L561.9,562.3 L574.2,563.2 L586.4,563.9 L598.6,562.7 L610.9,563.4 L623.1,564.0 L635.4,547.7 L647.6,562.9 L659.8,562.8 L672.1,564.4 L684.3,553.4" fill="none" stroke="#dcb490" stroke-width="0.6" stroke-opacity="0.22" stroke-linejoin="bevel"/>
<path d="M415.0,552.9 L427.3,567.4 L439.5,556.2 L451.8,568.7 L464.0,552.9 L476.2,566.2 L488.5,567.3 L500.7,554.1 L513.0,566.7 L525.2,567.9 L537.4,567.1 L549.7,568.7 L561.9,567.9 L574.2,568.6 L586.4,567.0 L598.6,549.5 L610.9,553.8 L623.1,549.1 L635.4,555.2 L647.6,565.4 L659.8,564.9 L672.1,567.3 L684.3,548.0" fill="none" stroke="#cea079" stroke-width="0.6" stroke-opacity="0.22" stroke-linejoin="bevel"/>
<path d="M415.0,564.4 L427.3,563.2 L439.5,566.8 L451.8,564.7 L464.0,564.8 L476.2,562.6 L488.5,563.1 L500.7,564.6 L513.0,564.7 L525.2,563.0 L537.4,565.6 L549.7,567.1 L561.9,565.3 L574.2,562.4 L586.4,561.4 L598.6,564.6 L610.9,546.1 L623.1,566.3 L635.4,564.9 L647.6,563.1 L659.8,563.9 L672.1,563.9 L684.3,556.4" fill="none" stroke="#dab18c" stroke-width="0.6" stroke-opacity="0.22" stroke-linejoin="bevel"/>
<path d="M415.0,553.8 L427.3,552.5 L439.5,554.0 L451.8,542.9 L464.0,532.9 L476.2,550.5 L488.5,551.0 L500.7,550.8 L513.0,550.3 L525.2,554.1 L537.4,553.2 L549.7,544.0 L561.9,553.5 L574.2,554.2 L586.4,552.9 L598.6,554.8 L610.9,551.7 L623.1,539.1 L635.4,553.5 L647.6,554.9 L659.8,536.0 L672.1,550.9 L684.3,554.9" fill="none" stroke="#d3dfac" stroke-width="0.6" stroke-opacity="0.22" stroke-linejoin="bevel"/>
<path d="M415.0,547.2 L427.3,562.3 L439.5,563.6 L451.8,564.9 L464.0,549.9 L476.2,565.7 L488.5,564.2 L500.7,563.2 L513.0,550.9 L525.2,563.7 L537.4,562.4 L549.7,563.8 L561.9,564.0 L574.2,564.5 L586.4,548.9 L598.6,566.5 L610.9,565.3 L623.1,566.8 L635.4,564.8 L647.6,564.6 L659.8,566.2 L672.1,565.2 L684.3,565.5" fill="none" stroke="#d8ad88" stroke-width="0.6" stroke-opacity="0.22" stroke-linejoin="bevel"/>
<path d="M415.0,554.1 L427.3,553.8 L439.5,553.3 L451.8,553.9 L464.0,552.5 L476.2,552.4 L488.5,553.3 L500.7,554.3 L513.0,553.0 L525.2,534.0 L537.4,552.0 L549.7,534.4 L561.9,551.9 L574.2,552.6 L586.4,552.1 L598.6,553.2 L610.9,552.6 L623.1,551.6 L635.4,551.6 L647.6,552.2 L659.8,553.4 L672.1,552.2 L684.3,552.5" fill="none" stroke="#d0e0ab" stroke-width="0.6" stroke-opacity="0.22" stroke-linejoin="bevel"/>
<path d="M415.0,567.2 L427.3,568.4 L439.5,567.4 L451.8,568.9 L464.0,563.6 L476.2,567.1 L488.5,568.9 L500.7,566.7 L513.0,567.9 L525.2,564.4 L537.4,548.6 L549.7,564.7 L561.9,565.6 L574.2,565.8 L586.4,568.0 L598.6,554.3 L610.9,567.8 L623.1,567.3 L635.4,567.1 L647.6,567.6 L659.8,568.3 L672.1,567.8 L684.3,567.1" fill="none" stroke="#d0a37c" stroke-width="0.6" stroke-opacity="0.22" stroke-linejoin="bevel"/>
<path d="M415.0,568.2 L427.3,565.6 L439.5,553.6 L451.8,566.9 L464.0,565.5 L476.2,567.2 L488.5,568.7 L500.7,565.9 L513.0,566.7 L525.2,565.8 L537.4,565.0 L549.7,565.1 L561.9,565.0 L574.2,568.0 L586.4,550.8 L598.6,565.3 L610.9,568.9 L623.1,566.3 L635.4,566.2 L647.6,565.0 L659.8,556.9 L672.1,568.8 L684.3,556.6" fill="none" stroke="#d1a47e" stroke-width="0.6" stroke-opacity="0.22" stroke-linejoin="bevel"/>
<path d="M415.0,561.2 L427.3,560.3 L439.5,561.0 L451.8,560.1 L464.0,560.3 L476.2,547.5 L488.5,560.7 L500.7,561.6 L513.0,559.2 L525.2,560.3 L537.4,562.9 L549.7,562.9 L561.9,559.2 L574.2,542.7 L586.4,561.0 L598.6,561.5 L610.9,549.9 L623.1,560.1 L635.4,561.0 L647.6,561.2 L659.8,561.8 L672.1,562.2 L684.3,561.6" fill="none" stroke="#e7c4a3" stroke-width="0.6" stroke-opacity="0.22" stroke-linejoin="bevel"/>
<path d="M415.0,565.2 L427.3,562.5 L439.5,561.2 L451.8,566.4 L464.0,563.2 L476.2,563.3 L488.5,562.4 L500.7,564.0 L513.0,561.9 L525.2,564.0 L537.4,563.9 L549.7,563.8 L561.9,563.1 L574.2,565.4 L586.4,562.8 L598.6,563.3 L610.9,564.9 L623.1,565.2 L635.4,563.4 L647.6,565.4 L659.8,553.9 L672.1,561.4 L684.3,550.7" fill="none" stroke="#deb692" stroke-width="0.6" stroke-opacity="0.22" stroke-linejoin="bevel"/>
<path d="M415.0,553.4 L427.3,552.5 L439.5,553.3 L451.8,550.9 L464.0,539.1 L476.2,552.4 L488.5,552.4 L500.7,544.0 L513.0,551.4 L525.2,553.4 L537.4,552.7 L549.7,552.6 L561.9,553.9 L574.2,553.2 L586.4,553.2 L598.6,554.5 L610.9,554.1 L623.1,552.5 L635.4,553.2 L647.6,540.3 L659.8,554.4 L672.1,554.9 L684.3,556.1" fill="none" stroke="#d7deae" stroke-width="0.6" stroke-opacity="0.22" stroke-linejoin="bevel"/>
<path d="M415.0,553.7 L427.3,553.1 L439.5,542.5 L451.8,538.7 L464.0,555.4 L476.2,543.5 L488.5,552.3 L500.7,551.3 L513.0,552.9 L525.2,550.8 L537.4,552.4 L549.7,540.0 L561.9,552.5 L574.2,534.4 L586.4,553.4 L598.6,554.3 L610.9,552.9 L623.1,535.2 L635.4,552.2 L647.6,554.1 L659.8,553.4 L672.1,553.5 L684.3,553.1" fill="none" stroke="#d3dfad" stroke-width="0.6" stroke-opacity="0.22" stroke-linejoin="bevel"/>
<path d="M415.0,554.4 L427.3,553.3 L439.5,552.9 L451.8,538.2 L464.0,538.7 L476.2,553.6 L488.5,552.0 L500.7,552.5 L513.0,555.2 L525.2,552.3 L537.4,535.8 L549.7,553.9 L561.9,552.1 L574.2,552.8 L586.4,552.7 L598.6,552.9 L610.9,553.5 L623.1,552.1 L635.4,552.9 L647.6,551.3 L659.8,544.0 L672.1,552.4 L684.3,554.5" fill="none" stroke="#d4dfad" stroke-width="0.6" stroke-opacity="0.22" stroke-linejoin="bevel"/>
<path d="M415.0,555.0 L427.3,554.1 L439.5,552.2 L451.8,543.3 L464.0,552.0 L476.2,553.1 L488.5,554.9 L500.7,554.7 L513.0,557.5 L525.2,537.1 L537.4,553.6 L549.7,554.0 L561.9,556.1 L574.2,541.5 L586.4,537.3 L598.6,555.2 L610.9,553.0 L623.1,537.7 L635.4,555.6 L647.6,554.3 L659.8,552.4 L672.1,539.1 L684.3,553.5" fill="none" stroke="#dddcb1" stroke-width="0.6" stroke-opacity="0.22" stroke-linejoin="bevel"/>
<path d="M415.0,552.6 L427.3,553.5 L439.5,553.8 L451.8,553.0 L464.0,552.3 L476.2,554.4 L488.5,554.1 L500.7,554.1 L513.0,553.3 L525.2,553.7 L537.4,534.1 L549.7,553.4 L561.9,555.3 L574.2,554.8 L586.4,553.0 L598.6,554.2 L610.9,553.1 L623.1,554.2 L635.4,553.6 L647.6,554.9 L659.8,552.4 L672.1,546.0 L684.3,552.5" fill="none" stroke="#d7deae" stroke-width="0.6" stroke-opacity="0.22" stroke-linejoin="bevel"/>
<path d="M415.0,559.2 L427.3,561.5 L439.5,558.8 L451.8,558.5 L464.0,556.1 L476.2,559.2 L488.5,558.8 L500.7,559.3 L513.0,558.9 L525.2,561.0 L537.4,556.2 L549.7,559.1 L561.9,558.4 L574.2,559.0 L586.4,557.3 L598.6,560.7 L610.9,556.0 L623.1,560.2 L635.4,559.9 L647.6,558.8 L659.8,558.1 L672.1,560.7 L684.3,559.4" fill="none" stroke="#ebcbab" stroke-width="0.6" stroke-opacity="0.22" stroke-linejoin="bevel"/>
<path d="M415.0,554.0 L427.3,554.7 L439.5,554.6 L451.8,556.9 L464.0,558.5 L476.2,556.0 L488.5,557.1 L500.7,554.4 L513.0,555.4 L525.2,555.7 L537.4,554.7 L549.7,542.3 L561.9,558.5 L574.2,557.4 L586.4,557.4 L598.6,556.6 L610.9,557.9 L623.1,556.6 L635.4,556.6 L647.6,557.6 L659.8,554.4 L672.1,557.3 L684.3,554.5" fill="none" stroke="#edd7b8" stroke-width="0.6" stroke-opacity="0.22" stroke-linejoin="bevel"/>
<path d="M415.0,563.5 L427.3,561.4 L439.5,564.1 L451.8,563.7 L464.0,563.7 L476.2,561.8 L488.5,564.4 L500.7,565.8 L513.0,562.1 L525.2,545.7 L537.4,551.5 L549.7,562.7 L561.9,564.7 L574.2,562.9 L586.4,564.5 L598.6,566.0 L610.9,564.9 L623.1,564.7 L635.4,562.8 L647.6,563.1 L659.8,549.0 L672.1,551.4 L684.3,564.9" fill="none" stroke="#deb692" stroke-width="0.6" stroke-opacity="0.22" stroke-linejoin="bevel"/>
<path d="M415.0,565.4 L427.3,566.3 L439.5,565.0 L451.8,550.0 L464.0,565.7 L476.2,552.7 L488.5,566.0 L500.7,553.1 L513.0,566.4 L525.2,567.1 L537.4,566.3 L549.7,568.6 L561.9,567.9 L574.2,567.6 L586.4,566.2 L598.6,565.2 L610.9,565.7 L623.1,564.7 L635.4,552.2 L647.6,555.4 L659.8,548.6 L672.1,564.4 L684.3,566.2" fill="none" stroke="#d3a781" stroke-width="0.6" stroke-opacity="0.22" stroke-linejoin="bevel"/>
<path d="M415.0,553.6 L427.3,553.2 L439.5,552.6 L451.8,554.9 L464.0,553.3 L476.2,552.7 L488.5,554.7 L500.7,552.9 L513.0,542.4 L525.2,553.1 L537.4,554.4 L549.7,553.2 L561.9,554.9 L574.2,552.6 L586.4,555.2 L598.6,553.9 L610.9,553.2 L623.1,555.2 L635.4,539.2 L647.6,542.7 L659.8,553.2 L672.1,554.1 L684.3,553.3" fill="none" stroke="#dbddb0" stroke-width="0.6" stroke-opacity="0.22" stroke-linejoin="bevel"/>
<path d="M415.0,564.8 L427.3,549.4 L439.5,567.2 L451.8,563.9 L464.0,565.0 L476.2,566.8 L488.5,565.4 L500.7,567.5 L513.0,565.8 L525.2,551.6 L537.4,563.3 L549.7,563.6 L561.9,563.0 L574.2,549.5 L586.4,564.8 L598.6,567.3 L610.9,562.2 L623.1,548.9 L635.4,551.3 L647.6,566.7 L659.8,566.2 L672.1,565.7 L684.3,565.1" fill="none" stroke="#d5aa84" stroke-width="0.6" stroke-opacity="0.22" stroke-linejoin="bevel"/>
<path d="M415.0,560.3 L427.3,556.5 L439.5,559.8 L451.8,558.0 L464.0,560.0 L476.2,558.9 L488.5,559.4 L500.7,560.9 L513.0,558.6 L525.2,560.7 L537.4,561.3 L549.7,559.6 L561.9,558.9 L574.2,560.0 L586.4,558.7 L598.6,562.8 L610.9,562.3 L623.1,544.8 L635.4,560.5 L647.6,556.9 L659.8,558.7 L672.1,545.8 L684.3,547.3" fill="none" stroke="#e9c8a8" stroke-width="0.6" stroke-opacity="0.22" stroke-linejoin="bevel"/>
<path d="M415.0,554.4 L427.3,553.5 L439.5,554.0 L451.8,554.6 L464.0,541.9 L476.2,553.8 L488.5,551.2 L500.7,555.9 L513.0,554.2 L525.2,553.8 L537.4,552.3 L549.7,556.2 L561.9,553.6 L574.2,546.7 L586.4,541.7 L598.6,552.7 L610.9,554.3 L623.1,553.4 L635.4,542.1 L647.6,555.5 L659.8,541.8 L672.1,552.9 L684.3,555.1" fill="none" stroke="#dedcb1" stroke-width="0.6" stroke-opacity="0.22" stroke-linejoin="bevel"/>
<path d="M415.0,544.9 L427.3,561.5 L439.5,564.3 L451.8,545.7 L464.0,560.2 L476.2,550.0 L488.5,561.6 L500.7,561.7 L513.0,553.9 L525.2,563.1 L537.4,562.3 L549.7,562.6 L561.9,560.1 L574.2,555.2 L586.4,560.0 L598.6,558.7 L610.9,563.3 L623.1,562.1 L635.4,562.5 L647.6,562.4 L659.8,562.4 L672.1,561.0 L684.3,561.0" fill="none" stroke="#e5c09d" stroke-width="0.6" stroke-opacity="0.22" stroke-linejoin="bevel"/>
<path d="M415.0,552.6 L427.3,554.2 L439.5,555.0 L451.8,554.3 L464.0,552.2 L476.2,552.2 L488.5,553.8 L500.7,557.0 L513.0,552.8 L525.2,554.0 L537.4,552.4 L549.7,553.6 L561.9,552.4 L574.2,535.3 L586.4,552.7 L598.6,552.1 L610.9,552.8 L623.1,551.4 L635.4,553.8 L647.6,553.5 L659.8,535.7 L672.1,551.8 L684.3,551.0" fill="none" stroke="#d1e0ac" stroke-width="0.6" stroke-opacity="0.22" stroke-linejoin="bevel"/>
<path d="M415.0,557.2 L427.3,544.3 L439.5,556.6 L451.8,554.6 L464.0,556.6 L476.2,557.0 L488.5,556.6 L500.7,547.8 L513.0,542.4 L525.2,557.3 L537.4,554.7 L549.7,556.5 L561.9,559.6 L574.2,556.9 L586.4,554.5 L598.6,557.3 L610.9,556.5 L623.1,559.7 L635.4,557.1 L647.6,558.3 L659.8,556.7 L672.1,540.5 L684.3,556.2" fill="none" stroke="#efd6b9" stroke-width="0.6" stroke-opacity="0.22" stroke-linejoin="bevel"/>
<path d="M415.0,557.1 L427.3,555.6 L439.5,545.2 L451.8,558.2 L464.0,557.4 L476.2,556.5 L488.5,558.1 L500.7,555.6 L513.0,547.8 L525.2,556.4 L537.4,557.1 L549.7,556.0 L561.9,555.4 L574.2,557.2 L586.4,545.8 L598.6,545.3 L610.9,537.9 L623.1,555.6 L635.4,557.1 L647.6,557.0 L659.8,557.7 L672.1,557.7 L684.3,557.5" fill="none" stroke="#efd4b7" stroke-width="0.6" stroke-opacity="0.22" stroke-linejoin="bevel"/>
<path d="M415.0,571.3 L427.3,574.0 L439.5,571.0 L451.8,572.1 L464.0,573.4 L476.2,572.4 L488.5,570.0 L500.7,572.4 L513.0,572.4 L525.2,572.9 L537.4,572.9 L549.7,573.2 L561.9,573.6 L574.2,572.7 L586.4,573.7 L598.6,572.0 L610.9,570.0 L623.1,570.4 L635.4,570.7 L647.6,576.6 L659.8,575.5 L672.1,573.7 L684.3,572.5" fill="none" stroke="#ac7951" stroke-width="0.6" stroke-opacity="0.2" stroke-linejoin="bevel"/>
<path d="M415.0,568.3 L427.3,570.1 L439.5,569.2 L451.8,569.5 L464.0,570.9 L476.2,570.4 L488.5,571.3 L500.7,570.0 L513.0,568.7 L525.2,571.8 L537.4,569.7 L549.7,572.1 L561.9,569.3 L574.2,571.4 L586.4,570.9 L598.6,569.4 L610.9,570.0 L623.1,570.2 L635.4,569.2 L647.6,569.2 L659.8,572.3 L672.1,571.0 L684.3,569.7" fill="none" stroke="#bd8c64" stroke-width="0.6" stroke-opacity="0.2" stroke-linejoin="bevel"/>
<path d="M415.0,573.5 L427.3,574.0 L439.5,573.0 L451.8,573.8 L464.0,571.4 L476.2,572.7 L488.5,571.8 L500.7,570.9 L513.0,573.1 L525.2,572.3 L537.4,570.6 L549.7,574.4 L561.9,573.9 L574.2,574.2 L586.4,571.6 L598.6,571.5 L610.9,575.5 L623.1,572.6 L635.4,574.2 L647.6,574.1 L659.8,572.5 L672.1,574.2 L684.3,573.4" fill="none" stroke="#ac7a52" stroke-width="0.6" stroke-opacity="0.2" stroke-linejoin="bevel"/>
<path d="M415.0,571.2 L427.3,569.1 L439.5,571.8 L451.8,569.4 L464.0,571.1 L476.2,569.1 L488.5,569.5 L500.7,569.2 L513.0,568.6 L525.2,569.7 L537.4,570.4 L549.7,569.6 L561.9,570.3 L574.2,571.4 L586.4,569.4 L598.6,568.9 L610.9,571.0 L623.1,571.0 L635.4,569.1 L647.6,570.9 L659.8,569.9 L672.1,567.5 L684.3,570.1" fill="none" stroke="#bd8d65" stroke-width="0.6" stroke-opacity="0.2" stroke-linejoin="bevel"/>
<path d="M415.0,570.3 L427.3,570.3 L439.5,570.6 L451.8,570.7 L464.0,571.4 L476.2,568.4 L488.5,571.3 L500.7,570.9 L513.0,569.0 L525.2,569.6 L537.4,570.6 L549.7,567.2 L561.9,570.5 L574.2,572.4 L586.4,568.6 L598.6,569.9 L610.9,571.3 L623.1,570.0 L635.4,569.1 L647.6,571.6 L659.8,570.9 L672.1,569.6 L684.3,571.4" fill="none" stroke="#be8e66" stroke-width="0.6" stroke-opacity="0.2" stroke-linejoin="bevel"/>
<path d="M415.0,572.1 L427.3,574.1 L439.5,575.1 L451.8,575.5 L464.0,572.8 L476.2,574.4 L488.5,575.4 L500.7,574.4 L513.0,574.1 L525.2,573.7 L537.4,573.5 L549.7,574.8 L561.9,573.5 L574.2,574.9 L586.4,574.4 L598.6,574.7 L610.9,574.8 L623.1,575.1 L635.4,574.2 L647.6,574.0 L659.8,572.8 L672.1,572.3 L684.3,572.7" fill="none" stroke="#a6744c" stroke-width="0.6" stroke-opacity="0.2" stroke-linejoin="bevel"/>
<path d="M415.0,569.4 L427.3,566.5 L439.5,566.7 L451.8,566.6 L464.0,568.2 L476.2,566.6 L488.5,567.7 L500.7,567.2 L513.0,567.2 L525.2,566.0 L537.4,568.7 L549.7,566.9 L561.9,565.2 L574.2,568.1 L586.4,567.5 L598.6,569.4 L610.9,568.6 L623.1,569.2 L635.4,565.5 L647.6,567.3 L659.8,568.8 L672.1,567.8 L684.3,567.0" fill="none" stroke="#cda079" stroke-width="0.6" stroke-opacity="0.2" stroke-linejoin="bevel"/>
<path d="M415.0,573.6 L427.3,574.3 L439.5,572.5 L451.8,574.4 L464.0,574.1 L476.2,573.4 L488.5,573.2 L500.7,573.6 L513.0,573.1 L525.2,572.5 L537.4,574.0 L549.7,573.0 L561.9,571.6 L574.2,574.8 L586.4,572.3 L598.6,575.6 L610.9,575.0 L623.1,574.8 L635.4,574.1 L647.6,574.8 L659.8,574.2 L672.1,574.7 L684.3,575.8" fill="none" stroke="#a8764e" stroke-width="0.6" stroke-opacity="0.2" stroke-linejoin="bevel"/>
<path d="M415.0,573.1 L427.3,575.0 L439.5,574.1 L451.8,573.3 L464.0,572.9 L476.2,574.9 L488.5,573.8 L500.7,573.2 L513.0,574.0 L525.2,574.3 L537.4,572.6 L549.7,573.6 L561.9,573.2 L574.2,572.4 L586.4,573.6 L598.6,575.4 L610.9,575.2 L623.1,575.0 L635.4,573.4 L647.6,573.6 L659.8,572.0 L672.1,574.8 L684.3,573.6" fill="none" stroke="#a8754d" stroke-width="0.6" stroke-opacity="0.2" stroke-linejoin="bevel"/>
<path d="M415.0,569.4 L427.3,568.0 L439.5,566.9 L451.8,564.8 L464.0,567.9 L476.2,569.4 L488.5,568.8 L500.7,565.5 L513.0,568.3 L525.2,568.8 L537.4,567.3 L549.7,569.1 L561.9,564.8 L574.2,566.3 L586.4,568.7 L598.6,570.8 L610.9,565.9 L623.1,567.1 L635.4,568.3 L647.6,566.8 L659.8,568.5 L672.1,568.4 L684.3,566.2" fill="none" stroke="#cb9d76" stroke-width="0.6" stroke-opacity="0.2" stroke-linejoin="bevel"/>
<path d="M415.0,569.8 L427.3,574.1 L439.5,572.0 L451.8,570.5 L464.0,571.8 L476.2,572.1 L488.5,571.2 L500.7,571.2 L513.0,572.0 L525.2,575.1 L537.4,571.2 L549.7,571.8 L561.9,571.4 L574.2,572.1 L586.4,571.4 L598.6,572.9 L610.9,571.7 L623.1,569.3 L635.4,570.1 L647.6,573.8 L659.8,573.2 L672.1,572.5 L684.3,572.4" fill="none" stroke="#b28159" stroke-width="0.6" stroke-opacity="0.2" stroke-linejoin="bevel"/>
<path d="M415.0,572.3 L427.3,572.5 L439.5,573.0 L451.8,573.1 L464.0,571.6 L476.2,569.5 L488.5,571.9 L500.7,571.0 L513.0,570.3 L525.2,572.0 L537.4,572.6 L549.7,571.2 L561.9,572.6 L574.2,569.7 L586.4,573.7 L598.6,570.7 L610.9,573.2 L623.1,571.2 L635.4,572.5 L647.6,571.2 L659.8,573.6 L672.1,572.4 L684.3,571.9" fill="none" stroke="#b4825a" stroke-width="0.6" stroke-opacity="0.2" stroke-linejoin="bevel"/>
<path d="M415.0,571.2 L427.3,569.3 L439.5,570.7 L451.8,571.3 L464.0,572.4 L476.2,570.8 L488.5,569.2 L500.7,571.8 L513.0,569.9 L525.2,568.6 L537.4,568.1 L549.7,571.2 L561.9,569.6 L574.2,571.4 L586.4,571.1 L598.6,572.0 L610.9,571.3 L623.1,572.0 L635.4,571.0 L647.6,572.2 L659.8,570.4 L672.1,570.0 L684.3,569.4" fill="none" stroke="#bb8a62" stroke-width="0.6" stroke-opacity="0.2" stroke-linejoin="bevel"/>
<path d="M415.0,572.4 L427.3,571.0 L439.5,572.5 L451.8,570.4 L464.0,570.9 L476.2,571.1 L488.5,569.5 L500.7,570.9 L513.0,571.4 L525.2,571.1 L537.4,569.6 L549.7,567.9 L561.9,569.8 L574.2,569.9 L586.4,570.3 L598.6,570.2 L610.9,571.9 L623.1,570.4 L635.4,570.3 L647.6,571.7 L659.8,569.7 L672.1,570.5 L684.3,571.5" fill="none" stroke="#bd8c64" stroke-width="0.6" stroke-opacity="0.2" stroke-linejoin="bevel"/>
<path d="M415.0,568.5 L427.3,568.7 L439.5,569.1 L451.8,569.3 L464.0,569.4 L476.2,569.4 L488.5,569.9 L500.7,567.7 L513.0,571.6 L525.2,569.3 L537.4,567.5 L549.7,567.9 L561.9,569.5 L574.2,568.6 L586.4,570.3 L598.6,570.9 L610.9,569.6 L623.1,567.8 L635.4,569.2 L647.6,571.4 L659.8,568.1 L672.1,569.4 L684.3,569.2" fill="none" stroke="#c6966e" stroke-width="0.6" stroke-opacity="0.2" stroke-linejoin="bevel"/>
<path d="M415.0,572.2 L427.3,572.2 L439.5,572.3 L451.8,569.6 L464.0,572.5 L476.2,568.3 L488.5,572.1 L500.7,571.1 L513.0,569.8 L525.2,571.7 L537.4,570.5 L549.7,571.8 L561.9,569.8 L574.2,572.1 L586.4,574.2 L598.6,569.6 L610.9,569.3 L623.1,570.8 L635.4,570.5 L647.6,570.3 L659.8,573.9 L672.1,572.0 L684.3,571.6" fill="none" stroke="#b7865e" stroke-width="0.6" stroke-opacity="0.2" stroke-linejoin="bevel"/>
<path d="M415.0,573.1 L427.3,573.5 L439.5,574.0 L451.8,574.1 L464.0,572.3 L476.2,572.9 L488.5,572.9 L500.7,572.9 L513.0,573.0 L525.2,575.6 L537.4,572.9 L549.7,572.6 L561.9,574.3 L574.2,574.5 L586.4,574.9 L598.6,573.3 L610.9,570.3 L623.1,570.9 L635.4,573.0 L647.6,575.4 L659.8,573.6 L672.1,574.4 L684.3,572.5" fill="none" stroke="#ab7951" stroke-width="0.6" stroke-opacity="0.2" stroke-linejoin="bevel"/>
<path d="M415.0,573.4 L427.3,571.9 L439.5,574.8 L451.8,572.3 L464.0,569.2 L476.2,572.0 L488.5,572.0 L500.7,569.8 L513.0,572.6 L525.2,570.8 L537.4,572.0 L549.7,571.2 L561.9,570.5 L574.2,572.3 L586.4,572.3 L598.6,572.3 L610.9,572.9 L623.1,571.2 L635.4,571.5 L647.6,571.8 L659.8,570.9 L672.1,573.1 L684.3,572.8" fill="none" stroke="#b17f57" stroke-width="0.6" stroke-opacity="0.2" stroke-linejoin="bevel"/>
<path d="M415.0,572.6 L427.3,570.7 L439.5,571.9 L451.8,571.4 L464.0,569.4 L476.2,569.8 L488.5,570.4 L500.7,571.0 L513.0,570.6 L525.2,572.0 L537.4,572.2 L549.7,570.2 L561.9,571.3 L574.2,572.4 L586.4,574.0 L598.6,571.1 L610.9,572.4 L623.1,570.1 L635.4,569.6 L647.6,573.3 L659.8,571.7 L672.1,571.4 L684.3,569.5" fill="none" stroke="#b7865e" stroke-width="0.6" stroke-opacity="0.2" stroke-linejoin="bevel"/>
<path d="M415.0,568.1 L427.3,568.1 L439.5,568.3 L451.8,569.4 L464.0,568.9 L476.2,567.9 L488.5,568.3 L500.7,569.9 L513.0,568.8 L525.2,567.7 L537.4,568.1 L549.7,570.9 L561.9,568.6 L574.2,569.2 L586.4,570.8 L598.6,568.4 L610.9,567.8 L623.1,570.9 L635.4,569.7 L647.6,569.5 L659.8,568.3 L672.1,568.4 L684.3,568.2" fill="none" stroke="#c6966e" stroke-width="0.6" stroke-opacity="0.2" stroke-linejoin="bevel"/>
<path d="M415.0,572.5 L427.3,572.5 L439.5,571.7 L451.8,572.8 L464.0,571.7 L476.2,573.2 L488.5,570.5 L500.7,573.1 L513.0,574.6 L525.2,574.0 L537.4,573.1 L549.7,573.1 L561.9,571.9 L574.2,572.5 L586.4,571.5 L598.6,573.0 L610.9,573.9 L623.1,569.6 L635.4,571.8 L647.6,574.1 L659.8,572.8 L672.1,571.8 L684.3,572.0" fill="none" stroke="#b17f57" stroke-width="0.6" stroke-opacity="0.2" stroke-linejoin="bevel"/>
<path d="M415.0,573.7 L427.3,577.7 L439.5,572.2 L451.8,572.0 L464.0,575.3 L476.2,572.8 L488.5,573.9 L500.7,574.9 L513.0,573.6 L525.2,573.0 L537.4,576.6 L549.7,574.0 L561.9,575.1 L574.2,572.1 L586.4,576.5 L598.6,574.3 L610.9,574.9 L623.1,572.3 L635.4,574.7 L647.6,575.6 L659.8,574.6 L672.1,573.6 L684.3,573.5" fill="none" stroke="#a5724a" stroke-width="0.6" stroke-opacity="0.2" stroke-linejoin="bevel"/>
<path d="M415.0,567.1 L427.3,568.7 L439.5,568.8 L451.8,566.2 L464.0,565.0 L476.2,567.5 L488.5,567.9 L500.7,566.3 L513.0,565.9 L525.2,567.1 L537.4,568.6 L549.7,568.3 L561.9,565.3 L574.2,566.7 L586.4,567.2 L598.6,568.1 L610.9,568.3 L623.1,569.8 L635.4,568.1 L647.6,566.2 L659.8,568.6 L672.1,565.3 L684.3,566.6" fill="none" stroke="#cda079" stroke-width="0.6" stroke-opacity="0.2" stroke-linejoin="bevel"/>
<path d="M415.0,572.0 L427.3,571.1 L439.5,569.2 L451.8,574.4 L464.0,572.9 L476.2,573.8 L488.5,571.7 L500.7,572.2 L513.0,572.0 L525.2,570.0 L537.4,571.5 L549.7,571.5 L561.9,573.9 L574.2,569.6 L586.4,573.1 L598.6,573.2 L610.9,572.0 L623.1,573.5 L635.4,571.3 L647.6,571.8 L659.8,569.1 L672.1,571.4 L684.3,573.1" fill="none" stroke="#b6845c" stroke-width="0.6" stroke-opacity="0.2" stroke-linejoin="bevel"/>
<path d="M415.0,567.4 L427.3,568.7 L439.5,570.7 L451.8,567.1 L464.0,568.4 L476.2,567.5 L488.5,566.5 L500.7,567.5 L513.0,569.4 L525.2,568.6 L537.4,568.7 L549.7,569.0 L561.9,566.6 L574.2,568.7 L586.4,566.8 L598.6,567.3 L610.9,566.9 L623.1,568.0 L635.4,566.5 L647.6,566.5 L659.8,567.4 L672.1,567.8 L684.3,566.8" fill="none" stroke="#cc9e77" stroke-width="0.6" stroke-opacity="0.2" stroke-linejoin="bevel"/>
<path d="M415.0,575.3 L427.3,575.9 L439.5,573.7 L451.8,575.6 L464.0,572.2 L476.2,575.5 L488.5,574.5 L500.7,572.7 L513.0,574.1 L525.2,573.5 L537.4,574.4 L549.7,574.4 L561.9,575.0 L574.2,576.5 L586.4,576.1 L598.6,575.3 L610.9,575.9 L623.1,576.7 L635.4,574.1 L647.6,573.3 L659.8,577.5 L672.1,573.0 L684.3,575.4" fill="none" stroke="#9d6a42" stroke-width="0.6" stroke-opacity="0.2" stroke-linejoin="bevel"/>
<path d="M415.0,569.2 L427.3,568.2 L439.5,571.4 L451.8,570.5 L464.0,570.1 L476.2,568.8 L488.5,569.9 L500.7,569.4 L513.0,570.4 L525.2,570.4 L537.4,568.9 L549.7,567.4 L561.9,566.7 L574.2,569.3 L586.4,569.4 L598.6,570.0 L610.9,572.5 L623.1,568.7 L635.4,568.7 L647.6,570.6 L659.8,568.3 L672.1,570.2 L684.3,569.2" fill="none" stroke="#c4946c" stroke-width="0.6" stroke-opacity="0.2" stroke-linejoin="bevel"/>
<path d="M415.0,569.8 L427.3,568.6 L439.5,568.7 L451.8,570.8 L464.0,567.6 L476.2,571.2 L488.5,567.1 L500.7,571.0 L513.0,569.5 L525.2,570.6 L537.4,571.8 L549.7,569.1 L561.9,567.9 L574.2,569.8 L586.4,569.9 L598.6,570.6 L610.9,570.2 L623.1,570.4 L635.4,570.2 L647.6,571.1 L659.8,569.7 L672.1,567.8 L684.3,569.7" fill="none" stroke="#c5956d" stroke-width="0.6" stroke-opacity="0.2" stroke-linejoin="bevel"/>
<path d="M415.0,573.4 L427.3,571.2 L439.5,573.1 L451.8,575.0 L464.0,573.5 L476.2,572.0 L488.5,575.2 L500.7,572.0 L513.0,575.6 L525.2,571.0 L537.4,573.9 L549.7,573.3 L561.9,574.2 L574.2,573.2 L586.4,572.2 L598.6,572.8 L610.9,575.0 L623.1,573.7 L635.4,572.7 L647.6,572.5 L659.8,573.1 L672.1,574.7 L684.3,572.9" fill="none" stroke="#ab7850" stroke-width="0.6" stroke-opacity="0.2" stroke-linejoin="bevel"/>
<path d="M415.0,572.1 L427.3,573.6 L439.5,570.7 L451.8,571.5 L464.0,570.6 L476.2,573.0 L488.5,572.0 L500.7,572.5 L513.0,569.8 L525.2,574.1 L537.4,574.0 L549.7,572.6 L561.9,573.5 L574.2,573.0 L586.4,570.7 L598.6,572.7 L610.9,571.0 L623.1,572.2 L635.4,573.5 L647.6,570.3 L659.8,572.1 L672.1,573.6 L684.3,573.4" fill="none" stroke="#b07e56" stroke-width="0.6" stroke-opacity="0.2" stroke-linejoin="bevel"/>
<path d="M415.0,566.3 L427.3,568.2 L439.5,566.1 L451.8,569.6 L464.0,568.3 L476.2,567.9 L488.5,567.3 L500.7,568.2 L513.0,565.1 L525.2,567.3 L537.4,566.1 L549.7,568.3 L561.9,568.8 L574.2,567.8 L586.4,566.5 L598.6,566.3 L610.9,567.4 L623.1,567.1 L635.4,568.5 L647.6,565.5 L659.8,566.7 L672.1,566.7 L684.3,566.0" fill="none" stroke="#cc9e77" stroke-width="0.6" stroke-opacity="0.2" stroke-linejoin="bevel"/>
<path d="M415.0,571.2 L427.3,574.7 L439.5,574.1 L451.8,575.6 L464.0,571.9 L476.2,573.9 L488.5,573.2 L500.7,574.6 L513.0,574.6 L525.2,573.2 L537.4,574.9 L549.7,573.7 L561.9,571.3 L574.2,572.2 L586.4,572.9 L598.6,571.4 L610.9,573.6 L623.1,575.0 L635.4,572.2 L647.6,574.6 L659.8,575.6 L672.1,574.5 L684.3,572.6" fill="none" stroke="#a9764e" stroke-width="0.6" stroke-opacity="0.2" stroke-linejoin="bevel"/>
<path d="M415.0,568.1 L427.3,566.4 L439.5,570.9 L451.8,570.9 L464.0,570.8 L476.2,570.1 L488.5,569.0 L500.7,569.6 L513.0,571.6 L525.2,570.3 L537.4,571.0 L549.7,569.1 L561.9,566.4 L574.2,569.1 L586.4,567.6 L598.6,569.5 L610.9,570.7 L623.1,569.4 L635.4,570.7 L647.6,570.9 L659.8,569.4 L672.1,568.0 L684.3,569.1" fill="none" stroke="#c4946c" stroke-width="0.6" stroke-opacity="0.2" stroke-linejoin="bevel"/>
<path d="M415.0,570.5 L427.3,570.3 L439.5,571.5 L451.8,572.1 L464.0,569.1 L476.2,567.3 L488.5,570.4 L500.7,569.6 L513.0,567.5 L525.2,568.7 L537.4,570.7 L549.7,568.5 L561.9,570.2 L574.2,570.0 L586.4,566.5 L598.6,570.2 L610.9,570.8 L623.1,569.4 L635.4,566.8 L647.6,567.7 L659.8,568.5 L672.1,568.3 L684.3,568.8" fill="none" stroke="#c5956d" stroke-width="0.6" stroke-opacity="0.2" stroke-linejoin="bevel"/>
<path d="M415.0,570.4 L427.3,572.3 L439.5,568.9 L451.8,570.5 L464.0,570.9 L476.2,570.8 L488.5,569.5 L500.7,567.5 L513.0,570.5 L525.2,570.5 L537.4,569.5 L549.7,571.5 L561.9,570.9 L574.2,571.6 L586.4,571.0 L598.6,568.8 L610.9,571.2 L623.1,568.2 L635.4,567.0 L647.6,568.9 L659.8,571.5 L672.1,569.4 L684.3,567.7" fill="none" stroke="#c19169" stroke-width="0.6" stroke-opacity="0.2" stroke-linejoin="bevel"/>
<path d="M415.0,566.4 L427.3,567.0 L439.5,568.8 L451.8,569.9 L464.0,566.9 L476.2,568.3 L488.5,566.6 L500.7,566.4 L513.0,568.9 L525.2,566.4 L537.4,567.2 L549.7,567.2 L561.9,567.2 L574.2,564.9 L586.4,568.1 L598.6,568.4 L610.9,569.0 L623.1,567.8 L635.4,568.1 L647.6,569.2 L659.8,566.9 L672.1,567.3 L684.3,566.9" fill="none" stroke="#cda079" stroke-width="0.6" stroke-opacity="0.2" stroke-linejoin="bevel"/>
<path d="M415.0,570.4 L427.3,572.4 L439.5,572.5 L451.8,570.6 L464.0,573.7 L476.2,573.6 L488.5,572.2 L500.7,572.4 L513.0,573.1 L525.2,571.1 L537.4,571.7 L549.7,572.9 L561.9,571.5 L574.2,572.5 L586.4,572.7 L598.6,572.4 L610.9,573.5 L623.1,573.1 L635.4,570.2 L647.6,571.6 L659.8,572.0 L672.1,572.2 L684.3,574.4" fill="none" stroke="#b28159" stroke-width="0.6" stroke-opacity="0.2" stroke-linejoin="bevel"/>
<path d="M415.0,565.8 L427.3,569.3 L439.5,570.0 L451.8,569.4 L464.0,569.7 L476.2,566.7 L488.5,571.0 L500.7,568.9 L513.0,568.2 L525.2,569.1 L537.4,568.6 L549.7,569.5 L561.9,568.9 L574.2,567.9 L586.4,568.8 L598.6,571.8 L610.9,569.6 L623.1,566.9 L635.4,568.3 L647.6,568.4 L659.8,571.5 L672.1,568.7 L684.3,569.5" fill="none" stroke="#c89971" stroke-width="0.6" stroke-opacity="0.2" stroke-linejoin="bevel"/>
<path d="M415.0,575.1 L427.3,573.9 L439.5,574.1 L451.8,571.5 L464.0,573.4 L476.2,577.0 L488.5,575.1 L500.7,573.1 L513.0,573.3 L525.2,576.0 L537.4,574.8 L549.7,574.5 L561.9,574.0 L574.2,574.5 L586.4,575.4 L598.6,573.8 L610.9,572.4 L623.1,574.3 L635.4,573.4 L647.6,574.1 L659.8,573.4 L672.1,573.6 L684.3,574.4" fill="none" stroke="#a5724a" stroke-width="0.6" stroke-opacity="0.2" stroke-linejoin="bevel"/>
<path d="M415.0,575.7 L427.3,574.5 L439.5,573.1 L451.8,575.7 L464.0,574.6 L476.2,575.0 L488.5,572.8 L500.7,573.9 L513.0,574.4 L525.2,573.0 L537.4,576.4 L549.7,573.4 L561.9,576.2 L574.2,572.9 L586.4,572.9 L598.6,574.6 L610.9,574.4 L623.1,574.6 L635.4,573.5 L647.6,573.7 L659.8,572.5 L672.1,574.1 L684.3,574.6" fill="none" stroke="#a26f47" stroke-width="0.6" stroke-opacity="0.2" stroke-linejoin="bevel"/>
<path d="M415.0,568.3 L427.3,571.8 L439.5,567.8 L451.8,570.8 L464.0,571.1 L476.2,570.5 L488.5,567.2 L500.7,568.9 L513.0,571.8 L525.2,570.2 L537.4,567.7 L549.7,570.2 L561.9,570.4 L574.2,572.6 L586.4,571.6 L598.6,571.0 L610.9,568.8 L623.1,569.6 L635.4,568.1 L647.6,567.9 L659.8,570.8 L672.1,569.7 L684.3,572.2" fill="none" stroke="#bf8f67" stroke-width="0.6" stroke-opacity="0.2" stroke-linejoin="bevel"/>
<path d="M415.0,567.8 L427.3,567.6 L439.5,565.8 L451.8,567.4 L464.0,567.9 L476.2,567.3 L488.5,566.6 L500.7,567.7 L513.0,567.4 L525.2,568.0 L537.4,567.5 L549.7,567.7 L561.9,568.4 L574.2,569.4 L586.4,568.9 L598.6,566.2 L610.9,568.8 L623.1,567.0 L635.4,567.3 L647.6,564.8 L659.8,566.8 L672.1,567.7 L684.3,568.1" fill="none" stroke="#cc9e77" stroke-width="0.6" stroke-opacity="0.2" stroke-linejoin="bevel"/>
<path d="M415.0,571.9 L427.3,572.1 L439.5,573.0 L451.8,574.9 L464.0,574.4 L476.2,574.6 L488.5,573.9 L500.7,574.2 L513.0,572.3 L525.2,574.7 L537.4,573.1 L549.7,572.4 L561.9,574.1 L574.2,572.6 L586.4,575.8 L598.6,574.5 L610.9,576.7 L623.1,573.0 L635.4,573.4 L647.6,574.3 L659.8,571.3 L672.1,572.6 L684.3,573.7" fill="none" stroke="#aa7850" stroke-width="0.6" stroke-opacity="0.2" stroke-linejoin="bevel"/>
<path d="M415.0,573.1 L427.3,573.2 L439.5,572.6 L451.8,575.5 L464.0,571.6 L476.2,575.7 L488.5,572.2 L500.7,573.3 L513.0,574.3 L525.2,572.7 L537.4,573.5 L549.7,572.8 L561.9,573.8 L574.2,573.9 L586.4,573.4 L598.6,574.5 L610.9,572.2 L623.1,572.9 L635.4,576.2 L647.6,572.0 L659.8,572.5 L672.1,573.1 L684.3,573.8" fill="none" stroke="#a8754d" stroke-width="0.6" stroke-opacity="0.2" stroke-linejoin="bevel"/>
<path d="M415.0,571.0 L427.3,569.2 L439.5,570.5 L451.8,571.7 L464.0,571.9 L476.2,570.0 L488.5,568.7 L500.7,569.0 L513.0,568.6 L525.2,571.9 L537.4,571.6 L549.7,571.6 L561.9,568.6 L574.2,567.7 L586.4,570.9 L598.6,571.9 L610.9,570.2 L623.1,570.7 L635.4,572.2 L647.6,571.0 L659.8,569.6 L672.1,569.2 L684.3,571.2" fill="none" stroke="#b98860" stroke-width="0.6" stroke-opacity="0.2" stroke-linejoin="bevel"/>
<path d="M415.0,569.7 L427.3,567.3 L439.5,566.5 L451.8,566.1 L464.0,568.5 L476.2,566.5 L488.5,565.8 L500.7,570.2 L513.0,567.5 L525.2,567.5 L537.4,567.7 L549.7,566.6 L561.9,570.2 L574.2,568.0 L586.4,567.6 L598.6,570.7 L610.9,570.3 L623.1,567.2 L635.4,567.0 L647.6,568.8 L659.8,568.6 L672.1,567.7 L684.3,568.7" fill="none" stroke="#ca9c75" stroke-width="0.6" stroke-opacity="0.2" stroke-linejoin="bevel"/>
<path d="M415.0,573.2 L427.3,573.4 L439.5,574.2 L451.8,573.5 L464.0,573.2 L476.2,574.0 L488.5,574.7 L500.7,576.2 L513.0,573.5 L525.2,573.0 L537.4,575.1 L549.7,572.0 L561.9,572.8 L574.2,574.9 L586.4,573.7 L598.6,573.6 L610.9,575.7 L623.1,574.1 L635.4,571.6 L647.6,573.5 L659.8,571.3 L672.1,572.8 L684.3,574.3" fill="none" stroke="#a7754d" stroke-width="0.6" stroke-opacity="0.2" stroke-linejoin="bevel"/>
<path d="M415.0,569.5 L427.3,570.7 L439.5,570.5 L451.8,567.6 L464.0,570.7 L476.2,569.2 L488.5,570.5 L500.7,571.8 L513.0,572.6 L525.2,570.8 L537.4,568.6 L549.7,571.5 L561.9,570.5 L574.2,569.5 L586.4,568.9 L598.6,570.2 L610.9,569.3 L623.1,570.2 L635.4,570.9 L647.6,569.9 L659.8,568.0 L672.1,570.0 L684.3,568.8" fill="none" stroke="#bf8e66" stroke-width="0.6" stroke-opacity="0.2" stroke-linejoin="bevel"/>
<path d="M415.0,570.9 L427.3,569.1 L439.5,568.6 L451.8,570.9 L464.0,572.7 L476.2,570.0 L488.5,569.4 L500.7,570.3 L513.0,568.6 L525.2,570.3 L537.4,571.4 L549.7,569.3 L561.9,569.6 L574.2,573.0 L586.4,571.6 L598.6,571.2 L610.9,570.9 L623.1,569.3 L635.4,568.6 L647.6,571.3 L659.8,570.9 L672.1,567.0 L684.3,571.2" fill="none" stroke="#bf8f67" stroke-width="0.6" stroke-opacity="0.2" stroke-linejoin="bevel"/>
<path d="M415.0,575.2 L427.3,574.2 L439.5,575.3 L451.8,572.4 L464.0,576.1 L476.2,571.9 L488.5,574.5 L500.7,573.7 L513.0,571.3 L525.2,575.9 L537.4,572.5 L549.7,573.4 L561.9,572.2 L574.2,575.0 L586.4,574.4 L598.6,575.1 L610.9,573.6 L623.1,574.2 L635.4,573.8 L647.6,573.5 L659.8,574.5 L672.1,574.7 L684.3,574.4" fill="none" stroke="#a5724a" stroke-width="0.6" stroke-opacity="0.2" stroke-linejoin="bevel"/>
<path d="M415.0,568.8 L427.3,569.8 L439.5,570.2 L451.8,570.6 L464.0,571.3 L476.2,570.1 L488.5,570.3 L500.7,569.2 L513.0,570.1 L525.2,570.2 L537.4,568.7 L549.7,571.7 L561.9,569.0 L574.2,569.2 L586.4,571.3 L598.6,571.8 L610.9,569.0 L623.1,569.3 L635.4,569.7 L647.6,570.3 L659.8,570.1 L672.1,570.5 L684.3,570.6" fill="none" stroke="#c08f67" stroke-width="0.6" stroke-opacity="0.2" stroke-linejoin="bevel"/>
<path d="M415.0,577.1 L427.3,573.0 L439.5,574.1 L451.8,574.9 L464.0,575.7 L476.2,575.2 L488.5,576.7 L500.7,574.4 L513.0,576.7 L525.2,576.7 L537.4,573.0 L549.7,576.7 L561.9,573.9 L574.2,576.3 L586.4,574.6 L598.6,574.9 L610.9,576.9 L623.1,575.3 L635.4,573.9 L647.6,576.4 L659.8,575.9 L672.1,574.6 L684.3,577.5" fill="none" stroke="#9c6941" stroke-width="0.6" stroke-opacity="0.2" stroke-linejoin="bevel"/>
<path d="M415.0,570.8 L427.3,569.8 L439.5,567.9 L451.8,570.5 L464.0,567.4 L476.2,567.4 L488.5,569.0 L500.7,568.7 L513.0,568.1 L525.2,569.1 L537.4,568.0 L549.7,569.5 L561.9,570.4 L574.2,568.7 L586.4,570.7 L598.6,568.3 L610.9,572.1 L623.1,568.0 L635.4,569.7 L647.6,569.4 L659.8,569.8 L672.1,567.7 L684.3,569.1" fill="none" stroke="#c7976f" stroke-width="0.6" stroke-opacity="0.2" stroke-linejoin="bevel"/>
<path d="M415.0,572.1 L427.3,575.3 L439.5,572.1 L451.8,573.2 L464.0,573.4 L476.2,571.5 L488.5,572.6 L500.7,574.1 L513.0,571.4 L525.2,573.2 L537.4,574.1 L549.7,573.2 L561.9,572.8 L574.2,574.3 L586.4,573.2 L598.6,573.1 L610.9,574.0 L623.1,571.5 L635.4,572.9 L647.6,576.4 L659.8,573.1 L672.1,573.3 L684.3,571.8" fill="none" stroke="#aa7850" stroke-width="0.6" stroke-opacity="0.2" stroke-linejoin="bevel"/>
<path d="M415.0,571.6 L427.3,571.8 L439.5,573.8 L451.8,569.8 L464.0,574.2 L476.2,570.8 L488.5,572.3 L500.7,571.5 L513.0,571.9 L525.2,571.6 L537.4,571.1 L549.7,572.2 L561.9,574.6 L574.2,573.3 L586.4,570.8 L598.6,570.0 L610.9,571.3 L623.1,574.0 L635.4,569.7 L647.6,570.6 L659.8,570.8 L672.1,571.8 L684.3,574.5" fill="none" stroke="#b28058" stroke-width="0.6" stroke-opacity="0.2" stroke-linejoin="bevel"/>
<path d="M415.0,571.9 L427.3,573.1 L439.5,574.1 L451.8,574.1 L464.0,573.8 L476.2,576.3 L488.5,574.3 L500.7,574.5 L513.0,573.9 L525.2,573.5 L537.4,572.0 L549.7,574.1 L561.9,573.3 L574.2,573.6 L586.4,572.2 L598.6,575.8 L610.9,572.9 L623.1,571.5 L635.4,573.9 L647.6,572.0 L659.8,574.1 L672.1,570.1 L684.3,573.6" fill="none" stroke="#a8764e" stroke-width="0.6" stroke-opacity="0.2" stroke-linejoin="bevel"/>
<path d="M415.0,574.4 L427.3,572.7 L439.5,573.3 L451.8,573.6 L464.0,574.9 L476.2,574.5 L488.5,571.7 L500.7,573.3 L513.0,574.9 L525.2,571.6 L537.4,572.2 L549.7,570.9 L561.9,570.2 L574.2,574.8 L586.4,574.2 L598.6,573.2 L610.9,572.9 L623.1,573.7 L635.4,573.1 L647.6,572.2 L659.8,574.2 L672.1,572.5 L684.3,572.2" fill="none" stroke="#aa7850" stroke-width="0.6" stroke-opacity="0.2" stroke-linejoin="bevel"/>
<path d="M415.0,572.7 L427.3,572.7 L439.5,575.4 L451.8,575.4 L464.0,574.1 L476.2,571.0 L488.5,574.2 L500.7,573.3 L513.0,569.4 L525.2,571.6 L537.4,574.0 L549.7,575.0 L561.9,573.9 L574.2,572.5 L586.4,572.3 L598.6,575.5 L610.9,573.6 L623.1,573.6 L635.4,572.4 L647.6,573.9 L659.8,572.7 L672.1,574.7 L684.3,573.8" fill="none" stroke="#a7744c" stroke-width="0.6" stroke-opacity="0.2" stroke-linejoin="bevel"/>
<path d="M415.0,572.0 L427.3,569.5 L439.5,571.1 L451.8,573.4 L464.0,571.6 L476.2,570.7 L488.5,572.8 L500.7,570.7 L513.0,574.3 L525.2,571.5 L537.4,573.2 L549.7,569.8 L561.9,572.9 L574.2,573.1 L586.4,573.5 L598.6,571.6 L610.9,574.7 L623.1,570.4 L635.4,571.7 L647.6,575.0 L659.8,573.6 L672.1,571.3 L684.3,574.6" fill="none" stroke="#af7d55" stroke-width="0.6" stroke-opacity="0.2" stroke-linejoin="bevel"/>
<path d="M415.0,571.2 L427.3,572.0 L439.5,572.4 L451.8,569.4 L464.0,571.0 L476.2,568.9 L488.5,571.9 L500.7,571.5 L513.0,570.3 L525.2,570.3 L537.4,571.0 L549.7,568.0 L561.9,569.6 L574.2,568.8 L586.4,571.2 L598.6,567.3 L610.9,568.2 L623.1,571.5 L635.4,570.8 L647.6,568.2 L659.8,572.7 L672.1,572.6 L684.3,569.4" fill="none" stroke="#be8e66" stroke-width="0.6" stroke-opacity="0.2" stroke-linejoin="bevel"/>
<path d="M415.0,572.3 L427.3,570.6 L439.5,572.6 L451.8,572.2 L464.0,571.6 L476.2,571.8 L488.5,570.3 L500.7,572.8 L513.0,572.6 L525.2,571.8 L537.4,571.1 L549.7,571.7 L561.9,570.2 L574.2,570.2 L586.4,568.4 L598.6,570.6 L610.9,570.0 L623.1,572.7 L635.4,569.8 L647.6,571.1 L659.8,569.9 L672.1,571.2 L684.3,570.1" fill="none" stroke="#b8875f" stroke-width="0.6" stroke-opacity="0.2" stroke-linejoin="bevel"/>
<path d="M415.0,570.2 L427.3,572.8 L439.5,569.7 L451.8,568.7 L464.0,571.7 L476.2,568.2 L488.5,571.6 L500.7,574.1 L513.0,572.0 L525.2,572.3 L537.4,571.0 L549.7,572.0 L561.9,570.9 L574.2,571.5 L586.4,572.6 L598.6,569.2 L610.9,570.5 L623.1,572.5 L635.4,571.0 L647.6,569.8 L659.8,569.8 L672.1,571.4 L684.3,568.8" fill="none" stroke="#bb8a62" stroke-width="0.6" stroke-opacity="0.2" stroke-linejoin="bevel"/>
<path d="M415.0,570.9 L427.3,570.0 L439.5,570.9 L451.8,571.4 L464.0,571.3 L476.2,572.8 L488.5,570.0 L500.7,572.0 L513.0,570.1 L525.2,567.5 L537.4,569.2 L549.7,572.8 L561.9,569.4 L574.2,572.6 L586.4,570.7 L598.6,569.2 L610.9,571.2 L623.1,570.9 L635.4,568.5 L647.6,570.9 L659.8,571.2 L672.1,569.6 L684.3,571.7" fill="none" stroke="#bc8c64" stroke-width="0.6" stroke-opacity="0.2" stroke-linejoin="bevel"/>
<path d="M415.0,571.1 L427.3,571.9 L439.5,573.9 L451.8,574.0 L464.0,571.9 L476.2,572.8 L488.5,571.6 L500.7,570.4 L513.0,571.1 L525.2,570.3 L537.4,573.0 L549.7,570.2 L561.9,572.5 L574.2,573.1 L586.4,571.3 L598.6,569.4 L610.9,570.4 L623.1,569.3 L635.4,571.2 L647.6,570.1 L659.8,569.9 L672.1,571.2 L684.3,571.6" fill="none" stroke="#b4825a" stroke-width="0.6" stroke-opacity="0.2" stroke-linejoin="bevel"/>
<path d="M415.0,575.7 L427.3,576.1 L439.5,571.8 L451.8,574.7 L464.0,576.9 L476.2,574.3 L488.5,574.6 L500.7,573.4 L513.0,574.4 L525.2,574.5 L537.4,573.5 L549.7,573.8 L561.9,573.6 L574.2,572.2 L586.4,574.4 L598.6,573.4 L610.9,573.4 L623.1,575.6 L635.4,575.1 L647.6,574.3 L659.8,576.1 L672.1,575.7 L684.3,572.8" fill="none" stroke="#a47149" stroke-width="0.6" stroke-opacity="0.2" stroke-linejoin="bevel"/>
<path d="M415.0,573.1 L427.3,576.2 L439.5,573.6 L451.8,571.1 L464.0,573.7 L476.2,573.2 L488.5,575.5 L500.7,572.2 L513.0,573.7 L525.2,573.3 L537.4,572.7 L549.7,572.5 L561.9,575.1 L574.2,573.5 L586.4,572.8 L598.6,572.7 L610.9,573.9 L623.1,575.8 L635.4,574.2 L647.6,574.4 L659.8,574.8 L672.1,573.8 L684.3,573.8" fill="none" stroke="#a8764e" stroke-width="0.6" stroke-opacity="0.2" stroke-linejoin="bevel"/>
<path d="M415.0,568.3 L427.3,571.4 L439.5,570.7 L451.8,568.7 L464.0,569.7 L476.2,570.8 L488.5,567.1 L500.7,569.6 L513.0,569.1 L525.2,570.0 L537.4,567.3 L549.7,568.7 L561.9,570.1 L574.2,568.5 L586.4,568.6 L598.6,569.3 L610.9,569.6 L623.1,567.6 L635.4,570.2 L647.6,571.7 L659.8,568.6 L672.1,568.6 L684.3,569.3" fill="none" stroke="#c3936b" stroke-width="0.6" stroke-opacity="0.2" stroke-linejoin="bevel"/>
<path d="M415.0,567.4 L427.3,567.4 L439.5,568.9 L451.8,567.5 L464.0,566.3 L476.2,566.4 L488.5,568.2 L500.7,565.2 L513.0,569.0 L525.2,567.9 L537.4,570.6 L549.7,569.0 L561.9,567.7 L574.2,567.8 L586.4,569.8 L598.6,565.6 L610.9,569.3 L623.1,566.2 L635.4,568.0 L647.6,569.1 L659.8,566.6 L672.1,566.9 L684.3,569.6" fill="none" stroke="#cb9c75" stroke-width="0.6" stroke-opacity="0.2" stroke-linejoin="bevel"/>
<path d="M415.0,571.6 L427.3,575.2 L439.5,573.7 L451.8,572.3 L464.0,572.1 L476.2,573.0 L488.5,573.1 L500.7,571.6 L513.0,571.6 L525.2,571.9 L537.4,573.2 L549.7,571.9 L561.9,573.1 L574.2,573.5 L586.4,573.3 L598.6,571.3 L610.9,574.4 L623.1,572.0 L635.4,573.0 L647.6,572.3 L659.8,572.2 L672.1,572.2 L684.3,573.5" fill="none" stroke="#ad7b53" stroke-width="0.6" stroke-opacity="0.2" stroke-linejoin="bevel"/>
<path d="M415.0,568.1 L427.3,568.7 L439.5,570.1 L451.8,570.5 L464.0,567.8 L476.2,567.9 L488.5,568.9 L500.7,566.7 L513.0,567.5 L525.2,567.8 L537.4,570.6 L549.7,570.0 L561.9,569.6 L574.2,570.3 L586.4,569.4 L598.6,570.5 L610.9,567.1 L623.1,568.3 L635.4,568.8 L647.6,569.9 L659.8,569.0 L672.1,569.5 L684.3,570.1" fill="none" stroke="#c6966e" stroke-width="0.6" stroke-opacity="0.2" stroke-linejoin="bevel"/>
<path d="M415.0,573.0 L427.3,574.4 L439.5,574.5 L451.8,575.0 L464.0,574.3 L476.2,574.3 L488.5,573.0 L500.7,574.6 L513.0,573.8 L525.2,573.7 L537.4,575.4 L549.7,573.7 L561.9,575.8 L574.2,573.0 L586.4,572.4 L598.6,573.0 L610.9,573.9 L623.1,573.5 L635.4,575.5 L647.6,573.2 L659.8,574.0 L672.1,572.7 L684.3,573.2" fill="none" stroke="#a8754d" stroke-width="0.6" stroke-opacity="0.2" stroke-linejoin="bevel"/>
<path d="M415.0,571.1 L427.3,566.2 L439.5,567.8 L451.8,567.5 L464.0,569.6 L476.2,568.4 L488.5,569.1 L500.7,569.5 L513.0,566.6 L525.2,568.0 L537.4,567.8 L549.7,568.1 L561.9,569.3 L574.2,567.7 L586.4,570.4 L598.6,569.1 L610.9,568.5 L623.1,569.8 L635.4,568.3 L647.6,569.8 L659.8,568.9 L672.1,568.7 L684.3,566.7" fill="none" stroke="#c99b73" stroke-width="0.6" stroke-opacity="0.2" stroke-linejoin="bevel"/>
<path d="M415.0,573.1 L427.3,574.2 L439.5,573.8 L451.8,573.0 L464.0,572.5 L476.2,572.2 L488.5,571.9 L500.7,572.3 L513.0,572.8 L525.2,572.9 L537.4,571.4 L549.7,572.0 L561.9,574.7 L574.2,571.2 L586.4,573.0 L598.6,572.8 L610.9,572.2 L623.1,572.4 L635.4,572.6 L647.6,570.9 L659.8,573.0 L672.1,570.7 L684.3,573.0" fill="none" stroke="#ae7c54" stroke-width="0.6" stroke-opacity="0.2" stroke-linejoin="bevel"/>
<path d="M415.0,575.0 L427.3,576.4 L439.5,573.3 L451.8,575.0 L464.0,574.9 L476.2,576.4 L488.5,576.5 L500.7,574.8 L513.0,575.7 L525.2,573.4 L537.4,572.4 L549.7,573.7 L561.9,572.0 L574.2,575.5 L586.4,576.4 L598.6,575.1 L610.9,574.1 L623.1,574.6 L635.4,575.9 L647.6,575.4 L659.8,572.2 L672.1,576.5 L684.3,576.3" fill="none" stroke="#a06d45" stroke-width="0.6" stroke-opacity="0.2" stroke-linejoin="bevel"/>
<path d="M415.0,569.7 L427.3,569.7 L439.5,568.8 L451.8,567.5 L464.0,571.2 L476.2,568.8 L488.5,567.1 L500.7,569.5 L513.0,568.8 L525.2,569.3 L537.4,568.8 L549.7,567.5 L561.9,569.5 L574.2,569.8 L586.4,567.8 L598.6,567.6 L610.9,569.3 L623.1,570.3 L635.4,571.0 L647.6,568.9 L659.8,568.1 L672.1,569.8 L684.3,569.4" fill="none" stroke="#c89871" stroke-width="0.6" stroke-opacity="0.2" stroke-linejoin="bevel"/>
<path d="M415.0,571.9 L427.3,570.0 L439.5,570.0 L451.8,569.8 L464.0,571.1 L476.2,570.7 L488.5,569.7 L500.7,569.0 L513.0,568.0 L525.2,568.4 L537.4,571.3 L549.7,568.6 L561.9,570.8 L574.2,569.1 L586.4,570.9 L598.6,568.6 L610.9,571.1 L623.1,569.9 L635.4,569.8 L647.6,570.5 L659.8,569.0 L672.1,568.0 L684.3,569.0" fill="none" stroke="#c19068" stroke-width="0.6" stroke-opacity="0.2" stroke-linejoin="bevel"/>
<path d="M415.0,574.3 L427.3,575.9 L439.5,574.7 L451.8,575.0 L464.0,574.6 L476.2,576.7 L488.5,574.0 L500.7,574.3 L513.0,575.8 L525.2,576.8 L537.4,574.0 L549.7,575.2 L561.9,576.3 L574.2,574.7 L586.4,575.9 L598.6,574.7 L610.9,576.6 L623.1,575.1 L635.4,576.7 L647.6,574.9 L659.8,574.7 L672.1,576.6 L684.3,577.4" fill="none" stroke="#9c6941" stroke-width="0.6" stroke-opacity="0.2" stroke-linejoin="bevel"/>
<path d="M415.0,569.0 L427.3,564.4 L439.5,570.1 L451.8,568.6 L464.0,568.1 L476.2,568.8 L488.5,564.4 L500.7,568.4 L513.0,568.9 L525.2,567.3 L537.4,567.4 L549.7,565.8 L561.9,567.0 L574.2,566.5 L586.4,568.0 L598.6,568.5 L610.9,567.4 L623.1,570.0 L635.4,568.6 L647.6,569.0 L659.8,568.2 L672.1,568.2 L684.3,569.6" fill="none" stroke="#cc9f78" stroke-width="0.6" stroke-opacity="0.2" stroke-linejoin="bevel"/>
<path d="M415.0,567.5 L427.3,567.7 L439.5,565.7 L451.8,565.9 L464.0,565.9 L476.2,566.3 L488.5,569.5 L500.7,566.5 L513.0,567.1 L525.2,563.8 L537.4,564.9 L549.7,566.6 L561.9,568.6 L574.2,566.9 L586.4,568.8 L598.6,568.5 L610.9,566.6 L623.1,567.0 L635.4,566.8 L647.6,568.6 L659.8,568.3 L672.1,567.4 L684.3,565.9" fill="none" stroke="#cd9f78" stroke-width="0.6" stroke-opacity="0.2" stroke-linejoin="bevel"/>
<path d="M415.0,575.2 L427.3,576.9 L439.5,573.6 L451.8,575.8 L464.0,575.0 L476.2,577.5 L488.5,575.5 L500.7,575.3 L513.0,573.0 L525.2,573.6 L537.4,574.3 L549.7,577.3 L561.9,574.0 L574.2,574.7 L586.4,575.4 L598.6,572.8 L610.9,572.6 L623.1,574.6 L635.4,574.7 L647.6,573.8 L659.8,575.8 L672.1,578.7 L684.3,575.1" fill="none" stroke="#a06d45" stroke-width="0.6" stroke-opacity="0.2" stroke-linejoin="bevel"/>
<path d="M415.0,573.4 L427.3,575.7 L439.5,574.9 L451.8,572.8 L464.0,574.1 L476.2,573.4 L488.5,575.6 L500.7,575.6 L513.0,575.2 L525.2,575.3 L537.4,574.3 L549.7,574.6 L561.9,573.6 L574.2,573.3 L586.4,574.6 L598.6,573.3 L610.9,574.9 L623.1,576.0 L635.4,574.6 L647.6,573.2 L659.8,576.0 L672.1,575.4 L684.3,574.9" fill="none" stroke="#a47149" stroke-width="0.6" stroke-opacity="0.2" stroke-linejoin="bevel"/>
<path d="M415.0,574.0 L427.3,573.8 L439.5,574.5 L451.8,573.7 L464.0,573.2 L476.2,575.3 L488.5,572.7 L500.7,575.0 L513.0,575.5 L525.2,572.0 L537.4,572.6 L549.7,570.3 L561.9,573.5 L574.2,572.5 L586.4,576.0 L598.6,572.9 L610.9,575.5 L623.1,571.2 L635.4,574.5 L647.6,572.1 L659.8,571.7 L672.1,573.7 L684.3,573.1" fill="none" stroke="#a9764e" stroke-width="0.6" stroke-opacity="0.2" stroke-linejoin="bevel"/>
<path d="M415.0,570.1 L427.3,570.8 L439.5,569.5 L451.8,571.9 L464.0,572.1 L476.2,571.7 L488.5,572.7 L500.7,570.6 L513.0,572.1 L525.2,572.8 L537.4,573.5 L549.7,573.7 L561.9,569.4 L574.2,569.7 L586.4,571.4 L598.6,572.5 L610.9,570.5 L623.1,573.6 L635.4,573.0 L647.6,570.7 L659.8,572.4 L672.1,572.1 L684.3,571.1" fill="none" stroke="#b98860" stroke-width="0.6" stroke-opacity="0.2" stroke-linejoin="bevel"/>
<path d="M415.0,566.8 L427.3,567.7 L439.5,566.4 L451.8,571.3 L464.0,567.8 L476.2,569.8 L488.5,566.4 L500.7,567.7 L513.0,566.2 L525.2,567.5 L537.4,567.8 L549.7,567.5 L561.9,566.1 L574.2,568.0 L586.4,568.6 L598.6,566.5 L610.9,568.5 L623.1,566.2 L635.4,570.0 L647.6,568.0 L659.8,568.0 L672.1,566.1 L684.3,566.7" fill="none" stroke="#cc9e77" stroke-width="0.6" stroke-opacity="0.2" stroke-linejoin="bevel"/>
<path d="M415.0,571.3 L427.3,572.9 L439.5,568.6 L451.8,569.1 L464.0,571.0 L476.2,571.6 L488.5,569.9 L500.7,570.3 L513.0,572.5 L525.2,568.6 L537.4,569.0 L549.7,568.8 L561.9,572.1 L574.2,571.3 L586.4,570.9 L598.6,571.0 L610.9,572.8 L623.1,570.8 L635.4,569.7 L647.6,570.6 L659.8,571.2 L672.1,570.9 L684.3,569.2" fill="none" stroke="#bc8b63" stroke-width="0.6" stroke-opacity="0.2" stroke-linejoin="bevel"/>
<path d="M415.0,573.0 L427.3,574.7 L439.5,572.1 L451.8,573.4 L464.0,572.2 L476.2,573.5 L488.5,571.7 L500.7,569.4 L513.0,573.8 L525.2,570.6 L537.4,574.5 L549.7,571.3 L561.9,571.3 L574.2,570.8 L586.4,571.9 L598.6,573.6 L610.9,573.1 L623.1,573.6 L635.4,571.8 L647.6,570.5 L659.8,571.5 L672.1,571.9 L684.3,571.8" fill="none" stroke="#b07e56" stroke-width="0.6" stroke-opacity="0.2" stroke-linejoin="bevel"/>
<path d="M415.0,567.4 L427.3,565.8 L439.5,567.5 L451.8,566.3 L464.0,566.7 L476.2,567.9 L488.5,566.5 L500.7,568.2 L513.0,566.2 L525.2,570.0 L537.4,568.0 L549.7,565.6 L561.9,566.2 L574.2,567.1 L586.4,569.1 L598.6,567.7 L610.9,569.1 L623.1,570.2 L635.4,566.4 L647.6,569.2 L659.8,567.6 L672.1,565.2 L684.3,564.6" fill="none" stroke="#cc9e78" stroke-width="0.6" stroke-opacity="0.2" stroke-linejoin="bevel"/>
<path d="M415.0,567.7 L427.3,569.1 L439.5,568.4 L451.8,569.3 L464.0,569.9 L476.2,570.6 L488.5,568.7 L500.7,568.7 L513.0,568.7 L525.2,570.2 L537.4,570.0 L549.7,569.7 L561.9,567.4 L574.2,570.7 L586.4,571.6 L598.6,569.6 L610.9,570.1 L623.1,568.3 L635.4,569.9 L647.6,570.8 L659.8,569.3 L672.1,568.5 L684.3,569.3" fill="none" stroke="#c4946c" stroke-width="0.6" stroke-opacity="0.2" stroke-linejoin="bevel"/>
<path d="M415.0,574.2 L427.3,573.3 L439.5,574.6 L451.8,573.8 L464.0,572.8 L476.2,575.2 L488.5,574.0 L500.7,573.1 L513.0,572.5 L525.2,575.3 L537.4,570.9 L549.7,573.6 L561.9,572.2 L574.2,573.5 L586.4,572.9 L598.6,573.3 L610.9,575.4 L623.1,573.7 L635.4,572.6 L647.6,573.8 L659.8,572.7 L672.1,573.4 L684.3,574.6" fill="none" stroke="#ac7a52" stroke-width="0.6" stroke-opacity="0.2" stroke-linejoin="bevel"/>
<path d="M415.0,570.9 L427.3,570.4 L439.5,570.1 L451.8,570.6 L464.0,569.3 L476.2,568.2 L488.5,570.0 L500.7,570.8 L513.0,569.9 L525.2,569.6 L537.4,568.0 L549.7,570.9 L561.9,569.9 L574.2,568.6 L586.4,570.2 L598.6,571.3 L610.9,567.3 L623.1,571.2 L635.4,570.3 L647.6,572.2 L659.8,568.7 L672.1,569.4 L684.3,571.0" fill="none" stroke="#c3936b" stroke-width="0.6" stroke-opacity="0.2" stroke-linejoin="bevel"/>
<line x1="415.10" y1="565.30" x2="684.30" y2="565.30" stroke="#5e5e56" stroke-width="1.3" stroke-dasharray="4.2,2.6"/>
<path d="M415.04,565.20 C419.12,565.33 433.40,566.05 439.52,566.00 C445.64,565.95 445.64,565.27 451.76,564.90 C457.88,564.53 470.12,563.78 476.24,563.80 C482.36,563.82 484.40,564.90 488.48,565.00 C492.56,565.10 496.64,564.63 500.72,564.40 C504.80,564.17 506.84,563.73 512.96,563.60 C519.08,563.47 529.28,563.63 537.44,563.60 C545.60,563.57 553.76,563.40 561.92,563.40 C570.08,563.40 578.24,563.60 586.40,563.60 C594.56,563.60 602.72,563.43 610.88,563.40 C619.04,563.37 627.20,563.47 635.36,563.40 C643.52,563.33 651.68,563.13 659.84,563.00 C668.00,562.87 680.24,562.67 684.32,562.60" fill="none" stroke="#f05a14" stroke-width="1.9"/>
</g>
<rect x="415.10" y="528.40" width="269.20" height="52.90" fill="none" stroke="#333" stroke-width="1.3" />
<line x1="409.20" y1="540.30" x2="415.10" y2="540.30" stroke="#333" stroke-width="1.2" />
<text x="405.80" y="544.60" font-size="12.2" fill="#1a1a1a" text-anchor="end" stroke="#1a1a1a" stroke-width="0.25" >2.5</text>
<line x1="409.20" y1="576.30" x2="415.10" y2="576.30" stroke="#333" stroke-width="1.2" />
<text x="405.80" y="580.60" font-size="12.2" fill="#1a1a1a" text-anchor="end" stroke="#1a1a1a" stroke-width="0.25" >0.5</text>
<line x1="464.00" y1="581.30" x2="464.00" y2="585.80" stroke="#333" stroke-width="1.2" />
<line x1="525.20" y1="581.30" x2="525.20" y2="585.80" stroke="#333" stroke-width="1.2" />
<line x1="586.40" y1="581.30" x2="586.40" y2="585.80" stroke="#333" stroke-width="1.2" />
<line x1="647.60" y1="581.30" x2="647.60" y2="585.80" stroke="#333" stroke-width="1.2" />
<text x="428" y="541.7" font-size="14.2" fill="#1a1a1a" stroke="#1a1a1a" stroke-width="0.25"><tspan font-style="italic">P</tspan> < 0.001</text>
<text x="666.30" y="544.60" font-size="15.4" fill="#1a1a1a" text-anchor="end" stroke="#1a1a1a" stroke-width="0.25" >Congo</text>
<defs><clipPath id="eclip33"><rect x="415.1" y="592.0" width="269.19999999999993" height="52.89999999999998"/></clipPath></defs>
<g clip-path="url(#eclip33)">
<defs><linearGradient id="jg33" x1="0" y1="595.8" x2="0" y2="620.1" gradientUnits="userSpaceOnUse"><stop offset="0" stop-color="#b4dca4" stop-opacity="0.55"/><stop offset="0.25" stop-color="#a2d094" stop-opacity="0.65"/><stop offset="1" stop-color="#b0d8a0" stop-opacity="0.55"/></linearGradient></defs>
<path d="M402.8,597.1 L408.9,603.8 L415.0,597.1 L421.2,603.5 L427.3,606.3 L433.4,604.6 L439.5,597.6 L445.6,603.2 L451.8,597.8 L457.9,603.3 L464.0,598.3 L470.1,606.1 L476.2,599.2 L482.4,604.8 L488.5,604.8 L494.6,603.7 L500.7,604.0 L506.8,604.4 L513.0,599.2 L519.1,603.1 L525.2,598.6 L531.3,603.5 L537.4,606.7 L543.6,606.1 L549.7,598.4 L555.8,607.5 L561.9,598.3 L568.0,605.7 L574.2,599.0 L580.3,607.4 L586.4,602.8 L592.5,605.0 L598.6,598.9 L604.8,607.0 L610.9,599.2 L617.0,606.3 L623.1,598.7 L629.2,604.6 L635.4,597.7 L641.5,605.9 L647.6,596.6 L653.7,606.1 L659.8,597.7 L666.0,605.8 L672.1,606.8 L678.2,603.6 L684.3,597.4 L690.4,605.5 L696.6,596.2 L702.7,604.3 L696.6,620.1 L402.8,620.1 Z" fill="url(#jg33)"/>
<defs><linearGradient id="g33_155" x1="0" y1="0" x2="0" y2="1"><stop offset="0.00" stop-color="#b0d8a0" stop-opacity="0.3"/><stop offset="0.50" stop-color="#a8d496" stop-opacity="0.6"/><stop offset="0.85" stop-color="#c4e0b0" stop-opacity="0.7"/><stop offset="1.00" stop-color="#dde8c8" stop-opacity="0.7"/></linearGradient></defs>
<rect x="415.10" y="607.50" width="269.20" height="13.50" fill="url(#g33_155)" stroke="none" stroke-width="1" />
<defs><linearGradient id="g33_120" x1="0" y1="0" x2="0" y2="1"><stop offset="0.00" stop-color="#eceecf" stop-opacity="0.6"/><stop offset="1.00" stop-color="#f0dcc4" stop-opacity="0.85"/></linearGradient></defs>
<rect x="415.10" y="621.00" width="269.20" height="6.30" fill="url(#g33_120)" stroke="none" stroke-width="1" />
<defs><linearGradient id="g33_50" x1="0" y1="0" x2="0" y2="1"><stop offset="0.00" stop-color="#d4ae8a" stop-opacity="0.9"/><stop offset="0.50" stop-color="#bc9068" stop-opacity="0.95"/><stop offset="0.85" stop-color="#a87a52" stop-opacity="0.9"/><stop offset="1.00" stop-color="#d8bca4" stop-opacity="0.5"/></linearGradient></defs>
<rect x="415.10" y="627.30" width="269.20" height="12.60" fill="url(#g33_50)" stroke="none" stroke-width="1" />
<path d="M415.0,610.8 L427.3,615.9 L439.5,616.1 L451.8,617.3 L464.0,616.1 L476.2,613.4 L488.5,614.7 L500.7,615.8 L513.0,615.3 L525.2,615.5 L537.4,616.3 L549.7,614.2 L561.9,615.3 L574.2,617.1 L586.4,614.5 L598.6,617.5 L610.9,614.9 L623.1,617.4 L635.4,615.1 L647.6,615.4 L659.8,615.7 L672.1,603.0 L684.3,615.7" fill="none" stroke="#d0e0ab" stroke-width="0.6" stroke-opacity="0.2" stroke-linejoin="bevel"/>
<path d="M415.0,597.9 L427.3,610.9 L439.5,607.1 L451.8,608.3 L464.0,608.4 L476.2,608.4 L488.5,607.9 L500.7,608.7 L513.0,611.0 L525.2,596.7 L537.4,608.7 L549.7,608.8 L561.9,607.9 L574.2,609.9 L586.4,608.5 L598.6,608.3 L610.9,607.9 L623.1,607.0 L635.4,606.9 L647.6,602.3 L659.8,609.2 L672.1,609.1 L684.3,607.8" fill="none" stroke="#7fbc6f" stroke-width="0.6" stroke-opacity="0.2" stroke-linejoin="bevel"/>
<path d="M415.0,619.4 L427.3,617.8 L439.5,618.1 L451.8,617.8 L464.0,618.5 L476.2,617.7 L488.5,617.1 L500.7,610.7 L513.0,617.8 L525.2,619.6 L537.4,617.8 L549.7,618.5 L561.9,617.4 L574.2,615.7 L586.4,618.6 L598.6,616.2 L610.9,618.0 L623.1,616.3 L635.4,619.4 L647.6,617.7 L659.8,610.4 L672.1,617.4 L684.3,618.9" fill="none" stroke="#e1dbb3" stroke-width="0.6" stroke-opacity="0.2" stroke-linejoin="bevel"/>
<path d="M415.0,607.3 L427.3,606.4 L439.5,606.2 L451.8,607.9 L464.0,607.6 L476.2,606.1 L488.5,608.3 L500.7,606.4 L513.0,611.3 L525.2,608.0 L537.4,605.9 L549.7,610.1 L561.9,606.7 L574.2,608.2 L586.4,605.0 L598.6,605.1 L610.9,608.5 L623.1,609.6 L635.4,606.7 L647.6,605.4 L659.8,609.5 L672.1,606.3 L684.3,607.2" fill="none" stroke="#79b96c" stroke-width="0.6" stroke-opacity="0.2" stroke-linejoin="bevel"/>
<path d="M415.0,607.5 L427.3,607.9 L439.5,607.1 L451.8,607.4 L464.0,595.0 L476.2,600.1 L488.5,607.5 L500.7,604.0 L513.0,607.0 L525.2,599.3 L537.4,608.4 L549.7,607.1 L561.9,605.9 L574.2,606.5 L586.4,605.1 L598.6,603.5 L610.9,605.4 L623.1,604.4 L635.4,606.8 L647.6,605.4 L659.8,606.8 L672.1,606.7 L684.3,607.5" fill="none" stroke="#75b668" stroke-width="0.6" stroke-opacity="0.2" stroke-linejoin="bevel"/>
<path d="M415.0,606.5 L427.3,607.9 L439.5,607.3 L451.8,609.7 L464.0,609.0 L476.2,607.1 L488.5,608.7 L500.7,609.4 L513.0,612.1 L525.2,610.5 L537.4,606.4 L549.7,607.4 L561.9,608.0 L574.2,608.7 L586.4,610.4 L598.6,609.9 L610.9,610.2 L623.1,607.2 L635.4,609.5 L647.6,610.5 L659.8,607.3 L672.1,606.9 L684.3,610.7" fill="none" stroke="#81bd70" stroke-width="0.6" stroke-opacity="0.2" stroke-linejoin="bevel"/>
<path d="M415.0,611.6 L427.3,609.4 L439.5,610.6 L451.8,609.1 L464.0,610.7 L476.2,610.7 L488.5,603.5 L500.7,608.9 L513.0,611.1 L525.2,612.6 L537.4,604.7 L549.7,610.1 L561.9,611.6 L574.2,611.8 L586.4,611.9 L598.6,612.2 L610.9,610.5 L623.1,612.6 L635.4,612.3 L647.6,610.6 L659.8,610.5 L672.1,611.7 L684.3,611.0" fill="none" stroke="#8cc378" stroke-width="0.6" stroke-opacity="0.2" stroke-linejoin="bevel"/>
<path d="M415.0,600.5 L427.3,609.7 L439.5,609.1 L451.8,612.2 L464.0,609.1 L476.2,612.3 L488.5,609.1 L500.7,609.2 L513.0,610.5 L525.2,608.1 L537.4,611.6 L549.7,611.7 L561.9,609.2 L574.2,611.0 L586.4,609.8 L598.6,610.6 L610.9,610.0 L623.1,610.1 L635.4,608.5 L647.6,609.5 L659.8,608.9 L672.1,611.6 L684.3,612.2" fill="none" stroke="#89c176" stroke-width="0.6" stroke-opacity="0.2" stroke-linejoin="bevel"/>
<path d="M415.0,613.8 L427.3,612.9 L439.5,612.9 L451.8,615.7 L464.0,617.6 L476.2,607.5 L488.5,617.7 L500.7,614.1 L513.0,614.3 L525.2,614.7 L537.4,607.0 L549.7,612.1 L561.9,615.9 L574.2,617.6 L586.4,614.4 L598.6,615.1 L610.9,613.9 L623.1,613.2 L635.4,612.9 L647.6,615.2 L659.8,602.7 L672.1,616.0 L684.3,615.1" fill="none" stroke="#c5dda4" stroke-width="0.6" stroke-opacity="0.2" stroke-linejoin="bevel"/>
<path d="M415.0,607.2 L427.3,606.1 L439.5,605.7 L451.8,593.5 L464.0,606.9 L476.2,605.6 L488.5,607.8 L500.7,594.8 L513.0,607.0 L525.2,606.4 L537.4,608.0 L549.7,607.7 L561.9,605.6 L574.2,605.4 L586.4,606.1 L598.6,605.7 L610.9,607.4 L623.1,607.9 L635.4,605.6 L647.6,604.0 L659.8,599.4 L672.1,607.2 L684.3,605.8" fill="none" stroke="#76b769" stroke-width="0.6" stroke-opacity="0.2" stroke-linejoin="bevel"/>
<path d="M415.0,605.3 L427.3,604.0 L439.5,593.9 L451.8,605.3 L464.0,604.7 L476.2,604.8 L488.5,607.1 L500.7,608.4 L513.0,607.2 L525.2,606.5 L537.4,603.7 L549.7,603.6 L561.9,603.0 L574.2,604.7 L586.4,592.8 L598.6,607.2 L610.9,606.4 L623.1,603.3 L635.4,606.0 L647.6,603.6 L659.8,606.1 L672.1,608.1 L684.3,604.0" fill="none" stroke="#6eb264" stroke-width="0.6" stroke-opacity="0.2" stroke-linejoin="bevel"/>
<path d="M415.0,611.2 L427.3,612.7 L439.5,611.3 L451.8,612.4 L464.0,610.8 L476.2,615.2 L488.5,611.9 L500.7,612.2 L513.0,614.1 L525.2,611.9 L537.4,610.8 L549.7,613.7 L561.9,611.2 L574.2,612.9 L586.4,611.5 L598.6,606.3 L610.9,612.9 L623.1,611.5 L635.4,610.6 L647.6,614.1 L659.8,614.3 L672.1,612.7 L684.3,612.2" fill="none" stroke="#a0cc87" stroke-width="0.6" stroke-opacity="0.2" stroke-linejoin="bevel"/>
<path d="M415.0,607.5 L427.3,608.7 L439.5,608.4 L451.8,609.8 L464.0,607.9 L476.2,609.1 L488.5,609.9 L500.7,611.1 L513.0,607.1 L525.2,608.4 L537.4,609.1 L549.7,610.6 L561.9,607.0 L574.2,610.1 L586.4,609.6 L598.6,608.6 L610.9,608.9 L623.1,609.2 L635.4,609.5 L647.6,611.8 L659.8,608.9 L672.1,610.0 L684.3,609.0" fill="none" stroke="#81bd71" stroke-width="0.6" stroke-opacity="0.2" stroke-linejoin="bevel"/>
<path d="M415.0,616.6 L427.3,607.0 L439.5,616.9 L451.8,618.7 L464.0,606.1 L476.2,618.4 L488.5,618.2 L500.7,619.3 L513.0,606.3 L525.2,618.8 L537.4,617.9 L549.7,615.8 L561.9,616.4 L574.2,615.6 L586.4,618.4 L598.6,619.8 L610.9,619.9 L623.1,617.2 L635.4,619.1 L647.6,616.1 L659.8,618.3 L672.1,618.4 L684.3,617.3" fill="none" stroke="#dedcb1" stroke-width="0.6" stroke-opacity="0.2" stroke-linejoin="bevel"/>
<path d="M415.0,596.1 L427.3,603.1 L439.5,606.5 L451.8,604.6 L464.0,604.7 L476.2,590.2 L488.5,604.0 L500.7,603.5 L513.0,604.1 L525.2,603.7 L537.4,606.5 L549.7,595.3 L561.9,604.0 L574.2,606.8 L586.4,604.6 L598.6,602.8 L610.9,605.3 L623.1,604.8 L635.4,604.5 L647.6,604.6 L659.8,605.9 L672.1,605.0 L684.3,603.7" fill="none" stroke="#6cb162" stroke-width="0.6" stroke-opacity="0.2" stroke-linejoin="bevel"/>
<path d="M415.0,604.5 L427.3,608.9 L439.5,607.2 L451.8,606.1 L464.0,607.2 L476.2,607.3 L488.5,606.4 L500.7,605.5 L513.0,606.5 L525.2,606.8 L537.4,607.5 L549.7,607.9 L561.9,607.3 L574.2,605.9 L586.4,607.5 L598.6,608.2 L610.9,606.3 L623.1,595.4 L635.4,607.4 L647.6,602.9 L659.8,605.3 L672.1,608.4 L684.3,606.8" fill="none" stroke="#76b769" stroke-width="0.6" stroke-opacity="0.2" stroke-linejoin="bevel"/>
<path d="M415.0,601.7 L427.3,609.8 L439.5,611.1 L451.8,610.3 L464.0,612.3 L476.2,611.7 L488.5,611.1 L500.7,608.9 L513.0,610.3 L525.2,610.1 L537.4,610.8 L549.7,609.7 L561.9,611.5 L574.2,609.8 L586.4,610.7 L598.6,609.5 L610.9,611.2 L623.1,608.1 L635.4,611.6 L647.6,610.1 L659.8,611.5 L672.1,610.7 L684.3,603.4" fill="none" stroke="#8cc378" stroke-width="0.6" stroke-opacity="0.2" stroke-linejoin="bevel"/>
<path d="M415.0,610.2 L427.3,608.7 L439.5,611.7 L451.8,601.0 L464.0,610.4 L476.2,610.6 L488.5,610.9 L500.7,610.5 L513.0,611.3 L525.2,610.7 L537.4,611.6 L549.7,609.1 L561.9,609.1 L574.2,611.1 L586.4,610.4 L598.6,612.5 L610.9,611.9 L623.1,611.1 L635.4,609.0 L647.6,610.8 L659.8,612.3 L672.1,610.0 L684.3,610.8" fill="none" stroke="#8bc277" stroke-width="0.6" stroke-opacity="0.2" stroke-linejoin="bevel"/>
<path d="M415.0,606.0 L427.3,603.5 L439.5,605.8 L451.8,599.0 L464.0,605.4 L476.2,607.9 L488.5,606.7 L500.7,594.3 L513.0,607.0 L525.2,608.1 L537.4,609.5 L549.7,606.2 L561.9,609.0 L574.2,608.4 L586.4,606.8 L598.6,596.6 L610.9,596.7 L623.1,606.3 L635.4,605.9 L647.6,608.0 L659.8,607.4 L672.1,606.0 L684.3,603.9" fill="none" stroke="#74b668" stroke-width="0.6" stroke-opacity="0.2" stroke-linejoin="bevel"/>
<path d="M415.0,597.8 L427.3,604.6 L439.5,606.0 L451.8,604.2 L464.0,604.9 L476.2,605.0 L488.5,605.6 L500.7,606.2 L513.0,607.5 L525.2,607.9 L537.4,606.2 L549.7,604.2 L561.9,605.0 L574.2,606.7 L586.4,602.2 L598.6,605.3 L610.9,605.0 L623.1,607.7 L635.4,604.5 L647.6,603.9 L659.8,606.1 L672.1,606.9 L684.3,605.4" fill="none" stroke="#71b466" stroke-width="0.6" stroke-opacity="0.2" stroke-linejoin="bevel"/>
<path d="M415.0,611.5 L427.3,613.9 L439.5,614.8 L451.8,612.9 L464.0,615.2 L476.2,613.5 L488.5,615.3 L500.7,601.7 L513.0,613.3 L525.2,615.3 L537.4,601.2 L549.7,612.4 L561.9,614.3 L574.2,614.8 L586.4,613.0 L598.6,616.0 L610.9,615.1 L623.1,613.2 L635.4,612.0 L647.6,613.4 L659.8,614.5 L672.1,612.0 L684.3,613.4" fill="none" stroke="#afd393" stroke-width="0.6" stroke-opacity="0.2" stroke-linejoin="bevel"/>
<path d="M415.0,608.1 L427.3,606.8 L439.5,605.1 L451.8,603.9 L464.0,606.6 L476.2,606.3 L488.5,606.5 L500.7,607.7 L513.0,605.1 L525.2,605.6 L537.4,602.3 L549.7,605.6 L561.9,604.3 L574.2,608.3 L586.4,607.1 L598.6,606.4 L610.9,605.0 L623.1,606.3 L635.4,606.3 L647.6,604.5 L659.8,605.6 L672.1,605.9 L684.3,605.9" fill="none" stroke="#71b466" stroke-width="0.6" stroke-opacity="0.2" stroke-linejoin="bevel"/>
<path d="M415.0,618.0 L427.3,619.4 L439.5,609.8 L451.8,616.8 L464.0,617.1 L476.2,619.0 L488.5,617.6 L500.7,617.7 L513.0,618.6 L525.2,617.3 L537.4,620.7 L549.7,616.6 L561.9,619.1 L574.2,618.0 L586.4,617.7 L598.6,616.9 L610.9,620.3 L623.1,619.8 L635.4,616.7 L647.6,607.5 L659.8,611.4 L672.1,617.7 L684.3,618.6" fill="none" stroke="#e0dbb2" stroke-width="0.6" stroke-opacity="0.2" stroke-linejoin="bevel"/>
<path d="M415.0,607.4 L427.3,607.8 L439.5,607.8 L451.8,607.5 L464.0,607.1 L476.2,606.7 L488.5,607.0 L500.7,605.8 L513.0,607.1 L525.2,596.7 L537.4,606.2 L549.7,606.9 L561.9,606.3 L574.2,608.7 L586.4,607.4 L598.6,607.1 L610.9,607.2 L623.1,607.4 L635.4,606.5 L647.6,607.2 L659.8,606.4 L672.1,607.2 L684.3,604.5" fill="none" stroke="#77b86a" stroke-width="0.6" stroke-opacity="0.2" stroke-linejoin="bevel"/>
<path d="M415.0,609.1 L427.3,611.4 L439.5,609.7 L451.8,612.1 L464.0,609.4 L476.2,612.0 L488.5,610.6 L500.7,610.3 L513.0,610.7 L525.2,608.7 L537.4,610.3 L549.7,610.1 L561.9,609.3 L574.2,612.1 L586.4,611.1 L598.6,611.7 L610.9,603.9 L623.1,609.2 L635.4,610.2 L647.6,612.0 L659.8,610.9 L672.1,610.1 L684.3,602.2" fill="none" stroke="#8ac277" stroke-width="0.6" stroke-opacity="0.2" stroke-linejoin="bevel"/>
<path d="M415.0,605.2 L427.3,605.3 L439.5,606.7 L451.8,605.4 L464.0,604.4 L476.2,600.0 L488.5,604.6 L500.7,603.4 L513.0,607.0 L525.2,604.2 L537.4,606.6 L549.7,605.2 L561.9,607.5 L574.2,607.5 L586.4,607.0 L598.6,605.8 L610.9,606.2 L623.1,608.6 L635.4,604.8 L647.6,605.3 L659.8,603.4 L672.1,603.4 L684.3,604.1" fill="none" stroke="#70b365" stroke-width="0.6" stroke-opacity="0.2" stroke-linejoin="bevel"/>
<path d="M415.0,605.0 L427.3,611.2 L439.5,611.6 L451.8,612.8 L464.0,611.4 L476.2,613.7 L488.5,613.0 L500.7,613.8 L513.0,616.5 L525.2,602.2 L537.4,609.8 L549.7,613.3 L561.9,611.9 L574.2,613.3 L586.4,614.4 L598.6,612.6 L610.9,613.5 L623.1,612.9 L635.4,613.6 L647.6,612.6 L659.8,612.2 L672.1,614.2 L684.3,611.7" fill="none" stroke="#a4ce8b" stroke-width="0.6" stroke-opacity="0.2" stroke-linejoin="bevel"/>
<path d="M415.0,613.9 L427.3,612.9 L439.5,612.8 L451.8,606.2 L464.0,610.1 L476.2,614.3 L488.5,614.5 L500.7,612.6 L513.0,613.6 L525.2,610.6 L537.4,612.5 L549.7,612.1 L561.9,611.9 L574.2,613.5 L586.4,613.6 L598.6,611.5 L610.9,612.1 L623.1,612.6 L635.4,615.3 L647.6,614.0 L659.8,614.0 L672.1,611.9 L684.3,612.5" fill="none" stroke="#a4ce8a" stroke-width="0.6" stroke-opacity="0.2" stroke-linejoin="bevel"/>
<path d="M415.0,618.3 L427.3,618.8 L439.5,617.4 L451.8,616.2 L464.0,617.2 L476.2,616.9 L488.5,618.4 L500.7,616.1 L513.0,603.2 L525.2,617.4 L537.4,617.0 L549.7,619.8 L561.9,618.8 L574.2,616.2 L586.4,619.1 L598.6,616.5 L610.9,618.2 L623.1,618.3 L635.4,618.1 L647.6,616.5 L659.8,616.5 L672.1,616.4 L684.3,617.0" fill="none" stroke="#daddb0" stroke-width="0.6" stroke-opacity="0.2" stroke-linejoin="bevel"/>
<path d="M415.0,612.8 L427.3,614.5 L439.5,611.7 L451.8,611.2 L464.0,613.4 L476.2,611.9 L488.5,610.4 L500.7,601.8 L513.0,613.9 L525.2,612.6 L537.4,612.2 L549.7,612.2 L561.9,614.3 L574.2,613.5 L586.4,614.5 L598.6,612.0 L610.9,611.7 L623.1,611.6 L635.4,611.2 L647.6,610.6 L659.8,613.7 L672.1,611.9 L684.3,610.9" fill="none" stroke="#95c77f" stroke-width="0.6" stroke-opacity="0.2" stroke-linejoin="bevel"/>
<path d="M415.0,614.8 L427.3,615.3 L439.5,617.2 L451.8,615.4 L464.0,615.7 L476.2,617.9 L488.5,616.4 L500.7,616.0 L513.0,617.1 L525.2,613.2 L537.4,613.4 L549.7,616.8 L561.9,613.3 L574.2,614.9 L586.4,614.8 L598.6,615.8 L610.9,609.9 L623.1,615.5 L635.4,613.8 L647.6,617.5 L659.8,614.7 L672.1,616.1 L684.3,615.0" fill="none" stroke="#c7dea6" stroke-width="0.6" stroke-opacity="0.2" stroke-linejoin="bevel"/>
<path d="M415.0,612.6 L427.3,612.7 L439.5,602.4 L451.8,612.2 L464.0,612.9 L476.2,602.9 L488.5,609.1 L500.7,612.5 L513.0,599.7 L525.2,609.8 L537.4,609.8 L549.7,611.7 L561.9,609.5 L574.2,611.9 L586.4,609.2 L598.6,604.9 L610.9,611.1 L623.1,611.4 L635.4,611.7 L647.6,609.9 L659.8,610.5 L672.1,609.0 L684.3,599.2" fill="none" stroke="#8bc277" stroke-width="0.6" stroke-opacity="0.2" stroke-linejoin="bevel"/>
<path d="M415.0,617.3 L427.3,618.0 L439.5,616.1 L451.8,617.5 L464.0,617.0 L476.2,617.6 L488.5,614.9 L500.7,615.1 L513.0,617.3 L525.2,614.6 L537.4,617.9 L549.7,614.9 L561.9,614.2 L574.2,616.2 L586.4,615.4 L598.6,616.8 L610.9,616.8 L623.1,615.5 L635.4,616.9 L647.6,606.4 L659.8,605.1 L672.1,618.9 L684.3,617.8" fill="none" stroke="#d6deae" stroke-width="0.6" stroke-opacity="0.2" stroke-linejoin="bevel"/>
<path d="M415.0,606.4 L427.3,604.5 L439.5,604.2 L451.8,605.1 L464.0,604.2 L476.2,602.9 L488.5,607.3 L500.7,605.8 L513.0,604.2 L525.2,605.6 L537.4,603.7 L549.7,605.3 L561.9,605.3 L574.2,606.6 L586.4,608.1 L598.6,604.9 L610.9,595.0 L623.1,605.9 L635.4,604.6 L647.6,603.9 L659.8,605.9 L672.1,603.2 L684.3,607.4" fill="none" stroke="#6eb264" stroke-width="0.6" stroke-opacity="0.2" stroke-linejoin="bevel"/>
<path d="M415.0,612.8 L427.3,612.6 L439.5,612.6 L451.8,612.1 L464.0,612.0 L476.2,614.0 L488.5,613.3 L500.7,601.5 L513.0,614.0 L525.2,612.2 L537.4,615.0 L549.7,615.2 L561.9,612.1 L574.2,604.1 L586.4,616.0 L598.6,607.3 L610.9,612.6 L623.1,614.6 L635.4,614.9 L647.6,616.5 L659.8,615.2 L672.1,612.0 L684.3,612.6" fill="none" stroke="#bad89c" stroke-width="0.6" stroke-opacity="0.2" stroke-linejoin="bevel"/>
<path d="M415.0,605.7 L427.3,606.7 L439.5,605.1 L451.8,606.8 L464.0,606.8 L476.2,607.6 L488.5,605.2 L500.7,600.3 L513.0,605.6 L525.2,604.9 L537.4,604.8 L549.7,608.9 L561.9,606.0 L574.2,604.8 L586.4,606.2 L598.6,606.8 L610.9,605.8 L623.1,607.0 L635.4,604.4 L647.6,606.8 L659.8,603.8 L672.1,604.3 L684.3,604.8" fill="none" stroke="#72b467" stroke-width="0.6" stroke-opacity="0.2" stroke-linejoin="bevel"/>
<path d="M415.0,604.7 L427.3,605.4 L439.5,605.8 L451.8,605.3 L464.0,603.8 L476.2,605.1 L488.5,603.6 L500.7,594.1 L513.0,605.6 L525.2,603.1 L537.4,603.3 L549.7,602.9 L561.9,605.0 L574.2,603.0 L586.4,604.7 L598.6,605.0 L610.9,604.8 L623.1,603.6 L635.4,603.9 L647.6,602.3 L659.8,605.8 L672.1,603.7 L684.3,604.6" fill="none" stroke="#69b061" stroke-width="0.6" stroke-opacity="0.2" stroke-linejoin="bevel"/>
<path d="M415.0,609.8 L427.3,611.1 L439.5,611.5 L451.8,608.5 L464.0,597.1 L476.2,610.6 L488.5,610.2 L500.7,610.9 L513.0,610.0 L525.2,608.4 L537.4,609.8 L549.7,610.9 L561.9,607.7 L574.2,609.3 L586.4,608.7 L598.6,609.7 L610.9,609.0 L623.1,609.5 L635.4,609.2 L647.6,609.2 L659.8,611.9 L672.1,610.7 L684.3,599.5" fill="none" stroke="#85bf73" stroke-width="0.6" stroke-opacity="0.2" stroke-linejoin="bevel"/>
<path d="M415.0,607.7 L427.3,610.6 L439.5,614.3 L451.8,612.2 L464.0,611.2 L476.2,614.4 L488.5,611.9 L500.7,610.9 L513.0,610.6 L525.2,610.7 L537.4,602.1 L549.7,614.0 L561.9,611.3 L574.2,614.6 L586.4,612.6 L598.6,613.1 L610.9,611.1 L623.1,611.4 L635.4,612.3 L647.6,611.9 L659.8,611.4 L672.1,615.7 L684.3,612.1" fill="none" stroke="#a2cd89" stroke-width="0.6" stroke-opacity="0.2" stroke-linejoin="bevel"/>
<path d="M415.0,612.8 L427.3,610.5 L439.5,611.2 L451.8,609.8 L464.0,611.2 L476.2,611.5 L488.5,602.9 L500.7,610.3 L513.0,611.1 L525.2,611.7 L537.4,609.3 L549.7,612.2 L561.9,615.3 L574.2,610.7 L586.4,613.5 L598.6,612.5 L610.9,610.5 L623.1,611.0 L635.4,612.7 L647.6,612.2 L659.8,602.4 L672.1,612.4 L684.3,612.9" fill="none" stroke="#90c57b" stroke-width="0.6" stroke-opacity="0.2" stroke-linejoin="bevel"/>
<path d="M415.0,613.3 L427.3,616.6 L439.5,614.3 L451.8,613.7 L464.0,614.5 L476.2,614.3 L488.5,614.1 L500.7,613.5 L513.0,617.1 L525.2,615.6 L537.4,612.7 L549.7,615.9 L561.9,614.7 L574.2,615.5 L586.4,612.7 L598.6,614.0 L610.9,617.0 L623.1,611.2 L635.4,612.8 L647.6,615.3 L659.8,613.2 L672.1,604.6 L684.3,614.0" fill="none" stroke="#b0d494" stroke-width="0.6" stroke-opacity="0.2" stroke-linejoin="bevel"/>
<path d="M415.0,614.5 L427.3,613.1 L439.5,611.0 L451.8,614.9 L464.0,613.6 L476.2,613.6 L488.5,613.8 L500.7,614.0 L513.0,606.7 L525.2,600.8 L537.4,613.2 L549.7,605.9 L561.9,613.6 L574.2,613.9 L586.4,615.0 L598.6,612.5 L610.9,613.7 L623.1,609.6 L635.4,611.9 L647.6,615.3 L659.8,612.5 L672.1,612.4 L684.3,614.2" fill="none" stroke="#afd393" stroke-width="0.6" stroke-opacity="0.2" stroke-linejoin="bevel"/>
<path d="M415.0,606.2 L427.3,603.5 L439.5,607.3 L451.8,607.3 L464.0,605.9 L476.2,605.0 L488.5,605.5 L500.7,606.8 L513.0,607.9 L525.2,605.7 L537.4,605.7 L549.7,603.3 L561.9,606.1 L574.2,606.2 L586.4,606.6 L598.6,605.5 L610.9,604.7 L623.1,607.5 L635.4,599.4 L647.6,604.9 L659.8,605.3 L672.1,604.1 L684.3,605.3" fill="none" stroke="#73b567" stroke-width="0.6" stroke-opacity="0.2" stroke-linejoin="bevel"/>
<path d="M415.0,610.8 L427.3,612.1 L439.5,611.2 L451.8,612.1 L464.0,612.5 L476.2,599.6 L488.5,611.8 L500.7,611.8 L513.0,611.6 L525.2,614.8 L537.4,603.5 L549.7,604.9 L561.9,612.6 L574.2,609.8 L586.4,613.1 L598.6,610.6 L610.9,613.0 L623.1,604.6 L635.4,611.0 L647.6,613.8 L659.8,610.9 L672.1,614.6 L684.3,610.4" fill="none" stroke="#9bca83" stroke-width="0.6" stroke-opacity="0.2" stroke-linejoin="bevel"/>
<path d="M415.0,609.1 L427.3,610.7 L439.5,610.4 L451.8,611.8 L464.0,610.6 L476.2,611.4 L488.5,610.1 L500.7,610.5 L513.0,609.3 L525.2,609.4 L537.4,610.4 L549.7,609.2 L561.9,610.1 L574.2,611.3 L586.4,612.2 L598.6,611.1 L610.9,609.2 L623.1,601.3 L635.4,612.9 L647.6,608.9 L659.8,610.7 L672.1,609.7 L684.3,611.7" fill="none" stroke="#88c175" stroke-width="0.6" stroke-opacity="0.2" stroke-linejoin="bevel"/>
<path d="M415.0,617.1 L427.3,617.6 L439.5,616.7 L451.8,610.6 L464.0,616.4 L476.2,615.4 L488.5,616.7 L500.7,617.1 L513.0,617.0 L525.2,614.9 L537.4,617.3 L549.7,614.8 L561.9,617.3 L574.2,618.3 L586.4,615.6 L598.6,616.5 L610.9,617.2 L623.1,619.4 L635.4,614.5 L647.6,614.6 L659.8,617.9 L672.1,618.6 L684.3,617.6" fill="none" stroke="#d4dfad" stroke-width="0.6" stroke-opacity="0.2" stroke-linejoin="bevel"/>
<path d="M415.0,605.9 L427.3,598.0 L439.5,605.0 L451.8,603.6 L464.0,604.4 L476.2,605.4 L488.5,603.0 L500.7,605.9 L513.0,603.6 L525.2,602.1 L537.4,605.2 L549.7,604.8 L561.9,601.8 L574.2,604.3 L586.4,604.0 L598.6,603.6 L610.9,604.2 L623.1,602.3 L635.4,603.5 L647.6,604.1 L659.8,604.4 L672.1,603.8 L684.3,605.4" fill="none" stroke="#69af60" stroke-width="0.6" stroke-opacity="0.2" stroke-linejoin="bevel"/>
<path d="M415.0,608.4 L427.3,611.3 L439.5,610.5 L451.8,610.0 L464.0,611.0 L476.2,610.7 L488.5,610.5 L500.7,611.4 L513.0,610.5 L525.2,612.7 L537.4,611.3 L549.7,612.2 L561.9,611.9 L574.2,611.1 L586.4,608.8 L598.6,611.7 L610.9,610.7 L623.1,610.0 L635.4,611.3 L647.6,610.2 L659.8,611.7 L672.1,611.0 L684.3,612.8" fill="none" stroke="#8ec479" stroke-width="0.6" stroke-opacity="0.2" stroke-linejoin="bevel"/>
<path d="M415.0,615.4 L427.3,613.9 L439.5,613.2 L451.8,615.2 L464.0,603.9 L476.2,615.0 L488.5,612.9 L500.7,616.0 L513.0,615.6 L525.2,612.8 L537.4,614.8 L549.7,616.9 L561.9,614.0 L574.2,617.0 L586.4,608.3 L598.6,611.8 L610.9,613.9 L623.1,613.9 L635.4,615.6 L647.6,604.2 L659.8,607.5 L672.1,615.0 L684.3,615.3" fill="none" stroke="#c2dca1" stroke-width="0.6" stroke-opacity="0.2" stroke-linejoin="bevel"/>
<path d="M415.0,615.2 L427.3,612.9 L439.5,615.0 L451.8,615.8 L464.0,614.0 L476.2,614.5 L488.5,612.7 L500.7,614.9 L513.0,614.5 L525.2,614.4 L537.4,615.7 L549.7,614.5 L561.9,613.1 L574.2,615.2 L586.4,615.9 L598.6,615.0 L610.9,615.3 L623.1,615.3 L635.4,617.0 L647.6,614.3 L659.8,615.5 L672.1,617.5 L684.3,615.2" fill="none" stroke="#cbe0a9" stroke-width="0.6" stroke-opacity="0.2" stroke-linejoin="bevel"/>
<path d="M415.0,608.3 L427.3,609.2 L439.5,607.5 L451.8,608.3 L464.0,611.3 L476.2,595.9 L488.5,609.7 L500.7,607.8 L513.0,608.8 L525.2,607.0 L537.4,610.2 L549.7,609.4 L561.9,607.9 L574.2,609.2 L586.4,606.7 L598.6,610.9 L610.9,607.7 L623.1,608.6 L635.4,610.0 L647.6,608.1 L659.8,604.4 L672.1,611.5 L684.3,611.6" fill="none" stroke="#83be72" stroke-width="0.6" stroke-opacity="0.2" stroke-linejoin="bevel"/>
<path d="M415.0,617.3 L427.3,617.5 L439.5,605.3 L451.8,618.2 L464.0,617.0 L476.2,616.6 L488.5,616.1 L500.7,616.5 L513.0,618.1 L525.2,615.9 L537.4,616.7 L549.7,619.0 L561.9,615.2 L574.2,617.0 L586.4,606.0 L598.6,616.5 L610.9,617.6 L623.1,617.4 L635.4,616.4 L647.6,616.3 L659.8,618.1 L672.1,617.1 L684.3,617.2" fill="none" stroke="#d9ddaf" stroke-width="0.6" stroke-opacity="0.2" stroke-linejoin="bevel"/>
<path d="M415.0,604.2 L427.3,615.2 L439.5,614.0 L451.8,612.5 L464.0,613.6 L476.2,615.4 L488.5,613.4 L500.7,615.7 L513.0,613.4 L525.2,612.6 L537.4,614.1 L549.7,616.9 L561.9,612.9 L574.2,614.7 L586.4,614.0 L598.6,612.7 L610.9,611.6 L623.1,613.2 L635.4,615.2 L647.6,613.7 L659.8,615.8 L672.1,612.7 L684.3,614.2" fill="none" stroke="#b1d494" stroke-width="0.6" stroke-opacity="0.2" stroke-linejoin="bevel"/>
<path d="M415.0,615.7 L427.3,613.5 L439.5,616.6 L451.8,613.0 L464.0,615.2 L476.2,613.7 L488.5,615.2 L500.7,618.1 L513.0,615.8 L525.2,615.1 L537.4,617.5 L549.7,615.5 L561.9,617.7 L574.2,615.7 L586.4,615.6 L598.6,617.2 L610.9,619.8 L623.1,615.0 L635.4,615.3 L647.6,619.0 L659.8,608.5 L672.1,617.2 L684.3,614.9" fill="none" stroke="#cfe0ab" stroke-width="0.6" stroke-opacity="0.2" stroke-linejoin="bevel"/>
<path d="M415.0,610.7 L427.3,616.7 L439.5,615.1 L451.8,613.6 L464.0,614.7 L476.2,614.5 L488.5,613.4 L500.7,614.0 L513.0,615.3 L525.2,616.4 L537.4,609.9 L549.7,613.8 L561.9,603.1 L574.2,614.1 L586.4,614.2 L598.6,613.0 L610.9,615.5 L623.1,614.2 L635.4,615.6 L647.6,613.0 L659.8,602.8 L672.1,616.8 L684.3,614.7" fill="none" stroke="#c3dca2" stroke-width="0.6" stroke-opacity="0.2" stroke-linejoin="bevel"/>
<path d="M415.0,615.6 L427.3,616.0 L439.5,615.7 L451.8,617.0 L464.0,614.3 L476.2,616.2 L488.5,613.1 L500.7,615.2 L513.0,613.2 L525.2,606.8 L537.4,613.4 L549.7,614.9 L561.9,617.9 L574.2,615.3 L586.4,616.4 L598.6,614.8 L610.9,614.9 L623.1,617.5 L635.4,615.5 L647.6,615.3 L659.8,615.8 L672.1,614.3 L684.3,615.0" fill="none" stroke="#c6dea5" stroke-width="0.6" stroke-opacity="0.2" stroke-linejoin="bevel"/>
<path d="M415.0,613.5 L427.3,614.8 L439.5,611.5 L451.8,615.8 L464.0,614.9 L476.2,613.2 L488.5,613.5 L500.7,614.6 L513.0,613.8 L525.2,614.0 L537.4,615.3 L549.7,614.5 L561.9,613.2 L574.2,611.9 L586.4,613.6 L598.6,611.7 L610.9,614.8 L623.1,612.9 L635.4,612.7 L647.6,613.8 L659.8,614.3 L672.1,613.2 L684.3,613.5" fill="none" stroke="#b2d596" stroke-width="0.6" stroke-opacity="0.2" stroke-linejoin="bevel"/>
<path d="M415.0,604.0 L427.3,613.9 L439.5,603.5 L451.8,615.1 L464.0,616.2 L476.2,613.2 L488.5,602.2 L500.7,613.2 L513.0,615.6 L525.2,612.9 L537.4,604.7 L549.7,616.4 L561.9,615.5 L574.2,615.5 L586.4,602.9 L598.6,615.5 L610.9,612.4 L623.1,611.9 L635.4,613.9 L647.6,614.0 L659.8,614.2 L672.1,611.6 L684.3,616.5" fill="none" stroke="#b6d799" stroke-width="0.6" stroke-opacity="0.2" stroke-linejoin="bevel"/>
<path d="M415.0,610.3 L427.3,609.5 L439.5,610.4 L451.8,610.3 L464.0,609.3 L476.2,602.0 L488.5,609.8 L500.7,610.3 L513.0,610.8 L525.2,610.2 L537.4,609.8 L549.7,607.8 L561.9,611.8 L574.2,603.0 L586.4,608.6 L598.6,611.0 L610.9,601.3 L623.1,608.0 L635.4,609.0 L647.6,610.3 L659.8,611.3 L672.1,607.3 L684.3,597.9" fill="none" stroke="#86c074" stroke-width="0.6" stroke-opacity="0.2" stroke-linejoin="bevel"/>
<path d="M415.0,610.3 L427.3,609.2 L439.5,609.1 L451.8,607.0 L464.0,609.4 L476.2,608.9 L488.5,609.3 L500.7,610.1 L513.0,609.5 L525.2,602.7 L537.4,597.5 L549.7,610.0 L561.9,608.5 L574.2,608.8 L586.4,604.0 L598.6,610.4 L610.9,609.6 L623.1,609.4 L635.4,611.1 L647.6,610.7 L659.8,611.0 L672.1,610.8 L684.3,608.6" fill="none" stroke="#86c074" stroke-width="0.6" stroke-opacity="0.2" stroke-linejoin="bevel"/>
<path d="M415.0,614.2 L427.3,616.0 L439.5,616.9 L451.8,615.2 L464.0,604.6 L476.2,616.7 L488.5,614.7 L500.7,617.2 L513.0,617.7 L525.2,617.2 L537.4,616.5 L549.7,619.4 L561.9,618.5 L574.2,617.2 L586.4,618.0 L598.6,617.1 L610.9,617.4 L623.1,615.6 L635.4,615.1 L647.6,617.1 L659.8,616.7 L672.1,615.5 L684.3,616.4" fill="none" stroke="#d9ddaf" stroke-width="0.6" stroke-opacity="0.2" stroke-linejoin="bevel"/>
<path d="M415.0,605.7 L427.3,604.6 L439.5,595.0 L451.8,607.4 L464.0,604.3 L476.2,605.2 L488.5,604.9 L500.7,608.4 L513.0,604.2 L525.2,595.2 L537.4,605.9 L549.7,604.6 L561.9,604.6 L574.2,608.2 L586.4,606.9 L598.6,595.5 L610.9,604.7 L623.1,597.3 L635.4,605.0 L647.6,605.6 L659.8,606.1 L672.1,606.5 L684.3,604.6" fill="none" stroke="#70b365" stroke-width="0.6" stroke-opacity="0.2" stroke-linejoin="bevel"/>
<path d="M415.0,597.5 L427.3,607.7 L439.5,605.7 L451.8,603.7 L464.0,605.6 L476.2,605.3 L488.5,605.5 L500.7,605.8 L513.0,606.9 L525.2,603.7 L537.4,605.4 L549.7,604.1 L561.9,605.5 L574.2,607.6 L586.4,604.0 L598.6,605.5 L610.9,607.8 L623.1,606.7 L635.4,607.7 L647.6,607.5 L659.8,607.4 L672.1,605.2 L684.3,606.7" fill="none" stroke="#74b668" stroke-width="0.6" stroke-opacity="0.2" stroke-linejoin="bevel"/>
<path d="M415.0,610.4 L427.3,612.3 L439.5,601.6 L451.8,613.1 L464.0,608.5 L476.2,610.2 L488.5,604.6 L500.7,612.9 L513.0,611.7 L525.2,609.6 L537.4,610.0 L549.7,610.2 L561.9,610.1 L574.2,612.8 L586.4,599.4 L598.6,611.4 L610.9,612.3 L623.1,612.0 L635.4,610.6 L647.6,610.2 L659.8,612.4 L672.1,612.3 L684.3,614.0" fill="none" stroke="#8cc378" stroke-width="0.6" stroke-opacity="0.2" stroke-linejoin="bevel"/>
<path d="M415.0,612.7 L427.3,613.8 L439.5,613.1 L451.8,612.1 L464.0,610.7 L476.2,611.5 L488.5,613.4 L500.7,613.8 L513.0,611.7 L525.2,612.1 L537.4,611.2 L549.7,612.5 L561.9,615.3 L574.2,612.5 L586.4,614.7 L598.6,613.7 L610.9,607.7 L623.1,613.5 L635.4,612.0 L647.6,612.7 L659.8,610.1 L672.1,612.7 L684.3,605.5" fill="none" stroke="#add291" stroke-width="0.6" stroke-opacity="0.2" stroke-linejoin="bevel"/>
<path d="M415.0,610.0 L427.3,612.0 L439.5,608.8 L451.8,609.5 L464.0,610.7 L476.2,610.4 L488.5,609.8 L500.7,610.3 L513.0,609.5 L525.2,611.4 L537.4,611.3 L549.7,609.0 L561.9,609.7 L574.2,611.5 L586.4,613.3 L598.6,610.5 L610.9,609.2 L623.1,611.4 L635.4,610.9 L647.6,611.6 L659.8,609.5 L672.1,609.7 L684.3,611.2" fill="none" stroke="#87c074" stroke-width="0.6" stroke-opacity="0.2" stroke-linejoin="bevel"/>
<path d="M415.0,603.6 L427.3,605.1 L439.5,604.3 L451.8,606.2 L464.0,608.8 L476.2,607.3 L488.5,605.4 L500.7,594.1 L513.0,605.5 L525.2,606.7 L537.4,605.3 L549.7,605.8 L561.9,606.6 L574.2,605.8 L586.4,606.8 L598.6,604.8 L610.9,605.7 L623.1,604.1 L635.4,606.4 L647.6,604.0 L659.8,605.5 L672.1,605.2 L684.3,606.1" fill="none" stroke="#70b466" stroke-width="0.6" stroke-opacity="0.2" stroke-linejoin="bevel"/>
<path d="M415.0,606.3 L427.3,605.4 L439.5,605.5 L451.8,606.3 L464.0,604.2 L476.2,603.6 L488.5,607.5 L500.7,606.5 L513.0,604.2 L525.2,604.4 L537.4,604.6 L549.7,605.6 L561.9,605.3 L574.2,605.0 L586.4,606.6 L598.6,604.5 L610.9,604.8 L623.1,605.5 L635.4,606.0 L647.6,606.9 L659.8,606.2 L672.1,604.1 L684.3,604.8" fill="none" stroke="#72b567" stroke-width="0.6" stroke-opacity="0.2" stroke-linejoin="bevel"/>
<path d="M415.0,611.0 L427.3,610.7 L439.5,609.4 L451.8,609.2 L464.0,610.3 L476.2,604.5 L488.5,612.7 L500.7,612.0 L513.0,611.6 L525.2,612.7 L537.4,612.3 L549.7,608.8 L561.9,611.9 L574.2,609.3 L586.4,611.0 L598.6,609.3 L610.9,610.9 L623.1,609.6 L635.4,610.4 L647.6,609.9 L659.8,609.0 L672.1,609.8 L684.3,612.8" fill="none" stroke="#8bc378" stroke-width="0.6" stroke-opacity="0.2" stroke-linejoin="bevel"/>
<path d="M415.0,605.3 L427.3,606.8 L439.5,605.3 L451.8,603.0 L464.0,604.8 L476.2,605.1 L488.5,605.4 L500.7,606.1 L513.0,603.3 L525.2,607.5 L537.4,605.4 L549.7,605.1 L561.9,606.0 L574.2,607.8 L586.4,604.4 L598.6,606.1 L610.9,604.4 L623.1,604.7 L635.4,607.2 L647.6,603.2 L659.8,607.1 L672.1,604.9 L684.3,605.7" fill="none" stroke="#6db263" stroke-width="0.6" stroke-opacity="0.2" stroke-linejoin="bevel"/>
<path d="M415.0,616.3 L427.3,616.4 L439.5,619.9 L451.8,618.8 L464.0,607.4 L476.2,616.9 L488.5,618.6 L500.7,618.6 L513.0,607.7 L525.2,618.2 L537.4,618.1 L549.7,613.9 L561.9,616.6 L574.2,618.6 L586.4,618.8 L598.6,616.8 L610.9,606.4 L623.1,615.8 L635.4,616.6 L647.6,618.1 L659.8,618.5 L672.1,620.6 L684.3,605.4" fill="none" stroke="#dcdcb0" stroke-width="0.6" stroke-opacity="0.2" stroke-linejoin="bevel"/>
<path d="M415.0,609.5 L427.3,611.7 L439.5,608.5 L451.8,609.7 L464.0,610.9 L476.2,609.7 L488.5,609.6 L500.7,608.0 L513.0,611.9 L525.2,611.4 L537.4,608.7 L549.7,595.8 L561.9,609.1 L574.2,609.8 L586.4,600.1 L598.6,608.5 L610.9,611.0 L623.1,600.8 L635.4,610.4 L647.6,609.8 L659.8,608.7 L672.1,608.3 L684.3,610.0" fill="none" stroke="#84bf73" stroke-width="0.6" stroke-opacity="0.2" stroke-linejoin="bevel"/>
<path d="M415.0,604.5 L427.3,605.2 L439.5,605.5 L451.8,605.7 L464.0,606.7 L476.2,604.7 L488.5,606.0 L500.7,606.0 L513.0,605.5 L525.2,604.9 L537.4,605.5 L549.7,605.4 L561.9,598.9 L574.2,605.5 L586.4,605.7 L598.6,606.1 L610.9,604.9 L623.1,606.2 L635.4,606.4 L647.6,604.2 L659.8,605.5 L672.1,605.6 L684.3,605.0" fill="none" stroke="#70b365" stroke-width="0.6" stroke-opacity="0.2" stroke-linejoin="bevel"/>
<path d="M415.0,610.2 L427.3,608.8 L439.5,611.1 L451.8,609.8 L464.0,610.2 L476.2,609.9 L488.5,611.2 L500.7,611.8 L513.0,611.2 L525.2,608.8 L537.4,608.7 L549.7,609.5 L561.9,609.4 L574.2,609.8 L586.4,612.3 L598.6,600.6 L610.9,609.4 L623.1,611.1 L635.4,608.6 L647.6,610.9 L659.8,607.9 L672.1,610.7 L684.3,610.3" fill="none" stroke="#88c175" stroke-width="0.6" stroke-opacity="0.2" stroke-linejoin="bevel"/>
<path d="M415.0,614.4 L427.3,615.4 L439.5,614.5 L451.8,613.7 L464.0,607.1 L476.2,615.0 L488.5,616.1 L500.7,616.5 L513.0,614.4 L525.2,612.9 L537.4,614.3 L549.7,614.8 L561.9,614.6 L574.2,611.3 L586.4,614.7 L598.6,613.8 L610.9,613.1 L623.1,616.6 L635.4,615.9 L647.6,615.2 L659.8,605.5 L672.1,612.2 L684.3,612.8" fill="none" stroke="#b8d89a" stroke-width="0.6" stroke-opacity="0.2" stroke-linejoin="bevel"/>
<path d="M415.0,607.4 L427.3,604.9 L439.5,602.9 L451.8,605.6 L464.0,604.5 L476.2,605.9 L488.5,605.0 L500.7,606.2 L513.0,603.3 L525.2,605.9 L537.4,591.9 L549.7,604.9 L561.9,605.5 L574.2,603.9 L586.4,594.5 L598.6,607.8 L610.9,604.5 L623.1,605.5 L635.4,603.6 L647.6,603.6 L659.8,605.3 L672.1,603.3 L684.3,604.8" fill="none" stroke="#6db263" stroke-width="0.6" stroke-opacity="0.2" stroke-linejoin="bevel"/>
<path d="M415.0,607.1 L427.3,605.8 L439.5,608.2 L451.8,606.1 L464.0,607.5 L476.2,605.8 L488.5,605.4 L500.7,606.0 L513.0,606.5 L525.2,606.0 L537.4,604.9 L549.7,605.5 L561.9,597.1 L574.2,608.2 L586.4,606.1 L598.6,604.2 L610.9,605.9 L623.1,606.8 L635.4,607.6 L647.6,603.9 L659.8,605.3 L672.1,599.0 L684.3,607.4" fill="none" stroke="#74b568" stroke-width="0.6" stroke-opacity="0.2" stroke-linejoin="bevel"/>
<path d="M415.0,616.1 L427.3,614.2 L439.5,615.0 L451.8,616.4 L464.0,613.7 L476.2,615.3 L488.5,612.9 L500.7,614.9 L513.0,601.6 L525.2,613.9 L537.4,612.3 L549.7,613.0 L561.9,606.5 L574.2,615.6 L586.4,614.6 L598.6,611.2 L610.9,615.7 L623.1,615.0 L635.4,606.0 L647.6,613.5 L659.8,615.5 L672.1,612.4 L684.3,612.4" fill="none" stroke="#b7d799" stroke-width="0.6" stroke-opacity="0.2" stroke-linejoin="bevel"/>
<path d="M415.0,613.7 L427.3,617.2 L439.5,616.0 L451.8,614.1 L464.0,615.3 L476.2,615.3 L488.5,617.9 L500.7,615.9 L513.0,615.5 L525.2,615.9 L537.4,616.7 L549.7,615.6 L561.9,617.1 L574.2,617.6 L586.4,616.8 L598.6,617.9 L610.9,616.6 L623.1,615.6 L635.4,615.2 L647.6,615.7 L659.8,615.4 L672.1,605.8 L684.3,617.4" fill="none" stroke="#d2dfac" stroke-width="0.6" stroke-opacity="0.2" stroke-linejoin="bevel"/>
<path d="M415.0,608.1 L427.3,607.0 L439.5,593.7 L451.8,607.3 L464.0,604.8 L476.2,607.1 L488.5,598.3 L500.7,605.8 L513.0,600.0 L525.2,594.0 L537.4,595.7 L549.7,603.4 L561.9,604.0 L574.2,608.6 L586.4,606.2 L598.6,607.0 L610.9,606.8 L623.1,604.6 L635.4,606.6 L647.6,608.2 L659.8,608.3 L672.1,606.8 L684.3,605.5" fill="none" stroke="#74b668" stroke-width="0.6" stroke-opacity="0.2" stroke-linejoin="bevel"/>
<path d="M415.0,609.1 L427.3,607.0 L439.5,608.7 L451.8,609.1 L464.0,609.6 L476.2,606.4 L488.5,608.7 L500.7,609.2 L513.0,608.7 L525.2,606.0 L537.4,607.1 L549.7,609.0 L561.9,607.7 L574.2,608.0 L586.4,610.9 L598.6,609.1 L610.9,609.7 L623.1,606.4 L635.4,610.9 L647.6,608.4 L659.8,608.5 L672.1,603.1 L684.3,609.1" fill="none" stroke="#7dbb6e" stroke-width="0.6" stroke-opacity="0.2" stroke-linejoin="bevel"/>
<path d="M415.0,611.9 L427.3,610.4 L439.5,613.3 L451.8,612.6 L464.0,612.8 L476.2,613.3 L488.5,612.0 L500.7,612.2 L513.0,615.1 L525.2,611.7 L537.4,612.5 L549.7,611.5 L561.9,613.1 L574.2,612.7 L586.4,610.9 L598.6,613.5 L610.9,611.8 L623.1,607.1 L635.4,611.3 L647.6,613.2 L659.8,611.3 L672.1,612.1 L684.3,613.9" fill="none" stroke="#9fcc87" stroke-width="0.6" stroke-opacity="0.2" stroke-linejoin="bevel"/>
<path d="M415.0,611.1 L427.3,609.2 L439.5,609.5 L451.8,611.8 L464.0,604.2 L476.2,612.0 L488.5,610.9 L500.7,609.4 L513.0,611.1 L525.2,610.4 L537.4,609.6 L549.7,610.2 L561.9,610.7 L574.2,611.6 L586.4,609.5 L598.6,608.2 L610.9,598.7 L623.1,613.4 L635.4,610.6 L647.6,612.1 L659.8,611.3 L672.1,610.4 L684.3,608.9" fill="none" stroke="#89c176" stroke-width="0.6" stroke-opacity="0.2" stroke-linejoin="bevel"/>
<path d="M415.0,617.1 L427.3,616.4 L439.5,619.9 L451.8,617.3 L464.0,619.2 L476.2,620.0 L488.5,615.7 L500.7,615.2 L513.0,618.2 L525.2,619.5 L537.4,618.9 L549.7,619.6 L561.9,613.0 L574.2,617.9 L586.4,616.9 L598.6,617.5 L610.9,617.3 L623.1,609.2 L635.4,617.0 L647.6,618.2 L659.8,615.6 L672.1,618.2 L684.3,618.1" fill="none" stroke="#dddcb1" stroke-width="0.6" stroke-opacity="0.2" stroke-linejoin="bevel"/>
<path d="M415.0,603.0 L427.3,603.6 L439.5,605.4 L451.8,605.1 L464.0,602.6 L476.2,603.6 L488.5,604.1 L500.7,594.2 L513.0,603.5 L525.2,601.6 L537.4,604.7 L549.7,597.9 L561.9,605.2 L574.2,603.7 L586.4,603.8 L598.6,604.9 L610.9,604.4 L623.1,604.3 L635.4,607.2 L647.6,605.1 L659.8,604.4 L672.1,594.3 L684.3,601.2" fill="none" stroke="#6bb062" stroke-width="0.6" stroke-opacity="0.2" stroke-linejoin="bevel"/>
<path d="M415.0,622.9 L427.3,621.0 L439.5,620.6 L451.8,620.5 L464.0,622.1 L476.2,621.0 L488.5,621.5 L500.7,619.5 L513.0,620.8 L525.2,622.2 L537.4,618.8 L549.7,622.5 L561.9,622.6 L574.2,619.2 L586.4,623.4 L598.6,620.0 L610.9,621.0 L623.1,621.1 L635.4,619.2 L647.6,621.3 L659.8,621.0 L672.1,622.4 L684.3,613.2" fill="none" stroke="#eed2b4" stroke-width="0.6" stroke-opacity="0.16" stroke-linejoin="bevel"/>
<path d="M415.0,622.9 L427.3,621.3 L439.5,622.3 L451.8,623.8 L464.0,622.1 L476.2,620.0 L488.5,619.8 L500.7,621.5 L513.0,614.3 L525.2,619.5 L537.4,621.0 L549.7,621.1 L561.9,621.8 L574.2,615.2 L586.4,620.7 L598.6,620.0 L610.9,620.1 L623.1,620.4 L635.4,622.6 L647.6,620.8 L659.8,618.6 L672.1,621.4 L684.3,621.1" fill="none" stroke="#eed2b3" stroke-width="0.6" stroke-opacity="0.16" stroke-linejoin="bevel"/>
<path d="M415.0,620.5 L427.3,621.1 L439.5,619.0 L451.8,619.2 L464.0,620.2 L476.2,618.7 L488.5,620.9 L500.7,620.8 L513.0,619.0 L525.2,619.5 L537.4,617.9 L549.7,611.9 L561.9,620.2 L574.2,619.8 L586.4,620.7 L598.6,620.3 L610.9,618.7 L623.1,619.3 L635.4,619.3 L647.6,620.9 L659.8,619.8 L672.1,615.2 L684.3,621.4" fill="none" stroke="#efd6b8" stroke-width="0.6" stroke-opacity="0.16" stroke-linejoin="bevel"/>
<path d="M415.0,619.0 L427.3,620.3 L439.5,621.1 L451.8,620.1 L464.0,621.2 L476.2,619.2 L488.5,619.3 L500.7,617.5 L513.0,620.8 L525.2,621.1 L537.4,620.1 L549.7,619.5 L561.9,618.9 L574.2,619.2 L586.4,622.0 L598.6,621.2 L610.9,621.1 L623.1,620.2 L635.4,620.1 L647.6,621.4 L659.8,622.3 L672.1,619.2 L684.3,617.8" fill="none" stroke="#f0d6b9" stroke-width="0.6" stroke-opacity="0.16" stroke-linejoin="bevel"/>
<path d="M415.0,618.5 L427.3,619.0 L439.5,620.8 L451.8,619.9 L464.0,619.4 L476.2,618.5 L488.5,618.0 L500.7,618.1 L513.0,618.0 L525.2,620.1 L537.4,615.4 L549.7,618.2 L561.9,618.7 L574.2,618.5 L586.4,618.8 L598.6,620.5 L610.9,618.0 L623.1,616.7 L635.4,619.0 L647.6,620.8 L659.8,618.5 L672.1,619.1 L684.3,620.2" fill="none" stroke="#e8d8b6" stroke-width="0.6" stroke-opacity="0.16" stroke-linejoin="bevel"/>
<path d="M415.0,620.2 L427.3,619.3 L439.5,619.6 L451.8,618.8 L464.0,619.4 L476.2,619.3 L488.5,619.1 L500.7,621.1 L513.0,610.9 L525.2,620.4 L537.4,619.2 L549.7,620.4 L561.9,619.5 L574.2,619.6 L586.4,620.5 L598.6,620.2 L610.9,619.0 L623.1,614.1 L635.4,620.8 L647.6,621.1 L659.8,620.6 L672.1,618.3 L684.3,617.9" fill="none" stroke="#edd7b8" stroke-width="0.6" stroke-opacity="0.16" stroke-linejoin="bevel"/>
<path d="M415.0,622.5 L427.3,619.1 L439.5,620.3 L451.8,618.7 L464.0,618.8 L476.2,619.8 L488.5,619.1 L500.7,618.2 L513.0,620.4 L525.2,620.7 L537.4,620.2 L549.7,620.2 L561.9,620.9 L574.2,617.9 L586.4,620.4 L598.6,620.7 L610.9,622.7 L623.1,620.4 L635.4,619.0 L647.6,620.1 L659.8,620.8 L672.1,620.5 L684.3,618.8" fill="none" stroke="#f0d6b9" stroke-width="0.6" stroke-opacity="0.16" stroke-linejoin="bevel"/>
<path d="M415.0,619.5 L427.3,619.1 L439.5,617.0 L451.8,618.1 L464.0,612.9 L476.2,618.9 L488.5,616.3 L500.7,615.2 L513.0,619.8 L525.2,617.1 L537.4,615.9 L549.7,617.2 L561.9,618.4 L574.2,617.3 L586.4,620.5 L598.6,618.3 L610.9,613.0 L623.1,618.1 L635.4,617.3 L647.6,619.9 L659.8,618.3 L672.1,617.8 L684.3,619.2" fill="none" stroke="#e1dbb3" stroke-width="0.6" stroke-opacity="0.16" stroke-linejoin="bevel"/>
<path d="M415.0,621.0 L427.3,616.3 L439.5,619.1 L451.8,618.3 L464.0,619.6 L476.2,617.9 L488.5,616.9 L500.7,617.8 L513.0,616.7 L525.2,615.4 L537.4,615.7 L549.7,616.7 L561.9,616.5 L574.2,618.6 L586.4,619.1 L598.6,616.8 L610.9,619.2 L623.1,616.9 L635.4,620.5 L647.6,616.9 L659.8,615.3 L672.1,617.8 L684.3,618.4" fill="none" stroke="#dfdbb2" stroke-width="0.6" stroke-opacity="0.16" stroke-linejoin="bevel"/>
<path d="M415.0,623.9 L427.3,621.6 L439.5,625.7 L451.8,621.5 L464.0,623.0 L476.2,623.2 L488.5,623.2 L500.7,622.9 L513.0,621.9 L525.2,620.5 L537.4,625.7 L549.7,624.4 L561.9,625.6 L574.2,623.4 L586.4,621.5 L598.6,621.8 L610.9,620.6 L623.1,622.2 L635.4,622.3 L647.6,623.9 L659.8,624.2 L672.1,623.0 L684.3,620.9" fill="none" stroke="#ebcdad" stroke-width="0.6" stroke-opacity="0.16" stroke-linejoin="bevel"/>
<path d="M415.0,616.4 L427.3,616.8 L439.5,616.9 L451.8,617.2 L464.0,616.8 L476.2,617.0 L488.5,617.6 L500.7,618.8 L513.0,619.3 L525.2,614.3 L537.4,619.1 L549.7,608.8 L561.9,615.1 L574.2,616.8 L586.4,615.3 L598.6,616.1 L610.9,619.0 L623.1,618.8 L635.4,616.9 L647.6,616.7 L659.8,617.8 L672.1,616.2 L684.3,617.4" fill="none" stroke="#dbddb0" stroke-width="0.6" stroke-opacity="0.16" stroke-linejoin="bevel"/>
<path d="M415.0,621.3 L427.3,621.6 L439.5,620.2 L451.8,622.4 L464.0,619.7 L476.2,618.1 L488.5,619.9 L500.7,621.0 L513.0,619.5 L525.2,619.6 L537.4,618.6 L549.7,616.9 L561.9,621.4 L574.2,622.5 L586.4,619.3 L598.6,622.2 L610.9,619.6 L623.1,621.0 L635.4,621.9 L647.6,620.8 L659.8,622.0 L672.1,613.3 L684.3,622.2" fill="none" stroke="#efd5b7" stroke-width="0.6" stroke-opacity="0.16" stroke-linejoin="bevel"/>
<path d="M415.0,618.1 L427.3,618.9 L439.5,618.8 L451.8,618.7 L464.0,620.6 L476.2,618.8 L488.5,619.0 L500.7,620.4 L513.0,619.2 L525.2,617.5 L537.4,618.5 L549.7,619.6 L561.9,616.7 L574.2,619.0 L586.4,619.5 L598.6,619.3 L610.9,618.5 L623.1,620.9 L635.4,617.6 L647.6,619.9 L659.8,619.4 L672.1,618.5 L684.3,620.4" fill="none" stroke="#e5d9b4" stroke-width="0.6" stroke-opacity="0.16" stroke-linejoin="bevel"/>
<path d="M415.0,619.4 L427.3,617.0 L439.5,618.4 L451.8,617.6 L464.0,619.8 L476.2,618.7 L488.5,618.7 L500.7,618.5 L513.0,618.7 L525.2,619.2 L537.4,617.4 L549.7,617.3 L561.9,616.9 L574.2,616.0 L586.4,619.2 L598.6,619.1 L610.9,620.8 L623.1,617.9 L635.4,617.7 L647.6,615.5 L659.8,619.7 L672.1,616.3 L684.3,618.7" fill="none" stroke="#e3dab3" stroke-width="0.6" stroke-opacity="0.16" stroke-linejoin="bevel"/>
<path d="M415.0,616.8 L427.3,620.2 L439.5,606.5 L451.8,617.0 L464.0,617.2 L476.2,619.2 L488.5,617.8 L500.7,616.8 L513.0,618.4 L525.2,619.1 L537.4,618.0 L549.7,617.3 L561.9,618.9 L574.2,615.4 L586.4,619.2 L598.6,618.5 L610.9,617.6 L623.1,618.1 L635.4,616.4 L647.6,615.8 L659.8,616.8 L672.1,617.2 L684.3,620.4" fill="none" stroke="#dfdbb2" stroke-width="0.6" stroke-opacity="0.16" stroke-linejoin="bevel"/>
<path d="M415.0,617.7 L427.3,618.8 L439.5,617.8 L451.8,619.4 L464.0,619.8 L476.2,617.6 L488.5,615.8 L500.7,617.5 L513.0,618.2 L525.2,617.5 L537.4,617.4 L549.7,612.1 L561.9,617.8 L574.2,619.6 L586.4,617.1 L598.6,618.0 L610.9,618.4 L623.1,619.6 L635.4,616.9 L647.6,620.1 L659.8,616.8 L672.1,618.4 L684.3,618.8" fill="none" stroke="#e4dab4" stroke-width="0.6" stroke-opacity="0.16" stroke-linejoin="bevel"/>
<path d="M415.0,620.6 L427.3,621.1 L439.5,621.2 L451.8,620.3 L464.0,621.1 L476.2,619.8 L488.5,620.7 L500.7,620.7 L513.0,620.5 L525.2,620.2 L537.4,619.7 L549.7,622.1 L561.9,621.1 L574.2,620.2 L586.4,623.2 L598.6,621.3 L610.9,624.0 L623.1,622.7 L635.4,623.5 L647.6,622.5 L659.8,623.4 L672.1,622.4 L684.3,621.9" fill="none" stroke="#ecceaf" stroke-width="0.6" stroke-opacity="0.16" stroke-linejoin="bevel"/>
<path d="M415.0,619.7 L427.3,616.4 L439.5,620.7 L451.8,619.0 L464.0,620.1 L476.2,620.4 L488.5,618.2 L500.7,619.9 L513.0,617.1 L525.2,621.9 L537.4,618.6 L549.7,618.6 L561.9,618.1 L574.2,618.9 L586.4,619.1 L598.6,620.0 L610.9,619.2 L623.1,608.1 L635.4,620.7 L647.6,617.7 L659.8,618.7 L672.1,620.8 L684.3,610.4" fill="none" stroke="#ead8b6" stroke-width="0.6" stroke-opacity="0.16" stroke-linejoin="bevel"/>
<path d="M415.0,619.9 L427.3,620.4 L439.5,620.8 L451.8,619.2 L464.0,619.3 L476.2,619.1 L488.5,620.4 L500.7,621.6 L513.0,617.4 L525.2,620.0 L537.4,618.8 L549.7,620.9 L561.9,620.6 L574.2,620.6 L586.4,621.4 L598.6,619.4 L610.9,617.0 L623.1,619.8 L635.4,620.9 L647.6,620.0 L659.8,619.9 L672.1,618.7 L684.3,620.6" fill="none" stroke="#edd7b8" stroke-width="0.6" stroke-opacity="0.16" stroke-linejoin="bevel"/>
<path d="M415.0,619.4 L427.3,618.9 L439.5,617.7 L451.8,619.4 L464.0,620.5 L476.2,620.2 L488.5,618.3 L500.7,621.3 L513.0,619.1 L525.2,620.3 L537.4,617.1 L549.7,619.8 L561.9,620.2 L574.2,617.8 L586.4,619.3 L598.6,621.0 L610.9,620.3 L623.1,620.0 L635.4,620.4 L647.6,619.4 L659.8,619.8 L672.1,618.5 L684.3,620.8" fill="none" stroke="#edd7b8" stroke-width="0.6" stroke-opacity="0.16" stroke-linejoin="bevel"/>
<path d="M415.0,618.2 L427.3,616.8 L439.5,619.2 L451.8,619.5 L464.0,617.7 L476.2,614.6 L488.5,618.1 L500.7,618.2 L513.0,616.6 L525.2,617.2 L537.4,618.9 L549.7,617.8 L561.9,619.2 L574.2,620.0 L586.4,618.3 L598.6,617.7 L610.9,617.8 L623.1,615.4 L635.4,614.5 L647.6,618.7 L659.8,616.6 L672.1,619.9 L684.3,618.3" fill="none" stroke="#dddcb1" stroke-width="0.6" stroke-opacity="0.16" stroke-linejoin="bevel"/>
<path d="M415.0,618.9 L427.3,619.0 L439.5,619.9 L451.8,621.0 L464.0,619.0 L476.2,617.4 L488.5,619.5 L500.7,610.7 L513.0,618.1 L525.2,620.1 L537.4,620.1 L549.7,617.8 L561.9,616.9 L574.2,619.1 L586.4,619.1 L598.6,618.6 L610.9,619.8 L623.1,617.6 L635.4,618.2 L647.6,619.4 L659.8,619.7 L672.1,617.9 L684.3,617.4" fill="none" stroke="#e8d9b5" stroke-width="0.6" stroke-opacity="0.16" stroke-linejoin="bevel"/>
<path d="M415.0,617.9 L427.3,612.4 L439.5,617.7 L451.8,613.1 L464.0,616.0 L476.2,617.4 L488.5,617.8 L500.7,618.4 L513.0,612.2 L525.2,618.1 L537.4,618.6 L549.7,621.3 L561.9,618.0 L574.2,617.7 L586.4,613.6 L598.6,618.0 L610.9,617.7 L623.1,616.2 L635.4,621.2 L647.6,618.1 L659.8,619.2 L672.1,614.0 L684.3,617.3" fill="none" stroke="#e4dab4" stroke-width="0.6" stroke-opacity="0.16" stroke-linejoin="bevel"/>
<path d="M415.0,624.1 L427.3,614.9 L439.5,622.4 L451.8,618.8 L464.0,620.5 L476.2,620.9 L488.5,621.8 L500.7,622.3 L513.0,624.6 L525.2,621.5 L537.4,624.8 L549.7,622.6 L561.9,621.9 L574.2,624.3 L586.4,622.4 L598.6,621.5 L610.9,621.7 L623.1,622.0 L635.4,624.9 L647.6,623.8 L659.8,623.2 L672.1,623.1 L684.3,623.7" fill="none" stroke="#ebcbab" stroke-width="0.6" stroke-opacity="0.16" stroke-linejoin="bevel"/>
<path d="M415.0,617.9 L427.3,619.0 L439.5,619.3 L451.8,616.8 L464.0,618.8 L476.2,612.4 L488.5,619.6 L500.7,612.0 L513.0,610.4 L525.2,617.7 L537.4,618.0 L549.7,616.9 L561.9,620.0 L574.2,616.9 L586.4,615.5 L598.6,609.8 L610.9,620.3 L623.1,615.4 L635.4,617.4 L647.6,617.7 L659.8,617.1 L672.1,615.8 L684.3,615.4" fill="none" stroke="#dcdcb0" stroke-width="0.6" stroke-opacity="0.16" stroke-linejoin="bevel"/>
<path d="M415.0,619.9 L427.3,622.1 L439.5,618.8 L451.8,620.9 L464.0,621.9 L476.2,619.0 L488.5,620.7 L500.7,623.4 L513.0,621.5 L525.2,620.2 L537.4,620.8 L549.7,621.2 L561.9,614.4 L574.2,620.8 L586.4,620.9 L598.6,622.2 L610.9,622.7 L623.1,620.2 L635.4,620.6 L647.6,621.9 L659.8,617.9 L672.1,620.1 L684.3,619.9" fill="none" stroke="#eed3b5" stroke-width="0.6" stroke-opacity="0.16" stroke-linejoin="bevel"/>
<path d="M415.0,623.3 L427.3,623.0 L439.5,622.4 L451.8,623.9 L464.0,620.6 L476.2,624.2 L488.5,622.4 L500.7,622.1 L513.0,621.1 L525.2,622.1 L537.4,622.4 L549.7,621.0 L561.9,623.2 L574.2,623.6 L586.4,622.5 L598.6,622.2 L610.9,621.6 L623.1,622.9 L635.4,626.2 L647.6,624.0 L659.8,622.3 L672.1,622.2 L684.3,623.2" fill="none" stroke="#ebcbac" stroke-width="0.6" stroke-opacity="0.16" stroke-linejoin="bevel"/>
<path d="M415.0,616.6 L427.3,611.9 L439.5,616.6 L451.8,618.9 L464.0,618.0 L476.2,619.5 L488.5,619.5 L500.7,617.8 L513.0,618.4 L525.2,618.0 L537.4,618.0 L549.7,617.2 L561.9,620.6 L574.2,618.2 L586.4,616.7 L598.6,619.6 L610.9,617.4 L623.1,616.7 L635.4,619.7 L647.6,621.0 L659.8,619.5 L672.1,617.2 L684.3,618.1" fill="none" stroke="#e4dab4" stroke-width="0.6" stroke-opacity="0.16" stroke-linejoin="bevel"/>
<path d="M415.0,621.9 L427.3,623.2 L439.5,622.6 L451.8,623.2 L464.0,623.7 L476.2,623.8 L488.5,622.1 L500.7,623.2 L513.0,620.9 L525.2,621.7 L537.4,620.9 L549.7,621.6 L561.9,621.5 L574.2,620.3 L586.4,620.5 L598.6,622.6 L610.9,621.8 L623.1,625.1 L635.4,619.7 L647.6,622.8 L659.8,623.2 L672.1,615.9 L684.3,621.4" fill="none" stroke="#ebccac" stroke-width="0.6" stroke-opacity="0.16" stroke-linejoin="bevel"/>
<path d="M415.0,620.0 L427.3,622.3 L439.5,620.0 L451.8,620.9 L464.0,620.7 L476.2,620.0 L488.5,620.1 L500.7,619.4 L513.0,617.7 L525.2,619.3 L537.4,619.2 L549.7,622.8 L561.9,610.9 L574.2,620.2 L586.4,620.4 L598.6,617.1 L610.9,620.0 L623.1,619.4 L635.4,619.2 L647.6,618.9 L659.8,620.0 L672.1,618.9 L684.3,620.3" fill="none" stroke="#eed7b8" stroke-width="0.6" stroke-opacity="0.16" stroke-linejoin="bevel"/>
<path d="M415.0,630.3 L427.3,629.2 L439.5,630.3 L451.8,629.6 L464.0,629.4 L476.2,629.8 L488.5,632.6 L500.7,635.0 L513.0,631.2 L525.2,630.2 L537.4,629.2 L549.7,629.2 L561.9,627.5 L574.2,630.9 L586.4,631.5 L598.6,630.0 L610.9,630.1 L623.1,630.8 L635.4,630.8 L647.6,628.9 L659.8,630.4 L672.1,630.7 L684.3,629.7" fill="none" stroke="#d2a680" stroke-width="0.6" stroke-opacity="0.2" stroke-linejoin="bevel"/>
<path d="M415.0,638.8 L427.3,635.9 L439.5,638.9 L451.8,637.1 L464.0,636.5 L476.2,635.9 L488.5,636.9 L500.7,636.3 L513.0,635.6 L525.2,639.3 L537.4,637.6 L549.7,636.1 L561.9,635.7 L574.2,638.2 L586.4,638.5 L598.6,639.3 L610.9,638.5 L623.1,637.5 L635.4,636.3 L647.6,637.6 L659.8,635.7 L672.1,638.4 L684.3,638.3" fill="none" stroke="#a6744c" stroke-width="0.6" stroke-opacity="0.2" stroke-linejoin="bevel"/>
<path d="M415.0,634.5 L427.3,633.9 L439.5,634.6 L451.8,633.4 L464.0,634.9 L476.2,634.7 L488.5,632.7 L500.7,634.8 L513.0,636.6 L525.2,635.0 L537.4,634.0 L549.7,636.1 L561.9,633.7 L574.2,633.1 L586.4,634.6 L598.6,637.7 L610.9,635.1 L623.1,634.1 L635.4,634.4 L647.6,636.5 L659.8,632.9 L672.1,631.6 L684.3,632.7" fill="none" stroke="#b98860" stroke-width="0.6" stroke-opacity="0.2" stroke-linejoin="bevel"/>
<path d="M415.0,629.2 L427.3,630.9 L439.5,632.5 L451.8,632.2 L464.0,634.8 L476.2,633.1 L488.5,633.9 L500.7,631.9 L513.0,633.0 L525.2,631.0 L537.4,632.1 L549.7,630.8 L561.9,631.4 L574.2,633.2 L586.4,632.0 L598.6,632.6 L610.9,630.9 L623.1,633.2 L635.4,631.0 L647.6,632.0 L659.8,629.8 L672.1,633.6 L684.3,632.9" fill="none" stroke="#c89971" stroke-width="0.6" stroke-opacity="0.2" stroke-linejoin="bevel"/>
<path d="M415.0,638.4 L427.3,637.9 L439.5,638.8 L451.8,638.7 L464.0,637.7 L476.2,635.6 L488.5,637.5 L500.7,637.6 L513.0,638.9 L525.2,637.7 L537.4,637.7 L549.7,638.9 L561.9,637.7 L574.2,635.9 L586.4,639.4 L598.6,639.8 L610.9,637.7 L623.1,636.0 L635.4,638.8 L647.6,638.8 L659.8,637.9 L672.1,639.6 L684.3,636.0" fill="none" stroke="#a37048" stroke-width="0.6" stroke-opacity="0.2" stroke-linejoin="bevel"/>
<path d="M415.0,635.3 L427.3,635.6 L439.5,634.5 L451.8,634.6 L464.0,635.4 L476.2,638.6 L488.5,633.9 L500.7,633.3 L513.0,632.7 L525.2,635.4 L537.4,636.8 L549.7,636.2 L561.9,635.2 L574.2,636.8 L586.4,637.4 L598.6,634.2 L610.9,637.7 L623.1,637.0 L635.4,637.8 L647.6,633.7 L659.8,635.2 L672.1,634.4 L684.3,635.3" fill="none" stroke="#b6845c" stroke-width="0.6" stroke-opacity="0.2" stroke-linejoin="bevel"/>
<path d="M415.0,635.4 L427.3,634.2 L439.5,635.3 L451.8,632.9 L464.0,633.2 L476.2,635.2 L488.5,633.9 L500.7,634.0 L513.0,633.2 L525.2,634.7 L537.4,633.3 L549.7,635.8 L561.9,634.5 L574.2,635.3 L586.4,635.4 L598.6,632.8 L610.9,633.0 L623.1,635.5 L635.4,633.6 L647.6,634.5 L659.8,635.5 L672.1,636.2 L684.3,634.7" fill="none" stroke="#ba8961" stroke-width="0.6" stroke-opacity="0.2" stroke-linejoin="bevel"/>
<path d="M415.0,638.1 L427.3,639.8 L439.5,638.9 L451.8,639.2 L464.0,639.9 L476.2,639.2 L488.5,636.2 L500.7,637.9 L513.0,638.8 L525.2,638.0 L537.4,638.6 L549.7,637.4 L561.9,636.9 L574.2,637.4 L586.4,638.5 L598.6,639.0 L610.9,638.1 L623.1,635.9 L635.4,640.9 L647.6,637.7 L659.8,638.0 L672.1,637.2 L684.3,637.4" fill="none" stroke="#a06d45" stroke-width="0.6" stroke-opacity="0.2" stroke-linejoin="bevel"/>
<path d="M415.0,630.8 L427.3,631.9 L439.5,628.7 L451.8,628.4 L464.0,628.8 L476.2,627.7 L488.5,626.4 L500.7,629.3 L513.0,629.6 L525.2,629.3 L537.4,631.5 L549.7,628.7 L561.9,629.8 L574.2,627.7 L586.4,627.4 L598.6,629.7 L610.9,631.8 L623.1,628.6 L635.4,630.2 L647.6,628.7 L659.8,629.1 L672.1,629.2 L684.3,629.2" fill="none" stroke="#d5aa84" stroke-width="0.6" stroke-opacity="0.2" stroke-linejoin="bevel"/>
<path d="M415.0,634.1 L427.3,634.0 L439.5,638.5 L451.8,636.7 L464.0,634.2 L476.2,636.7 L488.5,637.5 L500.7,635.1 L513.0,632.6 L525.2,633.3 L537.4,635.0 L549.7,635.3 L561.9,633.6 L574.2,635.7 L586.4,633.7 L598.6,631.6 L610.9,635.5 L623.1,637.7 L635.4,637.0 L647.6,635.0 L659.8,633.2 L672.1,635.7 L684.3,636.0" fill="none" stroke="#ba8860" stroke-width="0.6" stroke-opacity="0.2" stroke-linejoin="bevel"/>
<path d="M415.0,636.3 L427.3,636.8 L439.5,635.1 L451.8,636.2 L464.0,637.5 L476.2,634.0 L488.5,634.2 L500.7,634.6 L513.0,638.0 L525.2,637.5 L537.4,634.1 L549.7,635.1 L561.9,636.1 L574.2,637.7 L586.4,636.8 L598.6,635.2 L610.9,635.7 L623.1,634.4 L635.4,635.5 L647.6,633.8 L659.8,637.0 L672.1,635.4 L684.3,634.5" fill="none" stroke="#b28058" stroke-width="0.6" stroke-opacity="0.2" stroke-linejoin="bevel"/>
<path d="M415.0,632.3 L427.3,631.9 L439.5,634.0 L451.8,632.6 L464.0,636.0 L476.2,633.0 L488.5,632.6 L500.7,634.2 L513.0,634.9 L525.2,635.0 L537.4,633.2 L549.7,633.6 L561.9,634.6 L574.2,632.8 L586.4,634.6 L598.6,636.6 L610.9,634.5 L623.1,632.5 L635.4,636.9 L647.6,632.0 L659.8,632.6 L672.1,634.2 L684.3,633.4" fill="none" stroke="#be8d65" stroke-width="0.6" stroke-opacity="0.2" stroke-linejoin="bevel"/>
<path d="M415.0,631.1 L427.3,632.2 L439.5,630.7 L451.8,630.3 L464.0,631.5 L476.2,630.2 L488.5,631.3 L500.7,628.6 L513.0,631.9 L525.2,629.6 L537.4,630.1 L549.7,631.9 L561.9,630.7 L574.2,629.0 L586.4,629.8 L598.6,629.3 L610.9,629.9 L623.1,629.3 L635.4,630.5 L647.6,630.6 L659.8,628.6 L672.1,629.9 L684.3,631.4" fill="none" stroke="#cfa27c" stroke-width="0.6" stroke-opacity="0.2" stroke-linejoin="bevel"/>
<path d="M415.0,636.1 L427.3,635.3 L439.5,634.7 L451.8,634.1 L464.0,637.3 L476.2,634.7 L488.5,635.1 L500.7,636.7 L513.0,635.3 L525.2,635.9 L537.4,631.0 L549.7,635.1 L561.9,633.7 L574.2,635.0 L586.4,636.5 L598.6,635.6 L610.9,634.2 L623.1,635.3 L635.4,634.5 L647.6,635.7 L659.8,636.3 L672.1,634.6 L684.3,637.1" fill="none" stroke="#b4835b" stroke-width="0.6" stroke-opacity="0.2" stroke-linejoin="bevel"/>
<path d="M415.0,630.0 L427.3,632.3 L439.5,631.2 L451.8,632.0 L464.0,632.4 L476.2,630.7 L488.5,633.2 L500.7,630.5 L513.0,633.2 L525.2,630.5 L537.4,634.1 L549.7,632.5 L561.9,630.3 L574.2,629.7 L586.4,632.5 L598.6,633.1 L610.9,631.1 L623.1,631.4 L635.4,632.2 L647.6,631.1 L659.8,632.4 L672.1,631.3 L684.3,631.1" fill="none" stroke="#c99b73" stroke-width="0.6" stroke-opacity="0.2" stroke-linejoin="bevel"/>
<path d="M415.0,638.3 L427.3,636.8 L439.5,636.5 L451.8,637.2 L464.0,635.9 L476.2,637.4 L488.5,638.2 L500.7,638.0 L513.0,636.3 L525.2,635.6 L537.4,637.0 L549.7,637.0 L561.9,636.8 L574.2,637.5 L586.4,637.7 L598.6,637.0 L610.9,638.2 L623.1,635.2 L635.4,636.4 L647.6,634.5 L659.8,636.2 L672.1,637.2 L684.3,635.7" fill="none" stroke="#a9774f" stroke-width="0.6" stroke-opacity="0.2" stroke-linejoin="bevel"/>
<path d="M415.0,632.3 L427.3,632.1 L439.5,633.0 L451.8,632.8 L464.0,632.6 L476.2,633.6 L488.5,631.5 L500.7,631.1 L513.0,632.5 L525.2,632.8 L537.4,632.1 L549.7,632.7 L561.9,631.4 L574.2,632.8 L586.4,634.2 L598.6,632.0 L610.9,634.4 L623.1,631.3 L635.4,632.9 L647.6,631.7 L659.8,632.5 L672.1,630.7 L684.3,630.6" fill="none" stroke="#c79770" stroke-width="0.6" stroke-opacity="0.2" stroke-linejoin="bevel"/>
<path d="M415.0,634.7 L427.3,638.3 L439.5,635.6 L451.8,636.8 L464.0,636.8 L476.2,637.8 L488.5,637.5 L500.7,638.0 L513.0,637.4 L525.2,635.2 L537.4,634.5 L549.7,638.3 L561.9,637.1 L574.2,639.1 L586.4,637.2 L598.6,635.8 L610.9,636.3 L623.1,636.4 L635.4,638.1 L647.6,638.8 L659.8,635.8 L672.1,635.0 L684.3,636.4" fill="none" stroke="#ab7850" stroke-width="0.6" stroke-opacity="0.2" stroke-linejoin="bevel"/>
<path d="M415.0,629.3 L427.3,629.7 L439.5,630.4 L451.8,630.8 L464.0,629.0 L476.2,631.5 L488.5,631.1 L500.7,626.8 L513.0,630.6 L525.2,628.5 L537.4,627.8 L549.7,628.3 L561.9,627.8 L574.2,628.9 L586.4,629.4 L598.6,629.0 L610.9,629.0 L623.1,629.5 L635.4,628.4 L647.6,630.2 L659.8,630.4 L672.1,631.1 L684.3,630.2" fill="none" stroke="#d3a781" stroke-width="0.6" stroke-opacity="0.2" stroke-linejoin="bevel"/>
<path d="M415.0,631.3 L427.3,628.5 L439.5,631.4 L451.8,631.6 L464.0,630.6 L476.2,630.6 L488.5,630.3 L500.7,632.1 L513.0,630.9 L525.2,627.7 L537.4,629.8 L549.7,628.6 L561.9,630.0 L574.2,629.5 L586.4,632.0 L598.6,631.1 L610.9,632.3 L623.1,631.4 L635.4,629.4 L647.6,628.5 L659.8,628.7 L672.1,631.6 L684.3,631.1" fill="none" stroke="#d0a47e" stroke-width="0.6" stroke-opacity="0.2" stroke-linejoin="bevel"/>
<path d="M415.0,632.1 L427.3,630.7 L439.5,631.6 L451.8,631.2 L464.0,632.9 L476.2,632.5 L488.5,631.9 L500.7,630.4 L513.0,632.6 L525.2,630.6 L537.4,631.8 L549.7,633.6 L561.9,631.4 L574.2,630.3 L586.4,632.6 L598.6,629.4 L610.9,633.9 L623.1,629.6 L635.4,632.4 L647.6,632.1 L659.8,629.8 L672.1,629.8 L684.3,632.3" fill="none" stroke="#ca9b74" stroke-width="0.6" stroke-opacity="0.2" stroke-linejoin="bevel"/>
<path d="M415.0,629.0 L427.3,628.9 L439.5,628.6 L451.8,631.3 L464.0,628.2 L476.2,627.4 L488.5,630.5 L500.7,630.4 L513.0,629.5 L525.2,630.3 L537.4,632.1 L549.7,629.8 L561.9,628.8 L574.2,629.9 L586.4,631.6 L598.6,629.0 L610.9,628.6 L623.1,630.7 L635.4,631.5 L647.6,630.7 L659.8,630.4 L672.1,626.5 L684.3,629.0" fill="none" stroke="#d2a781" stroke-width="0.6" stroke-opacity="0.2" stroke-linejoin="bevel"/>
<path d="M415.0,636.8 L427.3,634.0 L439.5,636.5 L451.8,633.7 L464.0,633.3 L476.2,633.7 L488.5,635.0 L500.7,636.9 L513.0,635.0 L525.2,635.4 L537.4,635.0 L549.7,635.3 L561.9,635.4 L574.2,634.0 L586.4,634.9 L598.6,635.5 L610.9,634.1 L623.1,636.4 L635.4,634.9 L647.6,634.5 L659.8,636.7 L672.1,636.0 L684.3,635.4" fill="none" stroke="#b5835b" stroke-width="0.6" stroke-opacity="0.2" stroke-linejoin="bevel"/>
<path d="M415.0,629.7 L427.3,627.4 L439.5,628.4 L451.8,630.4 L464.0,629.6 L476.2,630.5 L488.5,628.3 L500.7,631.0 L513.0,629.0 L525.2,632.2 L537.4,628.2 L549.7,630.5 L561.9,630.7 L574.2,630.9 L586.4,631.2 L598.6,629.5 L610.9,630.4 L623.1,630.7 L635.4,629.4 L647.6,627.5 L659.8,626.1 L672.1,631.2 L684.3,628.8" fill="none" stroke="#d3a781" stroke-width="0.6" stroke-opacity="0.2" stroke-linejoin="bevel"/>
<path d="M415.0,630.3 L427.3,629.3 L439.5,630.8 L451.8,629.0 L464.0,631.6 L476.2,631.9 L488.5,629.4 L500.7,629.0 L513.0,629.7 L525.2,630.2 L537.4,630.2 L549.7,629.9 L561.9,630.5 L574.2,630.3 L586.4,630.5 L598.6,632.1 L610.9,629.8 L623.1,628.9 L635.4,630.8 L647.6,629.5 L659.8,629.7 L672.1,630.5 L684.3,630.7" fill="none" stroke="#d1a47e" stroke-width="0.6" stroke-opacity="0.2" stroke-linejoin="bevel"/>
<path d="M415.0,637.4 L427.3,636.2 L439.5,635.3 L451.8,636.8 L464.0,634.7 L476.2,633.7 L488.5,637.2 L500.7,635.3 L513.0,637.2 L525.2,635.8 L537.4,636.3 L549.7,635.2 L561.9,636.1 L574.2,634.6 L586.4,635.1 L598.6,633.4 L610.9,636.5 L623.1,636.7 L635.4,636.0 L647.6,637.3 L659.8,635.9 L672.1,636.7 L684.3,635.2" fill="none" stroke="#b38159" stroke-width="0.6" stroke-opacity="0.2" stroke-linejoin="bevel"/>
<path d="M415.0,630.5 L427.3,628.4 L439.5,628.1 L451.8,629.4 L464.0,630.2 L476.2,630.5 L488.5,629.0 L500.7,630.0 L513.0,630.5 L525.2,629.7 L537.4,628.6 L549.7,628.6 L561.9,629.2 L574.2,628.2 L586.4,629.5 L598.6,629.8 L610.9,631.2 L623.1,628.9 L635.4,630.0 L647.6,627.2 L659.8,629.7 L672.1,627.9 L684.3,628.7" fill="none" stroke="#d2a680" stroke-width="0.6" stroke-opacity="0.2" stroke-linejoin="bevel"/>
<path d="M415.0,636.2 L427.3,635.3 L439.5,637.1 L451.8,637.3 L464.0,637.3 L476.2,636.3 L488.5,637.4 L500.7,637.6 L513.0,636.9 L525.2,637.1 L537.4,637.4 L549.7,638.1 L561.9,636.7 L574.2,636.9 L586.4,639.1 L598.6,637.3 L610.9,638.1 L623.1,636.3 L635.4,636.6 L647.6,637.4 L659.8,637.9 L672.1,635.8 L684.3,636.1" fill="none" stroke="#ab7951" stroke-width="0.6" stroke-opacity="0.2" stroke-linejoin="bevel"/>
<path d="M415.0,631.5 L427.3,630.1 L439.5,633.9 L451.8,636.6 L464.0,632.0 L476.2,631.7 L488.5,631.6 L500.7,631.6 L513.0,633.3 L525.2,631.9 L537.4,635.1 L549.7,630.5 L561.9,631.0 L574.2,634.6 L586.4,635.1 L598.6,633.5 L610.9,631.8 L623.1,634.5 L635.4,633.0 L647.6,634.9 L659.8,634.2 L672.1,633.5 L684.3,634.6" fill="none" stroke="#c5956d" stroke-width="0.6" stroke-opacity="0.2" stroke-linejoin="bevel"/>
<path d="M415.0,634.3 L427.3,633.4 L439.5,633.1 L451.8,633.1 L464.0,633.3 L476.2,633.6 L488.5,633.5 L500.7,633.8 L513.0,633.1 L525.2,632.9 L537.4,635.9 L549.7,635.9 L561.9,633.3 L574.2,634.6 L586.4,635.1 L598.6,632.8 L610.9,634.0 L623.1,634.3 L635.4,633.8 L647.6,632.0 L659.8,633.8 L672.1,634.6 L684.3,635.9" fill="none" stroke="#be8d65" stroke-width="0.6" stroke-opacity="0.2" stroke-linejoin="bevel"/>
<path d="M415.0,635.0 L427.3,635.9 L439.5,637.7 L451.8,636.2 L464.0,636.1 L476.2,634.9 L488.5,636.5 L500.7,633.1 L513.0,635.7 L525.2,635.6 L537.4,635.5 L549.7,633.4 L561.9,636.1 L574.2,636.1 L586.4,637.1 L598.6,637.2 L610.9,636.9 L623.1,636.9 L635.4,636.1 L647.6,636.3 L659.8,636.2 L672.1,635.1 L684.3,633.8" fill="none" stroke="#b28159" stroke-width="0.6" stroke-opacity="0.2" stroke-linejoin="bevel"/>
<path d="M415.0,641.1 L427.3,637.3 L439.5,639.7 L451.8,640.4 L464.0,637.5 L476.2,638.8 L488.5,639.6 L500.7,640.1 L513.0,639.5 L525.2,638.5 L537.4,639.8 L549.7,638.8 L561.9,637.6 L574.2,640.6 L586.4,640.7 L598.6,639.6 L610.9,637.5 L623.1,637.4 L635.4,637.2 L647.6,640.9 L659.8,637.5 L672.1,637.4 L684.3,639.4" fill="none" stroke="#9d6a42" stroke-width="0.6" stroke-opacity="0.2" stroke-linejoin="bevel"/>
<path d="M415.0,633.0 L427.3,632.4 L439.5,633.4 L451.8,634.2 L464.0,633.8 L476.2,631.9 L488.5,633.7 L500.7,631.9 L513.0,631.8 L525.2,631.7 L537.4,633.2 L549.7,635.2 L561.9,635.3 L574.2,632.7 L586.4,633.4 L598.6,633.2 L610.9,634.7 L623.1,632.1 L635.4,631.4 L647.6,634.0 L659.8,632.4 L672.1,630.5 L684.3,631.4" fill="none" stroke="#c2926a" stroke-width="0.6" stroke-opacity="0.2" stroke-linejoin="bevel"/>
<path d="M415.0,635.4 L427.3,636.7 L439.5,635.1 L451.8,636.6 L464.0,635.2 L476.2,637.5 L488.5,635.9 L500.7,637.1 L513.0,635.7 L525.2,635.0 L537.4,634.4 L549.7,635.4 L561.9,633.1 L574.2,635.9 L586.4,636.3 L598.6,635.8 L610.9,635.9 L623.1,637.0 L635.4,635.2 L647.6,633.7 L659.8,635.2 L672.1,635.9 L684.3,635.8" fill="none" stroke="#b17f57" stroke-width="0.6" stroke-opacity="0.2" stroke-linejoin="bevel"/>
<path d="M415.0,638.1 L427.3,636.6 L439.5,638.0 L451.8,635.8 L464.0,639.4 L476.2,637.2 L488.5,634.3 L500.7,635.8 L513.0,637.3 L525.2,635.1 L537.4,636.1 L549.7,636.1 L561.9,636.5 L574.2,636.3 L586.4,636.5 L598.6,637.1 L610.9,635.7 L623.1,636.6 L635.4,636.3 L647.6,637.6 L659.8,638.0 L672.1,636.2 L684.3,637.0" fill="none" stroke="#ae7c54" stroke-width="0.6" stroke-opacity="0.2" stroke-linejoin="bevel"/>
<path d="M415.0,634.6 L427.3,633.7 L439.5,633.7 L451.8,635.5 L464.0,631.3 L476.2,634.2 L488.5,635.1 L500.7,634.2 L513.0,634.4 L525.2,635.1 L537.4,635.2 L549.7,632.8 L561.9,635.2 L574.2,635.2 L586.4,635.2 L598.6,632.2 L610.9,632.7 L623.1,633.6 L635.4,633.6 L647.6,632.8 L659.8,632.8 L672.1,633.8 L684.3,634.8" fill="none" stroke="#bd8d65" stroke-width="0.6" stroke-opacity="0.2" stroke-linejoin="bevel"/>
<path d="M415.0,636.9 L427.3,637.5 L439.5,638.0 L451.8,640.2 L464.0,635.9 L476.2,637.8 L488.5,636.9 L500.7,637.8 L513.0,638.4 L525.2,636.8 L537.4,638.7 L549.7,637.1 L561.9,640.0 L574.2,641.0 L586.4,639.2 L598.6,636.6 L610.9,637.2 L623.1,637.5 L635.4,637.9 L647.6,637.5 L659.8,636.6 L672.1,639.2 L684.3,638.8" fill="none" stroke="#a06d45" stroke-width="0.6" stroke-opacity="0.2" stroke-linejoin="bevel"/>
<path d="M415.0,631.3 L427.3,629.7 L439.5,631.7 L451.8,631.5 L464.0,631.2 L476.2,631.5 L488.5,629.3 L500.7,629.4 L513.0,631.9 L525.2,631.6 L537.4,630.2 L549.7,631.1 L561.9,631.0 L574.2,629.6 L586.4,629.1 L598.6,632.2 L610.9,628.9 L623.1,631.2 L635.4,629.9 L647.6,630.3 L659.8,631.9 L672.1,630.4 L684.3,628.8" fill="none" stroke="#d0a37d" stroke-width="0.6" stroke-opacity="0.2" stroke-linejoin="bevel"/>
<path d="M415.0,630.7 L427.3,630.0 L439.5,630.3 L451.8,631.8 L464.0,631.0 L476.2,631.0 L488.5,630.6 L500.7,630.0 L513.0,632.8 L525.2,628.7 L537.4,630.4 L549.7,630.5 L561.9,630.7 L574.2,631.7 L586.4,630.3 L598.6,632.4 L610.9,631.8 L623.1,633.6 L635.4,629.7 L647.6,631.3 L659.8,631.5 L672.1,631.3 L684.3,632.1" fill="none" stroke="#cea17a" stroke-width="0.6" stroke-opacity="0.2" stroke-linejoin="bevel"/>
<path d="M415.0,633.1 L427.3,633.1 L439.5,633.7 L451.8,634.0 L464.0,632.0 L476.2,633.8 L488.5,632.1 L500.7,632.1 L513.0,633.2 L525.2,634.2 L537.4,636.1 L549.7,632.7 L561.9,634.3 L574.2,634.7 L586.4,635.7 L598.6,635.3 L610.9,632.4 L623.1,634.9 L635.4,634.2 L647.6,636.1 L659.8,635.5 L672.1,633.2 L684.3,635.3" fill="none" stroke="#bf8e66" stroke-width="0.6" stroke-opacity="0.2" stroke-linejoin="bevel"/>
<path d="M415.0,631.8 L427.3,635.3 L439.5,629.6 L451.8,632.5 L464.0,632.1 L476.2,631.2 L488.5,632.5 L500.7,631.8 L513.0,632.4 L525.2,633.9 L537.4,634.5 L549.7,632.3 L561.9,629.3 L574.2,631.6 L586.4,631.5 L598.6,630.5 L610.9,634.0 L623.1,631.8 L635.4,630.5 L647.6,631.9 L659.8,632.4 L672.1,632.7 L684.3,631.7" fill="none" stroke="#c89971" stroke-width="0.6" stroke-opacity="0.2" stroke-linejoin="bevel"/>
<path d="M415.0,637.7 L427.3,636.2 L439.5,636.0 L451.8,636.6 L464.0,638.2 L476.2,639.1 L488.5,636.6 L500.7,637.8 L513.0,637.2 L525.2,638.4 L537.4,637.5 L549.7,635.8 L561.9,638.8 L574.2,638.4 L586.4,636.3 L598.6,636.4 L610.9,636.4 L623.1,636.1 L635.4,639.3 L647.6,636.3 L659.8,637.3 L672.1,635.7 L684.3,636.6" fill="none" stroke="#a6734b" stroke-width="0.6" stroke-opacity="0.2" stroke-linejoin="bevel"/>
<path d="M415.0,631.9 L427.3,631.9 L439.5,630.8 L451.8,632.2 L464.0,631.1 L476.2,630.7 L488.5,631.0 L500.7,631.9 L513.0,631.2 L525.2,631.7 L537.4,629.7 L549.7,631.2 L561.9,629.8 L574.2,631.0 L586.4,630.3 L598.6,630.7 L610.9,631.7 L623.1,629.7 L635.4,630.0 L647.6,632.0 L659.8,629.9 L672.1,632.5 L684.3,630.0" fill="none" stroke="#cda079" stroke-width="0.6" stroke-opacity="0.2" stroke-linejoin="bevel"/>
<path d="M415.0,634.2 L427.3,633.0 L439.5,631.5 L451.8,633.2 L464.0,634.7 L476.2,633.5 L488.5,633.8 L500.7,633.7 L513.0,632.1 L525.2,634.5 L537.4,633.8 L549.7,635.4 L561.9,634.5 L574.2,632.3 L586.4,636.5 L598.6,636.6 L610.9,634.6 L623.1,634.7 L635.4,636.1 L647.6,635.6 L659.8,634.8 L672.1,635.9 L684.3,635.8" fill="none" stroke="#ba8a62" stroke-width="0.6" stroke-opacity="0.2" stroke-linejoin="bevel"/>
<path d="M415.0,629.6 L427.3,629.9 L439.5,627.5 L451.8,631.5 L464.0,632.0 L476.2,630.1 L488.5,629.4 L500.7,628.5 L513.0,628.5 L525.2,628.1 L537.4,629.0 L549.7,630.1 L561.9,629.7 L574.2,629.5 L586.4,631.0 L598.6,628.6 L610.9,630.6 L623.1,629.8 L635.4,628.2 L647.6,630.4 L659.8,631.5 L672.1,629.0 L684.3,628.3" fill="none" stroke="#d4a883" stroke-width="0.6" stroke-opacity="0.2" stroke-linejoin="bevel"/>
<path d="M415.0,638.5 L427.3,637.0 L439.5,638.0 L451.8,637.0 L464.0,638.1 L476.2,637.2 L488.5,636.0 L500.7,638.5 L513.0,637.9 L525.2,637.3 L537.4,638.1 L549.7,637.6 L561.9,637.2 L574.2,636.4 L586.4,637.4 L598.6,638.1 L610.9,639.2 L623.1,639.5 L635.4,638.3 L647.6,637.5 L659.8,637.5 L672.1,636.9 L684.3,637.5" fill="none" stroke="#a47149" stroke-width="0.6" stroke-opacity="0.2" stroke-linejoin="bevel"/>
<path d="M415.0,636.8 L427.3,638.3 L439.5,637.5 L451.8,639.4 L464.0,636.2 L476.2,637.8 L488.5,637.6 L500.7,635.8 L513.0,637.7 L525.2,636.7 L537.4,640.0 L549.7,637.2 L561.9,637.3 L574.2,636.3 L586.4,638.1 L598.6,638.1 L610.9,637.3 L623.1,636.1 L635.4,637.0 L647.6,637.7 L659.8,637.2 L672.1,636.2 L684.3,636.6" fill="none" stroke="#a7744c" stroke-width="0.6" stroke-opacity="0.2" stroke-linejoin="bevel"/>
<path d="M415.0,636.6 L427.3,638.1 L439.5,638.1 L451.8,636.7 L464.0,636.4 L476.2,637.5 L488.5,637.3 L500.7,639.1 L513.0,640.0 L525.2,636.5 L537.4,639.2 L549.7,636.1 L561.9,637.3 L574.2,638.3 L586.4,640.3 L598.6,636.9 L610.9,637.3 L623.1,638.5 L635.4,638.9 L647.6,637.3 L659.8,637.6 L672.1,636.8 L684.3,637.2" fill="none" stroke="#a37048" stroke-width="0.6" stroke-opacity="0.2" stroke-linejoin="bevel"/>
<path d="M415.0,632.7 L427.3,630.0 L439.5,633.1 L451.8,631.2 L464.0,631.7 L476.2,631.9 L488.5,631.0 L500.7,630.5 L513.0,631.1 L525.2,632.3 L537.4,632.1 L549.7,629.6 L561.9,632.9 L574.2,631.1 L586.4,631.4 L598.6,631.3 L610.9,631.9 L623.1,630.6 L635.4,631.5 L647.6,630.4 L659.8,632.1 L672.1,632.9 L684.3,633.5" fill="none" stroke="#c89971" stroke-width="0.6" stroke-opacity="0.2" stroke-linejoin="bevel"/>
<path d="M415.0,635.7 L427.3,635.8 L439.5,635.3 L451.8,635.2 L464.0,637.3 L476.2,636.8 L488.5,633.9 L500.7,633.9 L513.0,634.3 L525.2,636.2 L537.4,634.4 L549.7,635.6 L561.9,634.2 L574.2,632.7 L586.4,635.6 L598.6,635.0 L610.9,636.1 L623.1,636.9 L635.4,634.0 L647.6,636.1 L659.8,637.4 L672.1,635.5 L684.3,635.3" fill="none" stroke="#b5845c" stroke-width="0.6" stroke-opacity="0.2" stroke-linejoin="bevel"/>
<path d="M415.0,636.4 L427.3,637.1 L439.5,636.1 L451.8,636.3 L464.0,636.2 L476.2,635.9 L488.5,636.2 L500.7,637.3 L513.0,639.2 L525.2,636.6 L537.4,635.9 L549.7,635.3 L561.9,635.0 L574.2,636.3 L586.4,634.6 L598.6,637.5 L610.9,638.1 L623.1,636.2 L635.4,636.6 L647.6,635.8 L659.8,637.8 L672.1,638.4 L684.3,636.7" fill="none" stroke="#ae7c54" stroke-width="0.6" stroke-opacity="0.2" stroke-linejoin="bevel"/>
<path d="M415.0,635.8 L427.3,634.9 L439.5,630.9 L451.8,632.4 L464.0,632.6 L476.2,634.2 L488.5,631.0 L500.7,633.6 L513.0,634.6 L525.2,633.5 L537.4,635.6 L549.7,634.3 L561.9,635.3 L574.2,632.7 L586.4,634.1 L598.6,635.6 L610.9,635.4 L623.1,632.2 L635.4,633.8 L647.6,633.5 L659.8,635.8 L672.1,633.4 L684.3,633.3" fill="none" stroke="#bc8b63" stroke-width="0.6" stroke-opacity="0.2" stroke-linejoin="bevel"/>
<path d="M415.0,635.7 L427.3,639.4 L439.5,636.3 L451.8,637.5 L464.0,637.0 L476.2,636.9 L488.5,636.4 L500.7,635.0 L513.0,637.7 L525.2,638.2 L537.4,637.6 L549.7,635.5 L561.9,637.9 L574.2,639.2 L586.4,638.4 L598.6,639.3 L610.9,637.6 L623.1,639.7 L635.4,636.9 L647.6,636.2 L659.8,637.3 L672.1,637.0 L684.3,637.3" fill="none" stroke="#a9764e" stroke-width="0.6" stroke-opacity="0.2" stroke-linejoin="bevel"/>
<path d="M415.0,636.3 L427.3,636.4 L439.5,634.8 L451.8,635.8 L464.0,634.7 L476.2,636.3 L488.5,635.6 L500.7,636.6 L513.0,635.2 L525.2,634.3 L537.4,634.5 L549.7,635.6 L561.9,637.5 L574.2,634.0 L586.4,636.8 L598.6,634.3 L610.9,634.7 L623.1,635.7 L635.4,635.2 L647.6,634.5 L659.8,638.0 L672.1,634.6 L684.3,633.1" fill="none" stroke="#b38159" stroke-width="0.6" stroke-opacity="0.2" stroke-linejoin="bevel"/>
<path d="M415.0,637.0 L427.3,635.7 L439.5,634.6 L451.8,639.8 L464.0,638.7 L476.2,636.7 L488.5,638.7 L500.7,636.7 L513.0,637.7 L525.2,636.5 L537.4,638.9 L549.7,637.3 L561.9,638.5 L574.2,639.1 L586.4,637.8 L598.6,636.0 L610.9,637.8 L623.1,636.9 L635.4,636.8 L647.6,640.5 L659.8,638.4 L672.1,639.3 L684.3,636.3" fill="none" stroke="#a6734b" stroke-width="0.6" stroke-opacity="0.2" stroke-linejoin="bevel"/>
<path d="M415.0,633.7 L427.3,630.9 L439.5,635.5 L451.8,631.1 L464.0,632.1 L476.2,632.2 L488.5,632.6 L500.7,631.0 L513.0,632.4 L525.2,633.8 L537.4,631.8 L549.7,633.8 L561.9,633.0 L574.2,632.9 L586.4,633.2 L598.6,635.0 L610.9,630.1 L623.1,631.8 L635.4,631.1 L647.6,633.4 L659.8,632.3 L672.1,631.2 L684.3,634.0" fill="none" stroke="#c6976f" stroke-width="0.6" stroke-opacity="0.2" stroke-linejoin="bevel"/>
<path d="M415.0,634.8 L427.3,635.2 L439.5,633.6 L451.8,635.4 L464.0,635.5 L476.2,633.7 L488.5,634.3 L500.7,635.7 L513.0,635.3 L525.2,635.2 L537.4,634.1 L549.7,634.1 L561.9,635.9 L574.2,635.7 L586.4,633.0 L598.6,632.2 L610.9,634.0 L623.1,632.6 L635.4,634.2 L647.6,633.7 L659.8,636.1 L672.1,634.3 L684.3,634.4" fill="none" stroke="#bb8a62" stroke-width="0.6" stroke-opacity="0.2" stroke-linejoin="bevel"/>
<path d="M415.0,631.0 L427.3,630.7 L439.5,632.8 L451.8,631.7 L464.0,631.2 L476.2,633.0 L488.5,631.2 L500.7,632.4 L513.0,634.1 L525.2,632.0 L537.4,633.7 L549.7,628.9 L561.9,631.8 L574.2,633.9 L586.4,632.8 L598.6,633.2 L610.9,629.5 L623.1,632.5 L635.4,630.2 L647.6,630.5 L659.8,633.5 L672.1,634.5 L684.3,632.5" fill="none" stroke="#c6966e" stroke-width="0.6" stroke-opacity="0.2" stroke-linejoin="bevel"/>
<path d="M415.0,635.5 L427.3,636.6 L439.5,635.2 L451.8,634.5 L464.0,634.9 L476.2,635.5 L488.5,635.4 L500.7,634.5 L513.0,636.0 L525.2,632.2 L537.4,636.6 L549.7,635.2 L561.9,636.1 L574.2,633.1 L586.4,634.7 L598.6,636.7 L610.9,637.6 L623.1,635.3 L635.4,634.5 L647.6,633.7 L659.8,634.0 L672.1,636.7 L684.3,635.3" fill="none" stroke="#b6855d" stroke-width="0.6" stroke-opacity="0.2" stroke-linejoin="bevel"/>
<path d="M415.0,636.4 L427.3,634.5 L439.5,637.4 L451.8,636.0 L464.0,635.2 L476.2,636.7 L488.5,635.8 L500.7,635.1 L513.0,633.4 L525.2,635.1 L537.4,634.3 L549.7,633.6 L561.9,637.0 L574.2,634.9 L586.4,635.9 L598.6,635.6 L610.9,635.3 L623.1,634.1 L635.4,636.4 L647.6,635.9 L659.8,636.8 L672.1,633.3 L684.3,634.8" fill="none" stroke="#b6855d" stroke-width="0.6" stroke-opacity="0.2" stroke-linejoin="bevel"/>
<path d="M415.0,639.3 L427.3,639.2 L439.5,637.1 L451.8,638.4 L464.0,637.5 L476.2,637.0 L488.5,636.3 L500.7,639.2 L513.0,636.5 L525.2,638.5 L537.4,636.5 L549.7,637.1 L561.9,639.5 L574.2,637.6 L586.4,636.7 L598.6,637.4 L610.9,637.5 L623.1,638.7 L635.4,641.0 L647.6,639.2 L659.8,637.7 L672.1,638.0 L684.3,637.4" fill="none" stroke="#a6734b" stroke-width="0.6" stroke-opacity="0.2" stroke-linejoin="bevel"/>
<path d="M415.0,639.4 L427.3,637.6 L439.5,637.1 L451.8,638.0 L464.0,636.2 L476.2,637.1 L488.5,637.0 L500.7,636.7 L513.0,637.6 L525.2,638.2 L537.4,636.9 L549.7,634.5 L561.9,637.7 L574.2,637.8 L586.4,636.6 L598.6,634.5 L610.9,637.4 L623.1,636.1 L635.4,637.1 L647.6,636.7 L659.8,636.3 L672.1,636.5 L684.3,636.3" fill="none" stroke="#ab7951" stroke-width="0.6" stroke-opacity="0.2" stroke-linejoin="bevel"/>
<path d="M415.0,639.0 L427.3,636.6 L439.5,636.7 L451.8,636.8 L464.0,641.0 L476.2,639.7 L488.5,636.0 L500.7,636.7 L513.0,639.7 L525.2,636.2 L537.4,636.5 L549.7,639.8 L561.9,638.2 L574.2,637.5 L586.4,637.7 L598.6,638.7 L610.9,638.7 L623.1,638.9 L635.4,637.7 L647.6,638.6 L659.8,634.9 L672.1,638.1 L684.3,639.5" fill="none" stroke="#a5724a" stroke-width="0.6" stroke-opacity="0.2" stroke-linejoin="bevel"/>
<path d="M415.0,630.0 L427.3,628.9 L439.5,631.0 L451.8,630.9 L464.0,630.4 L476.2,627.4 L488.5,628.4 L500.7,629.8 L513.0,628.3 L525.2,629.6 L537.4,630.3 L549.7,630.5 L561.9,629.6 L574.2,629.6 L586.4,630.8 L598.6,629.6 L610.9,630.9 L623.1,628.0 L635.4,632.1 L647.6,628.7 L659.8,628.4 L672.1,628.0 L684.3,629.5" fill="none" stroke="#d2a680" stroke-width="0.6" stroke-opacity="0.2" stroke-linejoin="bevel"/>
<path d="M415.0,628.5 L427.3,628.0 L439.5,628.9 L451.8,629.0 L464.0,630.1 L476.2,629.6 L488.5,629.5 L500.7,626.4 L513.0,629.2 L525.2,629.1 L537.4,629.0 L549.7,629.5 L561.9,630.0 L574.2,628.7 L586.4,629.2 L598.6,630.1 L610.9,625.5 L623.1,630.0 L635.4,631.5 L647.6,630.6 L659.8,629.7 L672.1,627.9 L684.3,628.8" fill="none" stroke="#d3a882" stroke-width="0.6" stroke-opacity="0.2" stroke-linejoin="bevel"/>
<path d="M415.0,633.5 L427.3,633.0 L439.5,633.0 L451.8,633.4 L464.0,632.0 L476.2,634.4 L488.5,633.0 L500.7,630.3 L513.0,632.3 L525.2,633.9 L537.4,633.5 L549.7,632.3 L561.9,633.0 L574.2,632.2 L586.4,634.0 L598.6,632.0 L610.9,632.0 L623.1,632.4 L635.4,633.9 L647.6,632.6 L659.8,634.6 L672.1,632.5 L684.3,633.6" fill="none" stroke="#c5956d" stroke-width="0.6" stroke-opacity="0.2" stroke-linejoin="bevel"/>
<path d="M415.0,639.9 L427.3,635.3 L439.5,636.5 L451.8,638.1 L464.0,637.6 L476.2,637.0 L488.5,637.4 L500.7,636.3 L513.0,637.9 L525.2,637.0 L537.4,637.7 L549.7,635.7 L561.9,635.5 L574.2,636.6 L586.4,638.3 L598.6,636.4 L610.9,637.3 L623.1,638.1 L635.4,636.0 L647.6,634.5 L659.8,634.5 L672.1,638.0 L684.3,636.1" fill="none" stroke="#aa7850" stroke-width="0.6" stroke-opacity="0.2" stroke-linejoin="bevel"/>
<path d="M415.0,639.7 L427.3,636.4 L439.5,637.2 L451.8,636.0 L464.0,639.2 L476.2,635.1 L488.5,634.7 L500.7,639.4 L513.0,637.1 L525.2,636.8 L537.4,638.8 L549.7,636.6 L561.9,641.1 L574.2,636.4 L586.4,637.6 L598.6,638.5 L610.9,637.4 L623.1,634.2 L635.4,636.8 L647.6,637.0 L659.8,637.4 L672.1,635.8 L684.3,636.9" fill="none" stroke="#a8764e" stroke-width="0.6" stroke-opacity="0.2" stroke-linejoin="bevel"/>
<path d="M415.0,637.1 L427.3,638.7 L439.5,638.0 L451.8,638.0 L464.0,637.9 L476.2,635.4 L488.5,638.6 L500.7,636.8 L513.0,640.0 L525.2,636.7 L537.4,637.2 L549.7,638.5 L561.9,636.2 L574.2,636.6 L586.4,635.5 L598.6,636.5 L610.9,637.7 L623.1,635.8 L635.4,636.3 L647.6,636.7 L659.8,636.5 L672.1,634.5 L684.3,636.3" fill="none" stroke="#ac7951" stroke-width="0.6" stroke-opacity="0.2" stroke-linejoin="bevel"/>
<path d="M415.0,631.7 L427.3,631.0 L439.5,630.5 L451.8,631.4 L464.0,629.1 L476.2,630.9 L488.5,633.1 L500.7,633.3 L513.0,630.0 L525.2,630.8 L537.4,632.0 L549.7,631.8 L561.9,630.9 L574.2,630.6 L586.4,631.7 L598.6,630.6 L610.9,630.6 L623.1,629.7 L635.4,629.4 L647.6,632.5 L659.8,630.1 L672.1,630.7 L684.3,631.7" fill="none" stroke="#cc9e77" stroke-width="0.6" stroke-opacity="0.2" stroke-linejoin="bevel"/>
<path d="M415.0,632.6 L427.3,637.1 L439.5,631.9 L451.8,632.9 L464.0,632.2 L476.2,631.8 L488.5,632.0 L500.7,634.2 L513.0,632.2 L525.2,632.8 L537.4,634.9 L549.7,634.4 L561.9,634.7 L574.2,633.7 L586.4,632.3 L598.6,635.4 L610.9,634.1 L623.1,634.9 L635.4,634.8 L647.6,634.5 L659.8,632.4 L672.1,633.9 L684.3,634.4" fill="none" stroke="#c29169" stroke-width="0.6" stroke-opacity="0.2" stroke-linejoin="bevel"/>
<path d="M415.0,634.6 L427.3,632.5 L439.5,633.7 L451.8,635.1 L464.0,635.4 L476.2,636.2 L488.5,635.9 L500.7,634.0 L513.0,632.5 L525.2,634.4 L537.4,632.3 L549.7,633.6 L561.9,632.3 L574.2,632.2 L586.4,632.1 L598.6,638.0 L610.9,634.5 L623.1,635.3 L635.4,635.0 L647.6,633.5 L659.8,635.2 L672.1,633.3 L684.3,636.6" fill="none" stroke="#b98860" stroke-width="0.6" stroke-opacity="0.2" stroke-linejoin="bevel"/>
<path d="M415.0,638.2 L427.3,638.1 L439.5,637.7 L451.8,638.8 L464.0,638.6 L476.2,637.3 L488.5,638.6 L500.7,637.5 L513.0,637.6 L525.2,640.3 L537.4,638.5 L549.7,638.1 L561.9,637.5 L574.2,637.9 L586.4,639.4 L598.6,639.7 L610.9,639.4 L623.1,640.8 L635.4,636.0 L647.6,638.0 L659.8,639.2 L672.1,639.7 L684.3,636.6" fill="none" stroke="#9f6c44" stroke-width="0.6" stroke-opacity="0.2" stroke-linejoin="bevel"/>
<path d="M415.0,629.5 L427.3,632.9 L439.5,630.3 L451.8,630.0 L464.0,634.1 L476.2,634.1 L488.5,631.0 L500.7,631.4 L513.0,630.9 L525.2,628.9 L537.4,632.9 L549.7,630.4 L561.9,630.2 L574.2,630.5 L586.4,632.0 L598.6,631.2 L610.9,630.6 L623.1,631.3 L635.4,633.8 L647.6,627.6 L659.8,631.9 L672.1,633.2 L684.3,632.3" fill="none" stroke="#cc9d76" stroke-width="0.6" stroke-opacity="0.2" stroke-linejoin="bevel"/>
<path d="M415.0,636.0 L427.3,636.3 L439.5,635.5 L451.8,633.7 L464.0,633.4 L476.2,635.7 L488.5,635.5 L500.7,635.6 L513.0,634.4 L525.2,635.0 L537.4,635.1 L549.7,633.8 L561.9,633.5 L574.2,634.3 L586.4,632.9 L598.6,634.7 L610.9,634.6 L623.1,634.8 L635.4,636.5 L647.6,633.7 L659.8,633.6 L672.1,634.8 L684.3,634.1" fill="none" stroke="#b8875f" stroke-width="0.6" stroke-opacity="0.2" stroke-linejoin="bevel"/>
<path d="M415.0,632.0 L427.3,635.3 L439.5,632.0 L451.8,631.7 L464.0,633.1 L476.2,631.8 L488.5,633.0 L500.7,633.6 L513.0,633.5 L525.2,632.6 L537.4,631.0 L549.7,632.3 L561.9,633.0 L574.2,631.8 L586.4,632.2 L598.6,631.4 L610.9,632.2 L623.1,631.8 L635.4,631.1 L647.6,632.4 L659.8,631.3 L672.1,632.0 L684.3,635.0" fill="none" stroke="#c79770" stroke-width="0.6" stroke-opacity="0.2" stroke-linejoin="bevel"/>
<path d="M415.0,638.3 L427.3,639.6 L439.5,639.3 L451.8,637.7 L464.0,637.9 L476.2,640.4 L488.5,635.8 L500.7,638.4 L513.0,635.7 L525.2,636.7 L537.4,639.2 L549.7,637.8 L561.9,636.6 L574.2,636.6 L586.4,638.9 L598.6,637.2 L610.9,637.9 L623.1,638.7 L635.4,638.4 L647.6,636.1 L659.8,640.0 L672.1,637.6 L684.3,637.0" fill="none" stroke="#a6734b" stroke-width="0.6" stroke-opacity="0.2" stroke-linejoin="bevel"/>
<path d="M415.0,631.8 L427.3,633.4 L439.5,631.0 L451.8,631.2 L464.0,634.6 L476.2,631.8 L488.5,632.6 L500.7,632.6 L513.0,631.2 L525.2,634.1 L537.4,633.8 L549.7,631.2 L561.9,632.8 L574.2,633.7 L586.4,632.2 L598.6,633.5 L610.9,633.6 L623.1,633.7 L635.4,631.1 L647.6,633.6 L659.8,631.7 L672.1,633.8 L684.3,633.8" fill="none" stroke="#c7976f" stroke-width="0.6" stroke-opacity="0.2" stroke-linejoin="bevel"/>
<path d="M415.0,632.4 L427.3,631.1 L439.5,633.5 L451.8,633.8 L464.0,631.3 L476.2,634.2 L488.5,633.9 L500.7,632.4 L513.0,629.1 L525.2,632.4 L537.4,633.0 L549.7,633.7 L561.9,632.3 L574.2,632.2 L586.4,632.1 L598.6,634.8 L610.9,634.6 L623.1,630.5 L635.4,633.2 L647.6,633.5 L659.8,633.9 L672.1,633.6 L684.3,631.2" fill="none" stroke="#c5956d" stroke-width="0.6" stroke-opacity="0.2" stroke-linejoin="bevel"/>
<path d="M415.0,637.2 L427.3,636.8 L439.5,638.3 L451.8,637.3 L464.0,639.1 L476.2,636.6 L488.5,636.0 L500.7,639.0 L513.0,637.1 L525.2,635.3 L537.4,636.7 L549.7,637.1 L561.9,639.1 L574.2,637.2 L586.4,636.6 L598.6,640.2 L610.9,637.6 L623.1,636.4 L635.4,636.9 L647.6,638.4 L659.8,638.6 L672.1,636.5 L684.3,636.7" fill="none" stroke="#a9764e" stroke-width="0.6" stroke-opacity="0.2" stroke-linejoin="bevel"/>
<line x1="415.10" y1="625.00" x2="684.30" y2="625.00" stroke="#5e5e56" stroke-width="1.3" stroke-dasharray="4.2,2.6"/>
<path d="M415.04,626.40 C419.12,626.47 433.40,626.67 439.52,626.80 C445.64,626.93 447.68,626.97 451.76,627.20 C455.84,627.43 459.92,628.20 464.00,628.20 C468.08,628.20 470.12,627.43 476.24,627.20 C482.36,626.97 492.56,626.87 500.72,626.80 C508.88,626.73 517.04,626.80 525.20,626.80 C533.36,626.80 541.52,626.77 549.68,626.80 C557.84,626.83 566.00,626.77 574.16,627.00 C582.32,627.23 592.52,628.23 598.64,628.20 C604.76,628.17 604.76,627.13 610.88,626.80 C617.00,626.47 627.20,626.27 635.36,626.20 C643.52,626.13 651.68,626.37 659.84,626.40 C668.00,626.43 680.24,626.40 684.32,626.40" fill="none" stroke="#18a8c8" stroke-width="1.9"/>
</g>
<rect x="415.10" y="592.00" width="269.20" height="52.90" fill="none" stroke="#333" stroke-width="1.3" />
<line x1="409.20" y1="603.90" x2="415.10" y2="603.90" stroke="#333" stroke-width="1.2" />
<text x="405.80" y="608.20" font-size="12.2" fill="#1a1a1a" text-anchor="end" stroke="#1a1a1a" stroke-width="0.25" >2.5</text>
<line x1="409.20" y1="639.90" x2="415.10" y2="639.90" stroke="#333" stroke-width="1.2" />
<text x="405.80" y="644.20" font-size="12.2" fill="#1a1a1a" text-anchor="end" stroke="#1a1a1a" stroke-width="0.25" >0.5</text>
<line x1="464.00" y1="644.90" x2="464.00" y2="649.40" stroke="#333" stroke-width="1.2" />
<line x1="525.20" y1="644.90" x2="525.20" y2="649.40" stroke="#333" stroke-width="1.2" />
<line x1="586.40" y1="644.90" x2="586.40" y2="649.40" stroke="#333" stroke-width="1.2" />
<line x1="647.60" y1="644.90" x2="647.60" y2="649.40" stroke="#333" stroke-width="1.2" />
<text x="428" y="605.3" font-size="14.2" fill="#1a1a1a" stroke="#1a1a1a" stroke-width="0.25"><tspan font-style="italic">P</tspan> = 0.196</text>
<text x="659.00" y="608.20" font-size="15.4" fill="#1a1a1a" text-anchor="end" stroke="#1a1a1a" stroke-width="0.25" >Asia</text>
<text x="464.00" y="661.90" font-size="16.3" fill="#1a1a1a" text-anchor="middle" stroke="#1a1a1a" stroke-width="0.25" >2005</text>
<text x="525.20" y="661.90" font-size="16.3" fill="#1a1a1a" text-anchor="middle" stroke="#1a1a1a" stroke-width="0.25" >2010</text>
<text x="586.40" y="661.90" font-size="16.3" fill="#1a1a1a" text-anchor="middle" stroke="#1a1a1a" stroke-width="0.25" >2015</text>
<text x="647.60" y="661.90" font-size="16.3" fill="#1a1a1a" text-anchor="middle" stroke="#1a1a1a" stroke-width="0.25" >2020</text>
<text x="549.60" y="679.30" font-size="16.3" fill="#1a1a1a" text-anchor="middle" stroke="#1a1a1a" stroke-width="0.25" >Year</text>
<text x="381.00" y="554.60" font-size="15.8" fill="#1a1a1a" text-anchor="middle" transform="rotate(-90 381.00 554.60)" stroke="#1a1a1a" stroke-width="0.25" >LL (yrs)</text>
<text transform="translate(4.79,714.90) scale(0.9,1)" x="0" y="0" font-size="30.5" font-weight="bold" fill="#231815">F</text>
<defs><linearGradient id="fg1" x1="30.0" x2="125.0" y1="0" y2="0" gradientUnits="userSpaceOnUse"><stop offset="0" stop-color="#cfcfe8"/><stop offset="1" stop-color="#0a6650"/></linearGradient><linearGradient id="fg2" x1="30.0" x2="125.0" y1="0" y2="0" gradientUnits="userSpaceOnUse"><stop offset="0" stop-color="#cfcfe8"/><stop offset="1" stop-color="#4b2a1a"/></linearGradient><linearGradient id="fg3" x1="30.0" x2="125.0" y1="0" y2="0" gradientUnits="userSpaceOnUse"><stop offset="0" stop-color="#cfcfe8"/><stop offset="1" stop-color="#76c8a2"/></linearGradient><linearGradient id="fg4" x1="30.0" x2="125.0" y1="0" y2="0" gradientUnits="userSpaceOnUse"><stop offset="0" stop-color="#fad9cd"/><stop offset="1" stop-color="#0a6650"/></linearGradient><linearGradient id="fg5" x1="30.0" x2="125.0" y1="0" y2="0" gradientUnits="userSpaceOnUse"><stop offset="0" stop-color="#fad9cd"/><stop offset="1" stop-color="#4b2a1a"/></linearGradient><linearGradient id="fg6" x1="30.0" x2="125.0" y1="0" y2="0" gradientUnits="userSpaceOnUse"><stop offset="0" stop-color="#fad9cd"/><stop offset="1" stop-color="#76c8a2"/></linearGradient><linearGradient id="fg7" x1="30.0" x2="125.0" y1="0" y2="0" gradientUnits="userSpaceOnUse"><stop offset="0" stop-color="#a2d3dc"/><stop offset="1" stop-color="#0a6650"/></linearGradient><linearGradient id="fg8" x1="30.0" x2="125.0" y1="0" y2="0" gradientUnits="userSpaceOnUse"><stop offset="0" stop-color="#a2d3dc"/><stop offset="1" stop-color="#4b2a1a"/></linearGradient><linearGradient id="fg9" x1="30.0" x2="125.0" y1="0" y2="0" gradientUnits="userSpaceOnUse"><stop offset="0" stop-color="#a2d3dc"/><stop offset="1" stop-color="#76c8a2"/></linearGradient><linearGradient id="fg10" x1="149.8" x2="245.3" y1="0" y2="0" gradientUnits="userSpaceOnUse"><stop offset="0" stop-color="#0a6650"/><stop offset="1" stop-color="#0a6650"/></linearGradient><linearGradient id="fg11" x1="149.8" x2="245.3" y1="0" y2="0" gradientUnits="userSpaceOnUse"><stop offset="0" stop-color="#0a6650"/><stop offset="1" stop-color="#4b2a1a"/></linearGradient><linearGradient id="fg12" x1="149.8" x2="245.3" y1="0" y2="0" gradientUnits="userSpaceOnUse"><stop offset="0" stop-color="#0a6650"/><stop offset="1" stop-color="#76c8a2"/></linearGradient><linearGradient id="fg13" x1="149.8" x2="245.3" y1="0" y2="0" gradientUnits="userSpaceOnUse"><stop offset="0" stop-color="#4b2a1a"/><stop offset="1" stop-color="#0a6650"/></linearGradient><linearGradient id="fg14" x1="149.8" x2="245.3" y1="0" y2="0" gradientUnits="userSpaceOnUse"><stop offset="0" stop-color="#4b2a1a"/><stop offset="1" stop-color="#4b2a1a"/></linearGradient><linearGradient id="fg15" x1="149.8" x2="245.3" y1="0" y2="0" gradientUnits="userSpaceOnUse"><stop offset="0" stop-color="#4b2a1a"/><stop offset="1" stop-color="#76c8a2"/></linearGradient><linearGradient id="fg16" x1="149.8" x2="245.3" y1="0" y2="0" gradientUnits="userSpaceOnUse"><stop offset="0" stop-color="#76c8a2"/><stop offset="1" stop-color="#0a6650"/></linearGradient><linearGradient id="fg17" x1="149.8" x2="245.3" y1="0" y2="0" gradientUnits="userSpaceOnUse"><stop offset="0" stop-color="#76c8a2"/><stop offset="1" stop-color="#4b2a1a"/></linearGradient><linearGradient id="fg18" x1="149.8" x2="245.3" y1="0" y2="0" gradientUnits="userSpaceOnUse"><stop offset="0" stop-color="#76c8a2"/><stop offset="1" stop-color="#76c8a2"/></linearGradient><linearGradient id="fg19" x1="270.0" x2="364.9" y1="0" y2="0" gradientUnits="userSpaceOnUse"><stop offset="0" stop-color="#0a6650"/><stop offset="1" stop-color="#cfcfe8"/></linearGradient><linearGradient id="fg20" x1="270.0" x2="364.9" y1="0" y2="0" gradientUnits="userSpaceOnUse"><stop offset="0" stop-color="#0a6650"/><stop offset="1" stop-color="#fad9cd"/></linearGradient><linearGradient id="fg21" x1="270.0" x2="364.9" y1="0" y2="0" gradientUnits="userSpaceOnUse"><stop offset="0" stop-color="#0a6650"/><stop offset="1" stop-color="#a2d3dc"/></linearGradient><linearGradient id="fg22" x1="270.0" x2="364.9" y1="0" y2="0" gradientUnits="userSpaceOnUse"><stop offset="0" stop-color="#4b2a1a"/><stop offset="1" stop-color="#cfcfe8"/></linearGradient><linearGradient id="fg23" x1="270.0" x2="364.9" y1="0" y2="0" gradientUnits="userSpaceOnUse"><stop offset="0" stop-color="#4b2a1a"/><stop offset="1" stop-color="#fad9cd"/></linearGradient><linearGradient id="fg24" x1="270.0" x2="364.9" y1="0" y2="0" gradientUnits="userSpaceOnUse"><stop offset="0" stop-color="#4b2a1a"/><stop offset="1" stop-color="#a2d3dc"/></linearGradient><linearGradient id="fg25" x1="270.0" x2="364.9" y1="0" y2="0" gradientUnits="userSpaceOnUse"><stop offset="0" stop-color="#76c8a2"/><stop offset="1" stop-color="#cfcfe8"/></linearGradient><linearGradient id="fg26" x1="270.0" x2="364.9" y1="0" y2="0" gradientUnits="userSpaceOnUse"><stop offset="0" stop-color="#76c8a2"/><stop offset="1" stop-color="#fad9cd"/></linearGradient><linearGradient id="fg27" x1="270.0" x2="364.9" y1="0" y2="0" gradientUnits="userSpaceOnUse"><stop offset="0" stop-color="#76c8a2"/><stop offset="1" stop-color="#a2d3dc"/></linearGradient></defs>
<path d="M30.00,740.00 C77.50,740.00 77.50,740.00 125.00,740.00 L125.00,799.73 C77.50,799.73 77.50,800.20 30.00,800.20 Z" fill="url(#fg1)" fill-opacity="0.5"/>
<path d="M30.00,800.20 C77.50,800.20 77.50,824.30 125.00,824.30 L125.00,875.51 C77.50,875.51 77.50,851.64 30.00,851.64 Z" fill="url(#fg2)" fill-opacity="0.5"/>
<path d="M30.00,851.64 C77.50,851.64 77.50,914.20 125.00,914.20 L125.00,916.32 C77.50,916.32 77.50,853.80 30.00,853.80 Z" fill="url(#fg3)" fill-opacity="0.5"/>
<path d="M30.00,862.80 C77.50,862.80 77.50,799.73 125.00,799.73 L125.00,801.14 C77.50,801.14 77.50,864.22 30.00,864.22 Z" fill="url(#fg4)" fill-opacity="0.5"/>
<path d="M30.00,864.22 C77.50,864.22 77.50,875.51 125.00,875.51 L125.00,883.50 C77.50,883.50 77.50,872.24 30.00,872.24 Z" fill="url(#fg5)" fill-opacity="0.5"/>
<path d="M30.00,872.24 C77.50,872.24 77.50,916.32 125.00,916.32 L125.00,936.04 C77.50,936.04 77.50,892.40 30.00,892.40 Z" fill="url(#fg6)" fill-opacity="0.5"/>
<path d="M30.00,901.30 C77.50,901.30 77.50,801.14 125.00,801.14 L125.00,814.20 C77.50,814.20 77.50,914.47 30.00,914.47 Z" fill="url(#fg7)" fill-opacity="0.5"/>
<path d="M30.00,914.47 C77.50,914.47 77.50,883.50 125.00,883.50 L125.00,904.60 C77.50,904.60 77.50,935.66 30.00,935.66 Z" fill="url(#fg8)" fill-opacity="0.5"/>
<path d="M30.00,935.66 C77.50,935.66 77.50,936.04 125.00,936.04 L125.00,948.60 C77.50,948.60 77.50,948.50 30.00,948.50 Z" fill="url(#fg9)" fill-opacity="0.5"/>
<path d="M149.80,740.00 C197.55,740.00 197.55,740.00 245.30,740.00 L245.30,777.95 C197.55,777.95 197.55,778.06 149.80,778.06 Z" fill="url(#fg10)" fill-opacity="0.5"/>
<path d="M149.80,778.06 C197.55,778.06 197.55,799.20 245.30,799.20 L245.30,834.88 C197.55,834.88 197.55,813.38 149.80,813.38 Z" fill="url(#fg11)" fill-opacity="0.5"/>
<path d="M149.80,813.38 C197.55,813.38 197.55,914.90 245.30,914.90 L245.30,915.73 C197.55,915.73 197.55,814.20 149.80,814.20 Z" fill="url(#fg12)" fill-opacity="0.5"/>
<path d="M149.80,824.30 C197.55,824.30 197.55,777.95 245.30,777.95 L245.30,789.48 C197.55,789.48 197.55,835.86 149.80,835.86 Z" fill="url(#fg13)" fill-opacity="0.5"/>
<path d="M149.80,835.86 C197.55,835.86 197.55,834.88 245.30,834.88 L245.30,897.33 C197.55,897.33 197.55,897.69 149.80,897.69 Z" fill="url(#fg14)" fill-opacity="0.5"/>
<path d="M149.80,897.69 C197.55,897.69 197.55,915.73 245.30,915.73 L245.30,922.71 C197.55,922.71 197.55,904.60 149.80,904.60 Z" fill="url(#fg15)" fill-opacity="0.5"/>
<path d="M149.80,914.20 C197.55,914.20 197.55,789.48 245.30,789.48 L245.30,790.30 C197.55,790.30 197.55,915.03 149.80,915.03 Z" fill="url(#fg16)" fill-opacity="0.5"/>
<path d="M149.80,915.03 C197.55,915.03 197.55,897.33 245.30,897.33 L245.30,905.50 C197.55,905.50 197.55,923.11 149.80,923.11 Z" fill="url(#fg17)" fill-opacity="0.5"/>
<path d="M149.80,923.11 C197.55,923.11 197.55,922.71 245.30,922.71 L245.30,948.50 C197.55,948.50 197.55,948.60 149.80,948.60 Z" fill="url(#fg18)" fill-opacity="0.5"/>
<path d="M270.00,740.00 C317.45,740.00 317.45,740.00 364.90,740.00 L364.90,774.51 C317.45,774.51 317.45,774.51 270.00,774.51 Z" fill="url(#fg19)" fill-opacity="0.5"/>
<path d="M270.00,774.51 C317.45,774.51 317.45,862.50 364.90,862.50 L364.90,864.54 C317.45,864.54 317.45,776.57 270.00,776.57 Z" fill="url(#fg20)" fill-opacity="0.5"/>
<path d="M270.00,776.57 C317.45,776.57 317.45,901.40 364.90,901.40 L364.90,915.06 C317.45,915.06 317.45,790.30 270.00,790.30 Z" fill="url(#fg21)" fill-opacity="0.5"/>
<path d="M270.00,799.20 C317.45,799.20 317.45,774.51 364.90,774.51 L364.90,849.03 C317.45,849.03 317.45,873.72 270.00,873.72 Z" fill="url(#fg22)" fill-opacity="0.5"/>
<path d="M270.00,873.72 C317.45,873.72 317.45,864.54 364.90,864.54 L364.90,874.02 C317.45,874.02 317.45,883.28 270.00,883.28 Z" fill="url(#fg23)" fill-opacity="0.5"/>
<path d="M270.00,883.28 C317.45,883.28 317.45,915.06 364.90,915.06 L364.90,937.17 C317.45,937.17 317.45,905.50 270.00,905.50 Z" fill="url(#fg24)" fill-opacity="0.5"/>
<path d="M270.00,914.90 C317.45,914.90 317.45,849.03 364.90,849.03 L364.90,853.50 C317.45,853.50 317.45,919.37 270.00,919.37 Z" fill="url(#fg25)" fill-opacity="0.5"/>
<path d="M270.00,919.37 C317.45,919.37 317.45,874.02 364.90,874.02 L364.90,891.60 C317.45,891.60 317.45,937.11 270.00,937.11 Z" fill="url(#fg26)" fill-opacity="0.5"/>
<path d="M270.00,937.11 C317.45,937.11 317.45,937.17 364.90,937.17 L364.90,948.50 C317.45,948.50 317.45,948.50 270.00,948.50 Z" fill="url(#fg27)" fill-opacity="0.5"/>
<rect x="5.30" y="740.00" width="24.70" height="113.80" fill="#cfcfe8" stroke="none" stroke-width="1" />
<rect x="5.30" y="862.80" width="24.70" height="29.60" fill="#fad9cd" stroke="none" stroke-width="1" />
<rect x="5.30" y="901.30" width="24.70" height="47.20" fill="#a2d3dc" stroke="none" stroke-width="1" />
<rect x="364.90" y="740.00" width="24.50" height="113.50" fill="#cfcfe8" stroke="none" stroke-width="1" />
<rect x="364.90" y="862.50" width="24.50" height="29.10" fill="#fad9cd" stroke="none" stroke-width="1" />
<rect x="364.90" y="901.40" width="24.50" height="47.10" fill="#a2d3dc" stroke="none" stroke-width="1" />
<rect x="125.00" y="740.00" width="24.80" height="74.20" fill="#0a6650" stroke="none" stroke-width="1" />
<rect x="125.00" y="824.30" width="24.80" height="80.30" fill="#4b2a1a" stroke="none" stroke-width="1" />
<rect x="125.00" y="914.20" width="24.80" height="34.40" fill="#76c8a2" stroke="none" stroke-width="1" />
<rect x="245.30" y="740.00" width="24.70" height="50.30" fill="#0a6650" stroke="none" stroke-width="1" />
<rect x="245.30" y="799.20" width="24.70" height="106.30" fill="#4b2a1a" stroke="none" stroke-width="1" />
<rect x="245.30" y="914.90" width="24.70" height="33.60" fill="#76c8a2" stroke="none" stroke-width="1" />
<text x="136.20" y="720.60" font-size="13.2" fill="#111" text-anchor="middle" font-weight="bold" textLength="30.00" lengthAdjust="spacingAndGlyphs" >Initial</text>
<text x="137.50" y="735.20" font-size="9.4" fill="#111" text-anchor="middle" font-weight="bold" textLength="35.60" lengthAdjust="spacingAndGlyphs" style='font-family:"Liberation Serif", serif' >2001-2003</text>
<text x="254.00" y="721.20" font-size="13.2" fill="#111" text-anchor="middle" font-weight="bold" textLength="21.30" lengthAdjust="spacingAndGlyphs" >Last</text>
<text x="256.50" y="734.20" font-size="9.4" fill="#111" text-anchor="middle" font-weight="bold" textLength="37.00" lengthAdjust="spacingAndGlyphs" style='font-family:"Liberation Serif", serif' >2021-2023</text>
<text x="18.80" y="802.00" font-size="11.8" fill="#111" text-anchor="middle" font-weight="bold" textLength="41.50" lengthAdjust="spacingAndGlyphs" transform="rotate(-90 18.80 802.00)" >Amazon</text>
<text x="18.50" y="878.50" font-size="10.6" fill="#111" text-anchor="middle" font-weight="bold" textLength="27.50" lengthAdjust="spacingAndGlyphs" transform="rotate(-90 18.50 878.50)" >Congo</text>
<text x="18.80" y="923.80" font-size="11.8" fill="#111" text-anchor="middle" font-weight="bold" textLength="21.00" lengthAdjust="spacingAndGlyphs" transform="rotate(-90 18.80 923.80)" >Asia</text>
<text x="56.40" y="772.60" font-size="8.8" fill="#111" text-anchor="end" font-weight="bold" textLength="20.22" lengthAdjust="spacingAndGlyphs" >52.9%</text>
<text x="56.40" y="831.20" font-size="8.8" fill="#111" text-anchor="end" font-weight="bold" textLength="20.22" lengthAdjust="spacingAndGlyphs" >45.2%</text>
<text x="56.40" y="856.00" font-size="8.8" fill="#111" text-anchor="end" font-weight="bold" textLength="16.27" lengthAdjust="spacingAndGlyphs" >1.9%</text>
<text x="56.40" y="864.90" font-size="8.8" fill="#111" text-anchor="end" font-weight="bold" textLength="16.27" lengthAdjust="spacingAndGlyphs" >4.8%</text>
<text x="56.40" y="872.30" font-size="8.8" fill="#111" text-anchor="end" font-weight="bold" textLength="20.22" lengthAdjust="spacingAndGlyphs" >27.1%</text>
<text x="56.40" y="889.00" font-size="8.8" fill="#111" text-anchor="end" font-weight="bold" textLength="20.22" lengthAdjust="spacingAndGlyphs" >68.1%</text>
<text x="56.40" y="907.30" font-size="8.8" fill="#111" text-anchor="end" font-weight="bold" textLength="20.22" lengthAdjust="spacingAndGlyphs" >27.9%</text>
<text x="56.40" y="927.60" font-size="8.8" fill="#111" text-anchor="end" font-weight="bold" textLength="20.22" lengthAdjust="spacingAndGlyphs" >44.9%</text>
<text x="56.40" y="945.20" font-size="8.8" fill="#111" text-anchor="end" font-weight="bold" textLength="20.22" lengthAdjust="spacingAndGlyphs" >27.2%</text>
<text x="176.90" y="762.40" font-size="8.8" fill="#111" text-anchor="end" font-weight="bold" textLength="20.22" lengthAdjust="spacingAndGlyphs" >51.3%</text>
<text x="176.90" y="800.70" font-size="8.8" fill="#111" text-anchor="end" font-weight="bold" textLength="20.22" lengthAdjust="spacingAndGlyphs" >47.6%</text>
<text x="176.90" y="817.70" font-size="8.8" fill="#111" text-anchor="end" font-weight="bold" textLength="16.27" lengthAdjust="spacingAndGlyphs" >1.1%</text>
<text x="176.90" y="830.30" font-size="8.8" fill="#111" text-anchor="end" font-weight="bold" textLength="20.22" lengthAdjust="spacingAndGlyphs" >14.4%</text>
<text x="176.90" y="864.00" font-size="8.8" fill="#111" text-anchor="end" font-weight="bold" textLength="14.22" lengthAdjust="spacingAndGlyphs" >77%</text>
<text x="176.90" y="904.40" font-size="8.8" fill="#111" text-anchor="end" font-weight="bold" textLength="16.27" lengthAdjust="spacingAndGlyphs" >8.6%</text>
<text x="176.90" y="912.50" font-size="8.8" fill="#111" text-anchor="end" font-weight="bold" textLength="16.27" lengthAdjust="spacingAndGlyphs" >2.4%</text>
<text x="176.90" y="920.20" font-size="8.8" fill="#111" text-anchor="end" font-weight="bold" textLength="20.22" lengthAdjust="spacingAndGlyphs" >23.5%</text>
<text x="176.90" y="945.20" font-size="8.8" fill="#111" text-anchor="end" font-weight="bold" textLength="20.22" lengthAdjust="spacingAndGlyphs" >74.1%</text>
<text x="296.70" y="760.60" font-size="8.8" fill="#111" text-anchor="end" font-weight="bold" textLength="20.22" lengthAdjust="spacingAndGlyphs" >68.6%</text>
<text x="296.70" y="780.20" font-size="8.8" fill="#111" text-anchor="end" font-weight="bold" textLength="16.27" lengthAdjust="spacingAndGlyphs" >4.1%</text>
<text x="296.70" y="793.30" font-size="8.8" fill="#111" text-anchor="end" font-weight="bold" textLength="20.22" lengthAdjust="spacingAndGlyphs" >27.3%</text>
<text x="296.70" y="839.10" font-size="8.8" fill="#111" text-anchor="end" font-weight="bold" textLength="20.22" lengthAdjust="spacingAndGlyphs" >70.1%</text>
<text x="296.70" y="881.20" font-size="8.8" fill="#111" text-anchor="end" font-weight="bold" textLength="10.27" lengthAdjust="spacingAndGlyphs" >9%</text>
<text x="296.70" y="900.80" font-size="8.8" fill="#111" text-anchor="end" font-weight="bold" textLength="20.22" lengthAdjust="spacingAndGlyphs" >20.9%</text>
<text x="296.70" y="915.90" font-size="8.8" fill="#111" text-anchor="end" font-weight="bold" textLength="20.22" lengthAdjust="spacingAndGlyphs" >13.3%</text>
<text x="296.70" y="929.00" font-size="8.8" fill="#111" text-anchor="end" font-weight="bold" textLength="20.22" lengthAdjust="spacingAndGlyphs" >52.8%</text>
<text x="296.70" y="946.20" font-size="8.8" fill="#111" text-anchor="end" font-weight="bold" textLength="20.22" lengthAdjust="spacingAndGlyphs" >33.9%</text>
<text x="375.80" y="801.40" font-size="8.8" fill="#111" text-anchor="middle" font-weight="bold" textLength="20.22" lengthAdjust="spacingAndGlyphs" >59.6%</text>
<text x="375.80" y="881.10" font-size="8.8" fill="#111" text-anchor="middle" font-weight="bold" textLength="20.22" lengthAdjust="spacingAndGlyphs" >15.5%</text>
<text x="375.80" y="929.00" font-size="8.8" fill="#111" text-anchor="middle" font-weight="bold" textLength="20.22" lengthAdjust="spacingAndGlyphs" >24.9%</text>
<text x="132.20" y="752.70" font-size="9.4" fill="#efe38e" text-anchor="middle" font-weight="bold" textLength="18.80" lengthAdjust="spacingAndGlyphs" transform="rotate(-90 132.20 752.70)" >long</text>
<text x="135.90" y="811.70" font-size="8.8" fill="#efe38e" text-anchor="middle" font-weight="bold" textLength="19.82" lengthAdjust="spacingAndGlyphs" >39.2%</text>
<text x="132.20" y="848.95" font-size="9.4" fill="#efe38e" text-anchor="middle" font-weight="bold" textLength="40.30" lengthAdjust="spacingAndGlyphs" transform="rotate(-90 132.20 848.95)" >moderate</text>
<text x="135.90" y="901.30" font-size="8.8" fill="#efe38e" text-anchor="middle" font-weight="bold" textLength="19.82" lengthAdjust="spacingAndGlyphs" >42.3%</text>
<text x="132.20" y="926.65" font-size="9.4" fill="#efe38e" text-anchor="middle" font-weight="bold" textLength="22.10" lengthAdjust="spacingAndGlyphs" transform="rotate(-90 132.20 926.65)" >short</text>
<text x="135.90" y="947.10" font-size="8.8" fill="#efe38e" text-anchor="middle" font-weight="bold" textLength="19.82" lengthAdjust="spacingAndGlyphs" >18.5%</text>
<text x="252.40" y="752.75" font-size="9.4" fill="#efe38e" text-anchor="middle" font-weight="bold" textLength="18.30" lengthAdjust="spacingAndGlyphs" transform="rotate(-90 252.40 752.75)" >long</text>
<text x="256.20" y="787.80" font-size="8.8" fill="#efe38e" text-anchor="middle" font-weight="bold" textLength="19.82" lengthAdjust="spacingAndGlyphs" >26.7%</text>
<text x="252.40" y="825.15" font-size="9.4" fill="#efe38e" text-anchor="middle" font-weight="bold" textLength="40.10" lengthAdjust="spacingAndGlyphs" transform="rotate(-90 252.40 825.15)" >moderate</text>
<text x="256.20" y="902.30" font-size="8.8" fill="#efe38e" text-anchor="middle" font-weight="bold" textLength="19.82" lengthAdjust="spacingAndGlyphs" >55.6%</text>
<text x="252.40" y="926.90" font-size="9.4" fill="#efe38e" text-anchor="middle" font-weight="bold" textLength="22.20" lengthAdjust="spacingAndGlyphs" transform="rotate(-90 252.40 926.90)" >short</text>
<text x="256.20" y="947.10" font-size="8.8" fill="#efe38e" text-anchor="middle" font-weight="bold" textLength="19.82" lengthAdjust="spacingAndGlyphs" >17.7%</text>
<text transform="translate(443.47,715.10) scale(0.9,1)" x="0" y="0" font-size="30.5" font-weight="bold" fill="#231815">G</text>
<rect x="511.00" y="927.98" width="13.70" height="3.72" fill="#98d7bb" stroke="#444" stroke-width="0.9" />
<rect x="511.00" y="839.43" width="13.70" height="88.55" fill="#765c50" stroke="#444" stroke-width="0.9" />
<rect x="511.00" y="735.80" width="13.70" height="103.63" fill="#3e8a7a" stroke="#444" stroke-width="0.9" />
<rect x="527.40" y="923.86" width="13.60" height="7.84" fill="#98d7bb" stroke="#444" stroke-width="0.9" />
<rect x="527.40" y="795.35" width="13.60" height="128.51" fill="#765c50" stroke="#444" stroke-width="0.9" />
<rect x="527.40" y="735.80" width="13.60" height="59.55" fill="#3e8a7a" stroke="#444" stroke-width="0.9" />
<rect x="560.30" y="798.29" width="14.20" height="133.41" fill="#98d7bb" stroke="#444" stroke-width="0.9" />
<rect x="560.30" y="745.20" width="14.20" height="53.09" fill="#765c50" stroke="#444" stroke-width="0.9" />
<rect x="560.30" y="735.80" width="14.20" height="9.40" fill="#3e8a7a" stroke="#444" stroke-width="0.9" />
<rect x="577.00" y="813.38" width="13.80" height="118.32" fill="#98d7bb" stroke="#444" stroke-width="0.9" />
<rect x="577.00" y="749.12" width="13.80" height="64.26" fill="#765c50" stroke="#444" stroke-width="0.9" />
<rect x="577.00" y="735.80" width="13.80" height="13.32" fill="#3e8a7a" stroke="#444" stroke-width="0.9" />
<rect x="610.20" y="878.42" width="13.80" height="53.28" fill="#98d7bb" stroke="#444" stroke-width="0.9" />
<rect x="610.20" y="790.46" width="13.80" height="87.96" fill="#765c50" stroke="#444" stroke-width="0.9" />
<rect x="610.20" y="735.80" width="13.80" height="54.66" fill="#3e8a7a" stroke="#444" stroke-width="0.9" />
<rect x="627.30" y="884.49" width="13.40" height="47.21" fill="#98d7bb" stroke="#444" stroke-width="0.9" />
<rect x="627.30" y="792.42" width="13.40" height="92.07" fill="#765c50" stroke="#444" stroke-width="0.9" />
<rect x="627.30" y="735.80" width="13.40" height="56.62" fill="#3e8a7a" stroke="#444" stroke-width="0.9" />
<line x1="492.50" y1="735.80" x2="492.50" y2="931.70" stroke="#333" stroke-width="1.2" />
<line x1="492.50" y1="931.70" x2="658.00" y2="931.70" stroke="#333" stroke-width="1.2" />
<line x1="488.60" y1="735.80" x2="492.50" y2="735.80" stroke="#333" stroke-width="1.2" />
<text x="488.40" y="740.90" font-size="14.7" fill="#1a1a1a" text-anchor="end" stroke="#1a1a1a" stroke-width="0.25" >100</text>
<line x1="488.60" y1="833.75" x2="492.50" y2="833.75" stroke="#333" stroke-width="1.2" />
<text x="488.40" y="838.85" font-size="14.7" fill="#1a1a1a" text-anchor="end" stroke="#1a1a1a" stroke-width="0.25" >50</text>
<line x1="488.60" y1="931.70" x2="492.50" y2="931.70" stroke="#333" stroke-width="1.2" />
<text x="488.40" y="936.80" font-size="14.7" fill="#1a1a1a" text-anchor="end" stroke="#1a1a1a" stroke-width="0.25" >0</text>
<line x1="526.00" y1="931.70" x2="526.00" y2="936.00" stroke="#333" stroke-width="1.2" />
<line x1="575.60" y1="931.70" x2="575.60" y2="936.00" stroke="#333" stroke-width="1.2" />
<line x1="625.50" y1="931.70" x2="625.50" y2="936.00" stroke="#333" stroke-width="1.2" />
<text x="525.40" y="947.60" font-size="14.6" fill="#1a1a1a" text-anchor="middle" stroke="#1a1a1a" stroke-width="0.25" >Amazon</text>
<text x="577.80" y="947.60" font-size="14.6" fill="#1a1a1a" text-anchor="middle" stroke="#1a1a1a" stroke-width="0.25" >Congo</text>
<text x="625.30" y="947.60" font-size="14.6" fill="#1a1a1a" text-anchor="middle" stroke="#1a1a1a" stroke-width="0.25" >Asia</text>
<text x="456.50" y="833.50" font-size="14.6" fill="#1a1a1a" text-anchor="middle" transform="rotate(-90 456.50 833.50)" stroke="#1a1a1a" stroke-width="0.25" >Comulative percentage (%)</text>
</svg>
</body></html>
